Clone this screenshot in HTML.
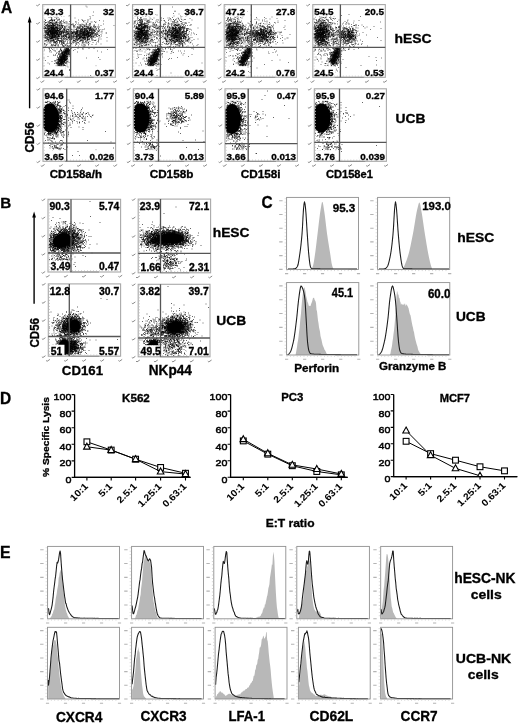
<!DOCTYPE html>
<html><head><meta charset="utf-8"><style>
html,body{margin:0;padding:0;background:#fff;width:520px;height:724px;overflow:hidden}
svg{display:block}
</style></head><body>
<svg width="520" height="724" viewBox="0 0 520 724" font-family="Liberation Sans, sans-serif" font-weight="bold">
<style>text{stroke:#000;stroke-width:0.32px}</style>
<defs><filter id="bl" x="-5%" y="-5%" width="110%" height="110%"><feGaussianBlur stdDeviation="0.3"/></filter><filter id="gb" filterUnits="userSpaceOnUse" x="0" y="0" width="520" height="724"><feGaussianBlur stdDeviation="0.35"/></filter></defs>
<rect width="520" height="724" fill="#fff"/>
<g filter="url(#gb)">
<text transform="translate(0.94 12.52) scale(0.940 1)" font-size="16.50" fill="#000">A</text>
<path d="M29.6 21V108.3" stroke="#000" stroke-width="1.4"/>
<path d="M27.7 22.4L29.6 16.2L31.5 22.4Z" fill="#000"/>
<text transform="translate(33.83 152.41) rotate(-90) scale(0.981 1)" font-size="12.03">CD56</text>
<path d="M85.5 6h1m-35 0.5h1m34 0.5h1m25.5 0.5h1m-70 0.5h1m8.5 0h1m5 0h1m-11.5 0.5h1m7 1.5h1m-9.5 1.5h1m2.5 0.5h1m1.5 0h1m37.5 0h1m-48.5 1h1m1.5 0h1m-3.5 0.5h1m5.5 0h1m-5.5 0.5h1m2 0h1m3.5 0h1m-1 0h1m3.5 0.5h1m-12 0.5h1m3.5 0h1m2 0.5h1m12.5 0h1m22 0h1m-40.5 0.5h1m0.5 0h1m1.5 0h1m10.5 0h1m-8.5 0.5h1m1.5 0h1m25 0h1m-40.5 0.5h1m5 0h1m-8.5 0.5h1m1.5 0h1m2.5 0h1m2 0h1m-7 0.5h1m22 0h1m14.5 0h1m-40 0.5h1m4 0h1m-1 0.5h1m0.5 0h1m0.5 0h1m29.5 0h1m-46 0.5h1m5.5 0h1m-0.5 0h1m2 0h1m2 0h1m0.5 0h1m21.5 0h1m-32 0.5h1m-1 0h1m-0.5 0h1m-0.5 0h1m0 0h1m0 0h1m-0.5 0h1m3 0h1m4.5 0h1m13.5 0h1m8 0h1m0 0h1m-44 0.5h1m-1 0h1m3 0h1m-0.5 0h1m-0.5 0h1m-0.5 0h1m0.5 0h1m-1 0h1m0.5 0h1m-0.5 0h1m-1 0h1m2 0h1m3 0h1m20 0h1m-0.5 0h1m1 0h1m13.5 0h1m-48.5 0.5h1m-0.5 0h1m6 0h1m1 0h1m1 0h1m39 0h1m-60 0.5h1m4 0h1m6.5 0h1m4 0h1m3 0h1m2.5 0h1m5.5 0h1m6.5 0h1m10 0h1m-51.5 0.5h1m2.5 0h1m0 0h1m-1 0h1m0.5 0h1m1 0h1m0 0h1m0.5 0h1m0 0h1m0 0h1m-1 0h1m2.5 0h1m-0.5 0h1m-1 0h1m-1 0h1m2 0h1m2.5 0h1m7.5 0h1m7.5 0h1m2.5 0h1m-0.5 0h1m2 0h1m0 0h1m3 0h1m-51.5 0.5h1m-0.5 0h1m-0.5 0h1m1.5 0h1m0.5 0h1m-1 0h1m-0.5 0h1m-0.5 0h1m3 0h1m0 0h1m-1 0h1m0.5 0h1m5.5 0h1m30 0h1m-51.5 0.5h1m-0.5 0h1m3 0h1m-0.5 0h1m-1 0h1m0 0h1m0 0h1m-0.5 0h1m0 0h1m-0.5 0h1m1 0h1m0 0h1m0 0h1m0.5 0h1m-1 0h1m0.5 0h1m-0.5 0h1m1.5 0h1m0 0h1m0 0h1m0 0h1m8.5 0h1m1 0h1m6.5 0h1m-38 0.5h1m-1 0h1m1 0h1m0.5 0h1m-1 0h1m-0.5 0h1m1 0h1m-1 0h1m4 0h1m1 0h1m23.5 0h1m2.5 0h1m-1 0h1m-46.5 0.5h1m2 0h1m3 0h1m0 0h1m0 0h1m0 0h1m-0.5 0h1m-0.5 0h1m0 0h1m-0.5 0h1m3 0h1m5 0h1m0.5 0h1m0 0h1m2.5 0h1m-1 0h1m8 0h1m7 0h1m-1 0h1m12.5 0h1m-60 0.5h1m2 0h1m-1 0h1m-0.5 0h1m1 0h1m1.5 0h1m-0.5 0h1m-1 0h1m-1 0h1m-0.5 0h1m1 0h1m0.5 0h1m-1 0h1m0 0h1m-1 0h1m1 0h1m10.5 0h1m-0.5 0h1m2.5 0h1m1.5 0h1m1 0h1m1 0h1m0 0h1m2.5 0h1m-41.5 0.5h1m-1 0h1m0 0h1m1 0h1m0 0h1m-0.5 0h1m1 0h1m1.5 0h1m1.5 0h1m1 0h1m1 0h1m-1 0h1m-0.5 0h1m9 0h1m0.5 0h1m5.5 0h1m-0.5 0h1m2 0h1m0 0h1m0 0h1m0 0h1m0.5 0h1m0 0h1m-0.5 0h1m0 0h1m2.5 0h1m-0.5 0h1m3 0h1m-53.5 0.5h1m-1 0h1m-0.5 0h1m0.5 0h1m0 0h1m-1 0h1m-1 0h1m-1 0h1m0 0h1m-0.5 0h1m0 0h1m-1 0h1m-1 0h1m-1 0h1m-0.5 0h1m-0.5 0h1m-0.5 0h1m-0.5 0h1m-1 0h1m-0.5 0h1m-1 0h1m-1 0h1m-0.5 0h1m-1 0h1m0 0h1m1 0h1m-0.5 0h1m0 0h1m-0.5 0h1m-1 0h1m0 0h1m0.5 0h1m-1 0h1m0.5 0h1m2.5 0h1m6 0h1m6 0h1m2.5 0h1m15.5 0h1m12 0h1m-71 0.5h1m0.5 0h1m0.5 0h1m-1 0h1m-0.5 0h1m-0.5 0h1m0 0h1m0.5 0h1m0 0h1m-1 0h1m-0.5 0h1m0 0h1m0 0h1m-1 0h1m0.5 0h1m-0.5 0h1m0 0h1m0.5 0h1m1.5 0h1m-0.5 0h1m-0.5 0h1m-1 0h1m-1 0h1m-0.5 0h1m1.5 0h1m3 0h1m3.5 0h1m0 0h1m-0.5 0h1m3 0h1m0 0h1m0 0h1m0 0h1m1 0h1m1 0h1m2.5 0h1m3 0h1m0 0h1m-51 0.5h1m1.5 0h1m0 0h1m-0.5 0h1m-0.5 0h1m-0.5 0h1m-0.5 0h1m-1 0h1m1 0h1m-0.5 0h1m-0.5 0h1m-1 0h1m1 0h1m0 0h1m0.5 0h1m1.5 0h1m1.5 0h1m1 0h1m0.5 0h1m3 0h1m3 0h1m2.5 0h1m1.5 0h1m1 0h1m-0.5 0h1m0.5 0h1m-0.5 0h1m-0.5 0h1m0 0h1m-0.5 0h1m0.5 0h1m2 0h1m-1 0h1m1.5 0h1m0.5 0h1m-51 0.5h1m2 0h1m-1 0h1m1 0h1m0 0h1m-1 0h1m-0.5 0h1m-0.5 0h1m0.5 0h1m-1 0h1m-1 0h1m-1 0h1m-0.5 0h1m0 0h1m0 0h1m-0.5 0h1m-0.5 0h1m0.5 0h1m0 0h1m-1 0h1m0 0h1m1 0h1m0.5 0h1m-0.5 0h1m0.5 0h1m1 0h1m0 0h1m3.5 0h1m2.5 0h1m0.5 0h1m0.5 0h1m-0.5 0h1m0.5 0h1m3.5 0h1m0 0h1m-1 0h1m-0.5 0h1m-0.5 0h1m-1 0h1m5.5 0h1m-0.5 0h1m-1 0h1m0.5 0h1m0 0h1m-0.5 0h1m0 0h1m-55.5 0.5h1m-0.5 0h1m1 0h1m-0.5 0h1m1 0h1m-0.5 0h1m-0.5 0h1m-1 0h1m-0.5 0h1m-1 0h1m-1 0h1m-0.5 0h1m-1 0h1m-0.5 0h1m-0.5 0h1m-1 0h1m-0.5 0h1m-0.5 0h1m0.5 0h1m-0.5 0h1m-1 0h1m-1 0h1m-0.5 0h1m-1 0h1m-1 0h1m0 0h1m-1 0h1m-0.5 0h1m1 0h1m0 0h1m0.5 0h1m-1 0h1m-1 0h1m1.5 0h1m3 0h1m5 0h1m2 0h1m-1 0h1m0.5 0h1m-0.5 0h1m1.5 0h1m-0.5 0h1m-1 0h1m3.5 0h1m0.5 0h1m0 0h1m-0.5 0h1m-1 0h1m-1 0h1m0 0h1m1.5 0h1m-51 0.5h1m-1 0h1m0.5 0h1m-0.5 0h1m-1 0h1m0 0h1m0.5 0h1m-1 0h1m0 0h1m-1 0h1m-0.5 0h1m0 0h1m-0.5 0h1m-1 0h1m-0.5 0h1m-0.5 0h1m-1 0h1m-1 0h1m-0.5 0h1m-0.5 0h1m0 0h1m-1 0h1m-0.5 0h1m-0.5 0h1m-1 0h1m0 0h1m-1 0h1m2.5 0h1m0 0h1m-0.5 0h1m2 0h1m0 0h1m3 0h1m3.5 0h1m2 0h1m-0.5 0h1m-0.5 0h1m0 0h1m3.5 0h1m0 0h1m0 0h1m0 0h1m1 0h1m-0.5 0h1m2.5 0h1m1 0h1m-51.5 0.5h1m0 0h1m-1 0h1m-0.5 0h1m0 0h1m0 0h1m0 0h1m-0.5 0h1m-0.5 0h1m-1 0h1m0 0h1m-0.5 0h1m-0.5 0h1m-0.5 0h1m-1 0h1m-0.5 0h1m-1 0h1m-0.5 0h1m-1 0h1m-1 0h1m-0.5 0h1m-1 0h1m-0.5 0h1m-1 0h1m-1 0h1m-0.5 0h1m-0.5 0h1m0.5 0h1m-0.5 0h1m-0.5 0h1m-1 0h1m-0.5 0h1m-0.5 0h1m-0.5 0h1m1 0h1m-0.5 0h1m1 0h1m0.5 0h1m10.5 0h1m1.5 0h1m-0.5 0h1m0.5 0h1m0 0h1m-1 0h1m-0.5 0h1m0.5 0h1m-0.5 0h1m-1 0h1m-0.5 0h1m0 0h1m-1 0h1m0 0h1m-0.5 0h1m0 0h1m-0.5 0h1m-0.5 0h1m-0.5 0h1m-0.5 0h1m-1 0h1m0 0h1m0.5 0h1m2 0h1m1.5 0h1m-54.5 0.5h1m1 0h1m-1 0h1m-0.5 0h1m-0.5 0h1m-0.5 0h1m-1 0h1m-1 0h1m-0.5 0h1m1 0h1m-1 0h1m-0.5 0h1m-1 0h1m-0.5 0h1m0 0h1m0 0h1m-1 0h1m-0.5 0h1m-0.5 0h1m-1 0h1m-1 0h1m-0.5 0h1m-0.5 0h1m0.5 0h1m-1 0h1m-0.5 0h1m0.5 0h1m-1 0h1m-0.5 0h1m-1 0h1m-0.5 0h1m-0.5 0h1m1 0h1m0 0h1m-0.5 0h1m1.5 0h1m-1 0h1m1 0h1m0 0h1m0 0h1m5 0h1m0.5 0h1m1 0h1m-0.5 0h1m-1 0h1m2 0h1m0.5 0h1m0 0h1m-0.5 0h1m0 0h1m0 0h1m-0.5 0h1m-1 0h1m0 0h1m-0.5 0h1m0 0h1m-0.5 0h1m0 0h1m2 0h1m-1 0h1m1 0h1m5 0h1m-57.5 0.5h1m-0.5 0h1m-0.5 0h1m-0.5 0h1m0 0h1m0 0h1m-1 0h1m-1 0h1m-1 0h1m-0.5 0h1m-0.5 0h1m-0.5 0h1m-0.5 0h1m-1 0h1m-0.5 0h1m-0.5 0h1m-1 0h1m0 0h1m1 0h1m1 0h1m-0.5 0h1m-0.5 0h1m2.5 0h1m-0.5 0h1m-1 0h1m1.5 0h1m0 0h1m-1 0h1m-0.5 0h1m2 0h1m0.5 0h1m1.5 0h1m0 0h1m-0.5 0h1m2.5 0h1m-0.5 0h1m-0.5 0h1m-0.5 0h1m-0.5 0h1m0 0h1m0 0h1m0.5 0h1m-0.5 0h1m1.5 0h1m0 0h1m0.5 0h1m-0.5 0h1m0 0h1m-0.5 0h1m-0.5 0h1m0 0h1m4 0h1m2 0h1m-59.5 0.5h1m1.5 0h1m-1 0h1m0.5 0h1m-0.5 0h1m-0.5 0h1m0 0h1m-0.5 0h1m-1 0h1m0 0h1m-1 0h1m-1 0h1m-0.5 0h1m-1 0h1m-0.5 0h1m-0.5 0h1m-1 0h1m0 0h1m0.5 0h1m-1 0h1m-0.5 0h1m-1 0h1m-0.5 0h1m-1 0h1m-0.5 0h1m-1 0h1m-1 0h1m0 0h1m0.5 0h1m-1 0h1m-1 0h1m1 0h1m0.5 0h1m-1 0h1m0 0h1m-0.5 0h1m-0.5 0h1m0 0h1m1.5 0h1m4.5 0h1m1 0h1m-1 0h1m1.5 0h1m1 0h1m0 0h1m-1 0h1m-1 0h1m-0.5 0h1m-1 0h1m0.5 0h1m-0.5 0h1m-1 0h1m-1 0h1m-0.5 0h1m-0.5 0h1m-1 0h1m-1 0h1m0 0h1m0 0h1m0.5 0h1m0 0h1m-1 0h1m-0.5 0h1m-1 0h1m-1 0h1m0 0h1m-1 0h1m-0.5 0h1m2.5 0h1m-0.5 0h1m2 0h1m2 0h1m-58 0.5h1m-1 0h1m0 0h1m0 0h1m-0.5 0h1m-1 0h1m0.5 0h1m-0.5 0h1m-0.5 0h1m-1 0h1m-1 0h1m-0.5 0h1m-1 0h1m-0.5 0h1m-0.5 0h1m-0.5 0h1m-1 0h1m0 0h1m-1 0h1m-0.5 0h1m-0.5 0h1m-1 0h1m-0.5 0h1m-0.5 0h1m-1 0h1m-1 0h1m-0.5 0h1m-1 0h1m-0.5 0h1m-0.5 0h1m-0.5 0h1m-1 0h1m-0.5 0h1m-1 0h1m-0.5 0h1m-1 0h1m-1 0h1m-1 0h1m-0.5 0h1m-1 0h1m-0.5 0h1m-1 0h1m2 0h1m1.5 0h1m0.5 0h1m2 0h1m0.5 0h1m6 0h1m-1 0h1m0 0h1m0 0h1m0 0h1m-1 0h1m0.5 0h1m-1 0h1m0 0h1m0.5 0h1m0.5 0h1m0 0h1m-0.5 0h1m-1 0h1m-0.5 0h1m0.5 0h1m-1 0h1m-1 0h1m-0.5 0h1m0.5 0h1m-0.5 0h1m-0.5 0h1m-0.5 0h1m-0.5 0h1m-0.5 0h1m-0.5 0h1m-1 0h1m2.5 0h1m0.5 0h1m-55 0.5h1m0 0h1m-1 0h1m-0.5 0h1m0 0h1m-0.5 0h1m-1 0h1m-0.5 0h1m-0.5 0h1m-0.5 0h1m-1 0h1m-0.5 0h1m-1 0h1m0 0h1m-0.5 0h1m-1 0h1m-0.5 0h1m-1 0h1m-0.5 0h1m-1 0h1m-1 0h1m-0.5 0h1m-1 0h1m0 0h1m-0.5 0h1m-0.5 0h1m0 0h1m-1 0h1m-0.5 0h1m-1 0h1m-0.5 0h1m-1 0h1m0 0h1m-1 0h1m-0.5 0h1m-1 0h1m0 0h1m-1 0h1m-1 0h1m1.5 0h1m-0.5 0h1m-1 0h1m0.5 0h1m1 0h1m-1 0h1m-0.5 0h1m0.5 0h1m1.5 0h1m1 0h1m-0.5 0h1m2.5 0h1m-1 0h1m-1 0h1m-0.5 0h1m-0.5 0h1m0 0h1m0.5 0h1m-1 0h1m-1 0h1m0 0h1m1.5 0h1m-1 0h1m0 0h1m-1 0h1m0 0h1m-1 0h1m-0.5 0h1m-1 0h1m-0.5 0h1m1.5 0h1m3.5 0h1m-0.5 0h1m-0.5 0h1m2 0h1m-54 0.5h1m-0.5 0h1m1.5 0h1m-1 0h1m0.5 0h1m-1 0h1m-1 0h1m-0.5 0h1m-1 0h1m-0.5 0h1m-1 0h1m-1 0h1m-1 0h1m-0.5 0h1m-1 0h1m-0.5 0h1m-1 0h1m-0.5 0h1m-0.5 0h1m-1 0h1m-1 0h1m0 0h1m-0.5 0h1m-0.5 0h1m-0.5 0h1m-0.5 0h1m-0.5 0h1m-1 0h1m-1 0h1m-0.5 0h1m-1 0h1m-0.5 0h1m0 0h1m0 0h1m0 0h1m-1 0h1m-0.5 0h1m-0.5 0h1m-0.5 0h1m-0.5 0h1m0 0h1m-0.5 0h1m0.5 0h1m0.5 0h1m-0.5 0h1m-0.5 0h1m-0.5 0h1m0.5 0h1m1 0h1m-1 0h1m1.5 0h1m0 0h1m0.5 0h1m-1 0h1m-0.5 0h1m-0.5 0h1m-1 0h1m-0.5 0h1m0 0h1m0 0h1m-0.5 0h1m-0.5 0h1m-0.5 0h1m-0.5 0h1m-1 0h1m-1 0h1m-0.5 0h1m0 0h1m-0.5 0h1m-1 0h1m-1 0h1m-0.5 0h1m-1 0h1m-0.5 0h1m0 0h1m0 0h1m-1 0h1m-1 0h1m-0.5 0h1m-0.5 0h1m0 0h1m1.5 0h1m-0.5 0h1m-0.5 0h1m0.5 0h1m0.5 0h1m1.5 0h1m-0.5 0h1m-0.5 0h1m2 0h1m-58.5 0.5h1m0 0h1m-0.5 0h1m-0.5 0h1m-1 0h1m-1 0h1m0 0h1m0 0h1m-1 0h1m-1 0h1m-0.5 0h1m0 0h1m-1 0h1m-0.5 0h1m-0.5 0h1m0 0h1m-1 0h1m-1 0h1m-1 0h1m-0.5 0h1m-1 0h1m-0.5 0h1m-1 0h1m-0.5 0h1m-1 0h1m-0.5 0h1m-1 0h1m-1 0h1m-0.5 0h1m-1 0h1m-1 0h1m-0.5 0h1m-1 0h1m-1 0h1m-0.5 0h1m-1 0h1m-0.5 0h1m-0.5 0h1m0 0h1m0 0h1m0.5 0h1m-0.5 0h1m0 0h1m-0.5 0h1m-1 0h1m-1 0h1m-0.5 0h1m0.5 0h1m-0.5 0h1m-1 0h1m0.5 0h1m-1 0h1m-1 0h1m0 0h1m0 0h1m-1 0h1m0 0h1m2 0h1m-1 0h1m0.5 0h1m-0.5 0h1m-0.5 0h1m-0.5 0h1m-0.5 0h1m0 0h1m0.5 0h1m0.5 0h1m-1 0h1m-0.5 0h1m0 0h1m-1 0h1m-0.5 0h1m0 0h1m0.5 0h1m-0.5 0h1m-1 0h1m-1 0h1m-0.5 0h1m0 0h1m-1 0h1m0 0h1m-0.5 0h1m-1 0h1m-1 0h1m-0.5 0h1m-0.5 0h1m-1 0h1m-0.5 0h1m-0.5 0h1m-0.5 0h1m-1 0h1m0.5 0h1m-0.5 0h1m0 0h1m0.5 0h1m5.5 0h1m-57 0.5h1m0 0h1m0 0h1m-0.5 0h1m-1 0h1m-0.5 0h1m-0.5 0h1m-0.5 0h1m-0.5 0h1m0 0h1m-1 0h1m-1 0h1m-0.5 0h1m-1 0h1m-0.5 0h1m-0.5 0h1m-0.5 0h1m-1 0h1m-1 0h1m-0.5 0h1m-1 0h1m0 0h1m-1 0h1m-0.5 0h1m-1 0h1m0 0h1m-1 0h1m-1 0h1m-0.5 0h1m-1 0h1m-0.5 0h1m-0.5 0h1m-0.5 0h1m-1 0h1m-1 0h1m-1 0h1m0.5 0h1m-0.5 0h1m-1 0h1m-0.5 0h1m-1 0h1m0.5 0h1m0.5 0h1m-0.5 0h1m-1 0h1m-0.5 0h1m0 0h1m0 0h1m0 0h1m-1 0h1m0.5 0h1m1 0h1m0.5 0h1m-0.5 0h1m-1 0h1m-1 0h1m0 0h1m-0.5 0h1m0 0h1m-1 0h1m0.5 0h1m-0.5 0h1m-0.5 0h1m-0.5 0h1m0 0h1m0.5 0h1m-0.5 0h1m0 0h1m0 0h1m-1 0h1m-1 0h1m-1 0h1m-1 0h1m-0.5 0h1m-1 0h1m-0.5 0h1m0.5 0h1m-0.5 0h1m0 0h1m-0.5 0h1m-0.5 0h1m-0.5 0h1m-1 0h1m-0.5 0h1m-0.5 0h1m0 0h1m-0.5 0h1m-1 0h1m-0.5 0h1m0.5 0h1m-0.5 0h1m2 0h1m0 0h1m-53 0.5h1m-0.5 0h1m-0.5 0h1m1 0h1m-1 0h1m-1 0h1m-0.5 0h1m0.5 0h1m-1 0h1m-1 0h1m-1 0h1m-0.5 0h1m-1 0h1m-0.5 0h1m-0.5 0h1m-1 0h1m-1 0h1m-0.5 0h1m-1 0h1m-1 0h1m-0.5 0h1m-1 0h1m-0.5 0h1m-1 0h1m-0.5 0h1m-1 0h1m-1 0h1m-1 0h1m-0.5 0h1m-1 0h1m0 0h1m-0.5 0h1m-0.5 0h1m-0.5 0h1m-1 0h1m-0.5 0h1m-1 0h1m-0.5 0h1m-1 0h1m0 0h1m-1 0h1m0 0h1m0.5 0h1m-1 0h1m-1 0h1m-1 0h1m-0.5 0h1m-1 0h1m0.5 0h1m-1 0h1m1 0h1m1.5 0h1m0.5 0h1m-0.5 0h1m0 0h1m-1 0h1m-0.5 0h1m0 0h1m0 0h1m0.5 0h1m0 0h1m-1 0h1m-1 0h1m-1 0h1m-0.5 0h1m-0.5 0h1m-1 0h1m-1 0h1m-0.5 0h1m-1 0h1m0.5 0h1m-0.5 0h1m-0.5 0h1m-0.5 0h1m-0.5 0h1m0 0h1m-1 0h1m0.5 0h1m-1 0h1m-1 0h1m-0.5 0h1m-1 0h1m-0.5 0h1m-1 0h1m-1 0h1m-1 0h1m-0.5 0h1m-0.5 0h1m0 0h1m0 0h1m-1 0h1m-0.5 0h1m-0.5 0h1m-1 0h1m-0.5 0h1m-1 0h1m-0.5 0h1m-1 0h1m0 0h1m-1 0h1m-0.5 0h1m0 0h1m-0.5 0h1m-1 0h1m-1 0h1m-0.5 0h1m-0.5 0h1m-0.5 0h1m-1 0h1m-0.5 0h1m3.5 0h1m2 0h1m3 0h1m-0.5 0h1m-61.5 0.5h1m0 0h1m-0.5 0h1m-1 0h1m0 0h1m-1 0h1m1 0h1m-0.5 0h1m-1 0h1m-0.5 0h1m-1 0h1m-0.5 0h1m-1 0h1m-1 0h1m-0.5 0h1m-1 0h1m-1 0h1m-0.5 0h1m-1 0h1m-1 0h1m-0.5 0h1m-1 0h1m-1 0h1m-0.5 0h1m-1 0h1m-0.5 0h1m-1 0h1m-0.5 0h1m-0.5 0h1m-1 0h1m-0.5 0h1m-0.5 0h1m-1 0h1m-0.5 0h1m-1 0h1m-0.5 0h1m0.5 0h1m-0.5 0h1m0 0h1m-0.5 0h1m1 0h1m2 0h1m0 0h1m-1 0h1m-0.5 0h1m0 0h1m-1 0h1m-1 0h1m1 0h1m0 0h1m-0.5 0h1m-0.5 0h1m-1 0h1m-0.5 0h1m1 0h1m-0.5 0h1m-1 0h1m-0.5 0h1m-1 0h1m-0.5 0h1m0 0h1m1 0h1m0 0h1m-0.5 0h1m-1 0h1m-0.5 0h1m-0.5 0h1m-1 0h1m-0.5 0h1m0 0h1m-1 0h1m0.5 0h1m-0.5 0h1m-0.5 0h1m-0.5 0h1m-0.5 0h1m-1 0h1m-1 0h1m-1 0h1m-1 0h1m-0.5 0h1m-0.5 0h1m-0.5 0h1m-1 0h1m0 0h1m1 0h1m-1 0h1m-0.5 0h1m0.5 0h1m1 0h1m1 0h1m-54.5 0.5h1m2 0h1m-0.5 0h1m0 0h1m-1 0h1m-0.5 0h1m-0.5 0h1m-0.5 0h1m-0.5 0h1m-1 0h1m0 0h1m-0.5 0h1m-1 0h1m-0.5 0h1m0 0h1m-1 0h1m-1 0h1m-1 0h1m0.5 0h1m-0.5 0h1m-0.5 0h1m-0.5 0h1m-1 0h1m0 0h1m-1 0h1m-0.5 0h1m-1 0h1m0 0h1m-0.5 0h1m0.5 0h1m-1 0h1m-0.5 0h1m-1 0h1m1 0h1m-0.5 0h1m2.5 0h1m0.5 0h1m-0.5 0h1m0 0h1m-0.5 0h1m-0.5 0h1m1 0h1m-0.5 0h1m0.5 0h1m0.5 0h1m0 0h1m-1 0h1m-0.5 0h1m0 0h1m-0.5 0h1m-0.5 0h1m-1 0h1m-1 0h1m0 0h1m-0.5 0h1m-0.5 0h1m-0.5 0h1m-0.5 0h1m-0.5 0h1m-1 0h1m-1 0h1m0 0h1m0 0h1m0 0h1m-1 0h1m-1 0h1m-0.5 0h1m-0.5 0h1m-1 0h1m-0.5 0h1m-1 0h1m1 0h1m-0.5 0h1m-1 0h1m0 0h1m-0.5 0h1m-1 0h1m1 0h1m0 0h1m-0.5 0h1m-0.5 0h1m-1 0h1m-50.5 0.5h1m-1 0h1m-1 0h1m-1 0h1m-0.5 0h1m0 0h1m-1 0h1m-0.5 0h1m0 0h1m0 0h1m-1 0h1m-0.5 0h1m0 0h1m-1 0h1m-0.5 0h1m-1 0h1m0 0h1m-0.5 0h1m-1 0h1m1 0h1m-1 0h1m-0.5 0h1m-1 0h1m-0.5 0h1m-0.5 0h1m-1 0h1m-0.5 0h1m-1 0h1m-0.5 0h1m-0.5 0h1m-0.5 0h1m-0.5 0h1m-1 0h1m-0.5 0h1m2.5 0h1m0.5 0h1m-1 0h1m-1 0h1m-0.5 0h1m0 0h1m-0.5 0h1m0.5 0h1m1 0h1m1.5 0h1m0 0h1m-0.5 0h1m-0.5 0h1m0.5 0h1m0 0h1m-0.5 0h1m-0.5 0h1m-0.5 0h1m-1 0h1m-1 0h1m0.5 0h1m0 0h1m0 0h1m-1 0h1m-0.5 0h1m-1 0h1m-0.5 0h1m-1 0h1m-0.5 0h1m-0.5 0h1m-1 0h1m0 0h1m-1 0h1m-1 0h1m-0.5 0h1m-0.5 0h1m-1 0h1m-0.5 0h1m-1 0h1m-0.5 0h1m-0.5 0h1m0.5 0h1m-1 0h1m-1 0h1m0.5 0h1m-1 0h1m1 0h1m0.5 0h1m1 0h1m-0.5 0h1m2 0h1m-57 0.5h1m-1 0h1m-0.5 0h1m-1 0h1m1 0h1m-0.5 0h1m-1 0h1m0.5 0h1m-0.5 0h1m-1 0h1m-1 0h1m0.5 0h1m-1 0h1m-1 0h1m-1 0h1m-0.5 0h1m-1 0h1m-0.5 0h1m-1 0h1m0.5 0h1m-1 0h1m-1 0h1m-0.5 0h1m-1 0h1m-0.5 0h1m-1 0h1m-1 0h1m0 0h1m-1 0h1m0 0h1m0.5 0h1m0 0h1m1.5 0h1m0.5 0h1m1.5 0h1m-0.5 0h1m0.5 0h1m-0.5 0h1m-0.5 0h1m0.5 0h1m1 0h1m-0.5 0h1m0 0h1m1 0h1m-0.5 0h1m-1 0h1m-1 0h1m-0.5 0h1m-0.5 0h1m-0.5 0h1m-1 0h1m-0.5 0h1m-1 0h1m2.5 0h1m-0.5 0h1m-1 0h1m-1 0h1m-0.5 0h1m0 0h1m-1 0h1m-0.5 0h1m-0.5 0h1m-1 0h1m-0.5 0h1m0 0h1m-1 0h1m-1 0h1m-1 0h1m0.5 0h1m-0.5 0h1m-0.5 0h1m-1 0h1m-1 0h1m-0.5 0h1m0.5 0h1m-1 0h1m-1 0h1m2 0h1m1.5 0h1m-53.5 0.5h1m0.5 0h1m1.5 0h1m-0.5 0h1m0 0h1m-0.5 0h1m1 0h1m-0.5 0h1m-1 0h1m-1 0h1m-0.5 0h1m-1 0h1m-1 0h1m0 0h1m-0.5 0h1m0 0h1m-1 0h1m-0.5 0h1m0.5 0h1m-0.5 0h1m-0.5 0h1m-1 0h1m-1 0h1m0.5 0h1m1 0h1m1 0h1m-0.5 0h1m-0.5 0h1m-0.5 0h1m3.5 0h1m0 0h1m-1 0h1m-0.5 0h1m1.5 0h1m1 0h1m0 0h1m0 0h1m-0.5 0h1m0 0h1m-1 0h1m0 0h1m0.5 0h1m0 0h1m-1 0h1m-1 0h1m0 0h1m-1 0h1m-1 0h1m-0.5 0h1m-1 0h1m-1 0h1m-0.5 0h1m-1 0h1m0 0h1m-1 0h1m-1 0h1m1 0h1m-1 0h1m-0.5 0h1m-1 0h1m0.5 0h1m-1 0h1m-1 0h1m-1 0h1m0 0h1m3 0h1m-1 0h1m0.5 0h1m1 0h1m0 0h1m-1 0h1m-56.5 0.5h1m0.5 0h1m0.5 0h1m0 0h1m0 0h1m-0.5 0h1m-1 0h1m-0.5 0h1m-0.5 0h1m-1 0h1m-0.5 0h1m0.5 0h1m-1 0h1m-1 0h1m-1 0h1m-0.5 0h1m-1 0h1m-0.5 0h1m-0.5 0h1m-0.5 0h1m0 0h1m-1 0h1m-1 0h1m-0.5 0h1m-0.5 0h1m-1 0h1m1 0h1m-1 0h1m-1 0h1m-0.5 0h1m-1 0h1m0 0h1m-1 0h1m0.5 0h1m-1 0h1m-0.5 0h1m0 0h1m-0.5 0h1m-1 0h1m-1 0h1m0.5 0h1m-1 0h1m-0.5 0h1m-0.5 0h1m-0.5 0h1m-1 0h1m1.5 0h1m-0.5 0h1m-1 0h1m0 0h1m-1 0h1m0 0h1m0.5 0h1m-0.5 0h1m-1 0h1m0 0h1m1.5 0h1m-1 0h1m-0.5 0h1m0 0h1m0 0h1m-0.5 0h1m-0.5 0h1m-1 0h1m-0.5 0h1m-1 0h1m-1 0h1m-0.5 0h1m-1 0h1m0 0h1m0.5 0h1m0.5 0h1m0 0h1m-1 0h1m-0.5 0h1m-1 0h1m-0.5 0h1m-0.5 0h1m-1 0h1m0 0h1m-0.5 0h1m-1 0h1m-0.5 0h1m-1 0h1m-1 0h1m-0.5 0h1m0 0h1m0 0h1m-1 0h1m-0.5 0h1m-0.5 0h1m-0.5 0h1m6.5 0h1m-57.5 0.5h1m1 0h1m-1 0h1m2 0h1m-1 0h1m0 0h1m-0.5 0h1m-0.5 0h1m-1 0h1m-0.5 0h1m-1 0h1m-0.5 0h1m-1 0h1m0 0h1m0 0h1m-1 0h1m-1 0h1m-0.5 0h1m0.5 0h1m-1 0h1m-0.5 0h1m-0.5 0h1m-0.5 0h1m-1 0h1m-0.5 0h1m-1 0h1m-0.5 0h1m1.5 0h1m0 0h1m-1 0h1m-0.5 0h1m0.5 0h1m-0.5 0h1m0 0h1m-0.5 0h1m0.5 0h1m0 0h1m-0.5 0h1m0.5 0h1m-0.5 0h1m0 0h1m-1 0h1m0 0h1m0 0h1m-0.5 0h1m-0.5 0h1m-0.5 0h1m-1 0h1m-0.5 0h1m-1 0h1m0 0h1m-0.5 0h1m1.5 0h1m-0.5 0h1m1 0h1m-0.5 0h1m-0.5 0h1m-1 0h1m0.5 0h1m0.5 0h1m-0.5 0h1m-0.5 0h1m-1 0h1m-1 0h1m-0.5 0h1m0 0h1m0.5 0h1m-1 0h1m-0.5 0h1m0.5 0h1m2 0h1m0 0h1m-53.5 0.5h1m0.5 0h1m1.5 0h1m-1 0h1m0 0h1m0 0h1m-0.5 0h1m-0.5 0h1m-1 0h1m-0.5 0h1m-0.5 0h1m-1 0h1m0 0h1m-1 0h1m-1 0h1m-0.5 0h1m-1 0h1m0 0h1m-0.5 0h1m1 0h1m0 0h1m-0.5 0h1m1 0h1m-1 0h1m2.5 0h1m3.5 0h1m1.5 0h1m1.5 0h1m0.5 0h1m-0.5 0h1m-1 0h1m0 0h1m1 0h1m-1 0h1m-1 0h1m-1 0h1m-1 0h1m-0.5 0h1m-1 0h1m-0.5 0h1m-1 0h1m-0.5 0h1m-0.5 0h1m-0.5 0h1m-1 0h1m-1 0h1m-1 0h1m0 0h1m0 0h1m0 0h1m-0.5 0h1m0.5 0h1m-0.5 0h1m-1 0h1m-0.5 0h1m-0.5 0h1m-1 0h1m-0.5 0h1m-1 0h1m1.5 0h1m1 0h1m0.5 0h1m3 0h1m0 0h1m-57 0.5h1m0 0h1m-0.5 0h1m-0.5 0h1m0 0h1m-0.5 0h1m-0.5 0h1m0 0h1m0 0h1m-1 0h1m0 0h1m-0.5 0h1m-1 0h1m-0.5 0h1m-0.5 0h1m-0.5 0h1m-1 0h1m-1 0h1m-1 0h1m0 0h1m-1 0h1m-0.5 0h1m-0.5 0h1m0 0h1m-1 0h1m-1 0h1m-0.5 0h1m0 0h1m-1 0h1m4 0h1m1 0h1m1 0h1m-0.5 0h1m0.5 0h1m-1 0h1m-0.5 0h1m-0.5 0h1m1 0h1m0.5 0h1m-1 0h1m2 0h1m-0.5 0h1m-0.5 0h1m0 0h1m0.5 0h1m-0.5 0h1m-1 0h1m-1 0h1m-0.5 0h1m0.5 0h1m-0.5 0h1m-0.5 0h1m-0.5 0h1m-0.5 0h1m-1 0h1m-0.5 0h1m-1 0h1m-1 0h1m-0.5 0h1m-0.5 0h1m0.5 0h1m-0.5 0h1m-1 0h1m-1 0h1m2 0h1m-0.5 0h1m1 0h1m1 0h1m11 0h1m-62 0.5h1m1.5 0h1m-0.5 0h1m0 0h1m0.5 0h1m-1 0h1m-0.5 0h1m-0.5 0h1m-1 0h1m-0.5 0h1m0 0h1m0 0h1m2.5 0h1m1 0h1m0 0h1m1 0h1m-0.5 0h1m1.5 0h1m0.5 0h1m-1 0h1m-0.5 0h1m-0.5 0h1m-1 0h1m-0.5 0h1m0 0h1m-1 0h1m0 0h1m-0.5 0h1m0.5 0h1m-1 0h1m3 0h1m0.5 0h1m-0.5 0h1m0 0h1m0 0h1m0 0h1m-1 0h1m-1 0h1m-0.5 0h1m-0.5 0h1m-1 0h1m-0.5 0h1m-1 0h1m-1 0h1m-0.5 0h1m-0.5 0h1m-0.5 0h1m-0.5 0h1m-0.5 0h1m0 0h1m2.5 0h1m0 0h1m-1 0h1m-48 0.5h1m0 0h1m0 0h1m-1 0h1m-0.5 0h1m1.5 0h1m-1 0h1m-0.5 0h1m-1 0h1m-0.5 0h1m-1 0h1m-1 0h1m-0.5 0h1m-1 0h1m-1 0h1m-0.5 0h1m-0.5 0h1m-0.5 0h1m0 0h1m0.5 0h1m0.5 0h1m-1 0h1m0 0h1m-1 0h1m-0.5 0h1m0 0h1m0 0h1m0 0h1m1 0h1m0.5 0h1m-0.5 0h1m5.5 0h1m-1 0h1m1.5 0h1m0.5 0h1m-0.5 0h1m-0.5 0h1m0 0h1m-0.5 0h1m-0.5 0h1m-0.5 0h1m-1 0h1m0 0h1m2 0h1m0.5 0h1m-0.5 0h1m1 0h1m-0.5 0h1m-1 0h1m0.5 0h1m-41 0.5h1m0 0h1m-0.5 0h1m-1 0h1m-0.5 0h1m-0.5 0h1m2.5 0h1m-0.5 0h1m0 0h1m-1 0h1m-0.5 0h1m-0.5 0h1m-0.5 0h1m2 0h1m-1 0h1m0 0h1m0 0h1m0 0h1m1 0h1m0.5 0h1m0.5 0h1m0 0h1m0 0h1m1.5 0h1m0.5 0h1m-0.5 0h1m1.5 0h1m-1 0h1m-1 0h1m-1 0h1m-0.5 0h1m0 0h1m1 0h1m-1 0h1m0.5 0h1m-0.5 0h1m-1 0h1m0.5 0h1m3 0h1m1 0h1m-0.5 0h1m-1 0h1m5.5 0h1m-0.5 0h1m1 0h1m-54.5 0.5h1m-0.5 0h1m-1 0h1m-0.5 0h1m3.5 0h1m-0.5 0h1m-0.5 0h1m0.5 0h1m-0.5 0h1m0.5 0h1m3.5 0h1m2 0h1m0.5 0h1m0 0h1m1 0h1m1 0h1m-0.5 0h1m3 0h1m0 0h1m-1 0h1m-0.5 0h1m1.5 0h1m1 0h1m1.5 0h1m-0.5 0h1m0 0h1m0.5 0h1m-0.5 0h1m-1 0h1m-0.5 0h1m0 0h1m2.5 0h1m-47.5 0.5h1m-0.5 0h1m0 0h1m-0.5 0h1m-0.5 0h1m0 0h1m-1 0h1m2 0h1m-1 0h1m0 0h1m-0.5 0h1m3 0h1m4 0h1m-0.5 0h1m1 0h1m6.5 0h1m-0.5 0h1m0.5 0h1m-0.5 0h1m-1 0h1m0 0h1m3 0h1m-1 0h1m0 0h1m0 0h1m1 0h1m-0.5 0h1m1 0h1m-1 0h1m-1 0h1m0.5 0h1m6 0h1m-51 0.5h1m-1 0h1m1.5 0h1m1.5 0h1m-1 0h1m0 0h1m0 0h1m-1 0h1m-1 0h1m-0.5 0h1m-1 0h1m3.5 0h1m-1 0h1m-1 0h1m-0.5 0h1m0 0h1m0 0h1m-0.5 0h1m-0.5 0h1m0 0h1m5.5 0h1m3.5 0h1m-0.5 0h1m-1 0h1m-0.5 0h1m-0.5 0h1m1 0h1m-0.5 0h1m-0.5 0h1m1 0h1m-0.5 0h1m-0.5 0h1m-0.5 0h1m0 0h1m0 0h1m2.5 0h1m4 0h1m0 0h1m0.5 0h1m-0.5 0h1m-0.5 0h1m2 0h1m-54.5 0.5h1m-1 0h1m-1 0h1m1 0h1m2 0h1m0 0h1m-0.5 0h1m-0.5 0h1m1.5 0h1m1 0h1m-0.5 0h1m-1 0h1m1.5 0h1m-1 0h1m-0.5 0h1m0 0h1m1 0h1m-1 0h1m1.5 0h1m1 0h1m4.5 0h1m-0.5 0h1m-0.5 0h1m5.5 0h1m0.5 0h1m3.5 0h1m19.5 0h1m-59.5 0.5h1m1 0h1m1.5 0h1m0 0h1m0 0h1m0 0h1m-0.5 0h1m-0.5 0h1m2.5 0h1m0 0h1m-1 0h1m0.5 0h1m0 0h1m0 0h1m9 0h1m-0.5 0h1m3 0h1m-0.5 0h1m2.5 0h1m1 0h1m-0.5 0h1m1 0h1m1 0h1m7 0h1m-52 0.5h1m1.5 0h1m0.5 0h1m1.5 0h1m0 0h1m-1 0h1m0 0h1m0 0h1m2 0h1m-1 0h1m0.5 0h1m-0.5 0h1m1 0h1m3 0h1m1 0h1m0 0h1m1 0h1m1.5 0h1m0.5 0h1m-0.5 0h1m4.5 0h1m-1 0h1m15 0h1m-45.5 0.5h1m-1 0h1m0 0h1m-0.5 0h1m-1 0h1m1 0h1m4 0h1m0 0h1m8.5 0h1m0 0h1m2.5 0h1m0 0h1m3.5 0h1m0 0h1m1 0h1m1.5 0h1m-1 0h1m3.5 0h1m-46 0.5h1m1 0h1m-1 0h1m0 0h1m3 0h1m1 0h1m1.5 0h1m-1 0h1m1 0h1m-1 0h1m-0.5 0h1m0 0h1m0 0h1m-0.5 0h1m2 0h1m1.5 0h1m2.5 0h1m1.5 0h1m1.5 0h1m2.5 0h1m2 0h1m0.5 0h1m0 0h1m8 0h1m-53 0.5h1m-0.5 0h1m10 0h1m0 0h1m5.5 0h1m-1 0h1m2.5 0h1m1 0h1m1.5 0h1m3.5 0h1m6 0h1m5 0h1m-36.5 0.5h1m0.5 0h1m0 0h1m4.5 0h1m0 0h1m1 0h1m1.5 0h1m4 0h1m3.5 0h1m-0.5 0h1m1.5 0h1m20.5 0h1m-57.5 0.5h1m0.5 0h1m0 0h1m3.5 0h1m-0.5 0h1m3 0h1m1 0h1m2 0h1m0.5 0h1m12.5 0h1m7 0h1m3.5 0h1m2.5 0h1m3 0h1m-44 0.5h1m-0.5 0h1m1.5 0h1m1.5 0h1m6 0h1m-1 0h1m0 0h1m14 0h1m0.5 0h1m0.5 0h1m0 0h1m2 0h1m-43 0.5h1m4 0h1m0 0h1m1 0h1m-0.5 0h1m-0.5 0h1m1.5 0h1m3.5 0h1m0 0h1m0.5 0h1m1.5 0h1m-0.5 0h1m1 0h1m4.5 0h1m-31.5 0.5h1m5 0h1m3.5 0h1m1.5 0h1m3.5 0h1m6 0h1m8 0h1m3.5 0h1m1 0h1m-22.5 0.5h1m-0.5 0h1m-1 0h1m2 0h1m0 0h1m0 0h1m14 0h1m-39.5 0.5h1m6 0h1m5 0h1m9 0h1m-5 0.5h1m1.5 0h1m0 0h1m3.5 0h1m13 0h1m-27 0.5h1m-0.5 0h1m2.5 0h1m1 0h1m0.5 0h1m-1 0h1m-1 0h1m-1 0h1m-0.5 0h1m1.5 0h1m-0.5 0h1m10 0h1m-34.5 0.5h1m1.5 0h1m12.5 0h1m0 0h1m-1 0h1m-0.5 0h1m-0.5 0h1m-0.5 0h1m0 0h1m8.5 0h1m10 0h1m4 0h1m-45.5 0.5h1m-1 0h1m3.5 0h1m2 0h1m2.5 0h1m5 0h1m-0.5 0h1m0 0h1m-1 0h1m-0.5 0h1m0.5 0h1m11.5 0h1m0 0h1m-32 0.5h1m7 0h1m-1 0h1m3 0h1m0.5 0h1m0 0h1m-1 0h1m0 0h1m-1 0h1m-0.5 0h1m-0.5 0h1m5 0h1m31.5 0h1m-64 0.5h1m16 0h1m1.5 0h1m-1 0h1m0 0h1m-0.5 0h1m-1 0h1m-1 0h1m-1 0h1m-0.5 0h1m-0.5 0h1m-1 0h1m-0.5 0h1m-1 0h1m-1 0h1m-0.5 0h1m-1 0h1m-1 0h1m-0.5 0h1m-0.5 0h1m-1 0h1m0 0h1m-1 0h1m-0.5 0h1m-20.5 0.5h1m2.5 0h1m5 0h1m0.5 0h1m-1 0h1m2.5 0h1m-0.5 0h1m-1 0h1m0 0h1m-0.5 0h1m-1 0h1m-1 0h1m-0.5 0h1m-0.5 0h1m-1 0h1m-1 0h1m0 0h1m-1 0h1m-0.5 0h1m0 0h1m2 0h1m-25 0.5h1m4.5 0h1m-0.5 0h1m3.5 0h1m0 0h1m-0.5 0h1m0.5 0h1m-0.5 0h1m-0.5 0h1m-0.5 0h1m0 0h1m-1 0h1m-0.5 0h1m-0.5 0h1m-1 0h1m-1 0h1m-0.5 0h1m-0.5 0h1m-1 0h1m-0.5 0h1m-1 0h1m-1 0h1m-1 0h1m-0.5 0h1m0 0h1m27 0h1m-40 0.5h1m0 0h1m1.5 0h1m0.5 0h1m0 0h1m-0.5 0h1m-1 0h1m-0.5 0h1m-1 0h1m-0.5 0h1m-0.5 0h1m-1 0h1m-0.5 0h1m-0.5 0h1m-1 0h1m-0.5 0h1m-1 0h1m-1 0h1m0.5 0h1m-20.5 0.5h1m0.5 0h1m7 0h1m1.5 0h1m-0.5 0h1m-0.5 0h1m-0.5 0h1m-0.5 0h1m-0.5 0h1m-1 0h1m-0.5 0h1m-1 0h1m-0.5 0h1m-1 0h1m-1 0h1m-1 0h1m-0.5 0h1m-0.5 0h1m-1 0h1m-1 0h1m-0.5 0h1m0 0h1m-0.5 0h1m-1 0h1m-1 0h1m-1 0h1m-0.5 0h1m-0.5 0h1m7 0h1m23 0h1m-45.5 0.5h1m4 0h1m-1 0h1m-0.5 0h1m-0.5 0h1m-1 0h1m0 0h1m-0.5 0h1m-0.5 0h1m-0.5 0h1m-1 0h1m-0.5 0h1m-1 0h1m-0.5 0h1m-0.5 0h1m-1 0h1m-1 0h1m-0.5 0h1m0.5 0h1m0 0h1m-12 0.5h1m-1 0h1m1.5 0h1m-0.5 0h1m0 0h1m-1 0h1m-1 0h1m-0.5 0h1m0 0h1m-1 0h1m-1 0h1m-0.5 0h1m-1 0h1m-1 0h1m-1 0h1m-0.5 0h1m-1 0h1m0 0h1m-0.5 0h1m-1 0h1m0 0h1m0 0h1m-1 0h1m-13.5 0.5h1m1.5 0h1m0.5 0h1m0 0h1m-0.5 0h1m-1 0h1m-0.5 0h1m-1 0h1m-1 0h1m-0.5 0h1m0.5 0h1m-1 0h1m-0.5 0h1m-1 0h1m-0.5 0h1m0 0h1m-1 0h1m-0.5 0h1m0 0h1m-1 0h1m-0.5 0h1m-1 0h1m0 0h1m-12 0.5h1m2 0h1m1 0h1m-1 0h1m-0.5 0h1m0 0h1m0 0h1m-0.5 0h1m-1 0h1m-1 0h1m-0.5 0h1m-1 0h1m-1 0h1m0 0h1m1 0h1m-0.5 0h1m-12.5 0.5h1m-1 0h1m0.5 0h1m-0.5 0h1m0 0h1m-0.5 0h1m-1 0h1m-0.5 0h1m-1 0h1m-0.5 0h1m-1 0h1m-1 0h1m-0.5 0h1m-1 0h1m-1 0h1m-1 0h1m-0.5 0h1m1 0h1m0 0h1m0 0h1m-0.5 0h1m-0.5 0h1m-17 0.5h1m1 0h1m-1 0h1m3 0h1m0.5 0h1m0 0h1m-0.5 0h1m-1 0h1m-0.5 0h1m-1 0h1m-0.5 0h1m-1 0h1m-1 0h1m-1 0h1m-0.5 0h1m-1 0h1m-0.5 0h1m-1 0h1m-1 0h1m-1 0h1m-0.5 0h1m-1 0h1m-1 0h1m-1 0h1m-0.5 0h1m-1 0h1m-0.5 0h1m-1 0h1m-1 0h1m0 0h1m-0.5 0h1m-0.5 0h1m-1 0h1m0.5 0h1m-16.5 0.5h1m5 0h1m0.5 0h1m-0.5 0h1m-0.5 0h1m-1 0h1m-1 0h1m-0.5 0h1m-0.5 0h1m-1 0h1m-1 0h1m-1 0h1m-0.5 0h1m-1 0h1m-1 0h1m-1 0h1m-1 0h1m-0.5 0h1m-0.5 0h1m-1 0h1m-0.5 0h1m-1 0h1m-1 0h1m-0.5 0h1m-1 0h1m-1 0h1m3.5 0h1m-14 0.5h1m-1 0h1m1.5 0h1m-1 0h1m-0.5 0h1m-1 0h1m-0.5 0h1m1 0h1m-1 0h1m-0.5 0h1m-1 0h1m-1 0h1m-0.5 0h1m-1 0h1m-0.5 0h1m-1 0h1m-0.5 0h1m-1 0h1m-1 0h1m-1 0h1m-1 0h1m-1 0h1m0 0h1m-1 0h1m0.5 0h1m0.5 0h1m-22 0.5h1m10.5 0h1m-0.5 0h1m-1 0h1m0 0h1m-0.5 0h1m-0.5 0h1m-1 0h1m-1 0h1m-0.5 0h1m-0.5 0h1m-1 0h1m-1 0h1m-1 0h1m-1 0h1m-0.5 0h1m-1 0h1m-1 0h1m-0.5 0h1m-1 0h1m-1 0h1m-0.5 0h1m-1 0h1m-1 0h1m0.5 0h1m-1 0h1m-1 0h1m-1 0h1m-1 0h1m-0.5 0h1m-0.5 0h1m-0.5 0h1m-1 0h1m1.5 0h1m-11.5 0.5h1m0 0h1m0 0h1m-1 0h1m-0.5 0h1m-1 0h1m-0.5 0h1m-0.5 0h1m-1 0h1m-1 0h1m-1 0h1m-1 0h1m-1 0h1m-1 0h1m-0.5 0h1m-1 0h1m-1 0h1m-0.5 0h1m-1 0h1m-1 0h1m-0.5 0h1m-1 0h1m-1 0h1m-1 0h1m-1 0h1m0 0h1m0 0h1m-0.5 0h1m0 0h1m-11.5 0.5h1m0 0h1m-0.5 0h1m-0.5 0h1m0 0h1m-1 0h1m-1 0h1m-0.5 0h1m-0.5 0h1m-1 0h1m-1 0h1m-0.5 0h1m-1 0h1m-0.5 0h1m-1 0h1m-0.5 0h1m-0.5 0h1m-1 0h1m-1 0h1m-0.5 0h1m-1 0h1m-1 0h1m-0.5 0h1m-1 0h1m-1 0h1m-1 0h1m-1 0h1m-0.5 0h1m-0.5 0h1m-0.5 0h1m-0.5 0h1m-0.5 0h1m-1 0h1m30.5 0h1m-55.5 0.5h1m16 0h1m-1 0h1m-1 0h1m-1 0h1m-0.5 0h1m-1 0h1m-0.5 0h1m-1 0h1m-1 0h1m-0.5 0h1m-0.5 0h1m-1 0h1m-1 0h1m-1 0h1m-0.5 0h1m-1 0h1m-1 0h1m-1 0h1m-0.5 0h1m-1 0h1m-0.5 0h1m-1 0h1m-0.5 0h1m-1 0h1m-1 0h1m-0.5 0h1m-1 0h1m-0.5 0h1m19.5 0h1m-29 0.5h1m-0.5 0h1m-1 0h1m-1 0h1m0 0h1m-0.5 0h1m0 0h1m-1 0h1m-1 0h1m-1 0h1m-0.5 0h1m-1 0h1m-0.5 0h1m-0.5 0h1m-1 0h1m-1 0h1m-0.5 0h1m-1 0h1m-1 0h1m-0.5 0h1m-0.5 0h1m-1 0h1m-1 0h1m-0.5 0h1m-1 0h1m0.5 0h1m-1 0h1m0 0h1m-1 0h1m-11.5 0.5h1m0.5 0h1m0 0h1m0 0h1m-1 0h1m-0.5 0h1m-1 0h1m-1 0h1m-0.5 0h1m-1 0h1m-1 0h1m-1 0h1m-1 0h1m-0.5 0h1m-1 0h1m-1 0h1m0 0h1m-1 0h1m-0.5 0h1m-1 0h1m-0.5 0h1m-1 0h1m-1 0h1m-1 0h1m-0.5 0h1m-1 0h1m0 0h1m-1 0h1m-0.5 0h1m-1 0h1m0.5 0h1m-11 0.5h1m-0.5 0h1m-0.5 0h1m-1 0h1m-0.5 0h1m-1 0h1m-0.5 0h1m-0.5 0h1m-1 0h1m-0.5 0h1m-1 0h1m-1 0h1m-0.5 0h1m-1 0h1m-0.5 0h1m-1 0h1m-1 0h1m-1 0h1m-1 0h1m-1 0h1m-0.5 0h1m-1 0h1m-0.5 0h1m-1 0h1m-0.5 0h1m-1 0h1m-1 0h1m-1 0h1m-1 0h1m-0.5 0h1m-0.5 0h1m-1 0h1m-0.5 0h1m-1 0h1m-0.5 0h1m-1 0h1m-0.5 0h1m-1 0h1m-0.5 0h1m-1 0h1m-0.5 0h1m-1 0h1m-1 0h1m-0.5 0h1m32 0h1m-44.5 0.5h1m1 0h1m-0.5 0h1m-1 0h1m-0.5 0h1m-0.5 0h1m-1 0h1m-0.5 0h1m-0.5 0h1m0 0h1m-0.5 0h1m-1 0h1m-1 0h1m-1 0h1m0.5 0h1m-0.5 0h1m-1 0h1m-1 0h1m-1 0h1m-1 0h1m-0.5 0h1m-1 0h1m-0.5 0h1m-0.5 0h1m1 0h1m-23.5 0.5h1m8.5 0h1m2 0h1m0 0h1m-1 0h1m-0.5 0h1m-1 0h1m-1 0h1m-1 0h1m-1 0h1m-0.5 0h1m-1 0h1m-0.5 0h1m-0.5 0h1m-1 0h1m-1 0h1m-0.5 0h1m-1 0h1m-1 0h1m-1 0h1m-0.5 0h1m-1 0h1m-1 0h1m-1 0h1m-0.5 0h1m-1 0h1m-1 0h1m-0.5 0h1m-1 0h1m-1 0h1m0 0h1m-1 0h1m-0.5 0h1m-0.5 0h1m-1 0h1m-1 0h1m-0.5 0h1m-0.5 0h1m-1 0h1m-12 0.5h1m-1 0h1m0 0h1m0.5 0h1m0 0h1m0 0h1m-0.5 0h1m-1 0h1m-0.5 0h1m-1 0h1m-0.5 0h1m-1 0h1m-1 0h1m-0.5 0h1m-0.5 0h1m-1 0h1m-0.5 0h1m-1 0h1m-1 0h1m-1 0h1m-0.5 0h1m-1 0h1m-1 0h1m1.5 0h1m0.5 0h1m-16 0.5h1m5 0h1m-1 0h1m-0.5 0h1m0 0h1m-1 0h1m-1 0h1m-0.5 0h1m0 0h1m-1 0h1m-0.5 0h1m-1 0h1m-1 0h1m-1 0h1m-0.5 0h1m-1 0h1m-0.5 0h1m-1 0h1m-0.5 0h1m-1 0h1m-1 0h1m-0.5 0h1m-0.5 0h1m-1 0h1m-0.5 0h1m-1 0h1m-1 0h1m-1 0h1m1.5 0h1m-1 0h1m0 0h1m-10.5 0.5h1m-0.5 0h1m0 0h1m-0.5 0h1m-1 0h1m-0.5 0h1m-1 0h1m-0.5 0h1m-1 0h1m-1 0h1m-1 0h1m-1 0h1m-1 0h1m-0.5 0h1m-1 0h1m-1 0h1m-0.5 0h1m-0.5 0h1m-1 0h1m-0.5 0h1m-0.5 0h1m-0.5 0h1m0.5 0h1m-11 0.5h1m-0.5 0h1m0 0h1m-0.5 0h1m-1 0h1m-0.5 0h1m0.5 0h1m0 0h1m-0.5 0h1m-1 0h1m-0.5 0h1m-1 0h1m-1 0h1m-1 0h1m-0.5 0h1m-1 0h1m-0.5 0h1m0 0h1m-0.5 0h1m-0.5 0h1m-1 0h1m1 0h1m1 0h1m-22 0.5h1m8 0h1m0 0h1m-0.5 0h1m-1 0h1m-0.5 0h1m-1 0h1m-1 0h1m0 0h1m-0.5 0h1m-1 0h1m-1 0h1m-1 0h1m-1 0h1m-0.5 0h1m0.5 0h1m-0.5 0h1m-1 0h1m-0.5 0h1m-1 0h1m1.5 0h1m-1 0h1m-0.5 0h1m-13 0.5h1m0.5 0h1m0 0h1m-1 0h1m0 0h1m-0.5 0h1m0 0h1m-1 0h1m0 0h1m-0.5 0h1m-1 0h1m-1 0h1m-0.5 0h1m-1 0h1m-1 0h1m-0.5 0h1m-0.5 0h1m-0.5 0h1m-1 0h1m-0.5 0h1m1 0h1m-17 0.5h1m6.5 0h1m-0.5 0h1m-1 0h1m0.5 0h1m-1 0h1m-0.5 0h1m-1 0h1m-1 0h1m-1 0h1m-0.5 0h1m0 0h1m-0.5 0h1m-0.5 0h1m0 0h1m-0.5 0h1m-0.5 0h1m-0.5 0h1m1.5 0h1m-9.5 0.5h1m-0.5 0h1m0.5 0h1m-0.5 0h1m-0.5 0h1m-1 0h1m-1 0h1m-1 0h1m-0.5 0h1m0 0h1m-6 0.5h1m0 0h1m-1 0h1m0 0h1m-1 0h1m-1 0h1m-0.5 0h1m0.5 0h1m-1 0h1m0 0h1m0 0h1m-1 0h1m-1 0h1m-6.5 0.5h1m-0.5 0h1m-0.5 0h1m-0.5 0h1m0.5 0h1m2 0h1m-0.5 0h1m-1 0h1m-22 0.5h1m11 0h1m0 0h1m-0.5 0h1m-0.5 0h1m-0.5 0h1m0.5 0h1m0 0h1m-0.5 0h1m-0.5 0h1m0 0h1m-0.5 0h1m-1 0h1m1 0h1m0.5 0h1m28 0h1m-37 0.5h1m-1 0h1m0 0h1m0 0h1m-2.5 0.5h1m0 0h1m-0.5 0h1m5 0h1m-23 0.5h1m6 0h1m0.5 0h1m1 0h1m2 0h1m2.5 0h1m-4 0.5h1m4 0h1m-16.5 0.5h1m13 0h1m0 0h1m-0.5 0.5h1m-12 0.5h1m14.5 0h1m-19.5 1h1m-0.5 0h1m3.5 0h1m0.5 0h1m3 0h1m7 0h1m-8 1h1m-14 0.5h1m2 0h1m3.5 0h1m48.5 0h1m-7.5 0.5h1m-43.5 1h1m-13.5 0.5h1m2 1h1m0.5 0h1m-6 0.5h1m6 0h1m5 0h1m32 0h1m21 0.5h1" stroke="#000" stroke-opacity="0.5" stroke-width="1" fill="none" filter="url(#bl)"/>
<rect x="43.5" y="5.2" width="22.16" height="11.4" fill="#fff"/>
<rect x="100.89" y="5.2" width="13.71" height="11.4" fill="#fff"/>
<rect x="43.5" y="66.22" width="22.16" height="10.48" fill="#fff"/>
<rect x="92.64" y="66.22" width="21.96" height="10.48" fill="#fff"/>
<rect x="42.7" y="4.6" width="72.7" height="72.7" fill="none" stroke="#a8a8a8" stroke-width="1.1"/>
<path d="M43.9 5.6V77.3M42.7 76.1H114.4" stroke="#c8c8c8" stroke-width="1" stroke-dasharray="1 2" fill="none"/>
<path d="M64.7 77.3H93.7" stroke="#8a8a8a" stroke-width="1" fill="none"/>
<path d="M70.6 4.6V77.3M42.7 47.3H115.4" stroke="#555" stroke-width="1.3" fill="none"/>
<text transform="translate(44.2 14.6) scale(1.02 1)" font-size="9.7" text-anchor="start">43.3</text>
<text transform="translate(114.1 14.6) scale(1.02 1)" font-size="9.7" text-anchor="end">32</text>
<text transform="translate(44.2 75.6) scale(1.02 1)" font-size="9.7" text-anchor="start">24.4</text>
<text transform="translate(114.1 75.6) scale(1.02 1)" font-size="9.7" text-anchor="end">0.37</text>
<path d="M36.3 77.9l1 0.7l2.6-1.8M36.3 59.73l1 0.7l2.6-1.8M36.3 41.55l1 0.7l2.6-1.8M36.3 23.37l1 0.7l2.6-1.8M36.3 5.2l1 0.7l2.6-1.8M40.5 81.6l1 0.8l2.8-1.9M58.67 81.6l1 0.8l2.8-1.9M76.85 81.6l1 0.8l2.8-1.9M95.03 81.6l1 0.8l2.8-1.9M113.2 81.6l1 0.8l2.8-1.9" stroke="#8a8a8a" stroke-width="1.0" fill="none"/>
<path d="M145.5 6h1m0.5 0h1m24 1h1m-38.5 1h1m2.5 2h1m13.5 0h1m-20.5 0.5h1m8 0h1m-1.5 0.5h1m32 0h1m-25.5 0.5h1m23.5 0h1m-35.5 1h1m1 0.5h1m6 0h1m1.5 0h1m20.5 0.5h1m-33 0.5h1m10 0h1m25.5 0h1m-24.5 0.5h1m-22 0.5h1m8 0h1m12.5 0h1m-14.5 0.5h1m-8.5 0.5h1m37 0h1m5.5 0h1m4 0h1m-51.5 0.5h1m1.5 0h1m-0.5 0h1m4 0h1m1.5 0h1m-0.5 0h1m2 0h1m32 0h1m3 0h1m-49.5 1h1m2 0h1m-0.5 0h1m30.5 0h1m-32 0.5h1m7.5 0h1m3 0h1m6.5 0h1m5.5 0h1m0.5 0h1m7.5 0h1m2 0h1m-44 0.5h1m1.5 0h1m22 0h1m6 0h1m7 0h1m10.5 0h1m-53.5 0.5h1m5.5 0h1m-1 0h1m0.5 0h1m0 0h1m3.5 0h1m24.5 0h1m-38 0.5h1m-0.5 0h1m0.5 0h1m-1 0h1m10 0h1m3.5 0h1m11 0h1m1 0h1m1.5 0h1m-1 0h1m1 0h1m2.5 0h1m1.5 0h1m2 0h1m0 0h1m-47 0.5h1m-1 0h1m-0.5 0h1m-0.5 0h1m1 0h1m-1 0h1m4.5 0h1m0.5 0h1m8 0h1m1.5 0h1m21 0h1m8 0h1m-57 0.5h1m1 0h1m-0.5 0h1m1 0h1m3.5 0h1m1.5 0h1m0 0h1m11.5 0h1m2 0h1m-0.5 0h1m3 0h1m5 0h1m-0.5 0h1m3.5 0h1m-45.5 0.5h1m4 0h1m0 0h1m-0.5 0h1m-1 0h1m-0.5 0h1m-0.5 0h1m3 0h1m1.5 0h1m6 0h1m0 0h1m13 0h1m5 0h1m-43 0.5h1m-1 0h1m6.5 0h1m3.5 0h1m-0.5 0h1m0.5 0h1m15 0h1m7 0h1m0.5 0h1m2 0h1m2 0h1m-0.5 0h1m-0.5 0h1m-48 0.5h1m2 0h1m1.5 0h1m-1 0h1m-0.5 0h1m-0.5 0h1m0.5 0h1m-1 0h1m4.5 0h1m1 0h1m0 0h1m5.5 0h1m1.5 0h1m11.5 0h1m-0.5 0h1m0 0h1m3 0h1m-39.5 0.5h1m0.5 0h1m0 0h1m5 0h1m0 0h1m-1 0h1m3.5 0h1m1 0h1m2.5 0h1m6 0h1m8 0h1m0 0h1m6 0h1m1 0h1m3 0h1m-56 0.5h1m-0.5 0h1m0 0h1m1.5 0h1m1 0h1m-0.5 0h1m0 0h1m-1 0h1m2 0h1m-1 0h1m0.5 0h1m0 0h1m4.5 0h1m12 0h1m2 0h1m-1 0h1m4.5 0h1m-1 0h1m1.5 0h1m0 0h1m3.5 0h1m2.5 0h1m0 0h1m-50 0.5h1m2.5 0h1m-1 0h1m0 0h1m1 0h1m-0.5 0h1m0.5 0h1m-1 0h1m1 0h1m20 0h1m2 0h1m8.5 0h1m3.5 0h1m-53 0.5h1m2.5 0h1m3 0h1m-1 0h1m-0.5 0h1m-0.5 0h1m-1 0h1m0 0h1m1 0h1m0.5 0h1m5.5 0h1m-0.5 0h1m0 0h1m8 0h1m-0.5 0h1m2.5 0h1m2 0h1m-0.5 0h1m0.5 0h1m1 0h1m2.5 0h1m0.5 0h1m1.5 0h1m1 0h1m-49 0.5h1m1 0h1m-0.5 0h1m-0.5 0h1m0.5 0h1m-1 0h1m-1 0h1m-0.5 0h1m0 0h1m0 0h1m-0.5 0h1m-1 0h1m3.5 0h1m3.5 0h1m0.5 0h1m1 0h1m6 0h1m1 0h1m2.5 0h1m2 0h1m2 0h1m-0.5 0h1m-1 0h1m1.5 0h1m-0.5 0h1m0 0h1m2.5 0h1m0 0h1m6 0h1m-53.5 0.5h1m-1 0h1m0 0h1m-0.5 0h1m-0.5 0h1m-1 0h1m-1 0h1m-1 0h1m0.5 0h1m-0.5 0h1m0.5 0h1m-0.5 0h1m-1 0h1m-0.5 0h1m0 0h1m0.5 0h1m7.5 0h1m-0.5 0h1m6.5 0h1m9 0h1m-0.5 0h1m-0.5 0h1m-0.5 0h1m0 0h1m-1 0h1m0 0h1m-0.5 0h1m0 0h1m1.5 0h1m8.5 0h1m-57.5 0.5h1m0.5 0h1m2 0h1m-1 0h1m-0.5 0h1m-0.5 0h1m-0.5 0h1m-0.5 0h1m0 0h1m1 0h1m-0.5 0h1m0 0h1m-0.5 0h1m-1 0h1m0 0h1m-0.5 0h1m4.5 0h1m0.5 0h1m12.5 0h1m2.5 0h1m1 0h1m0 0h1m0.5 0h1m-0.5 0h1m-1 0h1m-1 0h1m-0.5 0h1m-0.5 0h1m-0.5 0h1m-1 0h1m0 0h1m3.5 0h1m1 0h1m1 0h1m1.5 0h1m-52.5 0.5h1m-1 0h1m-0.5 0h1m0 0h1m-1 0h1m0.5 0h1m-1 0h1m-1 0h1m-0.5 0h1m1.5 0h1m-1 0h1m-0.5 0h1m-0.5 0h1m-1 0h1m0 0h1m-1 0h1m-0.5 0h1m1 0h1m1 0h1m-1 0h1m1 0h1m2 0h1m-1 0h1m-1 0h1m0.5 0h1m0.5 0h1m1 0h1m1.5 0h1m4 0h1m2.5 0h1m1.5 0h1m0 0h1m1 0h1m1.5 0h1m-0.5 0h1m-0.5 0h1m-47.5 0.5h1m-0.5 0h1m0.5 0h1m-0.5 0h1m-1 0h1m1 0h1m-1 0h1m-0.5 0h1m1 0h1m-1 0h1m-0.5 0h1m-0.5 0h1m-0.5 0h1m-0.5 0h1m-0.5 0h1m-1 0h1m0 0h1m-1 0h1m-1 0h1m0 0h1m-1 0h1m1 0h1m3.5 0h1m1.5 0h1m3 0h1m-0.5 0h1m0.5 0h1m-1 0h1m1 0h1m-0.5 0h1m1 0h1m1 0h1m0.5 0h1m9 0h1m0 0h1m-0.5 0h1m1 0h1m1.5 0h1m-49.5 0.5h1m3 0h1m0 0h1m1 0h1m-1 0h1m0 0h1m-0.5 0h1m-1 0h1m-0.5 0h1m-1 0h1m-0.5 0h1m0 0h1m-0.5 0h1m-1 0h1m-1 0h1m-0.5 0h1m0 0h1m-0.5 0h1m-0.5 0h1m-0.5 0h1m2 0h1m-1 0h1m8 0h1m4 0h1m1 0h1m0.5 0h1m0 0h1m-0.5 0h1m0 0h1m0.5 0h1m-1 0h1m-0.5 0h1m-1 0h1m0.5 0h1m-1 0h1m1 0h1m1 0h1m0.5 0h1m-1 0h1m-0.5 0h1m-1 0h1m-0.5 0h1m0 0h1m-51.5 0.5h1m1.5 0h1m0 0h1m-0.5 0h1m1.5 0h1m0 0h1m-0.5 0h1m0 0h1m-1 0h1m-1 0h1m-0.5 0h1m-1 0h1m-0.5 0h1m-0.5 0h1m-0.5 0h1m0 0h1m0 0h1m-0.5 0h1m0.5 0h1m4.5 0h1m-1 0h1m0 0h1m1 0h1m0 0h1m-0.5 0h1m5 0h1m1.5 0h1m0.5 0h1m-0.5 0h1m-0.5 0h1m1.5 0h1m-0.5 0h1m-0.5 0h1m1 0h1m-1 0h1m-1 0h1m-0.5 0h1m-1 0h1m1.5 0h1m-0.5 0h1m-1 0h1m-1 0h1m-1 0h1m0.5 0h1m-0.5 0h1m0 0h1m-1 0h1m-1 0h1m0.5 0h1m0 0h1m-0.5 0h1m-50.5 0.5h1m0 0h1m-1 0h1m-1 0h1m-0.5 0h1m-1 0h1m-0.5 0h1m0 0h1m-1 0h1m-1 0h1m0 0h1m-1 0h1m-0.5 0h1m0.5 0h1m-1 0h1m-0.5 0h1m-0.5 0h1m-1 0h1m-1 0h1m-0.5 0h1m-1 0h1m0 0h1m-0.5 0h1m-1 0h1m-0.5 0h1m-1 0h1m-0.5 0h1m0.5 0h1m-1 0h1m-0.5 0h1m1 0h1m6 0h1m2.5 0h1m3 0h1m-0.5 0h1m5.5 0h1m0 0h1m-0.5 0h1m-1 0h1m-0.5 0h1m-0.5 0h1m-0.5 0h1m1.5 0h1m1 0h1m-1 0h1m0.5 0h1m-0.5 0h1m-0.5 0h1m-0.5 0h1m-0.5 0h1m0 0h1m14 0h1m-63 0.5h1m0 0h1m-1 0h1m-1 0h1m-0.5 0h1m-1 0h1m-0.5 0h1m-0.5 0h1m-0.5 0h1m-1 0h1m-0.5 0h1m-1 0h1m0.5 0h1m-1 0h1m-0.5 0h1m-1 0h1m-0.5 0h1m-1 0h1m-1 0h1m-1 0h1m0.5 0h1m-0.5 0h1m2.5 0h1m0.5 0h1m-1 0h1m6 0h1m0 0h1m-0.5 0h1m-1 0h1m0 0h1m0 0h1m2 0h1m1.5 0h1m4 0h1m-1 0h1m2 0h1m-1 0h1m-1 0h1m-1 0h1m-1 0h1m-0.5 0h1m-0.5 0h1m-1 0h1m-0.5 0h1m-1 0h1m-0.5 0h1m-0.5 0h1m-1 0h1m0.5 0h1m-0.5 0h1m0 0h1m0 0h1m-0.5 0h1m2 0h1m0 0h1m-0.5 0h1m-0.5 0h1m0.5 0h1m-0.5 0h1m-0.5 0h1m0 0h1m-54 0.5h1m-0.5 0h1m1 0h1m-0.5 0h1m-0.5 0h1m-1 0h1m-1 0h1m-0.5 0h1m-1 0h1m-1 0h1m-0.5 0h1m-1 0h1m-0.5 0h1m-1 0h1m-0.5 0h1m-1 0h1m-1 0h1m0 0h1m-1 0h1m0 0h1m0 0h1m-0.5 0h1m-0.5 0h1m0 0h1m4 0h1m4 0h1m10 0h1m0.5 0h1m0 0h1m0.5 0h1m-0.5 0h1m1 0h1m1 0h1m-1 0h1m-1 0h1m-0.5 0h1m-0.5 0h1m1.5 0h1m-0.5 0h1m-1 0h1m-1 0h1m-1 0h1m-0.5 0h1m-1 0h1m-0.5 0h1m-1 0h1m-1 0h1m0 0h1m-0.5 0h1m0 0h1m-0.5 0h1m2.5 0h1m0 0h1m1 0h1m-53.5 0.5h1m0 0h1m-1 0h1m-0.5 0h1m-1 0h1m-1 0h1m0 0h1m-1 0h1m-0.5 0h1m-0.5 0h1m-0.5 0h1m-1 0h1m-1 0h1m-1 0h1m-1 0h1m-1 0h1m0 0h1m0.5 0h1m-0.5 0h1m1.5 0h1m1.5 0h1m-1 0h1m2 0h1m6.5 0h1m4.5 0h1m2.5 0h1m-0.5 0h1m2 0h1m-0.5 0h1m-1 0h1m-0.5 0h1m0.5 0h1m-1 0h1m-1 0h1m-1 0h1m0 0h1m-1 0h1m-1 0h1m0.5 0h1m-0.5 0h1m-1 0h1m0.5 0h1m-1 0h1m-0.5 0h1m0.5 0h1m1.5 0h1m1.5 0h1m2.5 0h1m-53.5 0.5h1m0 0h1m-1 0h1m-0.5 0h1m-0.5 0h1m-0.5 0h1m-1 0h1m-1 0h1m-0.5 0h1m-0.5 0h1m-1 0h1m-1 0h1m-0.5 0h1m-1 0h1m-0.5 0h1m0.5 0h1m-0.5 0h1m-1 0h1m-0.5 0h1m-1 0h1m-1 0h1m2 0h1m-0.5 0h1m-1 0h1m1 0h1m2.5 0h1m2.5 0h1m0.5 0h1m0 0h1m3 0h1m1.5 0h1m1.5 0h1m0 0h1m-0.5 0h1m-0.5 0h1m0.5 0h1m-0.5 0h1m-1 0h1m0.5 0h1m0.5 0h1m0 0h1m-1 0h1m-0.5 0h1m0.5 0h1m0 0h1m0 0h1m-1 0h1m-0.5 0h1m1.5 0h1m-0.5 0h1m1.5 0h1m0 0h1m-0.5 0h1m2.5 0h1m-58.5 0.5h1m1 0h1m3 0h1m-0.5 0h1m-0.5 0h1m-1 0h1m-1 0h1m-1 0h1m-0.5 0h1m-1 0h1m-1 0h1m0 0h1m-1 0h1m-1 0h1m-1 0h1m-1 0h1m-0.5 0h1m-0.5 0h1m-1 0h1m-1 0h1m-0.5 0h1m-1 0h1m-1 0h1m-0.5 0h1m0 0h1m0 0h1m-0.5 0h1m-1 0h1m-1 0h1m-0.5 0h1m0 0h1m5 0h1m8.5 0h1m0.5 0h1m-1 0h1m0 0h1m1 0h1m-0.5 0h1m-0.5 0h1m0.5 0h1m-1 0h1m-0.5 0h1m1 0h1m-1 0h1m0 0h1m-1 0h1m-1 0h1m-0.5 0h1m-1 0h1m-1 0h1m-0.5 0h1m-1 0h1m-1 0h1m0.5 0h1m0 0h1m-1 0h1m-1 0h1m-1 0h1m0.5 0h1m-0.5 0h1m-0.5 0h1m2 0h1m-0.5 0h1m1.5 0h1m-0.5 0h1m-1 0h1m-0.5 0h1m-55 0.5h1m0 0h1m1.5 0h1m-0.5 0h1m-0.5 0h1m0 0h1m0 0h1m-0.5 0h1m-1 0h1m-0.5 0h1m-1 0h1m-1 0h1m-0.5 0h1m-1 0h1m-0.5 0h1m-1 0h1m-1 0h1m-0.5 0h1m-1 0h1m-1 0h1m-1 0h1m0 0h1m-0.5 0h1m-0.5 0h1m-0.5 0h1m-0.5 0h1m-0.5 0h1m-1 0h1m-0.5 0h1m-0.5 0h1m-0.5 0h1m0 0h1m2.5 0h1m-0.5 0h1m3.5 0h1m-1 0h1m4.5 0h1m-0.5 0h1m-0.5 0h1m-1 0h1m1.5 0h1m-0.5 0h1m0.5 0h1m-0.5 0h1m0.5 0h1m0.5 0h1m-1 0h1m0.5 0h1m-1 0h1m1 0h1m-0.5 0h1m0 0h1m-1 0h1m-1 0h1m-0.5 0h1m-1 0h1m-0.5 0h1m-1 0h1m-1 0h1m-0.5 0h1m-1 0h1m0 0h1m-0.5 0h1m-1 0h1m0.5 0h1m-1 0h1m1 0h1m0 0h1m1.5 0h1m-1 0h1m-52.5 0.5h1m-0.5 0h1m0 0h1m-0.5 0h1m-0.5 0h1m-0.5 0h1m-0.5 0h1m-1 0h1m0 0h1m-1 0h1m-0.5 0h1m-1 0h1m-1 0h1m-0.5 0h1m-1 0h1m-0.5 0h1m-1 0h1m-0.5 0h1m-1 0h1m-1 0h1m-0.5 0h1m-0.5 0h1m-1 0h1m-0.5 0h1m-0.5 0h1m0.5 0h1m0 0h1m-0.5 0h1m-0.5 0h1m1 0h1m0 0h1m4.5 0h1m1 0h1m-0.5 0h1m0.5 0h1m0.5 0h1m-0.5 0h1m1 0h1m1 0h1m1 0h1m-1 0h1m0.5 0h1m-0.5 0h1m0.5 0h1m1 0h1m-1 0h1m-1 0h1m-0.5 0h1m-0.5 0h1m-0.5 0h1m0.5 0h1m-0.5 0h1m-0.5 0h1m-1 0h1m-1 0h1m-0.5 0h1m-1 0h1m-1 0h1m-1 0h1m0 0h1m-0.5 0h1m0 0h1m-1 0h1m1 0h1m-0.5 0h1m-0.5 0h1m-1 0h1m-1 0h1m0 0h1m-0.5 0h1m0 0h1m-0.5 0h1m-0.5 0h1m2 0h1m-54.5 0.5h1m-0.5 0h1m0.5 0h1m-1 0h1m-0.5 0h1m-1 0h1m-0.5 0h1m-1 0h1m-1 0h1m-1 0h1m1 0h1m-0.5 0h1m-0.5 0h1m0 0h1m1 0h1m-1 0h1m-1 0h1m0 0h1m-0.5 0h1m-0.5 0h1m-0.5 0h1m-1 0h1m-0.5 0h1m-0.5 0h1m4 0h1m0 0h1m-0.5 0h1m1 0h1m0.5 0h1m1 0h1m-0.5 0h1m3 0h1m2 0h1m-1 0h1m-0.5 0h1m0 0h1m-0.5 0h1m-0.5 0h1m-0.5 0h1m-0.5 0h1m-0.5 0h1m-0.5 0h1m0 0h1m-0.5 0h1m0 0h1m-1 0h1m-0.5 0h1m-1 0h1m-0.5 0h1m0 0h1m-0.5 0h1m-1 0h1m-0.5 0h1m-0.5 0h1m-0.5 0h1m-0.5 0h1m-0.5 0h1m-0.5 0h1m-0.5 0h1m0.5 0h1m-1 0h1m-0.5 0h1m-1 0h1m0.5 0h1m0.5 0h1m-53 0.5h1m-0.5 0h1m-0.5 0h1m0.5 0h1m0.5 0h1m-0.5 0h1m0 0h1m0 0h1m-1 0h1m-1 0h1m-1 0h1m-0.5 0h1m-1 0h1m-0.5 0h1m-1 0h1m-1 0h1m-1 0h1m-0.5 0h1m-1 0h1m-1 0h1m-1 0h1m-0.5 0h1m-1 0h1m-0.5 0h1m-1 0h1m0 0h1m-0.5 0h1m-1 0h1m-1 0h1m-0.5 0h1m-1 0h1m-0.5 0h1m0 0h1m-1 0h1m-1 0h1m4 0h1m-1 0h1m0 0h1m1 0h1m1.5 0h1m2.5 0h1m-0.5 0h1m-1 0h1m-0.5 0h1m0 0h1m2.5 0h1m0.5 0h1m-0.5 0h1m1 0h1m-1 0h1m-0.5 0h1m-0.5 0h1m-1 0h1m0 0h1m-0.5 0h1m-0.5 0h1m-0.5 0h1m-1 0h1m-1 0h1m1 0h1m-0.5 0h1m-1 0h1m-0.5 0h1m-0.5 0h1m-1 0h1m-1 0h1m-0.5 0h1m-0.5 0h1m-1 0h1m-0.5 0h1m-1 0h1m-1 0h1m-0.5 0h1m-0.5 0h1m0.5 0h1m-0.5 0h1m0 0h1m-0.5 0h1m-0.5 0h1m2 0h1m-51.5 0.5h1m-1 0h1m0 0h1m0 0h1m-1 0h1m-1 0h1m-0.5 0h1m-1 0h1m-1 0h1m-0.5 0h1m-1 0h1m-1 0h1m-0.5 0h1m-1 0h1m-0.5 0h1m-1 0h1m-0.5 0h1m-0.5 0h1m-1 0h1m-0.5 0h1m-1 0h1m-0.5 0h1m-1 0h1m-1 0h1m-1 0h1m-0.5 0h1m-1 0h1m-1 0h1m0 0h1m-0.5 0h1m-1 0h1m-1 0h1m-0.5 0h1m-1 0h1m0 0h1m-1 0h1m-0.5 0h1m-0.5 0h1m0 0h1m-1 0h1m-0.5 0h1m1.5 0h1m-1 0h1m0.5 0h1m4.5 0h1m1 0h1m-1 0h1m3 0h1m0.5 0h1m1 0h1m-0.5 0h1m-0.5 0h1m3.5 0h1m-1 0h1m-1 0h1m0 0h1m0 0h1m-0.5 0h1m-0.5 0h1m-1 0h1m0.5 0h1m-1 0h1m-1 0h1m-1 0h1m-0.5 0h1m-0.5 0h1m-0.5 0h1m-0.5 0h1m0.5 0h1m-1 0h1m0.5 0h1m-1 0h1m-1 0h1m-0.5 0h1m0.5 0h1m-1 0h1m0 0h1m0.5 0h1m1.5 0h1m1.5 0h1m1 0h1m-59.5 0.5h1m-0.5 0h1m-0.5 0h1m-1 0h1m-0.5 0h1m-1 0h1m-0.5 0h1m-0.5 0h1m-1 0h1m0 0h1m-1 0h1m-0.5 0h1m0 0h1m-1 0h1m0 0h1m-1 0h1m-0.5 0h1m-1 0h1m0 0h1m-1 0h1m-1 0h1m-0.5 0h1m-1 0h1m-0.5 0h1m-1 0h1m-1 0h1m0 0h1m0 0h1m-0.5 0h1m-0.5 0h1m0.5 0h1m-0.5 0h1m2.5 0h1m3.5 0h1m2 0h1m0.5 0h1m0.5 0h1m1 0h1m-0.5 0h1m0 0h1m-1 0h1m0 0h1m-0.5 0h1m2.5 0h1m-0.5 0h1m-1 0h1m-0.5 0h1m-0.5 0h1m-1 0h1m-1 0h1m-0.5 0h1m0.5 0h1m-0.5 0h1m-1 0h1m-1 0h1m-0.5 0h1m-1 0h1m-0.5 0h1m-0.5 0h1m-0.5 0h1m-1 0h1m-1 0h1m-0.5 0h1m-1 0h1m-0.5 0h1m-1 0h1m0 0h1m-1 0h1m0 0h1m-0.5 0h1m0 0h1m0.5 0h1m0.5 0h1m-0.5 0h1m-0.5 0h1m-1 0h1m0 0h1m-51.5 0.5h1m-1 0h1m-1 0h1m1 0h1m-0.5 0h1m-0.5 0h1m-1 0h1m-0.5 0h1m-1 0h1m-1 0h1m-0.5 0h1m0 0h1m0 0h1m-0.5 0h1m-1 0h1m-0.5 0h1m-0.5 0h1m-1 0h1m-0.5 0h1m-0.5 0h1m-0.5 0h1m-1 0h1m-1 0h1m0 0h1m-0.5 0h1m-0.5 0h1m-1 0h1m-0.5 0h1m0.5 0h1m-0.5 0h1m0.5 0h1m4.5 0h1m7.5 0h1m-0.5 0h1m-0.5 0h1m1 0h1m0 0h1m-1 0h1m-0.5 0h1m-0.5 0h1m0.5 0h1m-1 0h1m0 0h1m-0.5 0h1m0 0h1m-1 0h1m0 0h1m-0.5 0h1m-1 0h1m-1 0h1m-0.5 0h1m0 0h1m-1 0h1m0 0h1m-0.5 0h1m0 0h1m-1 0h1m-1 0h1m-0.5 0h1m-0.5 0h1m-0.5 0h1m0 0h1m0 0h1m2 0h1m7.5 0h1m-61 0.5h1m1.5 0h1m-0.5 0h1m0 0h1m-1 0h1m-1 0h1m-1 0h1m-0.5 0h1m-0.5 0h1m-1 0h1m-0.5 0h1m-1 0h1m-1 0h1m-0.5 0h1m-1 0h1m-1 0h1m-1 0h1m-0.5 0h1m-1 0h1m-1 0h1m-1 0h1m0 0h1m-0.5 0h1m-0.5 0h1m-1 0h1m-1 0h1m-0.5 0h1m-0.5 0h1m-1 0h1m-1 0h1m-0.5 0h1m0 0h1m-1 0h1m-1 0h1m-1 0h1m-0.5 0h1m-1 0h1m-0.5 0h1m-0.5 0h1m-1 0h1m0.5 0h1m0 0h1m0 0h1m1 0h1m1.5 0h1m3 0h1m3.5 0h1m1.5 0h1m-1 0h1m0.5 0h1m0 0h1m-0.5 0h1m-0.5 0h1m-0.5 0h1m0.5 0h1m-0.5 0h1m0 0h1m-1 0h1m-0.5 0h1m0.5 0h1m-0.5 0h1m0 0h1m-0.5 0h1m1.5 0h1m0 0h1m-0.5 0h1m-1 0h1m-0.5 0h1m1 0h1m-1 0h1m0 0h1m0.5 0h1m1.5 0h1m7 0h1m-63.5 0.5h1m0 0h1m0 0h1m-0.5 0h1m-0.5 0h1m-1 0h1m-0.5 0h1m-0.5 0h1m-1 0h1m-1 0h1m-1 0h1m0 0h1m-1 0h1m-1 0h1m-0.5 0h1m-0.5 0h1m-1 0h1m0 0h1m-1 0h1m-0.5 0h1m-0.5 0h1m0 0h1m-0.5 0h1m-1 0h1m-1 0h1m-1 0h1m-1 0h1m-0.5 0h1m-0.5 0h1m-0.5 0h1m-1 0h1m-0.5 0h1m-0.5 0h1m-1 0h1m0 0h1m-0.5 0h1m-0.5 0h1m-1 0h1m0.5 0h1m-1 0h1m0.5 0h1m1.5 0h1m0.5 0h1m0.5 0h1m0 0h1m-1 0h1m1 0h1m2 0h1m2 0h1m-0.5 0h1m-1 0h1m1 0h1m-0.5 0h1m-0.5 0h1m0.5 0h1m-1 0h1m-0.5 0h1m-0.5 0h1m-0.5 0h1m0 0h1m-1 0h1m-1 0h1m-0.5 0h1m-0.5 0h1m-1 0h1m-1 0h1m-1 0h1m-0.5 0h1m-1 0h1m-0.5 0h1m-1 0h1m0 0h1m0 0h1m-0.5 0h1m-1 0h1m-0.5 0h1m-0.5 0h1m-1 0h1m-1 0h1m-0.5 0h1m-1 0h1m-0.5 0h1m-0.5 0h1m-0.5 0h1m0.5 0h1m-1 0h1m-1 0h1m0.5 0h1m-0.5 0h1m-0.5 0h1m-1 0h1m0.5 0h1m0 0h1m-0.5 0h1m-0.5 0h1m2 0h1m-57.5 0.5h1m-1 0h1m-0.5 0h1m1 0h1m0 0h1m-0.5 0h1m-0.5 0h1m-1 0h1m0 0h1m-0.5 0h1m0 0h1m-1 0h1m-0.5 0h1m-1 0h1m-1 0h1m-0.5 0h1m-0.5 0h1m-0.5 0h1m-1 0h1m-1 0h1m-0.5 0h1m1.5 0h1m-0.5 0h1m-1 0h1m-1 0h1m-0.5 0h1m0.5 0h1m1 0h1m-1 0h1m7 0h1m0.5 0h1m-0.5 0h1m5 0h1m-0.5 0h1m-0.5 0h1m0.5 0h1m1 0h1m-0.5 0h1m0 0h1m-1 0h1m0.5 0h1m-1 0h1m-0.5 0h1m-1 0h1m-0.5 0h1m-1 0h1m-1 0h1m-1 0h1m-1 0h1m-0.5 0h1m-0.5 0h1m-0.5 0h1m-1 0h1m-1 0h1m-1 0h1m-0.5 0h1m0 0h1m-0.5 0h1m0 0h1m-1 0h1m0.5 0h1m-0.5 0h1m0 0h1m0 0h1m-0.5 0h1m-50.5 0.5h1m-1 0h1m0 0h1m0 0h1m-0.5 0h1m-0.5 0h1m-1 0h1m-0.5 0h1m-0.5 0h1m-1 0h1m0 0h1m-0.5 0h1m-0.5 0h1m-0.5 0h1m-1 0h1m-1 0h1m-0.5 0h1m-1 0h1m1.5 0h1m-0.5 0h1m-1 0h1m-1 0h1m-1 0h1m-1 0h1m-1 0h1m-1 0h1m-0.5 0h1m-1 0h1m-1 0h1m-1 0h1m-1 0h1m-0.5 0h1m-0.5 0h1m-0.5 0h1m-0.5 0h1m-1 0h1m-0.5 0h1m2 0h1m-1 0h1m1 0h1m6.5 0h1m2 0h1m3 0h1m-1 0h1m-0.5 0h1m1.5 0h1m-0.5 0h1m-1 0h1m-0.5 0h1m-0.5 0h1m-0.5 0h1m-1 0h1m-1 0h1m-0.5 0h1m-1 0h1m-0.5 0h1m-1 0h1m-0.5 0h1m-1 0h1m-1 0h1m-0.5 0h1m-1 0h1m-1 0h1m0 0h1m-1 0h1m-0.5 0h1m-0.5 0h1m-1 0h1m-1 0h1m-1 0h1m-1 0h1m-1 0h1m0 0h1m-0.5 0h1m0.5 0h1m-1 0h1m-1 0h1m0 0h1m-0.5 0h1m0.5 0h1m0 0h1m-1 0h1m-0.5 0h1m-0.5 0h1m-0.5 0h1m0.5 0h1m-54 0.5h1m1.5 0h1m-0.5 0h1m-1 0h1m0 0h1m-1 0h1m-1 0h1m-0.5 0h1m-0.5 0h1m-1 0h1m-1 0h1m-0.5 0h1m-1 0h1m-0.5 0h1m-1 0h1m0.5 0h1m-1 0h1m-0.5 0h1m-1 0h1m-1 0h1m0 0h1m-1 0h1m0.5 0h1m-0.5 0h1m-0.5 0h1m-1 0h1m1 0h1m0 0h1m-0.5 0h1m-0.5 0h1m5 0h1m3 0h1m2.5 0h1m3.5 0h1m-0.5 0h1m-1 0h1m-1 0h1m2.5 0h1m-0.5 0h1m-1 0h1m-1 0h1m1.5 0h1m-1 0h1m-0.5 0h1m0 0h1m-1 0h1m0 0h1m-1 0h1m0.5 0h1m-0.5 0h1m-0.5 0h1m-1 0h1m-0.5 0h1m0 0h1m0 0h1m-0.5 0h1m-0.5 0h1m-1 0h1m0.5 0h1m-0.5 0h1m-1 0h1m-0.5 0h1m-0.5 0h1m-1 0h1m2 0h1m-55 0.5h1m2 0h1m0 0h1m-0.5 0h1m-1 0h1m-0.5 0h1m-1 0h1m-1 0h1m-0.5 0h1m-1 0h1m-1 0h1m-0.5 0h1m-0.5 0h1m-1 0h1m-0.5 0h1m-1 0h1m1.5 0h1m-0.5 0h1m-1 0h1m-0.5 0h1m-1 0h1m-0.5 0h1m0 0h1m-0.5 0h1m-1 0h1m-0.5 0h1m0.5 0h1m4 0h1m-0.5 0h1m7.5 0h1m1 0h1m-0.5 0h1m0.5 0h1m0.5 0h1m0.5 0h1m1.5 0h1m-1 0h1m-0.5 0h1m-1 0h1m-0.5 0h1m0 0h1m-0.5 0h1m-1 0h1m-1 0h1m0 0h1m-1 0h1m-1 0h1m-0.5 0h1m-1 0h1m-0.5 0h1m-1 0h1m-1 0h1m-1 0h1m-0.5 0h1m-1 0h1m-0.5 0h1m-1 0h1m1 0h1m-0.5 0h1m2 0h1m-1 0h1m0 0h1m-0.5 0h1m1 0h1m0.5 0h1m-54.5 0.5h1m0 0h1m0 0h1m-1 0h1m-1 0h1m-0.5 0h1m-0.5 0h1m-1 0h1m-0.5 0h1m0 0h1m-0.5 0h1m-0.5 0h1m-1 0h1m-0.5 0h1m-1 0h1m-1 0h1m-1 0h1m0 0h1m0 0h1m-0.5 0h1m-0.5 0h1m-0.5 0h1m-0.5 0h1m-1 0h1m0 0h1m-1 0h1m0 0h1m0.5 0h1m2.5 0h1m3.5 0h1m4 0h1m5.5 0h1m1 0h1m0.5 0h1m-0.5 0h1m0.5 0h1m-0.5 0h1m-1 0h1m-1 0h1m-0.5 0h1m-0.5 0h1m-1 0h1m-0.5 0h1m-1 0h1m-0.5 0h1m-0.5 0h1m-1 0h1m-0.5 0h1m-0.5 0h1m-1 0h1m0.5 0h1m-1 0h1m-1 0h1m-1 0h1m0.5 0h1m0 0h1m-1 0h1m1 0h1m0.5 0h1m-0.5 0h1m-1 0h1m0 0h1m2.5 0h1m1 0h1m-57.5 0.5h1m-0.5 0h1m-1 0h1m0 0h1m0 0h1m-0.5 0h1m0 0h1m0 0h1m-1 0h1m-0.5 0h1m-0.5 0h1m0 0h1m0 0h1m-0.5 0h1m-1 0h1m0 0h1m0.5 0h1m-0.5 0h1m-0.5 0h1m0 0h1m0.5 0h1m0 0h1m4.5 0h1m0 0h1m1.5 0h1m-0.5 0h1m2.5 0h1m-0.5 0h1m-0.5 0h1m-0.5 0h1m0.5 0h1m-0.5 0h1m1.5 0h1m-1 0h1m3 0h1m-0.5 0h1m-1 0h1m-1 0h1m0.5 0h1m-1 0h1m0 0h1m-0.5 0h1m-0.5 0h1m-0.5 0h1m-1 0h1m-0.5 0h1m-0.5 0h1m-1 0h1m-0.5 0h1m-0.5 0h1m-1 0h1m-1 0h1m-0.5 0h1m-0.5 0h1m-0.5 0h1m0.5 0h1m-1 0h1m-1 0h1m1.5 0h1m1.5 0h1m-54.5 0.5h1m0 0h1m-1 0h1m0 0h1m1.5 0h1m-1 0h1m-1 0h1m-0.5 0h1m-1 0h1m-0.5 0h1m-1 0h1m-0.5 0h1m-0.5 0h1m1 0h1m-1 0h1m0 0h1m-1 0h1m-0.5 0h1m-0.5 0h1m-1 0h1m-0.5 0h1m-0.5 0h1m-1 0h1m0 0h1m-1 0h1m-0.5 0h1m-0.5 0h1m0 0h1m6.5 0h1m1.5 0h1m0 0h1m3.5 0h1m-1 0h1m-0.5 0h1m5 0h1m-0.5 0h1m-0.5 0h1m-0.5 0h1m-0.5 0h1m-0.5 0h1m-1 0h1m-0.5 0h1m-0.5 0h1m2 0h1m1.5 0h1m-0.5 0h1m-1 0h1m-1 0h1m-0.5 0h1m-1 0h1m0.5 0h1m-0.5 0h1m-1 0h1m0.5 0h1m-1 0h1m3.5 0h1m-57 0.5h1m-0.5 0h1m0.5 0h1m-1 0h1m0 0h1m0 0h1m-0.5 0h1m-0.5 0h1m-0.5 0h1m-0.5 0h1m0 0h1m0 0h1m-0.5 0h1m-1 0h1m-0.5 0h1m-1 0h1m-1 0h1m0 0h1m0 0h1m0 0h1m-1 0h1m-0.5 0h1m1 0h1m-1 0h1m3 0h1m4 0h1m5 0h1m1 0h1m-0.5 0h1m-0.5 0h1m0 0h1m0.5 0h1m0 0h1m1 0h1m-0.5 0h1m1 0h1m-0.5 0h1m-0.5 0h1m-1 0h1m0.5 0h1m-1 0h1m-0.5 0h1m-0.5 0h1m-0.5 0h1m-0.5 0h1m-0.5 0h1m-0.5 0h1m-0.5 0h1m-1 0h1m-0.5 0h1m0.5 0h1m1 0h1m0 0h1m-0.5 0h1m-0.5 0h1m1 0h1m-0.5 0h1m-0.5 0h1m0 0h1m7 0h1m-62.5 0.5h1m0 0h1m-1 0h1m-0.5 0h1m-0.5 0h1m0 0h1m-1 0h1m-1 0h1m-0.5 0h1m-1 0h1m0 0h1m-0.5 0h1m0.5 0h1m-0.5 0h1m-0.5 0h1m1.5 0h1m0 0h1m-1 0h1m-0.5 0h1m2 0h1m-0.5 0h1m0 0h1m1 0h1m10 0h1m-0.5 0h1m-0.5 0h1m2 0h1m-1 0h1m-0.5 0h1m-1 0h1m0 0h1m-0.5 0h1m3.5 0h1m-1 0h1m-1 0h1m-0.5 0h1m-1 0h1m-1 0h1m0 0h1m0 0h1m-0.5 0h1m0 0h1m-1 0h1m7.5 0h1m4.5 0h1m-61 0.5h1m1 0h1m1.5 0h1m-1 0h1m0.5 0h1m0.5 0h1m0.5 0h1m0 0h1m0.5 0h1m-1 0h1m0 0h1m-1 0h1m0 0h1m3.5 0h1m-1 0h1m5.5 0h1m7.5 0h1m2 0h1m-1 0h1m-0.5 0h1m-0.5 0h1m0 0h1m-1 0h1m-1 0h1m-0.5 0h1m-0.5 0h1m-0.5 0h1m0.5 0h1m1.5 0h1m-0.5 0h1m0.5 0h1m-1 0h1m1 0h1m-1 0h1m-1 0h1m0.5 0h1m1.5 0h1m0.5 0h1m-0.5 0h1m-0.5 0h1m0 0h1m-56 0.5h1m1.5 0h1m0.5 0h1m-0.5 0h1m-1 0h1m0.5 0h1m-0.5 0h1m0 0h1m0 0h1m-1 0h1m-0.5 0h1m1.5 0h1m-0.5 0h1m3.5 0h1m1.5 0h1m12.5 0h1m-0.5 0h1m2.5 0h1m-1 0h1m1 0h1m0 0h1m-1 0h1m0.5 0h1m0.5 0h1m0 0h1m-1 0h1m-1 0h1m3 0h1m1 0h1m2.5 0h1m-1 0h1m-0.5 0h1m3.5 0h1m-57 0.5h1m0.5 0h1m-1 0h1m1 0h1m-0.5 0h1m0.5 0h1m-0.5 0h1m-0.5 0h1m0 0h1m-1 0h1m-0.5 0h1m-0.5 0h1m0 0h1m0 0h1m0.5 0h1m-1 0h1m0 0h1m0.5 0h1m0 0h1m0.5 0h1m5 0h1m6 0h1m1.5 0h1m-0.5 0h1m1.5 0h1m0 0h1m0 0h1m-0.5 0h1m-1 0h1m0 0h1m-1 0h1m-0.5 0h1m0 0h1m-0.5 0h1m-1 0h1m-1 0h1m0 0h1m-0.5 0h1m-1 0h1m-1 0h1m-0.5 0h1m-0.5 0h1m-1 0h1m-0.5 0h1m-0.5 0h1m0 0h1m-0.5 0h1m-1 0h1m-0.5 0h1m1.5 0h1m0 0h1m2 0h1m-51.5 0.5h1m0 0h1m-0.5 0h1m0.5 0h1m-1 0h1m-0.5 0h1m-1 0h1m-0.5 0h1m-1 0h1m1.5 0h1m-0.5 0h1m1 0h1m-1 0h1m18 0h1m-1 0h1m-0.5 0h1m-0.5 0h1m2.5 0h1m-0.5 0h1m0.5 0h1m0.5 0h1m0.5 0h1m-0.5 0h1m0 0h1m1.5 0h1m-1 0h1m1.5 0h1m-1 0h1m0 0h1m1.5 0h1m0.5 0h1m-53.5 0.5h1m0.5 0h1m-1 0h1m-0.5 0h1m-0.5 0h1m1.5 0h1m-0.5 0h1m0 0h1m-0.5 0h1m-0.5 0h1m0.5 0h1m-1 0h1m-1 0h1m-1 0h1m0.5 0h1m0 0h1m2 0h1m-0.5 0h1m0 0h1m0.5 0h1m4 0h1m5 0h1m4.5 0h1m-0.5 0h1m0.5 0h1m-0.5 0h1m2.5 0h1m-1 0h1m-1 0h1m-0.5 0h1m3 0h1m-0.5 0h1m-0.5 0h1m0 0h1m-0.5 0h1m5.5 0h1m1.5 0h1m-56.5 0.5h1m-0.5 0h1m3 0h1m2 0h1m0 0h1m-0.5 0h1m0 0h1m-1 0h1m0 0h1m-1 0h1m0.5 0h1m4.5 0h1m0.5 0h1m0 0h1m5.5 0h1m3.5 0h1m5 0h1m0 0h1m-0.5 0h1m-0.5 0h1m-0.5 0h1m2.5 0h1m1 0h1m1.5 0h1m0 0h1m5 0h1m-51.5 0.5h1m-1 0h1m-0.5 0h1m0 0h1m-0.5 0h1m2.5 0h1m9 0h1m14.5 0h1m-1 0h1m2 0h1m3 0h1m-0.5 0h1m1 0h1m0.5 0h1m1.5 0h1m4.5 0h1m-57 0.5h1m2 0h1m1 0h1m2.5 0h1m1 0h1m5 0h1m13 0h1m1 0h1m1 0h1m-0.5 0h1m1.5 0h1m1.5 0h1m4 0h1m-0.5 0h1m-1 0h1m0.5 0h1m0 0h1m-47 0.5h1m0 0h1m1 0h1m0.5 0h1m0 0h1m1 0h1m2 0h1m-0.5 0h1m1 0h1m9 0h1m5.5 0h1m0 0h1m-0.5 0h1m0.5 0h1m1.5 0h1m-0.5 0h1m2.5 0h1m4.5 0h1m0.5 0h1m-0.5 0h1m-1 0h1m-1 0h1m0.5 0h1m0.5 0h1m6 0h1m-59.5 0.5h1m-0.5 0h1m-1 0h1m2.5 0h1m0 0h1m6.5 0h1m1 0h1m10 0h1m1.5 0h1m4.5 0h1m4.5 0h1m1.5 0h1m0 0h1m0 0h1m1.5 0h1m1 0h1m15 0h1m-64 0.5h1m1.5 0h1m1 0h1m0.5 0h1m2 0h1m0.5 0h1m-1 0h1m0 0h1m0.5 0h1m0 0h1m1.5 0h1m3 0h1m1.5 0h1m11.5 0h1m-0.5 0h1m4 0h1m1 0h1m-1 0h1m1 0h1m-44.5 0.5h1m4 0h1m-0.5 0h1m-0.5 0h1m1 0h1m0.5 0h1m9 0h1m0.5 0h1m20.5 0h1m2.5 0h1m-1 0h1m-0.5 0h1m13 0h1m-58 0.5h1m11.5 0h1m1.5 0h1m-0.5 0h1m20.5 0h1m1.5 0h1m-0.5 0h1m7 0h1m4.5 0h1m-55 0.5h1m-1 0h1m1.5 0h1m-1 0h1m14.5 0h1m0.5 0h1m0 0h1m0.5 0h1m5.5 0h1m0.5 0h1m0 0h1m2 0h1m1 0h1m2.5 0h1m2.5 0h1m-0.5 0h1m-44 0.5h1m14.5 0h1m1 0h1m-0.5 0h1m27.5 0h1m-48.5 0.5h1m1 0h1m7.5 0h1m4.5 0h1m3.5 0h1m-0.5 0h1m-1 0h1m10.5 0h1m0.5 0h1m2 0h1m0 0h1m-0.5 0h1m0.5 0h1m-38 0.5h1m6 0h1m7.5 0h1m0 0h1m-0.5 0h1m-1 0h1m0.5 0h1m7 0h1m-36 0.5h1m1.5 0h1m10 0h1m9.5 0h1m0 0h1m0.5 0h1m-0.5 0h1m0.5 0h1m2.5 0h1m4 0h1m2.5 0h1m17 0h1m-53 0.5h1m3 0h1m3.5 0h1m6 0h1m1 0h1m-1 0h1m0 0h1m-1 0h1m-0.5 0h1m-1 0h1m-1 0h1m0 0h1m-0.5 0h1m4 0h1m27 0h1m-54 0.5h1m6 0h1m1 0h1m-0.5 0h1m2.5 0h1m0 0h1m0.5 0h1m0 0h1m-1 0h1m-0.5 0h1m-1 0h1m0 0h1m-1 0h1m-0.5 0h1m-0.5 0h1m-1 0h1m-1 0h1m-0.5 0h1m-0.5 0h1m-1 0h1m1.5 0h1m6.5 0h1m-0.5 0h1m-33 0.5h1m6 0h1m2.5 0h1m2 0h1m0.5 0h1m0.5 0h1m-0.5 0h1m-1 0h1m-0.5 0h1m-0.5 0h1m0 0h1m-0.5 0h1m0 0h1m-1 0h1m-0.5 0h1m-1 0h1m-0.5 0h1m-0.5 0h1m10.5 0h1m-38.5 0.5h1m1 0h1m16 0h1m-0.5 0h1m1 0h1m1 0h1m-1 0h1m-0.5 0h1m-0.5 0h1m-0.5 0h1m-1 0h1m0 0h1m-22 0.5h1m1 0h1m11.5 0h1m0 0h1m-1 0h1m-1 0h1m-0.5 0h1m-0.5 0h1m-0.5 0h1m-1 0h1m1 0h1m-0.5 0h1m-0.5 0h1m0 0h1m1 0h1m14.5 0h1m1 0h1m3 0h1m-48.5 0.5h1m-1 0h1m15 0h1m1 0h1m-0.5 0h1m0 0h1m-0.5 0h1m-1 0h1m-0.5 0h1m-1 0h1m-0.5 0h1m-1 0h1m-1 0h1m-0.5 0h1m-1 0h1m0 0h1m-1 0h1m-1 0h1m-1 0h1m-0.5 0h1m-0.5 0h1m-1 0h1m-0.5 0h1m1 0h1m0.5 0h1m6 0h1m-27.5 0.5h1m6 0h1m0 0h1m-1 0h1m-0.5 0h1m0 0h1m0 0h1m-1 0h1m0 0h1m-0.5 0h1m-0.5 0h1m-1 0h1m-0.5 0h1m0 0h1m-1 0h1m-1 0h1m-0.5 0h1m6.5 0h1m4 0h1m-23 0.5h1m0.5 0h1m0.5 0h1m0.5 0h1m-1 0h1m-1 0h1m-1 0h1m-0.5 0h1m-0.5 0h1m-1 0h1m-1 0h1m-0.5 0h1m0 0h1m-1 0h1m-1 0h1m0 0h1m-0.5 0h1m0.5 0h1m12.5 0h1m-22.5 0.5h1m-0.5 0h1m-0.5 0h1m-0.5 0h1m-0.5 0h1m-0.5 0h1m-0.5 0h1m-1 0h1m-0.5 0h1m-0.5 0h1m-0.5 0h1m-1 0h1m-1 0h1m0 0h1m-0.5 0h1m-1 0h1m-1 0h1m-0.5 0h1m1 0h1m20 0h1m-33.5 0.5h1m4 0h1m0 0h1m-1 0h1m-1 0h1m0 0h1m-0.5 0h1m-1 0h1m-1 0h1m-0.5 0h1m-0.5 0h1m-0.5 0h1m-0.5 0h1m-0.5 0h1m2.5 0h1m7.5 0h1m12 0h1m-47.5 0.5h1m8.5 0h1m1.5 0h1m1.5 0h1m0 0h1m-0.5 0h1m-1 0h1m-0.5 0h1m-0.5 0h1m-1 0h1m-1 0h1m-1 0h1m-0.5 0h1m-1 0h1m0 0h1m-0.5 0h1m-1 0h1m-0.5 0h1m-1 0h1m-0.5 0h1m-1 0h1m-1 0h1m-0.5 0h1m-1 0h1m-1 0h1m-0.5 0h1m0 0h1m0.5 0h1m0 0h1m-24 0.5h1m1 0h1m6.5 0h1m2.5 0h1m0 0h1m-1 0h1m0 0h1m-0.5 0h1m-1 0h1m-1 0h1m-0.5 0h1m-0.5 0h1m-1 0h1m-0.5 0h1m-1 0h1m-1 0h1m-1 0h1m-1 0h1m-0.5 0h1m-1 0h1m-0.5 0h1m-1 0h1m-0.5 0h1m-1 0h1m-0.5 0h1m-0.5 0h1m0 0h1m0 0h1m30.5 0h1m-44 0.5h1m0.5 0h1m1.5 0h1m-1 0h1m-1 0h1m-0.5 0h1m-1 0h1m-0.5 0h1m-1 0h1m-1 0h1m-0.5 0h1m-1 0h1m-0.5 0h1m-1 0h1m-0.5 0h1m-1 0h1m-0.5 0h1m0 0h1m-0.5 0h1m-1 0h1m-1 0h1m-0.5 0h1m-1 0h1m-0.5 0h1m-1 0h1m-0.5 0h1m-1 0h1m0 0h1m1 0h1m20 0h1m-39.5 0.5h1m1 0h1m3 0h1m0 0h1m-1 0h1m-0.5 0h1m-0.5 0h1m-0.5 0h1m-0.5 0h1m-1 0h1m-1 0h1m-0.5 0h1m-1 0h1m0 0h1m-1 0h1m-0.5 0h1m-0.5 0h1m-0.5 0h1m-1 0h1m-0.5 0h1m-1 0h1m-1 0h1m-1 0h1m-1 0h1m-0.5 0h1m-1 0h1m1.5 0h1m-0.5 0h1m-23.5 0.5h1m12.5 0h1m-0.5 0h1m-0.5 0h1m0 0h1m-1 0h1m-1 0h1m-0.5 0h1m-0.5 0h1m-1 0h1m-1 0h1m0 0h1m-1 0h1m-1 0h1m-1 0h1m-1 0h1m-0.5 0h1m-1 0h1m-0.5 0h1m-1 0h1m-1 0h1m-1 0h1m-1 0h1m0.5 0h1m-1 0h1m1.5 0h1m-1 0h1m-11 0.5h1m-0.5 0h1m0 0h1m0.5 0h1m-1 0h1m-1 0h1m-0.5 0h1m-1 0h1m-1 0h1m-1 0h1m-1 0h1m-1 0h1m-0.5 0h1m-1 0h1m-1 0h1m-0.5 0h1m-1 0h1m-1 0h1m-0.5 0h1m-1 0h1m-1 0h1m-1 0h1m-1 0h1m0 0h1m-1 0h1m-0.5 0h1m-1 0h1m-0.5 0h1m-1 0h1m-1 0h1m-0.5 0h1m0 0h1m28.5 0h1m-41 0.5h1m0.5 0h1m-1 0h1m0 0h1m-0.5 0h1m-1 0h1m-1 0h1m0 0h1m-1 0h1m-0.5 0h1m-1 0h1m-0.5 0h1m-0.5 0h1m-1 0h1m-1 0h1m-1 0h1m-1 0h1m-0.5 0h1m-1 0h1m-1 0h1m-0.5 0h1m-0.5 0h1m-1 0h1m-1 0h1m-1 0h1m-0.5 0h1m-0.5 0h1m-0.5 0h1m-1 0h1m-0.5 0h1m-0.5 0h1m-1 0h1m0.5 0h1m2 0h1m-25 0.5h1m9 0h1m-0.5 0h1m-0.5 0h1m-0.5 0h1m-1 0h1m0 0h1m-1 0h1m0 0h1m0 0h1m-1 0h1m0 0h1m-1 0h1m-1 0h1m-0.5 0h1m-0.5 0h1m-1 0h1m-1 0h1m-1 0h1m-0.5 0h1m-1 0h1m-1 0h1m-0.5 0h1m-1 0h1m-0.5 0h1m-0.5 0h1m2.5 0h1m16 0h1m-34.5 0.5h1m1.5 0h1m-0.5 0h1m0.5 0h1m0.5 0h1m0 0h1m-0.5 0h1m-1 0h1m0 0h1m-1 0h1m-1 0h1m-0.5 0h1m-0.5 0h1m-1 0h1m-1 0h1m-0.5 0h1m-1 0h1m-0.5 0h1m-1 0h1m-1 0h1m-1 0h1m-0.5 0h1m-1 0h1m-1 0h1m-0.5 0h1m-1 0h1m-0.5 0h1m-1 0h1m-1 0h1m-0.5 0h1m-0.5 0h1m-0.5 0h1m-1 0h1m-1 0h1m-21.5 0.5h1m8.5 0h1m2.5 0h1m-1 0h1m-0.5 0h1m-1 0h1m0 0h1m-0.5 0h1m-1 0h1m-1 0h1m-1 0h1m-1 0h1m-0.5 0h1m-1 0h1m-1 0h1m-0.5 0h1m-1 0h1m-0.5 0h1m-1 0h1m-1 0h1m-0.5 0h1m-1 0h1m-1 0h1m-0.5 0h1m-1 0h1m-0.5 0h1m-1 0h1m-0.5 0h1m-1 0h1m-0.5 0h1m-0.5 0h1m-0.5 0h1m-0.5 0h1m11 0h1m1 0h1m-29.5 0.5h1m5 0h1m-1 0h1m0 0h1m-0.5 0h1m-1 0h1m-0.5 0h1m-1 0h1m-1 0h1m-0.5 0h1m-1 0h1m-1 0h1m-0.5 0h1m-1 0h1m-1 0h1m-0.5 0h1m-1 0h1m-0.5 0h1m-1 0h1m-0.5 0h1m-1 0h1m-0.5 0h1m-0.5 0h1m-1 0h1m-0.5 0h1m0 0h1m-0.5 0h1m-1 0h1m-0.5 0h1m-1 0h1m-0.5 0h1m0 0h1m-11.5 0.5h1m-0.5 0h1m0 0h1m0 0h1m-1 0h1m0 0h1m-1 0h1m-0.5 0h1m0 0h1m-1 0h1m-1 0h1m-1 0h1m-1 0h1m-1 0h1m-0.5 0h1m-1 0h1m-1 0h1m-0.5 0h1m-1 0h1m-0.5 0h1m-1 0h1m-1 0h1m0 0h1m-1 0h1m-1 0h1m-0.5 0h1m-0.5 0h1m-1 0h1m-1 0h1m0.5 0h1m9.5 0h1m-23 0.5h1m1 0h1m-1 0h1m-1 0h1m0 0h1m0.5 0h1m-1 0h1m-0.5 0h1m-1 0h1m-0.5 0h1m-0.5 0h1m-1 0h1m-1 0h1m-0.5 0h1m-0.5 0h1m-1 0h1m-1 0h1m-1 0h1m-0.5 0h1m-1 0h1m-1 0h1m-0.5 0h1m-0.5 0h1m-1 0h1m-1 0h1m-0.5 0h1m-0.5 0h1m-1 0h1m-1 0h1m0.5 0h1m-1 0h1m0 0h1m-1 0h1m-0.5 0h1m0 0h1m-13 0.5h1m0 0h1m-0.5 0h1m-0.5 0h1m-1 0h1m-1 0h1m0 0h1m-0.5 0h1m-0.5 0h1m-1 0h1m-1 0h1m-0.5 0h1m-1 0h1m-0.5 0h1m-1 0h1m-0.5 0h1m-1 0h1m-1 0h1m-0.5 0h1m-1 0h1m-1 0h1m-1 0h1m-0.5 0h1m-0.5 0h1m-1 0h1m-1 0h1m-0.5 0h1m-1 0h1m0 0h1m-1 0h1m-13 0.5h1m2 0h1m-0.5 0h1m0 0h1m-0.5 0h1m-1 0h1m-0.5 0h1m-0.5 0h1m-1 0h1m-0.5 0h1m-0.5 0h1m-1 0h1m-1 0h1m-0.5 0h1m-0.5 0h1m-0.5 0h1m-1 0h1m-1 0h1m-1 0h1m-1 0h1m-0.5 0h1m-0.5 0h1m-1 0h1m-0.5 0h1m-1 0h1m-1 0h1m-0.5 0h1m-1 0h1m-1 0h1m0 0h1m-1 0h1m-0.5 0h1m-11.5 0.5h1m1 0h1m-0.5 0h1m-0.5 0h1m-0.5 0h1m-1 0h1m-0.5 0h1m-0.5 0h1m-1 0h1m-1 0h1m-1 0h1m-0.5 0h1m-1 0h1m-0.5 0h1m-1 0h1m-1 0h1m0 0h1m-0.5 0h1m0 0h1m-1 0h1m-0.5 0h1m-1 0h1m-1 0h1m-1 0h1m-1 0h1m-0.5 0h1m-1 0h1m-1 0h1m-1 0h1m-1 0h1m-1 0h1m-0.5 0h1m0 0h1m-0.5 0h1m-9 0.5h1m0 0h1m-1 0h1m-0.5 0h1m-0.5 0h1m-1 0h1m-1 0h1m-1 0h1m-0.5 0h1m-1 0h1m-1 0h1m-1 0h1m-0.5 0h1m-1 0h1m-1 0h1m-0.5 0h1m-1 0h1m-1 0h1m-1 0h1m-0.5 0h1m-1 0h1m-1 0h1m-1 0h1m-1 0h1m-0.5 0h1m-1 0h1m-1 0h1m-0.5 0h1m-0.5 0h1m-1 0h1m-1 0h1m-1 0h1m-0.5 0h1m0.5 0h1m-0.5 0h1m0 0h1m-10.5 0.5h1m-1 0h1m0.5 0h1m-0.5 0h1m-1 0h1m-0.5 0h1m-0.5 0h1m-0.5 0h1m-1 0h1m-1 0h1m-0.5 0h1m-1 0h1m-0.5 0h1m-1 0h1m-0.5 0h1m-0.5 0h1m-1 0h1m-0.5 0h1m-1 0h1m-0.5 0h1m-20 0.5h1m3.5 0h1m6.5 0h1m-1 0h1m0 0h1m0 0h1m-1 0h1m-0.5 0h1m-1 0h1m-0.5 0h1m-1 0h1m-1 0h1m-1 0h1m-1 0h1m-1 0h1m-0.5 0h1m-1 0h1m-1 0h1m-0.5 0h1m-1 0h1m-1 0h1m-1 0h1m-0.5 0h1m-0.5 0h1m-0.5 0h1m-0.5 0h1m0.5 0h1m2 0h1m42.5 0h1m-57.5 0.5h1m1 0h1m0.5 0h1m0 0h1m-1 0h1m-0.5 0h1m-0.5 0h1m-0.5 0h1m-1 0h1m-1 0h1m-1 0h1m-1 0h1m-0.5 0h1m-1 0h1m-1 0h1m-0.5 0h1m-0.5 0h1m1 0h1m-0.5 0h1m0 0h1m-0.5 0h1m1 0h1m-12.5 0.5h1m-1 0h1m0 0h1m0 0h1m0 0h1m-0.5 0h1m-0.5 0h1m0 0h1m-0.5 0h1m-1 0h1m-0.5 0h1m-1 0h1m-0.5 0h1m-1 0h1m-0.5 0h1m0.5 0h1m1.5 0h1m-13.5 0.5h1m-1 0h1m1 0h1m0 0h1m-0.5 0h1m-1 0h1m0 0h1m-1 0h1m-1 0h1m-0.5 0h1m-1 0h1m-0.5 0h1m-1 0h1m-1 0h1m-0.5 0h1m-0.5 0h1m0 0h1m-0.5 0h1m-1 0h1m2.5 0h1m-0.5 0h1m0 0h1m1 0h1m-20.5 0.5h1m6.5 0h1m-0.5 0h1m0 0h1m0 0h1m-0.5 0h1m-1 0h1m0.5 0h1m0.5 0h1m0 0h1m-9 0.5h1m-0.5 0h1m0.5 0h1m-1 0h1m-0.5 0h1m0 0h1m0 0h1m-1 0h1m-0.5 0h1m-0.5 0h1m-15.5 0.5h1m8.5 0h1m0.5 0h1m-0.5 0h1m-0.5 0h1m-1 0h1m1 0h1m-1 0h1m2.5 0h1m0.5 0h1m-13 0.5h1m4 0h1m1 0h1m-4.5 0.5h1m-0.5 0h1m-1 0h1m0 0h1m-0.5 0h1m-0.5 0h1m-4.5 0.5h1m1.5 0h1m-0.5 0h1m1 0.5h1m-16 0.5h1m6 0h1m5 0h1m3.5 0h1m-21.5 0.5h1m10.5 0h1m6.5 0h1m4 0h1m38 0h1m-61 0.5h1m11 0h1m6.5 0h1m-2 1h1m-21.5 0.5h1m0 0h1m9.5 0h1m0 2h1m21 0h1m-25 0.5h1m-8 0.5h1m8 0.5h1m-10.5 1h1m16.5 0h1m-14.5 0.5h1" stroke="#000" stroke-opacity="0.5" stroke-width="1" fill="none" filter="url(#bl)"/>
<rect x="133.3" y="5.2" width="22.16" height="11.4" fill="#fff"/>
<rect x="182.24" y="5.2" width="21.96" height="11.4" fill="#fff"/>
<rect x="133.3" y="66.22" width="22.16" height="10.48" fill="#fff"/>
<rect x="182.24" y="66.22" width="21.96" height="10.48" fill="#fff"/>
<rect x="132.5" y="4.6" width="72.5" height="72.7" fill="none" stroke="#a8a8a8" stroke-width="1.1"/>
<path d="M133.7 5.6V77.3M132.5 76.1H204" stroke="#c8c8c8" stroke-width="1" stroke-dasharray="1 2" fill="none"/>
<path d="M154.5 77.3H183.5" stroke="#8a8a8a" stroke-width="1" fill="none"/>
<path d="M160.4 4.6V77.3M132.5 47.3H205" stroke="#555" stroke-width="1.3" fill="none"/>
<text transform="translate(134 14.6) scale(1.02 1)" font-size="9.7" text-anchor="start">38.5</text>
<text transform="translate(203.7 14.6) scale(1.02 1)" font-size="9.7" text-anchor="end">36.7</text>
<text transform="translate(134 75.6) scale(1.02 1)" font-size="9.7" text-anchor="start">24.4</text>
<text transform="translate(203.7 75.6) scale(1.02 1)" font-size="9.7" text-anchor="end">0.42</text>
<path d="M126.1 77.9l1 0.7l2.6-1.8M126.1 59.73l1 0.7l2.6-1.8M126.1 41.55l1 0.7l2.6-1.8M126.1 23.37l1 0.7l2.6-1.8M126.1 5.2l1 0.7l2.6-1.8M130.3 81.6l1 0.8l2.8-1.9M148.43 81.6l1 0.8l2.8-1.9M166.55 81.6l1 0.8l2.8-1.9M184.68 81.6l1 0.8l2.8-1.9M202.8 81.6l1 0.8l2.8-1.9" stroke="#8a8a8a" stroke-width="1.0" fill="none"/>
<path d="M230 5.5h1m4 1h1m2.5 0h1m42.5 1h1m-8 3h1m-37.5 1h1m7 0h1m47 0.5h1m-66.5 0.5h1m5 0h1m0.5 0h1m7 0.5h1m-20.5 0.5h1m15.5 0h1m-10 0.5h1m8 0.5h1m-16.5 0.5h1m3.5 0h1m19 0h1m-25 1h1m6.5 0h1m0.5 0h1m0 0.5h1m-0.5 0h1m4.5 0h1m-5.5 0.5h1m32.5 0h1m-45 0.5h1m-0.5 0h1m1 0h1m4 0h1m4 0h1m15 0h1m7 0h1m-31 0.5h1m1.5 0h1m4 0h1m-15 0.5h1m-1 0h1m1.5 0h1m0.5 0h1m4.5 0h1m27.5 0h1m10 0h1m-50.5 0.5h1m5 0h1m4 0h1m12 0h1m4.5 0h1m12 0h1m-43.5 0.5h1m1 0h1m-0.5 0h1m0 0h1m2.5 0h1m19.5 0h1m-27.5 0.5h1m0.5 0h1m0 0h1m-0.5 0h1m0.5 0h1m1.5 0h1m-1 0h1m1 0h1m0.5 0h1m19 0h1m2.5 0h1m1 0h1m-39 0.5h1m-0.5 0h1m1 0h1m0 0h1m54 0h1m-55 0.5h1m-1 0h1m5.5 0h1m3 0h1m20 0h1m3.5 0h1m10 0h1m-51 0.5h1m-0.5 0h1m2 0h1m1.5 0h1m0.5 0h1m-1 0h1m1 0h1m1.5 0h1m9.5 0h1m13.5 0h1m-33 0.5h1m0.5 0h1m0 0h1m1 0h1m-0.5 0h1m0 0h1m-1 0h1m16.5 0h1m-1 0h1m9.5 0h1m-42 0.5h1m7.5 0h1m1.5 0h1m2 0h1m-1 0h1m-0.5 0h1m15 0h1m12 0h1m4 0h1m2.5 0h1m-50 0.5h1m1 0h1m0.5 0h1m-0.5 0h1m-1 0h1m-0.5 0h1m-0.5 0h1m-0.5 0h1m0.5 0h1m-1 0h1m1.5 0h1m2.5 0h1m5 0h1m12 0h1m13.5 0h1m-51 0.5h1m2 0h1m0 0h1m-0.5 0h1m-0.5 0h1m-1 0h1m0 0h1m-0.5 0h1m1 0h1m-1 0h1m0.5 0h1m-0.5 0h1m0 0h1m-0.5 0h1m4 0h1m5.5 0h1m6.5 0h1m2.5 0h1m-0.5 0h1m2 0h1m-38 0.5h1m0 0h1m1.5 0h1m-0.5 0h1m-0.5 0h1m-1 0h1m1.5 0h1m1.5 0h1m-1 0h1m0 0h1m0.5 0h1m0 0h1m15.5 0h1m1.5 0h1m5.5 0h1m1 0h1m2 0h1m-44 0.5h1m0 0h1m0 0h1m-1 0h1m0 0h1m2 0h1m0 0h1m1.5 0h1m-0.5 0h1m-1 0h1m0.5 0h1m-0.5 0h1m-1 0h1m12.5 0h1m15.5 0h1m-1 0h1m-41 0.5h1m-1 0h1m-0.5 0h1m0 0h1m-0.5 0h1m2 0h1m0.5 0h1m0.5 0h1m-0.5 0h1m-1 0h1m-0.5 0h1m1.5 0h1m-1 0h1m0.5 0h1m0 0h1m-1 0h1m2 0h1m2.5 0h1m0 0h1m1 0h1m4.5 0h1m1.5 0h1m12 0h1m-48 0.5h1m-0.5 0h1m0.5 0h1m4 0h1m2 0h1m-1 0h1m6 0h1m6 0h1m0.5 0h1m6.5 0h1m0 0h1m1.5 0h1m3.5 0h1m3 0h1m-47 0.5h1m0.5 0h1m-0.5 0h1m0.5 0h1m-0.5 0h1m-1 0h1m-1 0h1m-0.5 0h1m-1 0h1m0 0h1m-0.5 0h1m-0.5 0h1m-1 0h1m-0.5 0h1m-0.5 0h1m0 0h1m0.5 0h1m0 0h1m-1 0h1m1 0h1m-0.5 0h1m1 0h1m0.5 0h1m0 0h1m-0.5 0h1m5 0h1m0.5 0h1m-1 0h1m2.5 0h1m-1 0h1m5 0h1m0.5 0h1m9.5 0h1m11 0h1m-57.5 0.5h1m-0.5 0h1m-1 0h1m0 0h1m0 0h1m-1 0h1m0.5 0h1m-0.5 0h1m-0.5 0h1m-0.5 0h1m-0.5 0h1m-1 0h1m-1 0h1m0 0h1m-0.5 0h1m-0.5 0h1m0 0h1m-0.5 0h1m-0.5 0h1m-0.5 0h1m-0.5 0h1m-1 0h1m0 0h1m-1 0h1m3.5 0h1m-1 0h1m4.5 0h1m6 0h1m1.5 0h1m1 0h1m-0.5 0h1m0.5 0h1m-1 0h1m2 0h1m0 0h1m0.5 0h1m2 0h1m-47.5 0.5h1m1 0h1m-0.5 0h1m-0.5 0h1m-0.5 0h1m0 0h1m0.5 0h1m1 0h1m-0.5 0h1m-0.5 0h1m-0.5 0h1m-1 0h1m0.5 0h1m-1 0h1m-0.5 0h1m-1 0h1m-1 0h1m0.5 0h1m-1 0h1m1.5 0h1m-0.5 0h1m-0.5 0h1m-1 0h1m5 0h1m4 0h1m1.5 0h1m4 0h1m0 0h1m0 0h1m-0.5 0h1m3 0h1m0 0h1m0.5 0h1m-1 0h1m0 0h1m-44 0.5h1m-1 0h1m-0.5 0h1m-0.5 0h1m-0.5 0h1m0 0h1m-0.5 0h1m-0.5 0h1m-1 0h1m-0.5 0h1m-0.5 0h1m-1 0h1m-1 0h1m0 0h1m-1 0h1m1 0h1m-1 0h1m-1 0h1m1.5 0h1m0 0h1m0.5 0h1m-1 0h1m0 0h1m0.5 0h1m2 0h1m3.5 0h1m0 0h1m1 0h1m-0.5 0h1m1.5 0h1m0 0h1m0.5 0h1m4.5 0h1m-1 0h1m-0.5 0h1m3 0h1m-0.5 0h1m-0.5 0h1m2 0h1m10 0h1m-58 0.5h1m-0.5 0h1m-0.5 0h1m-1 0h1m-0.5 0h1m-0.5 0h1m-1 0h1m0 0h1m-1 0h1m1 0h1m-1 0h1m-0.5 0h1m-1 0h1m0 0h1m-0.5 0h1m-1 0h1m1 0h1m-0.5 0h1m1 0h1m0.5 0h1m0 0h1m-1 0h1m-1 0h1m1.5 0h1m7.5 0h1m7 0h1m2.5 0h1m1 0h1m1 0h1m-0.5 0h1m1 0h1m0 0h1m-1 0h1m-44.5 0.5h1m-0.5 0h1m-0.5 0h1m0 0h1m-1 0h1m0 0h1m0 0h1m-0.5 0h1m-0.5 0h1m-1 0h1m-0.5 0h1m0 0h1m0 0h1m-1 0h1m-0.5 0h1m-1 0h1m0 0h1m-1 0h1m-0.5 0h1m-1 0h1m0 0h1m-0.5 0h1m1 0h1m0.5 0h1m-0.5 0h1m-1 0h1m1.5 0h1m7.5 0h1m-1 0h1m2.5 0h1m2.5 0h1m-0.5 0h1m2.5 0h1m0 0h1m-1 0h1m0 0h1m0 0h1m5 0h1m-48 0.5h1m0 0h1m-1 0h1m-0.5 0h1m0 0h1m-1 0h1m-0.5 0h1m0 0h1m-0.5 0h1m-1 0h1m-0.5 0h1m-1 0h1m0 0h1m-0.5 0h1m-0.5 0h1m-1 0h1m-0.5 0h1m-0.5 0h1m0 0h1m1.5 0h1m0 0h1m-1 0h1m-0.5 0h1m-1 0h1m0.5 0h1m-0.5 0h1m0 0h1m-1 0h1m-0.5 0h1m1.5 0h1m-1 0h1m1 0h1m0 0h1m-1 0h1m5 0h1m0 0h1m1.5 0h1m1 0h1m-0.5 0h1m-0.5 0h1m-1 0h1m-0.5 0h1m1 0h1m1 0h1m-0.5 0h1m0.5 0h1m0 0h1m1 0h1m-45.5 0.5h1m0 0h1m1 0h1m-0.5 0h1m-0.5 0h1m0 0h1m-1 0h1m-0.5 0h1m-1 0h1m-1 0h1m-0.5 0h1m-0.5 0h1m-1 0h1m-1 0h1m0 0h1m-1 0h1m-0.5 0h1m-0.5 0h1m-0.5 0h1m-0.5 0h1m-1 0h1m-1 0h1m-0.5 0h1m-1 0h1m-0.5 0h1m4.5 0h1m0 0h1m0 0h1m0 0h1m1 0h1m1 0h1m1.5 0h1m7.5 0h1m-0.5 0h1m-0.5 0h1m-1 0h1m-0.5 0h1m-0.5 0h1m-0.5 0h1m0 0h1m0 0h1m-0.5 0h1m1.5 0h1m1.5 0h1m-0.5 0h1m13.5 0h1m-60.5 0.5h1m1 0h1m1.5 0h1m-1 0h1m-1 0h1m-1 0h1m-0.5 0h1m-1 0h1m0.5 0h1m-1 0h1m-1 0h1m-1 0h1m-0.5 0h1m-1 0h1m-0.5 0h1m-1 0h1m-1 0h1m-0.5 0h1m-0.5 0h1m-1 0h1m-0.5 0h1m-1 0h1m-0.5 0h1m0 0h1m0 0h1m-1 0h1m-0.5 0h1m-1 0h1m0.5 0h1m-0.5 0h1m-1 0h1m-1 0h1m-1 0h1m0 0h1m-1 0h1m-1 0h1m1 0h1m1 0h1m-0.5 0h1m1.5 0h1m2 0h1m0.5 0h1m1 0h1m-1 0h1m0 0h1m2.5 0h1m0.5 0h1m-0.5 0h1m0 0h1m-0.5 0h1m0 0h1m-0.5 0h1m-0.5 0h1m-0.5 0h1m1 0h1m0.5 0h1m0.5 0h1m1 0h1m-1 0h1m1 0h1m-47 0.5h1m0 0h1m0 0h1m-0.5 0h1m-0.5 0h1m0 0h1m-0.5 0h1m-1 0h1m-1 0h1m-0.5 0h1m-0.5 0h1m-1 0h1m-0.5 0h1m-1 0h1m-0.5 0h1m-1 0h1m-1 0h1m-0.5 0h1m-1 0h1m0 0h1m-0.5 0h1m-1 0h1m-1 0h1m-1 0h1m-0.5 0h1m-0.5 0h1m0 0h1m-0.5 0h1m-0.5 0h1m1.5 0h1m0.5 0h1m2 0h1m0.5 0h1m2 0h1m0 0h1m0.5 0h1m-1 0h1m0 0h1m0 0h1m0.5 0h1m-1 0h1m0 0h1m0 0h1m0 0h1m0 0h1m-0.5 0h1m-0.5 0h1m0 0h1m0 0h1m-1 0h1m-1 0h1m0.5 0h1m-0.5 0h1m-0.5 0h1m-1 0h1m3.5 0h1m-0.5 0h1m-1 0h1m-46 0.5h1m-0.5 0h1m-1 0h1m-0.5 0h1m0 0h1m-0.5 0h1m0 0h1m-1 0h1m-1 0h1m-0.5 0h1m-1 0h1m-1 0h1m-0.5 0h1m-0.5 0h1m-1 0h1m-1 0h1m-0.5 0h1m0 0h1m-0.5 0h1m-1 0h1m-1 0h1m-0.5 0h1m-1 0h1m-0.5 0h1m-0.5 0h1m0 0h1m-1 0h1m-1 0h1m0 0h1m-0.5 0h1m-0.5 0h1m-0.5 0h1m-0.5 0h1m-0.5 0h1m11 0h1m2 0h1m0 0h1m-1 0h1m1 0h1m0 0h1m-1 0h1m2 0h1m-0.5 0h1m-1 0h1m1 0h1m-0.5 0h1m-1 0h1m1 0h1m-0.5 0h1m-1 0h1m-0.5 0h1m-1 0h1m0 0h1m0 0h1m-1 0h1m0 0h1m-0.5 0h1m-1 0h1m-0.5 0h1m-1 0h1m-0.5 0h1m2 0h1m-49.5 0.5h1m0 0h1m1 0h1m-1 0h1m-0.5 0h1m-1 0h1m-0.5 0h1m-1 0h1m-1 0h1m-1 0h1m-1 0h1m-0.5 0h1m-1 0h1m0 0h1m-1 0h1m-0.5 0h1m0 0h1m-1 0h1m-0.5 0h1m-1 0h1m-0.5 0h1m-1 0h1m-0.5 0h1m-0.5 0h1m0 0h1m-1 0h1m-1 0h1m-0.5 0h1m-0.5 0h1m0 0h1m-1 0h1m-1 0h1m0 0h1m0.5 0h1m-0.5 0h1m-1 0h1m-0.5 0h1m2 0h1m2.5 0h1m0.5 0h1m0 0h1m-1 0h1m-1 0h1m0 0h1m0 0h1m0 0h1m1 0h1m0 0h1m-0.5 0h1m-0.5 0h1m2 0h1m-1 0h1m-0.5 0h1m-0.5 0h1m-1 0h1m0.5 0h1m-1 0h1m1 0h1m-0.5 0h1m-1 0h1m-1 0h1m0 0h1m-0.5 0h1m-1 0h1m1.5 0h1m-0.5 0h1m0 0h1m0 0h1m-47.5 0.5h1m0.5 0h1m-1 0h1m-0.5 0h1m-0.5 0h1m-0.5 0h1m-1 0h1m-0.5 0h1m-0.5 0h1m-0.5 0h1m-1 0h1m0 0h1m-0.5 0h1m-1 0h1m-0.5 0h1m-1 0h1m-0.5 0h1m-0.5 0h1m-1 0h1m-0.5 0h1m-1 0h1m-0.5 0h1m-1 0h1m-0.5 0h1m-0.5 0h1m-0.5 0h1m-0.5 0h1m-0.5 0h1m-0.5 0h1m-1 0h1m-1 0h1m-0.5 0h1m-0.5 0h1m-1 0h1m-0.5 0h1m-1 0h1m-1 0h1m-0.5 0h1m-0.5 0h1m0 0h1m0 0h1m0.5 0h1m0.5 0h1m0.5 0h1m-0.5 0h1m-1 0h1m-0.5 0h1m1 0h1m1 0h1m0.5 0h1m-0.5 0h1m1.5 0h1m-0.5 0h1m0 0h1m-0.5 0h1m-0.5 0h1m1.5 0h1m-0.5 0h1m0 0h1m-1 0h1m-0.5 0h1m-1 0h1m-0.5 0h1m-1 0h1m-0.5 0h1m-1 0h1m-0.5 0h1m-0.5 0h1m0 0h1m2.5 0h1m-0.5 0h1m-1 0h1m-0.5 0h1m0 0h1m1 0h1m4 0h1m1 0h1m0.5 0h1m-56.5 0.5h1m0 0h1m-1 0h1m-1 0h1m-0.5 0h1m-0.5 0h1m-1 0h1m-0.5 0h1m-0.5 0h1m-1 0h1m-0.5 0h1m-0.5 0h1m0.5 0h1m-1 0h1m-1 0h1m-1 0h1m-0.5 0h1m-0.5 0h1m-1 0h1m-0.5 0h1m-1 0h1m-1 0h1m1.5 0h1m-0.5 0h1m-1 0h1m-0.5 0h1m-1 0h1m-0.5 0h1m-1 0h1m-1 0h1m-1 0h1m-0.5 0h1m-1 0h1m-1 0h1m-0.5 0h1m-0.5 0h1m-0.5 0h1m1 0h1m4.5 0h1m-0.5 0h1m-0.5 0h1m4 0h1m-0.5 0h1m-1 0h1m1 0h1m0.5 0h1m-0.5 0h1m-0.5 0h1m0 0h1m-1 0h1m-1 0h1m0.5 0h1m-1 0h1m-1 0h1m0 0h1m-0.5 0h1m-1 0h1m0.5 0h1m-0.5 0h1m-0.5 0h1m-1 0h1m2.5 0h1m-1 0h1m-1 0h1m0 0h1m-1 0h1m0 0h1m-1 0h1m-1 0h1m-1 0h1m-1 0h1m-1 0h1m-0.5 0h1m0.5 0h1m0.5 0h1m-1 0h1m-0.5 0h1m0.5 0h1m-0.5 0h1m3.5 0h1m0 0h1m-55.5 0.5h1m-0.5 0h1m-1 0h1m-0.5 0h1m-1 0h1m-0.5 0h1m-1 0h1m-1 0h1m-0.5 0h1m-1 0h1m-1 0h1m0.5 0h1m-0.5 0h1m-1 0h1m-1 0h1m-0.5 0h1m-1 0h1m-0.5 0h1m-0.5 0h1m-0.5 0h1m-1 0h1m-1 0h1m-1 0h1m-1 0h1m-1 0h1m-1 0h1m-0.5 0h1m-1 0h1m0 0h1m-0.5 0h1m-1 0h1m-0.5 0h1m-1 0h1m-1 0h1m-0.5 0h1m-1 0h1m-1 0h1m-1 0h1m0 0h1m0 0h1m-1 0h1m-1 0h1m-0.5 0h1m-1 0h1m-1 0h1m-0.5 0h1m-1 0h1m0.5 0h1m2 0h1m2.5 0h1m1 0h1m-0.5 0h1m0 0h1m-1 0h1m-1 0h1m-0.5 0h1m-1 0h1m1.5 0h1m-0.5 0h1m-1 0h1m-0.5 0h1m-0.5 0h1m-0.5 0h1m-0.5 0h1m-0.5 0h1m-0.5 0h1m-1 0h1m-0.5 0h1m-1 0h1m0 0h1m-1 0h1m-0.5 0h1m-1 0h1m-0.5 0h1m-0.5 0h1m0.5 0h1m-1 0h1m0 0h1m-1 0h1m0.5 0h1m-1 0h1m-0.5 0h1m-0.5 0h1m-1 0h1m-1 0h1m0.5 0h1m-1 0h1m-1 0h1m-0.5 0h1m0 0h1m0 0h1m-1 0h1m-1 0h1m0 0h1m-0.5 0h1m-0.5 0h1m0 0h1m4 0h1m-1 0h1m-51 0.5h1m-1 0h1m0 0h1m-1 0h1m-1 0h1m-0.5 0h1m0 0h1m-1 0h1m0 0h1m-0.5 0h1m-0.5 0h1m-1 0h1m-0.5 0h1m-0.5 0h1m-1 0h1m-0.5 0h1m-1 0h1m0.5 0h1m-1 0h1m-0.5 0h1m-1 0h1m-0.5 0h1m-1 0h1m0.5 0h1m-1 0h1m-0.5 0h1m-0.5 0h1m-1 0h1m-0.5 0h1m-1 0h1m0 0h1m2 0h1m-1 0h1m1.5 0h1m-1 0h1m0 0h1m-0.5 0h1m1 0h1m-1 0h1m-1 0h1m-1 0h1m0.5 0h1m-0.5 0h1m-1 0h1m1.5 0h1m-0.5 0h1m-0.5 0h1m-0.5 0h1m0.5 0h1m0 0h1m-1 0h1m0 0h1m-0.5 0h1m-1 0h1m-0.5 0h1m-1 0h1m-0.5 0h1m-0.5 0h1m-0.5 0h1m-1 0h1m0 0h1m-1 0h1m0 0h1m-1 0h1m-1 0h1m-1 0h1m1 0h1m-1 0h1m-1 0h1m0 0h1m0.5 0h1m-1 0h1m-0.5 0h1m-1 0h1m0.5 0h1m1 0h1m-0.5 0h1m2 0h1m-0.5 0h1m0 0h1m-49.5 0.5h1m1.5 0h1m0 0h1m-0.5 0h1m-0.5 0h1m-0.5 0h1m-0.5 0h1m-1 0h1m-1 0h1m-0.5 0h1m-1 0h1m-1 0h1m-1 0h1m-0.5 0h1m-1 0h1m-1 0h1m-0.5 0h1m-1 0h1m-0.5 0h1m-1 0h1m-0.5 0h1m-1 0h1m-1 0h1m-0.5 0h1m-1 0h1m-0.5 0h1m-1 0h1m-1 0h1m-1 0h1m-0.5 0h1m-1 0h1m-0.5 0h1m-1 0h1m-0.5 0h1m1.5 0h1m0 0h1m0 0h1m-0.5 0h1m2.5 0h1m-0.5 0h1m3.5 0h1m-1 0h1m-0.5 0h1m0 0h1m-0.5 0h1m0.5 0h1m0 0h1m0 0h1m-1 0h1m-1 0h1m-0.5 0h1m0.5 0h1m-0.5 0h1m-0.5 0h1m-1 0h1m-0.5 0h1m-0.5 0h1m-0.5 0h1m-0.5 0h1m0 0h1m0 0h1m-0.5 0h1m-1 0h1m2 0h1m-1 0h1m0.5 0h1m-0.5 0h1m0 0h1m-0.5 0h1m-1 0h1m-0.5 0h1m0.5 0h1m-0.5 0h1m0 0h1m0 0h1m4 0h1m-55.5 0.5h1m-0.5 0h1m0 0h1m0 0h1m-1 0h1m-0.5 0h1m-0.5 0h1m-1 0h1m-0.5 0h1m-1 0h1m-0.5 0h1m-1 0h1m-0.5 0h1m-1 0h1m-1 0h1m-0.5 0h1m-0.5 0h1m-0.5 0h1m-1 0h1m-1 0h1m0 0h1m-0.5 0h1m-0.5 0h1m-1 0h1m-0.5 0h1m0 0h1m-1 0h1m-1 0h1m0 0h1m-1 0h1m-0.5 0h1m1 0h1m-1 0h1m-0.5 0h1m0.5 0h1m1 0h1m-1 0h1m0.5 0h1m-1 0h1m0 0h1m0.5 0h1m1.5 0h1m0 0h1m1.5 0h1m-1 0h1m0.5 0h1m0 0h1m0.5 0h1m-0.5 0h1m-1 0h1m-0.5 0h1m-0.5 0h1m-0.5 0h1m-1 0h1m-0.5 0h1m-0.5 0h1m-1 0h1m-0.5 0h1m-1 0h1m-1 0h1m-0.5 0h1m-0.5 0h1m-0.5 0h1m-1 0h1m-1 0h1m-0.5 0h1m-1 0h1m-0.5 0h1m-1 0h1m-0.5 0h1m-1 0h1m0 0h1m-1 0h1m-0.5 0h1m-0.5 0h1m2 0h1m-1 0h1m0.5 0h1m-1 0h1m-1 0h1m-0.5 0h1m0 0h1m0.5 0h1m-1 0h1m16 0h1m-65.5 0.5h1m-0.5 0h1m0 0h1m-1 0h1m0.5 0h1m-0.5 0h1m-0.5 0h1m1 0h1m-1 0h1m0 0h1m-1 0h1m-1 0h1m-1 0h1m0 0h1m-1 0h1m-1 0h1m-0.5 0h1m-1 0h1m-1 0h1m-0.5 0h1m-1 0h1m-1 0h1m-1 0h1m-0.5 0h1m-1 0h1m-0.5 0h1m-1 0h1m-0.5 0h1m-1 0h1m-1 0h1m-0.5 0h1m-1 0h1m-0.5 0h1m1 0h1m0.5 0h1m0.5 0h1m7.5 0h1m-1 0h1m-0.5 0h1m0 0h1m-1 0h1m-0.5 0h1m-1 0h1m0 0h1m0 0h1m-0.5 0h1m-1 0h1m-0.5 0h1m-0.5 0h1m-0.5 0h1m0 0h1m-1 0h1m0 0h1m0 0h1m-1 0h1m-0.5 0h1m-0.5 0h1m0 0h1m-0.5 0h1m-0.5 0h1m-1 0h1m-0.5 0h1m-0.5 0h1m-0.5 0h1m-0.5 0h1m0 0h1m-1 0h1m-1 0h1m-0.5 0h1m-0.5 0h1m-1 0h1m-1 0h1m-1 0h1m2 0h1m1 0h1m-0.5 0h1m0.5 0h1m0.5 0h1m-1 0h1m-49 0.5h1m-1 0h1m-0.5 0h1m-1 0h1m-1 0h1m0 0h1m-0.5 0h1m-1 0h1m0 0h1m-1 0h1m-1 0h1m-1 0h1m-1 0h1m-0.5 0h1m-1 0h1m-0.5 0h1m-0.5 0h1m-1 0h1m-0.5 0h1m-1 0h1m-0.5 0h1m-1 0h1m-1 0h1m-1 0h1m-0.5 0h1m-1 0h1m-1 0h1m-0.5 0h1m-1 0h1m0 0h1m-1 0h1m-0.5 0h1m-1 0h1m-1 0h1m-0.5 0h1m-1 0h1m-1 0h1m-1 0h1m-0.5 0h1m-0.5 0h1m-1 0h1m-1 0h1m-1 0h1m-0.5 0h1m-0.5 0h1m-1 0h1m0 0h1m5 0h1m-1 0h1m-1 0h1m2.5 0h1m0.5 0h1m0 0h1m-0.5 0h1m2 0h1m-1 0h1m1 0h1m-1 0h1m0 0h1m-1 0h1m-0.5 0h1m-0.5 0h1m0 0h1m-1 0h1m-0.5 0h1m-1 0h1m0 0h1m-1 0h1m-1 0h1m-1 0h1m1 0h1m-1 0h1m-1 0h1m1 0h1m-1 0h1m0 0h1m0 0h1m2 0h1m-0.5 0h1m11 0h1m-55.5 0.5h1m0 0h1m-1 0h1m-0.5 0h1m-1 0h1m-1 0h1m-0.5 0h1m-0.5 0h1m-1 0h1m-1 0h1m-0.5 0h1m-0.5 0h1m-1 0h1m-0.5 0h1m-0.5 0h1m-1 0h1m-1 0h1m-1 0h1m-1 0h1m0 0h1m-1 0h1m-0.5 0h1m-0.5 0h1m0 0h1m0.5 0h1m0 0h1m-1 0h1m-1 0h1m-0.5 0h1m-1 0h1m1 0h1m5 0h1m2 0h1m-1 0h1m0.5 0h1m0.5 0h1m0.5 0h1m0 0h1m-1 0h1m0 0h1m0 0h1m1 0h1m0 0h1m-0.5 0h1m-1 0h1m-0.5 0h1m-0.5 0h1m0 0h1m-0.5 0h1m-0.5 0h1m-1 0h1m-0.5 0h1m-1 0h1m-1 0h1m-0.5 0h1m-0.5 0h1m-1 0h1m-1 0h1m-1 0h1m-0.5 0h1m-0.5 0h1m-0.5 0h1m-1 0h1m-0.5 0h1m-0.5 0h1m-1 0h1m0.5 0h1m-1 0h1m8 0h1m-52.5 0.5h1m-0.5 0h1m-0.5 0h1m-1 0h1m-0.5 0h1m0 0h1m-0.5 0h1m-1 0h1m-0.5 0h1m0 0h1m-0.5 0h1m-0.5 0h1m-1 0h1m-0.5 0h1m-1 0h1m-0.5 0h1m-1 0h1m0 0h1m-0.5 0h1m-1 0h1m-0.5 0h1m0 0h1m-1 0h1m-0.5 0h1m-0.5 0h1m0.5 0h1m0 0h1m7.5 0h1m0 0h1m4 0h1m-0.5 0h1m-0.5 0h1m-0.5 0h1m0 0h1m-0.5 0h1m-0.5 0h1m-1 0h1m0 0h1m2.5 0h1m-1 0h1m-0.5 0h1m0 0h1m-1 0h1m-0.5 0h1m1.5 0h1m-1 0h1m-1 0h1m-0.5 0h1m-0.5 0h1m0.5 0h1m-1 0h1m-0.5 0h1m0.5 0h1m-0.5 0h1m-0.5 0h1m-1 0h1m0.5 0h1m-0.5 0h1m-1 0h1m-48 0.5h1m-1 0h1m0 0h1m-1 0h1m-0.5 0h1m-0.5 0h1m-1 0h1m-1 0h1m-0.5 0h1m-0.5 0h1m-1 0h1m-1 0h1m0 0h1m-1 0h1m-0.5 0h1m-1 0h1m-0.5 0h1m0 0h1m-0.5 0h1m-0.5 0h1m-1 0h1m-0.5 0h1m-0.5 0h1m-1 0h1m-0.5 0h1m0 0h1m-1 0h1m0 0h1m0 0h1m-0.5 0h1m0 0h1m0.5 0h1m-1 0h1m1 0h1m-1 0h1m2 0h1m0.5 0h1m0.5 0h1m1.5 0h1m0 0h1m-0.5 0h1m1 0h1m-1 0h1m1 0h1m-0.5 0h1m0 0h1m-0.5 0h1m0 0h1m-1 0h1m-0.5 0h1m-0.5 0h1m1.5 0h1m-0.5 0h1m-0.5 0h1m-0.5 0h1m-0.5 0h1m0 0h1m0 0h1m-1 0h1m0 0h1m3 0h1m-1 0h1m-0.5 0h1m-0.5 0h1m3 0h1m-52.5 0.5h1m0 0h1m-0.5 0h1m2 0h1m-1 0h1m-0.5 0h1m-0.5 0h1m-1 0h1m-0.5 0h1m-1 0h1m-0.5 0h1m-1 0h1m-0.5 0h1m-0.5 0h1m0.5 0h1m-0.5 0h1m-1 0h1m1 0h1m0 0h1m-1 0h1m3.5 0h1m1.5 0h1m0.5 0h1m-0.5 0h1m0.5 0h1m0.5 0h1m-1 0h1m1.5 0h1m1.5 0h1m0.5 0h1m1 0h1m-0.5 0h1m-0.5 0h1m0 0h1m-0.5 0h1m-1 0h1m-0.5 0h1m-1 0h1m-1 0h1m-1 0h1m-0.5 0h1m-0.5 0h1m-1 0h1m-0.5 0h1m-0.5 0h1m2 0h1m-1 0h1m-0.5 0h1m-1 0h1m-1 0h1m-0.5 0h1m0 0h1m0.5 0h1m-1 0h1m-1 0h1m1 0h1m1 0h1m-0.5 0h1m1.5 0h1m4 0h1m-57.5 0.5h1m-0.5 0h1m-0.5 0h1m-0.5 0h1m-1 0h1m0 0h1m0 0h1m-1 0h1m-0.5 0h1m1 0h1m-0.5 0h1m-1 0h1m-0.5 0h1m-0.5 0h1m-1 0h1m-0.5 0h1m-0.5 0h1m-1 0h1m-1 0h1m-1 0h1m-0.5 0h1m-1 0h1m-1 0h1m0.5 0h1m1 0h1m0.5 0h1m-1 0h1m0.5 0h1m-1 0h1m-0.5 0h1m-0.5 0h1m0.5 0h1m0.5 0h1m1 0h1m-1 0h1m-0.5 0h1m0.5 0h1m1 0h1m-1 0h1m-0.5 0h1m2 0h1m-0.5 0h1m-0.5 0h1m-0.5 0h1m0 0h1m-0.5 0h1m-1 0h1m0.5 0h1m-1 0h1m-1 0h1m0 0h1m0 0h1m-1 0h1m0.5 0h1m-0.5 0h1m-0.5 0h1m-1 0h1m-0.5 0h1m-0.5 0h1m-1 0h1m-0.5 0h1m-1 0h1m-0.5 0h1m-0.5 0h1m-1 0h1m-1 0h1m1.5 0h1m0 0h1m-1 0h1m1 0h1m0.5 0h1m0 0h1m11.5 0h1m0 0h1m-63 0.5h1m-1 0h1m1 0h1m-1 0h1m-1 0h1m0 0h1m-0.5 0h1m-0.5 0h1m-0.5 0h1m-0.5 0h1m-0.5 0h1m-1 0h1m-0.5 0h1m-0.5 0h1m-1 0h1m-0.5 0h1m0 0h1m-0.5 0h1m0 0h1m-0.5 0h1m0 0h1m0 0h1m0.5 0h1m-1 0h1m-0.5 0h1m-0.5 0h1m1.5 0h1m1.5 0h1m0.5 0h1m0.5 0h1m5.5 0h1m1 0h1m-0.5 0h1m-1 0h1m2 0h1m0.5 0h1m-0.5 0h1m-0.5 0h1m-1 0h1m-1 0h1m-0.5 0h1m0 0h1m5.5 0h1m1 0h1m-0.5 0h1m6 0h1m-55 0.5h1m-1 0h1m0.5 0h1m-0.5 0h1m-0.5 0h1m-1 0h1m-0.5 0h1m-1 0h1m0 0h1m-0.5 0h1m-0.5 0h1m-1 0h1m-1 0h1m-0.5 0h1m-1 0h1m0.5 0h1m-1 0h1m-1 0h1m0 0h1m-1 0h1m0 0h1m-1 0h1m-0.5 0h1m-1 0h1m-1 0h1m-1 0h1m-0.5 0h1m-0.5 0h1m1 0h1m-1 0h1m-0.5 0h1m-0.5 0h1m-1 0h1m2.5 0h1m2.5 0h1m-0.5 0h1m-1 0h1m1 0h1m1 0h1m0.5 0h1m1 0h1m-1 0h1m-0.5 0h1m2 0h1m-0.5 0h1m-0.5 0h1m-1 0h1m1 0h1m0 0h1m-0.5 0h1m0 0h1m-1 0h1m-0.5 0h1m-0.5 0h1m-0.5 0h1m-0.5 0h1m-1 0h1m1 0h1m0 0h1m3 0h1m-0.5 0h1m10.5 0h1m-60 0.5h1m0 0h1m0 0h1m-0.5 0h1m-0.5 0h1m-0.5 0h1m-1 0h1m-1 0h1m-0.5 0h1m-0.5 0h1m-0.5 0h1m-0.5 0h1m-0.5 0h1m-0.5 0h1m-1 0h1m-1 0h1m-1 0h1m-0.5 0h1m-1 0h1m-0.5 0h1m-1 0h1m-1 0h1m-0.5 0h1m0 0h1m-1 0h1m-1 0h1m-1 0h1m-0.5 0h1m0 0h1m-0.5 0h1m-1 0h1m0 0h1m-1 0h1m0 0h1m0 0h1m3 0h1m1 0h1m1 0h1m2 0h1m1.5 0h1m-1 0h1m-0.5 0h1m-0.5 0h1m0 0h1m-1 0h1m-1 0h1m1 0h1m-0.5 0h1m0.5 0h1m0 0h1m0 0h1m-0.5 0h1m-1 0h1m0 0h1m0.5 0h1m-0.5 0h1m0 0h1m-0.5 0h1m-0.5 0h1m-0.5 0h1m0.5 0h1m0 0h1m-0.5 0h1m0 0h1m2 0h1m-0.5 0h1m-50.5 0.5h1m-0.5 0h1m0.5 0h1m0 0h1m-0.5 0h1m-0.5 0h1m-0.5 0h1m0 0h1m-1 0h1m-0.5 0h1m-0.5 0h1m-1 0h1m-0.5 0h1m-1 0h1m-0.5 0h1m-0.5 0h1m-1 0h1m-0.5 0h1m0 0h1m-1 0h1m-1 0h1m0 0h1m-1 0h1m4 0h1m-1 0h1m-1 0h1m1 0h1m3.5 0h1m1 0h1m3 0h1m0 0h1m-1 0h1m-0.5 0h1m-0.5 0h1m0 0h1m-0.5 0h1m-0.5 0h1m0 0h1m0.5 0h1m-0.5 0h1m-0.5 0h1m0.5 0h1m-0.5 0h1m0.5 0h1m-1 0h1m1 0h1m-1 0h1m-1 0h1m0 0h1m-1 0h1m-1 0h1m1 0h1m0.5 0h1m-44.5 0.5h1m-0.5 0h1m-0.5 0h1m-0.5 0h1m-0.5 0h1m-0.5 0h1m1.5 0h1m-0.5 0h1m-1 0h1m0 0h1m-0.5 0h1m-1 0h1m4 0h1m1 0h1m1.5 0h1m1 0h1m-0.5 0h1m-0.5 0h1m0 0h1m-0.5 0h1m-0.5 0h1m3.5 0h1m-0.5 0h1m0 0h1m1 0h1m1 0h1m-0.5 0h1m0 0h1m0 0h1m3.5 0h1m-0.5 0h1m0 0h1m-0.5 0h1m1.5 0h1m11 0h1m-56.5 0.5h1m-0.5 0h1m-0.5 0h1m0.5 0h1m0.5 0h1m-0.5 0h1m-0.5 0h1m-1 0h1m-0.5 0h1m-1 0h1m0.5 0h1m-1 0h1m2.5 0h1m1 0h1m0.5 0h1m1.5 0h1m0.5 0h1m4 0h1m5.5 0h1m0.5 0h1m1 0h1m-0.5 0h1m0.5 0h1m-1 0h1m-1 0h1m-0.5 0h1m-0.5 0h1m-0.5 0h1m0.5 0h1m0 0h1m-0.5 0h1m1 0h1m1 0h1m2 0h1m-48.5 0.5h1m0 0h1m0 0h1m0 0h1m0.5 0h1m0 0h1m-0.5 0h1m-0.5 0h1m-1 0h1m-1 0h1m0 0h1m-0.5 0h1m0.5 0h1m0.5 0h1m0.5 0h1m-1 0h1m5.5 0h1m1.5 0h1m1.5 0h1m0.5 0h1m0 0h1m-0.5 0h1m2.5 0h1m-0.5 0h1m-0.5 0h1m-0.5 0h1m0.5 0h1m-0.5 0h1m-0.5 0h1m0 0h1m-1 0h1m0 0h1m-0.5 0h1m2 0h1m0.5 0h1m0 0h1m3 0h1m2 0h1m-49.5 0.5h1m0 0h1m2 0h1m1.5 0h1m2 0h1m-0.5 0h1m-1 0h1m0 0h1m-0.5 0h1m1.5 0h1m-0.5 0h1m0 0h1m4.5 0h1m-0.5 0h1m-0.5 0h1m-0.5 0h1m8.5 0h1m2.5 0h1m2 0h1m1.5 0h1m1 0h1m-44.5 0.5h1m3.5 0h1m-0.5 0h1m1 0h1m-1 0h1m-0.5 0h1m-0.5 0h1m0 0h1m-1 0h1m0.5 0h1m-0.5 0h1m1 0h1m2 0h1m1.5 0h1m2 0h1m2 0h1m1 0h1m0.5 0h1m1 0h1m0.5 0h1m5 0h1m2.5 0h1m1 0h1m0 0h1m-0.5 0h1m1 0h1m3.5 0h1m-50.5 0.5h1m0.5 0h1m-0.5 0h1m-0.5 0h1m-0.5 0h1m-1 0h1m0.5 0h1m-1 0h1m0 0h1m0 0h1m-1 0h1m1 0h1m-0.5 0h1m-1 0h1m0.5 0h1m3.5 0h1m12 0h1m2 0h1m0.5 0h1m1 0h1m2 0h1m-1 0h1m1.5 0h1m1 0h1m12 0h1m-55.5 0.5h1m0.5 0h1m-0.5 0h1m-0.5 0h1m-1 0h1m-1 0h1m-1 0h1m0 0h1m0 0h1m-0.5 0h1m0 0h1m-0.5 0h1m1 0h1m-0.5 0h1m-1 0h1m-0.5 0h1m0 0h1m0 0h1m0.5 0h1m-1 0h1m6.5 0h1m0.5 0h1m0.5 0h1m-0.5 0h1m1.5 0h1m4 0h1m0 0h1m2.5 0h1m0.5 0h1m3.5 0h1m-45.5 0.5h1m1.5 0h1m0.5 0h1m-0.5 0h1m1 0h1m0 0h1m0 0h1m8.5 0h1m1 0h1m1 0h1m0 0h1m9 0h1m4.5 0h1m3 0h1m6.5 0h1m-47.5 0.5h1m-0.5 0h1m-0.5 0h1m-1 0h1m-0.5 0h1m1 0h1m-1 0h1m1.5 0h1m-1 0h1m0 0h1m12 0h1m2 0h1m0.5 0h1m3.5 0h1m4 0h1m-0.5 0h1m-38.5 0.5h1m0 0h1m-1 0h1m0.5 0h1m-1 0h1m0 0h1m-1 0h1m-1 0h1m2 0h1m-1 0h1m4 0h1m-0.5 0h1m1 0h1m9 0h1m4.5 0h1m8 0h1m3 0h1m-1 0h1m-43 0.5h1m0.5 0h1m-0.5 0h1m2 0h1m4 0h1m-0.5 0h1m8.5 0h1m-0.5 0h1m2.5 0h1m0.5 0h1m7 0h1m7 0h1m-43 0.5h1m4 0h1m0.5 0h1m0 0h1m-1 0h1m1.5 0h1m2.5 0h1m0.5 0h1m0 0h1m2 0h1m0 0h1m0.5 0h1m1.5 0h1m0 0h1m8 0h1m5 0h1m-38 0.5h1m0.5 0h1m-0.5 0h1m0 0h1m2.5 0h1m4 0h1m3.5 0h1m2 0h1m0 0h1m9 0h1m11 0h1m-43 0.5h1m0 0h1m1.5 0h1m-0.5 0h1m-1 0h1m8 0h1m3 0h1m1 0h1m-0.5 0h1m1.5 0h1m0 0h1m1.5 0h1m2.5 0h1m10.5 0h1m-42.5 0.5h1m0.5 0h1m5 0h1m2.5 0h1m6.5 0h1m0 0h1m-0.5 0h1m-0.5 0h1m-0.5 0h1m0 0h1m21.5 0h1m-43 0.5h1m0.5 0h1m-0.5 0h1m13 0h1m-0.5 0h1m-1 0h1m0 0h1m0 0h1m-0.5 0h1m-1 0h1m12 0h1m-35.5 0.5h1m2 0h1m2 0h1m3 0h1m3 0h1m4 0h1m-1 0h1m-0.5 0h1m0 0h1m-1 0h1m-0.5 0h1m-0.5 0h1m-1 0h1m-1 0h1m0.5 0h1m-22.5 0.5h1m4 0h1m1 0h1m-0.5 0h1m5.5 0h1m0.5 0h1m0 0h1m-1 0h1m0 0h1m-0.5 0h1m-1 0h1m-0.5 0h1m0 0h1m-0.5 0h1m-0.5 0h1m-0.5 0h1m-0.5 0h1m4 0h1m-31.5 0.5h1m9 0h1m-0.5 0h1m0.5 0h1m8 0h1m-0.5 0h1m-0.5 0h1m-1 0h1m-0.5 0h1m-1 0h1m-0.5 0h1m-1 0h1m-0.5 0h1m-1 0h1m-0.5 0h1m-0.5 0h1m0.5 0h1m21.5 0h1m-44.5 0.5h1m9 0h1m3 0h1m-1 0h1m0 0h1m-0.5 0h1m-0.5 0h1m0 0h1m-0.5 0h1m-1 0h1m-0.5 0h1m-0.5 0h1m-0.5 0h1m-1 0h1m-1 0h1m-0.5 0h1m-0.5 0h1m-0.5 0h1m-1 0h1m4.5 0h1m-25 0.5h1m3.5 0h1m-1 0h1m1.5 0h1m4 0h1m-0.5 0h1m0.5 0h1m-0.5 0h1m-0.5 0h1m0 0h1m-1 0h1m-1 0h1m-1 0h1m-0.5 0h1m-1 0h1m0 0h1m-1 0h1m-0.5 0h1m-0.5 0h1m-1 0h1m-7.5 0.5h1m-0.5 0h1m-0.5 0h1m-1 0h1m-0.5 0h1m0 0h1m-1 0h1m-1 0h1m0.5 0h1m-1 0h1m-0.5 0h1m-0.5 0h1m-0.5 0h1m-0.5 0h1m-0.5 0h1m24 0h1m-47.5 0.5h1m13.5 0h1m0 0h1m0 0h1m-1 0h1m0.5 0h1m-1 0h1m-0.5 0h1m-1 0h1m-1 0h1m-0.5 0h1m-1 0h1m-1 0h1m-1 0h1m-0.5 0h1m-0.5 0h1m-1 0h1m-0.5 0h1m0 0h1m-9.5 0.5h1m-1 0h1m-0.5 0h1m-0.5 0h1m0 0h1m-0.5 0h1m-1 0h1m-0.5 0h1m-1 0h1m-0.5 0h1m-0.5 0h1m-0.5 0h1m-1 0h1m-0.5 0h1m-0.5 0h1m0 0h1m-1 0h1m-0.5 0h1m-1 0h1m0 0h1m-0.5 0h1m-0.5 0h1m15.5 0h1m6 0h1m-50 0.5h1m14.5 0h1m0.5 0h1m-0.5 0h1m-0.5 0h1m-0.5 0h1m-1 0h1m-1 0h1m-1 0h1m-0.5 0h1m-0.5 0h1m0 0h1m-0.5 0h1m-0.5 0h1m-1 0h1m-1 0h1m-1 0h1m-0.5 0h1m-0.5 0h1m-1 0h1m-0.5 0h1m-0.5 0h1m-1 0h1m-0.5 0h1m-0.5 0h1m-1 0h1m21 0h1m-32.5 0.5h1m-0.5 0h1m0 0h1m-0.5 0h1m-0.5 0h1m-0.5 0h1m-0.5 0h1m-1 0h1m-0.5 0h1m-1 0h1m-0.5 0h1m-1 0h1m-0.5 0h1m-1 0h1m-0.5 0h1m-0.5 0h1m-1 0h1m-0.5 0h1m-1 0h1m-1 0h1m-0.5 0h1m-1 0h1m-0.5 0h1m-1 0h1m-1 0h1m-1 0h1m0 0h1m-0.5 0h1m-0.5 0h1m-0.5 0h1m-1 0h1m0 0h1m-16.5 0.5h1m1.5 0h1m1 0h1m2 0h1m-1 0h1m-0.5 0h1m-0.5 0h1m-1 0h1m0.5 0h1m0 0h1m-1 0h1m-0.5 0h1m-1 0h1m-1 0h1m-0.5 0h1m-1 0h1m-1 0h1m-1 0h1m0 0h1m-0.5 0h1m17.5 0h1m-31.5 0.5h1m3 0h1m2 0h1m-1 0h1m-0.5 0h1m-1 0h1m-0.5 0h1m-0.5 0h1m-1 0h1m-0.5 0h1m0 0h1m-1 0h1m-0.5 0h1m-0.5 0h1m-0.5 0h1m-13.5 0.5h1m5 0h1m-1 0h1m-0.5 0h1m-1 0h1m-0.5 0h1m-1 0h1m-1 0h1m-0.5 0h1m-1 0h1m-1 0h1m0 0h1m-1 0h1m-1 0h1m-1 0h1m-0.5 0h1m-0.5 0h1m-1 0h1m-1 0h1m-1 0h1m-1 0h1m0 0h1m1 0h1m-1 0h1m0.5 0h1m-10.5 0.5h1m-0.5 0h1m-1 0h1m-0.5 0h1m0.5 0h1m-0.5 0h1m-1 0h1m-0.5 0h1m-1 0h1m-0.5 0h1m-1 0h1m-0.5 0h1m-1 0h1m-1 0h1m-0.5 0h1m-0.5 0h1m-1 0h1m-0.5 0h1m-1 0h1m-1 0h1m-0.5 0h1m-1 0h1m-1 0h1m-0.5 0h1m-0.5 0h1m-1 0h1m0.5 0h1m-1 0h1m25.5 0h1m-48 0.5h1m1.5 0h1m1.5 0h1m3.5 0h1m1.5 0h1m-0.5 0h1m-1 0h1m-1 0h1m-0.5 0h1m-0.5 0h1m-1 0h1m-0.5 0h1m-1 0h1m-1 0h1m0 0h1m-1 0h1m-1 0h1m-1 0h1m-1 0h1m-0.5 0h1m-1 0h1m-1 0h1m-1 0h1m-1 0h1m-1 0h1m-0.5 0h1m-1 0h1m-0.5 0h1m-1 0h1m-1 0h1m-0.5 0h1m-1 0h1m-1 0h1m-0.5 0h1m1 0h1m-1 0h1m-22 0.5h1m6 0h1m3.5 0h1m1.5 0h1m-0.5 0h1m-1 0h1m-1 0h1m-0.5 0h1m-1 0h1m0 0h1m-1 0h1m-1 0h1m-0.5 0h1m-1 0h1m-0.5 0h1m-1 0h1m-0.5 0h1m-1 0h1m-1 0h1m-0.5 0h1m-1 0h1m-1 0h1m-0.5 0h1m-1 0h1m-1 0h1m-0.5 0h1m-1 0h1m-1 0h1m-1 0h1m0.5 0h1m-0.5 0h1m0 0h1m0 0h1m-1 0h1m-0.5 0h1m-20.5 0.5h1m4 0h1m2 0h1m0 0h1m-0.5 0h1m0 0h1m-0.5 0h1m-1 0h1m-0.5 0h1m-1 0h1m-0.5 0h1m-0.5 0h1m-1 0h1m0 0h1m-0.5 0h1m-1 0h1m-0.5 0h1m-1 0h1m-1 0h1m-0.5 0h1m-0.5 0h1m-0.5 0h1m-0.5 0h1m-9 0.5h1m-0.5 0h1m-1 0h1m-1 0h1m0 0h1m-0.5 0h1m-1 0h1m-0.5 0h1m-1 0h1m0 0h1m-1 0h1m-1 0h1m-1 0h1m-1 0h1m-0.5 0h1m-1 0h1m-1 0h1m-1 0h1m0 0h1m-1 0h1m-0.5 0h1m-1 0h1m-1 0h1m-0.5 0h1m-0.5 0h1m-1 0h1m-1 0h1m-0.5 0h1m-1 0h1m-0.5 0h1m0 0h1m-1 0h1m-25 0.5h1m10.5 0h1m-0.5 0h1m0.5 0h1m0.5 0h1m0 0h1m-1 0h1m-1 0h1m-1 0h1m-0.5 0h1m-0.5 0h1m-1 0h1m-0.5 0h1m-1 0h1m-1 0h1m-1 0h1m-0.5 0h1m-0.5 0h1m-1 0h1m-1 0h1m-0.5 0h1m-1 0h1m-0.5 0h1m-1 0h1m-1 0h1m-0.5 0h1m-1 0h1m-1 0h1m-1 0h1m-1 0h1m-0.5 0h1m-0.5 0h1m-1 0h1m-0.5 0h1m-1 0h1m0 0h1m2 0h1m-15 0.5h1m1 0h1m-0.5 0h1m-0.5 0h1m0 0h1m-1 0h1m-0.5 0h1m-1 0h1m-0.5 0h1m-1 0h1m-1 0h1m-0.5 0h1m-1 0h1m-1 0h1m-0.5 0h1m-1 0h1m-1 0h1m-0.5 0h1m-0.5 0h1m-0.5 0h1m-1 0h1m-1 0h1m-0.5 0h1m-1 0h1m-1 0h1m-0.5 0h1m-1 0h1m0 0h1m-1 0h1m-0.5 0h1m5.5 0h1m-21 0.5h1m1.5 0h1m1.5 0h1m1 0h1m-0.5 0h1m-0.5 0h1m-0.5 0h1m-1 0h1m-1 0h1m-0.5 0h1m-1 0h1m-1 0h1m-0.5 0h1m-1 0h1m-0.5 0h1m-1 0h1m-1 0h1m-1 0h1m-0.5 0h1m-1 0h1m-0.5 0h1m-1 0h1m-1 0h1m-1 0h1m-0.5 0h1m-1 0h1m-0.5 0h1m-1 0h1m-1 0h1m-1 0h1m-0.5 0h1m-0.5 0h1m-1 0h1m0 0h1m-1 0h1m-1 0h1m-1 0h1m-0.5 0h1m-0.5 0h1m-12 0.5h1m-0.5 0h1m2 0h1m-1 0h1m-1 0h1m-0.5 0h1m-1 0h1m-0.5 0h1m-1 0h1m-1 0h1m-0.5 0h1m-0.5 0h1m-1 0h1m-1 0h1m0 0h1m-0.5 0h1m-0.5 0h1m-1 0h1m-1 0h1m-1 0h1m-0.5 0h1m-1 0h1m-1 0h1m-0.5 0h1m-1 0h1m-1 0h1m-1 0h1m0 0h1m-10 0.5h1m2.5 0h1m-1 0h1m-1 0h1m-1 0h1m0 0h1m-1 0h1m-0.5 0h1m-0.5 0h1m-0.5 0h1m-1 0h1m-0.5 0h1m-1 0h1m-1 0h1m-0.5 0h1m0 0h1m-0.5 0h1m-0.5 0h1m-1 0h1m-15.5 0.5h1m4.5 0h1m0.5 0h1m-0.5 0h1m-0.5 0h1m-0.5 0h1m-1 0h1m-0.5 0h1m-0.5 0h1m-1 0h1m-0.5 0h1m-1 0h1m-1 0h1m-0.5 0h1m-1 0h1m-1 0h1m-0.5 0h1m-1 0h1m-1 0h1m-1 0h1m-0.5 0h1m-1 0h1m-1 0h1m-1 0h1m-1 0h1m-0.5 0h1m-1 0h1m-0.5 0h1m-1 0h1m-0.5 0h1m-1 0h1m0.5 0h1m3.5 0h1m27 0h1m-41.5 0.5h1m0 0h1m-0.5 0h1m-1 0h1m0.5 0h1m-0.5 0h1m-1 0h1m-0.5 0h1m-1 0h1m-1 0h1m-0.5 0h1m-1 0h1m-1 0h1m-1 0h1m-0.5 0h1m-1 0h1m-1 0h1m-1 0h1m-1 0h1m-0.5 0h1m-1 0h1m-0.5 0h1m-0.5 0h1m-1 0h1m0 0h1m24 0h1m-47 0.5h1m11 0h1m0 0h1m0 0h1m0 0h1m-1 0h1m-1 0h1m-0.5 0h1m-1 0h1m-0.5 0h1m-0.5 0h1m-1 0h1m-1 0h1m-1 0h1m0 0h1m-1 0h1m-1 0h1m-1 0h1m-0.5 0h1m-1 0h1m-1 0h1m-1 0h1m-0.5 0h1m-0.5 0h1m-1 0h1m-0.5 0h1m-1 0h1m-1 0h1m0.5 0h1m-1 0h1m-13.5 0.5h1m3 0h1m-0.5 0h1m-0.5 0h1m-1 0h1m-0.5 0h1m-1 0h1m-1 0h1m0 0h1m-1 0h1m-1 0h1m-1 0h1m-0.5 0h1m-1 0h1m-0.5 0h1m-1 0h1m0 0h1m-0.5 0h1m-1 0h1m-0.5 0h1m-1 0h1m-0.5 0h1m0 0h1m-1 0h1m-0.5 0h1m0 0h1m0 0h1m1 0h1m1 0h1m-13.5 0.5h1m-1 0h1m0 0h1m-0.5 0h1m-1 0h1m-0.5 0h1m-1 0h1m-0.5 0h1m-1 0h1m-0.5 0h1m-1 0h1m-1 0h1m-1 0h1m-0.5 0h1m-1 0h1m-0.5 0h1m-1 0h1m-1 0h1m-1 0h1m-1 0h1m-0.5 0h1m-1 0h1m0.5 0h1m1.5 0h1m0 0h1m-12 0.5h1m0 0h1m-0.5 0h1m0 0h1m-0.5 0h1m-1 0h1m-1 0h1m-0.5 0h1m-0.5 0h1m-0.5 0h1m-1 0h1m-1 0h1m0 0h1m-0.5 0h1m-1 0h1m-0.5 0h1m-0.5 0h1m0.5 0h1m41 0h1m-53.5 0.5h1m0 0h1m2.5 0h1m0 0h1m-1 0h1m-0.5 0h1m-0.5 0h1m-1 0h1m-1 0h1m-0.5 0h1m0 0h1m-1 0h1m-0.5 0h1m1 0h1m0 0h1m0.5 0h1m-11.5 0.5h1m2.5 0h1m-1 0h1m-0.5 0h1m-1 0h1m-0.5 0h1m0 0h1m-0.5 0h1m0.5 0h1m-0.5 0h1m-1 0h1m-1 0h1m-14 0.5h1m3.5 0h1m1 0h1m-1 0h1m-0.5 0h1m0 0h1m-0.5 0h1m-1 0h1m-1 0h1m-0.5 0h1m-1 0h1m-1 0h1m-0.5 0h1m-0.5 0h1m-1 0h1m-0.5 0h1m-1 0h1m-1 0h1m0.5 0h1m0 0h1m1 0h1m-0.5 0h1m-16.5 0.5h1m4.5 0h1m-0.5 0h1m0 0h1m-1 0h1m-0.5 0h1m-1 0h1m-0.5 0h1m0 0h1m-0.5 0h1m-0.5 0h1m-1 0h1m-1 0h1m-0.5 0h1m-0.5 0h1m-0.5 0h1m-0.5 0h1m1.5 0h1m15.5 0h1m-25 0.5h1m-1 0h1m0 0h1m0 0h1m1.5 0h1m-0.5 0h1m-0.5 0h1m0 0h1m-8.5 0.5h1m-0.5 0h1m0 0h1m0 0h1m-0.5 0h1m-1 0h1m-0.5 0h1m-1 0h1m-1 0h1m0 0h1m-1 0h1m0.5 0h1m1.5 0h1m-10 0.5h1m1 0h1m0 0h1m-0.5 0h1m0 0h1m1 0h1m-4 0.5h1m7 0h1m-22 0.5h1m6 0h1m3 0h1m2 0h1m-0.5 0h1m0 0h1m2 0h1m-23 0.5h1m12 0.5h1m0.5 0h1m15.5 0h1m-15 0.5h1m-10 0.5h1m4 1h1m1.5 0.5h1m-6 0.5h1m3 0h1m7 0.5h1m-8.5 0.5h1m4.5 0.5h1m2.5 0h1m33.5 0h1m-53.5 1h1m12 0h1m33.5 0h1m-45 1.5h1m-7.5 0.5h1m8 0h1" stroke="#000" stroke-opacity="0.5" stroke-width="1" fill="none" filter="url(#bl)"/>
<rect x="225" y="5.2" width="22.16" height="11.4" fill="#fff"/>
<rect x="273.74" y="5.2" width="21.96" height="11.4" fill="#fff"/>
<rect x="225" y="66.22" width="22.16" height="10.48" fill="#fff"/>
<rect x="273.74" y="66.22" width="21.96" height="10.48" fill="#fff"/>
<rect x="224.2" y="4.6" width="72.3" height="72.7" fill="none" stroke="#a8a8a8" stroke-width="1.1"/>
<path d="M225.4 5.6V77.3M224.2 76.1H295.5" stroke="#c8c8c8" stroke-width="1" stroke-dasharray="1 2" fill="none"/>
<path d="M246.2 77.3H275.2" stroke="#8a8a8a" stroke-width="1" fill="none"/>
<path d="M251.3 4.6V77.3M224.2 47.3H296.5" stroke="#555" stroke-width="1.3" fill="none"/>
<text transform="translate(225.7 14.6) scale(1.02 1)" font-size="9.7" text-anchor="start">47.2</text>
<text transform="translate(295.2 14.6) scale(1.02 1)" font-size="9.7" text-anchor="end">27.8</text>
<text transform="translate(225.7 75.6) scale(1.02 1)" font-size="9.7" text-anchor="start">24.2</text>
<text transform="translate(295.2 75.6) scale(1.02 1)" font-size="9.7" text-anchor="end">0.76</text>
<path d="M217.8 77.9l1 0.7l2.6-1.8M217.8 59.73l1 0.7l2.6-1.8M217.8 41.55l1 0.7l2.6-1.8M217.8 23.37l1 0.7l2.6-1.8M217.8 5.2l1 0.7l2.6-1.8M222 81.6l1 0.8l2.8-1.9M240.07 81.6l1 0.8l2.8-1.9M258.15 81.6l1 0.8l2.8-1.9M276.23 81.6l1 0.8l2.8-1.9M294.3 81.6l1 0.8l2.8-1.9" stroke="#8a8a8a" stroke-width="1.0" fill="none"/>
<path d="M328 7h1m34.5 0.5h1m-34.5 1h1m43.5 1.5h1m-56.5 0.5h1m13.5 0h1m-2 0.5h1m-9.5 0.5h1m-9 1.5h1m4 0.5h1m3 0h1m-6.5 0.5h1m28 0.5h1m-27 0.5h1m5.5 0h1m-15 0.5h1m9.5 0h1m6 0h1m7.5 0h1m-22.5 0.5h1m-1 0h1m0.5 0h1m4 0h1m-8 0.5h1m10 0h1m2.5 0h1m25.5 0h1m-46 0.5h1m3.5 0h1m1 0h1m2.5 0h1m0 0h1m-4.5 0.5h1m-0.5 0h1m1 0h1m3 0h1m-9.5 0.5h1m0 0h1m1.5 0h1m5 0h1m-0.5 0h1m-18 0.5h1m5 0h1m12 0h1m-0.5 0h1m1 0h1m-16.5 0.5h1m5 0h1m3.5 0h1m3 0h1m-21.5 0.5h1m1 0h1m2 0h1m-0.5 0h1m2 0h1m3 0h1m-0.5 0h1m0 0h1m2.5 0h1m-16 0.5h1m1 0h1m0 0h1m1 0h1m1 0h1m14.5 0h1m8 0h1m-32.5 0.5h1m3 0h1m1 0h1m0.5 0h1m-0.5 0h1m-1 0h1m2.5 0h1m-1 0h1m3.5 0h1m25.5 0h1m-42 0.5h1m-0.5 0h1m-0.5 0h1m-0.5 0h1m-0.5 0h1m0 0h1m1.5 0h1m0 0h1m0 0h1m1.5 0h1m18.5 0h1m5.5 0h1m-36.5 0.5h1m1.5 0h1m6.5 0h1m8 0h1m6.5 0h1m-31.5 0.5h1m1 0h1m0 0h1m-0.5 0h1m2.5 0h1m-0.5 0h1m0 0h1m-0.5 0h1m56 0h1m-67 0.5h1m0.5 0h1m-1 0h1m3 0h1m1 0h1m-0.5 0h1m0 0h1m0 0h1m-0.5 0h1m0 0h1m-1 0h1m2 0h1m-0.5 0h1m0 0h1m0.5 0h1m13.5 0h1m-32 0.5h1m-0.5 0h1m-0.5 0h1m-0.5 0h1m0 0h1m-1 0h1m0 0h1m1 0h1m-1 0h1m-0.5 0h1m-0.5 0h1m-0.5 0h1m-1 0h1m0 0h1m-1 0h1m-0.5 0h1m0.5 0h1m-0.5 0h1m-1 0h1m1 0h1m1.5 0h1m-0.5 0h1m2 0h1m8.5 0h1m3.5 0h1m4.5 0h1m-34.5 0.5h1m-0.5 0h1m-0.5 0h1m-0.5 0h1m0 0h1m9 0h1m1.5 0h1m-20.5 0.5h1m1 0h1m1.5 0h1m-0.5 0h1m-0.5 0h1m0.5 0h1m0 0h1m-0.5 0h1m0.5 0h1m-0.5 0h1m-1 0h1m1 0h1m-1 0h1m3 0h1m2 0h1m1.5 0h1m4 0h1m2 0h1m0 0h1m1 0h1m0 0h1m-36 0.5h1m3.5 0h1m-0.5 0h1m-0.5 0h1m0 0h1m1.5 0h1m0 0h1m0.5 0h1m0.5 0h1m0.5 0h1m-0.5 0h1m0.5 0h1m19.5 0h1m3.5 0h1m-40.5 0.5h1m1.5 0h1m-0.5 0h1m0 0h1m-1 0h1m-1 0h1m-0.5 0h1m-0.5 0h1m-0.5 0h1m-0.5 0h1m0.5 0h1m1 0h1m1 0h1m2 0h1m24 0h1m5 0h1m-48.5 0.5h1m-0.5 0h1m0.5 0h1m-0.5 0h1m0 0h1m-0.5 0h1m0 0h1m0 0h1m-1 0h1m-0.5 0h1m-0.5 0h1m-1 0h1m1 0h1m-1 0h1m0 0h1m0.5 0h1m-0.5 0h1m0 0h1m-0.5 0h1m0 0h1m0 0h1m22.5 0h1m0 0h1m-1 0h1m0.5 0h1m1.5 0h1m-42.5 0.5h1m0.5 0h1m0 0h1m-0.5 0h1m0 0h1m-1 0h1m-0.5 0h1m0 0h1m-0.5 0h1m-0.5 0h1m-0.5 0h1m-1 0h1m-1 0h1m-0.5 0h1m-0.5 0h1m-1 0h1m0 0h1m-0.5 0h1m0.5 0h1m0 0h1m9.5 0h1m0.5 0h1m1.5 0h1m-30 0.5h1m0 0h1m1.5 0h1m-0.5 0h1m-0.5 0h1m0.5 0h1m-0.5 0h1m0 0h1m0 0h1m0 0h1m-0.5 0h1m0 0h1m-1 0h1m-1 0h1m-0.5 0h1m-0.5 0h1m-0.5 0h1m0.5 0h1m0.5 0h1m-0.5 0h1m7.5 0h1m-0.5 0h1m11 0h1m11 0h1m9.5 0h1m-61 0.5h1m-0.5 0h1m-1 0h1m0.5 0h1m0 0h1m-0.5 0h1m-0.5 0h1m-0.5 0h1m-1 0h1m-0.5 0h1m0 0h1m-0.5 0h1m0 0h1m-1 0h1m1 0h1m1 0h1m-1 0h1m0 0h1m0 0h1m-0.5 0h1m-0.5 0h1m-0.5 0h1m1 0h1m-0.5 0h1m3 0h1m2 0h1m-0.5 0h1m6.5 0h1m2 0h1m1.5 0h1m3 0h1m10 0h1m-54 0.5h1m0.5 0h1m-0.5 0h1m0 0h1m-0.5 0h1m-1 0h1m-1 0h1m0 0h1m-1 0h1m-1 0h1m-1 0h1m0 0h1m-0.5 0h1m-0.5 0h1m-0.5 0h1m0 0h1m-1 0h1m-1 0h1m0.5 0h1m-1 0h1m-0.5 0h1m-0.5 0h1m-1 0h1m-0.5 0h1m-0.5 0h1m4 0h1m-1 0h1m4.5 0h1m-0.5 0h1m-1 0h1m1 0h1m0 0h1m3.5 0h1m0 0h1m3 0h1m-35.5 0.5h1m0 0h1m1 0h1m0 0h1m-1 0h1m-0.5 0h1m-1 0h1m0 0h1m-0.5 0h1m-1 0h1m-0.5 0h1m-1 0h1m0 0h1m-1 0h1m0 0h1m-1 0h1m-1 0h1m-1 0h1m-1 0h1m0.5 0h1m-0.5 0h1m0 0h1m-0.5 0h1m-1 0h1m-0.5 0h1m0 0h1m-0.5 0h1m0 0h1m2 0h1m2.5 0h1m2.5 0h1m-0.5 0h1m-1 0h1m1.5 0h1m0 0h1m0 0h1m-0.5 0h1m7 0h1m2 0h1m1 0h1m6 0h1m-51 0.5h1m-0.5 0h1m-1 0h1m-1 0h1m-0.5 0h1m-0.5 0h1m1.5 0h1m-0.5 0h1m-0.5 0h1m-0.5 0h1m-0.5 0h1m0 0h1m-1 0h1m-1 0h1m-0.5 0h1m-1 0h1m-1 0h1m1 0h1m0.5 0h1m-1 0h1m-0.5 0h1m-1 0h1m-1 0h1m-1 0h1m-0.5 0h1m2.5 0h1m1.5 0h1m2 0h1m7 0h1m0.5 0h1m0 0h1m-0.5 0h1m-1 0h1m2 0h1m-0.5 0h1m1 0h1m-1 0h1m27.5 0h1m-68 0.5h1m-1 0h1m-0.5 0h1m0 0h1m-1 0h1m-0.5 0h1m-0.5 0h1m-0.5 0h1m0.5 0h1m-1 0h1m-1 0h1m0.5 0h1m-1 0h1m-0.5 0h1m-1 0h1m-1 0h1m-1 0h1m-1 0h1m-0.5 0h1m-0.5 0h1m-0.5 0h1m-0.5 0h1m-1 0h1m-1 0h1m-1 0h1m-1 0h1m-0.5 0h1m-1 0h1m-1 0h1m-0.5 0h1m-1 0h1m-1 0h1m-0.5 0h1m-1 0h1m-0.5 0h1m-1 0h1m-1 0h1m-1 0h1m0 0h1m1.5 0h1m1.5 0h1m-1 0h1m0 0h1m-0.5 0h1m0 0h1m4 0h1m4.5 0h1m0 0h1m0 0h1m0.5 0h1m-1 0h1m2 0h1m2 0h1m-0.5 0h1m-40 0.5h1m-0.5 0h1m1 0h1m-0.5 0h1m-1 0h1m1 0h1m-1 0h1m-1 0h1m-1 0h1m-0.5 0h1m-1 0h1m-0.5 0h1m0 0h1m-1 0h1m-0.5 0h1m-1 0h1m-1 0h1m-1 0h1m-1 0h1m0.5 0h1m-1 0h1m-0.5 0h1m-1 0h1m-1 0h1m0 0h1m-0.5 0h1m-0.5 0h1m-1 0h1m-0.5 0h1m-1 0h1m-0.5 0h1m-1 0h1m0.5 0h1m1 0h1m0 0h1m0.5 0h1m2 0h1m2 0h1m-0.5 0h1m3.5 0h1m1.5 0h1m0.5 0h1m-0.5 0h1m1 0h1m1.5 0h1m-1 0h1m0.5 0h1m15 0h1m-55.5 0.5h1m-1 0h1m0.5 0h1m-0.5 0h1m-1 0h1m-1 0h1m-1 0h1m-0.5 0h1m-1 0h1m0 0h1m-1 0h1m-1 0h1m-1 0h1m-1 0h1m-0.5 0h1m-1 0h1m-0.5 0h1m-1 0h1m-1 0h1m-0.5 0h1m-1 0h1m-0.5 0h1m-0.5 0h1m0 0h1m-0.5 0h1m-0.5 0h1m-1 0h1m-1 0h1m-0.5 0h1m-1 0h1m-0.5 0h1m-0.5 0h1m-0.5 0h1m-1 0h1m-0.5 0h1m-1 0h1m-0.5 0h1m-1 0h1m1 0h1m1 0h1m-0.5 0h1m10.5 0h1m-0.5 0h1m3 0h1m-0.5 0h1m-1 0h1m-0.5 0h1m-1 0h1m-1 0h1m-0.5 0h1m0 0h1m-0.5 0h1m1 0h1m2 0h1m-40.5 0.5h1m-1 0h1m-0.5 0h1m-0.5 0h1m-1 0h1m-1 0h1m-0.5 0h1m0 0h1m-1 0h1m-1 0h1m0 0h1m-1 0h1m-1 0h1m-0.5 0h1m-0.5 0h1m-1 0h1m-0.5 0h1m-1 0h1m-1 0h1m-1 0h1m-0.5 0h1m-0.5 0h1m-0.5 0h1m-1 0h1m0 0h1m-1 0h1m1.5 0h1m-0.5 0h1m-0.5 0h1m-0.5 0h1m-0.5 0h1m-0.5 0h1m-0.5 0h1m-0.5 0h1m2 0h1m0 0h1m-0.5 0h1m-0.5 0h1m2 0h1m-0.5 0h1m-0.5 0h1m0.5 0h1m1.5 0h1m3.5 0h1m-0.5 0h1m2 0h1m0.5 0h1m-0.5 0h1m-0.5 0h1m0 0h1m0.5 0h1m0 0h1m-42.5 0.5h1m-0.5 0h1m-1 0h1m0 0h1m0 0h1m-1 0h1m-1 0h1m-1 0h1m-0.5 0h1m0.5 0h1m0 0h1m-0.5 0h1m-0.5 0h1m-0.5 0h1m-0.5 0h1m-1 0h1m-0.5 0h1m-1 0h1m-0.5 0h1m-0.5 0h1m-1 0h1m-0.5 0h1m0 0h1m-0.5 0h1m-0.5 0h1m-0.5 0h1m-0.5 0h1m-0.5 0h1m-0.5 0h1m-1 0h1m-0.5 0h1m-1 0h1m2.5 0h1m-0.5 0h1m2.5 0h1m0.5 0h1m3 0h1m-0.5 0h1m-1 0h1m0.5 0h1m-1 0h1m-0.5 0h1m0 0h1m0.5 0h1m0.5 0h1m-1 0h1m0 0h1m1 0h1m-0.5 0h1m0 0h1m-0.5 0h1m1.5 0h1m1 0h1m-44 0.5h1m-0.5 0h1m-0.5 0h1m-1 0h1m0 0h1m-1 0h1m-1 0h1m-0.5 0h1m-1 0h1m0 0h1m-0.5 0h1m0 0h1m-0.5 0h1m-1 0h1m-0.5 0h1m0.5 0h1m-0.5 0h1m-1 0h1m-1 0h1m-0.5 0h1m-1 0h1m-0.5 0h1m-0.5 0h1m-1 0h1m-0.5 0h1m0 0h1m-0.5 0h1m-1 0h1m-1 0h1m-0.5 0h1m-1 0h1m-1 0h1m-0.5 0h1m-1 0h1m1.5 0h1m2 0h1m2.5 0h1m1 0h1m-0.5 0h1m0 0h1m1 0h1m-1 0h1m1 0h1m-1 0h1m0 0h1m-1 0h1m0 0h1m0 0h1m-0.5 0h1m0 0h1m-1 0h1m0 0h1m-1 0h1m-1 0h1m-0.5 0h1m-1 0h1m-1 0h1m1 0h1m4 0h1m-43 0.5h1m-0.5 0h1m1.5 0h1m0 0h1m-1 0h1m-0.5 0h1m-0.5 0h1m-0.5 0h1m-1 0h1m0.5 0h1m-1 0h1m-1 0h1m-0.5 0h1m-0.5 0h1m-0.5 0h1m-1 0h1m-0.5 0h1m-1 0h1m-1 0h1m-1 0h1m-0.5 0h1m-1 0h1m-0.5 0h1m-1 0h1m-0.5 0h1m-1 0h1m-0.5 0h1m-0.5 0h1m-0.5 0h1m1.5 0h1m0 0h1m4.5 0h1m0.5 0h1m-0.5 0h1m2.5 0h1m-1 0h1m-0.5 0h1m1 0h1m1 0h1m1 0h1m-0.5 0h1m-0.5 0h1m-0.5 0h1m0.5 0h1m-0.5 0h1m-0.5 0h1m-1 0h1m-0.5 0h1m-37 0.5h1m-0.5 0h1m-1 0h1m-0.5 0h1m-0.5 0h1m-0.5 0h1m-0.5 0h1m-1 0h1m-0.5 0h1m-0.5 0h1m-1 0h1m-1 0h1m-0.5 0h1m-1 0h1m-1 0h1m-0.5 0h1m-0.5 0h1m-1 0h1m-0.5 0h1m-1 0h1m-0.5 0h1m-1 0h1m-1 0h1m-1 0h1m-1 0h1m-0.5 0h1m-1 0h1m-1 0h1m-0.5 0h1m-1 0h1m-0.5 0h1m-1 0h1m-0.5 0h1m-1 0h1m0 0h1m-0.5 0h1m-0.5 0h1m-1 0h1m0 0h1m0.5 0h1m-0.5 0h1m-1 0h1m-0.5 0h1m0 0h1m-0.5 0h1m0.5 0h1m0 0h1m0.5 0h1m2.5 0h1m-0.5 0h1m1.5 0h1m-0.5 0h1m0 0h1m0 0h1m2.5 0h1m-1 0h1m-0.5 0h1m-1 0h1m-1 0h1m-0.5 0h1m-0.5 0h1m-1 0h1m-1 0h1m1 0h1m-1 0h1m-1 0h1m-1 0h1m-0.5 0h1m-1 0h1m-1 0h1m-1 0h1m-0.5 0h1m0 0h1m-1 0h1m0.5 0h1m0.5 0h1m5.5 0h1m-47.5 0.5h1m-1 0h1m-0.5 0h1m-1 0h1m-1 0h1m-1 0h1m0 0h1m-1 0h1m-0.5 0h1m-1 0h1m-0.5 0h1m-1 0h1m-0.5 0h1m-0.5 0h1m-1 0h1m-0.5 0h1m-1 0h1m-0.5 0h1m-0.5 0h1m-0.5 0h1m-0.5 0h1m-1 0h1m-1 0h1m-1 0h1m-1 0h1m-0.5 0h1m-0.5 0h1m-0.5 0h1m-1 0h1m-1 0h1m-1 0h1m-1 0h1m-0.5 0h1m0.5 0h1m0 0h1m-0.5 0h1m-0.5 0h1m-1 0h1m-0.5 0h1m5.5 0h1m0 0h1m0 0h1m0 0h1m0 0h1m2 0h1m0 0h1m-0.5 0h1m-1 0h1m-0.5 0h1m-1 0h1m0.5 0h1m-0.5 0h1m0 0h1m0 0h1m0 0h1m0 0h1m-0.5 0h1m0 0h1m-1 0h1m0 0h1m0 0h1m0 0h1m1 0h1m-1 0h1m-43.5 0.5h1m0 0h1m-0.5 0h1m-0.5 0h1m-1 0h1m-0.5 0h1m0 0h1m-1 0h1m-1 0h1m-1 0h1m-0.5 0h1m-0.5 0h1m-1 0h1m-1 0h1m-0.5 0h1m-1 0h1m-1 0h1m0 0h1m-1 0h1m0.5 0h1m-1 0h1m-1 0h1m-0.5 0h1m-1 0h1m-1 0h1m0 0h1m-1 0h1m-0.5 0h1m-1 0h1m-1 0h1m-1 0h1m0 0h1m-1 0h1m0 0h1m-0.5 0h1m1.5 0h1m-1 0h1m-0.5 0h1m-0.5 0h1m0.5 0h1m1 0h1m-0.5 0h1m5 0h1m0.5 0h1m-0.5 0h1m0.5 0h1m-0.5 0h1m0.5 0h1m-0.5 0h1m-1 0h1m1 0h1m0.5 0h1m-1 0h1m0.5 0h1m-1 0h1m1.5 0h1m-40 0.5h1m-0.5 0h1m-1 0h1m-1 0h1m-0.5 0h1m-0.5 0h1m-1 0h1m-0.5 0h1m-1 0h1m0 0h1m-1 0h1m0 0h1m-0.5 0h1m-0.5 0h1m-1 0h1m-1 0h1m-0.5 0h1m-1 0h1m-1 0h1m-0.5 0h1m-0.5 0h1m-0.5 0h1m-1 0h1m-1 0h1m-1 0h1m-0.5 0h1m-1 0h1m-1 0h1m-1 0h1m-0.5 0h1m-1 0h1m-1 0h1m-1 0h1m-0.5 0h1m-1 0h1m-1 0h1m0.5 0h1m0 0h1m-1 0h1m-0.5 0h1m0 0h1m-1 0h1m0 0h1m0.5 0h1m-1 0h1m-1 0h1m-0.5 0h1m1 0h1m-0.5 0h1m-1 0h1m1 0h1m-1 0h1m4.5 0h1m0 0h1m-0.5 0h1m-1 0h1m-0.5 0h1m0 0h1m-0.5 0h1m2 0h1m0.5 0h1m-1 0h1m-0.5 0h1m-0.5 0h1m-1 0h1m-1 0h1m-0.5 0h1m-1 0h1m-1 0h1m0 0h1m0 0h1m0 0h1m6.5 0h1m-46 0.5h1m0 0h1m-0.5 0h1m-1 0h1m0 0h1m0 0h1m-1 0h1m-1 0h1m-0.5 0h1m-0.5 0h1m-1 0h1m-1 0h1m-0.5 0h1m-1 0h1m-1 0h1m-1 0h1m-0.5 0h1m-0.5 0h1m-1 0h1m-1 0h1m-1 0h1m-1 0h1m-1 0h1m-0.5 0h1m-1 0h1m-0.5 0h1m-1 0h1m-1 0h1m-1 0h1m-0.5 0h1m-0.5 0h1m-1 0h1m-1 0h1m-1 0h1m-1 0h1m-1 0h1m-0.5 0h1m-0.5 0h1m-1 0h1m-1 0h1m-1 0h1m1 0h1m-1 0h1m0.5 0h1m-1 0h1m0 0h1m-0.5 0h1m-1 0h1m-1 0h1m0.5 0h1m0.5 0h1m0.5 0h1m-0.5 0h1m2.5 0h1m0.5 0h1m-0.5 0h1m1.5 0h1m-0.5 0h1m0 0h1m0 0h1m-1 0h1m-0.5 0h1m-1 0h1m0.5 0h1m-1 0h1m0 0h1m0 0h1m-1 0h1m-1 0h1m-0.5 0h1m-1 0h1m-0.5 0h1m-1 0h1m1 0h1m-0.5 0h1m-0.5 0h1m0 0h1m-0.5 0h1m1 0h1m-42.5 0.5h1m0 0h1m-1 0h1m0 0h1m0 0h1m-1 0h1m-1 0h1m-0.5 0h1m0 0h1m0 0h1m-1 0h1m-0.5 0h1m-1 0h1m-0.5 0h1m-0.5 0h1m-1 0h1m-1 0h1m-1 0h1m-0.5 0h1m-0.5 0h1m-0.5 0h1m-1 0h1m-1 0h1m-1 0h1m2 0h1m-1 0h1m-1 0h1m-0.5 0h1m0 0h1m-1 0h1m-1 0h1m0.5 0h1m-0.5 0h1m-0.5 0h1m1 0h1m-0.5 0h1m-0.5 0h1m-1 0h1m-1 0h1m1.5 0h1m-1 0h1m-0.5 0h1m0 0h1m0 0h1m-1 0h1m0.5 0h1m0.5 0h1m0 0h1m0 0h1m-1 0h1m0 0h1m-1 0h1m0 0h1m-0.5 0h1m-0.5 0h1m-1 0h1m-0.5 0h1m2 0h1m-0.5 0h1m-1 0h1m-0.5 0h1m-1 0h1m-1 0h1m-0.5 0h1m-0.5 0h1m-0.5 0h1m-0.5 0h1m-0.5 0h1m-0.5 0h1m0.5 0h1m0.5 0h1m0 0h1m8.5 0h1m-52.5 0.5h1m0 0h1m-0.5 0h1m-1 0h1m-1 0h1m-0.5 0h1m-0.5 0h1m-1 0h1m-0.5 0h1m-0.5 0h1m-1 0h1m-0.5 0h1m-1 0h1m0.5 0h1m-1 0h1m-1 0h1m-0.5 0h1m-1 0h1m-1 0h1m-1 0h1m-1 0h1m-1 0h1m-1 0h1m1 0h1m-0.5 0h1m-1 0h1m-0.5 0h1m-1 0h1m-0.5 0h1m-1 0h1m-1 0h1m-1 0h1m0 0h1m-1 0h1m-1 0h1m4.5 0h1m0 0h1m1 0h1m4.5 0h1m1.5 0h1m0.5 0h1m0.5 0h1m-1 0h1m0 0h1m-1 0h1m0 0h1m-1 0h1m0 0h1m-1 0h1m-0.5 0h1m-0.5 0h1m-0.5 0h1m-0.5 0h1m-0.5 0h1m-0.5 0h1m0.5 0h1m-1 0h1m-0.5 0h1m-0.5 0h1m-0.5 0h1m0 0h1m-1 0h1m3 0h1m-44.5 0.5h1m-1 0h1m0 0h1m-0.5 0h1m-1 0h1m-0.5 0h1m-0.5 0h1m-0.5 0h1m-1 0h1m-1 0h1m-0.5 0h1m-1 0h1m-0.5 0h1m-1 0h1m-0.5 0h1m-1 0h1m-1 0h1m-1 0h1m-0.5 0h1m-1 0h1m-0.5 0h1m-1 0h1m-0.5 0h1m-1 0h1m0 0h1m-1 0h1m-0.5 0h1m-0.5 0h1m-1 0h1m-1 0h1m-0.5 0h1m-1 0h1m0 0h1m-1 0h1m-0.5 0h1m-0.5 0h1m-0.5 0h1m-0.5 0h1m-0.5 0h1m-0.5 0h1m-0.5 0h1m-1 0h1m-0.5 0h1m-0.5 0h1m-1 0h1m0.5 0h1m-1 0h1m1.5 0h1m-0.5 0h1m-1 0h1m3 0h1m0 0h1m0 0h1m0 0h1m-0.5 0h1m0 0h1m-0.5 0h1m1 0h1m-0.5 0h1m-1 0h1m-0.5 0h1m0.5 0h1m-1 0h1m-0.5 0h1m-0.5 0h1m0 0h1m-0.5 0h1m-1 0h1m-1 0h1m0 0h1m0 0h1m-0.5 0h1m-1 0h1m0 0h1m-40 0.5h1m0 0h1m-0.5 0h1m0 0h1m-1 0h1m-1 0h1m-0.5 0h1m-0.5 0h1m-0.5 0h1m-0.5 0h1m-1 0h1m-1 0h1m-0.5 0h1m-0.5 0h1m-0.5 0h1m-0.5 0h1m-1 0h1m-1 0h1m0 0h1m-1 0h1m-0.5 0h1m-1 0h1m0 0h1m-1 0h1m0.5 0h1m-1 0h1m-0.5 0h1m0 0h1m-0.5 0h1m0 0h1m-0.5 0h1m0.5 0h1m2 0h1m-1 0h1m-0.5 0h1m-1 0h1m5.5 0h1m-0.5 0h1m0 0h1m0.5 0h1m-0.5 0h1m0.5 0h1m-1 0h1m-0.5 0h1m-1 0h1m0.5 0h1m-1 0h1m-0.5 0h1m-0.5 0h1m-0.5 0h1m0 0h1m-1 0h1m-0.5 0h1m-0.5 0h1m-0.5 0h1m-0.5 0h1m-1 0h1m-1 0h1m-0.5 0h1m-0.5 0h1m0 0h1m-1 0h1m-1 0h1m-1 0h1m0.5 0h1m1 0h1m-43 0.5h1m-1 0h1m-0.5 0h1m0 0h1m-0.5 0h1m0 0h1m-1 0h1m-0.5 0h1m-1 0h1m-0.5 0h1m-1 0h1m0 0h1m-1 0h1m-0.5 0h1m0 0h1m-1 0h1m-0.5 0h1m0 0h1m-0.5 0h1m-1 0h1m-1 0h1m-1 0h1m0 0h1m-1 0h1m-1 0h1m-1 0h1m0 0h1m-0.5 0h1m-0.5 0h1m-1 0h1m-0.5 0h1m0 0h1m-0.5 0h1m0.5 0h1m-1 0h1m-0.5 0h1m2.5 0h1m2 0h1m1 0h1m-0.5 0h1m1 0h1m-0.5 0h1m0.5 0h1m-1 0h1m-0.5 0h1m-1 0h1m0 0h1m-1 0h1m-0.5 0h1m1 0h1m-1 0h1m-0.5 0h1m-0.5 0h1m-1 0h1m-0.5 0h1m-0.5 0h1m-0.5 0h1m-0.5 0h1m-0.5 0h1m-1 0h1m-0.5 0h1m-1 0h1m-0.5 0h1m1 0h1m0 0h1m-0.5 0h1m-1 0h1m-1 0h1m-42.5 0.5h1m0 0h1m-1 0h1m-0.5 0h1m-1 0h1m-1 0h1m0.5 0h1m-1 0h1m-0.5 0h1m-0.5 0h1m-1 0h1m-0.5 0h1m-0.5 0h1m-0.5 0h1m-0.5 0h1m-0.5 0h1m-1 0h1m-0.5 0h1m-0.5 0h1m-0.5 0h1m-1 0h1m-1 0h1m-0.5 0h1m-1 0h1m0 0h1m-0.5 0h1m-1 0h1m-0.5 0h1m-0.5 0h1m-1 0h1m0 0h1m-1 0h1m1 0h1m-0.5 0h1m7.5 0h1m1.5 0h1m-0.5 0h1m0.5 0h1m-0.5 0h1m-1 0h1m-0.5 0h1m-0.5 0h1m-1 0h1m-0.5 0h1m0 0h1m0 0h1m0 0h1m-0.5 0h1m0 0h1m-1 0h1m0 0h1m0.5 0h1m-0.5 0h1m-1 0h1m0 0h1m-0.5 0h1m1.5 0h1m-0.5 0h1m-1 0h1m21 0h1m-64.5 0.5h1m1.5 0h1m-1 0h1m-1 0h1m-0.5 0h1m-0.5 0h1m-1 0h1m0.5 0h1m-1 0h1m0 0h1m-0.5 0h1m-1 0h1m-0.5 0h1m-1 0h1m-0.5 0h1m-0.5 0h1m-1 0h1m-0.5 0h1m-1 0h1m-0.5 0h1m-1 0h1m0 0h1m0 0h1m-0.5 0h1m-0.5 0h1m0.5 0h1m-1 0h1m-0.5 0h1m3.5 0h1m2.5 0h1m0 0h1m3 0h1m1.5 0h1m-0.5 0h1m-1 0h1m-0.5 0h1m-0.5 0h1m0.5 0h1m-1 0h1m1 0h1m-0.5 0h1m-0.5 0h1m-1 0h1m-0.5 0h1m-0.5 0h1m-0.5 0h1m-1 0h1m-0.5 0h1m-1 0h1m-1 0h1m1 0h1m1.5 0h1m-43 0.5h1m0.5 0h1m-0.5 0h1m-1 0h1m0.5 0h1m-1 0h1m-0.5 0h1m-0.5 0h1m-0.5 0h1m0.5 0h1m-1 0h1m-1 0h1m-1 0h1m-0.5 0h1m0 0h1m-0.5 0h1m-1 0h1m-0.5 0h1m-0.5 0h1m-0.5 0h1m1 0h1m-0.5 0h1m-1 0h1m0.5 0h1m-1 0h1m4 0h1m0 0h1m1 0h1m-1 0h1m0 0h1m3.5 0h1m1.5 0h1m-1 0h1m1 0h1m0 0h1m1.5 0h1m0.5 0h1m0 0h1m-0.5 0h1m0 0h1m-0.5 0h1m0.5 0h1m-0.5 0h1m-42.5 0.5h1m-0.5 0h1m1 0h1m-0.5 0h1m-1 0h1m-0.5 0h1m1 0h1m-1 0h1m-0.5 0h1m-0.5 0h1m0 0h1m-0.5 0h1m-1 0h1m-1 0h1m-1 0h1m-1 0h1m-0.5 0h1m-1 0h1m-1 0h1m0.5 0h1m1 0h1m-1 0h1m4 0h1m0 0h1m1 0h1m1.5 0h1m2 0h1m3 0h1m-0.5 0h1m0 0h1m2.5 0h1m-1 0h1m-0.5 0h1m-1 0h1m-1 0h1m-0.5 0h1m-0.5 0h1m-1 0h1m0 0h1m0 0h1m0.5 0h1m-0.5 0h1m-39.5 0.5h1m-0.5 0h1m-0.5 0h1m0 0h1m-1 0h1m0 0h1m-0.5 0h1m0 0h1m-0.5 0h1m-0.5 0h1m-1 0h1m0 0h1m-1 0h1m0 0h1m-1 0h1m-1 0h1m0 0h1m-0.5 0h1m-1 0h1m0.5 0h1m0.5 0h1m2 0h1m1 0h1m0 0h1m-0.5 0h1m0 0h1m-0.5 0h1m0 0h1m2.5 0h1m-1 0h1m-0.5 0h1m0.5 0h1m0.5 0h1m-0.5 0h1m2.5 0h1m1 0h1m-0.5 0h1m1.5 0h1m0 0h1m-0.5 0h1m-41.5 0.5h1m0.5 0h1m-0.5 0h1m-1 0h1m0.5 0h1m0.5 0h1m-0.5 0h1m-0.5 0h1m-1 0h1m-1 0h1m-0.5 0h1m-0.5 0h1m0.5 0h1m0 0h1m-1 0h1m-1 0h1m-0.5 0h1m-1 0h1m-1 0h1m-0.5 0h1m-1 0h1m-1 0h1m1.5 0h1m0 0h1m-0.5 0h1m-0.5 0h1m1.5 0h1m0.5 0h1m3.5 0h1m0 0h1m0.5 0h1m2 0h1m1 0h1m-1 0h1m-0.5 0h1m0 0h1m0 0h1m-1 0h1m-0.5 0h1m-1 0h1m-1 0h1m-0.5 0h1m0 0h1m-0.5 0h1m0.5 0h1m0.5 0h1m-1 0h1m-1 0h1m-0.5 0h1m1.5 0h1m-1 0h1m3.5 0h1m-46.5 0.5h1m0 0h1m-0.5 0h1m1 0h1m-0.5 0h1m-1 0h1m-1 0h1m-0.5 0h1m-0.5 0h1m-1 0h1m-1 0h1m0 0h1m-1 0h1m-0.5 0h1m-1 0h1m-0.5 0h1m-1 0h1m-0.5 0h1m-1 0h1m0 0h1m-0.5 0h1m-1 0h1m-0.5 0h1m-0.5 0h1m2.5 0h1m7.5 0h1m3.5 0h1m1 0h1m1.5 0h1m-0.5 0h1m0 0h1m0 0h1m0 0h1m4.5 0h1m25 0h1m-66.5 0.5h1m-0.5 0h1m1 0h1m-1 0h1m-0.5 0h1m-1 0h1m-0.5 0h1m0.5 0h1m-0.5 0h1m-0.5 0h1m-0.5 0h1m-0.5 0h1m-0.5 0h1m-0.5 0h1m-0.5 0h1m0 0h1m-0.5 0h1m3.5 0h1m2.5 0h1m-1 0h1m-0.5 0h1m1 0h1m0.5 0h1m5 0h1m-1 0h1m1 0h1m-1 0h1m-0.5 0h1m4 0h1m0 0h1m1.5 0h1m-0.5 0h1m1.5 0h1m-43.5 0.5h1m1.5 0h1m-0.5 0h1m-1 0h1m-1 0h1m2.5 0h1m-0.5 0h1m-1 0h1m-0.5 0h1m-0.5 0h1m-1 0h1m0 0h1m-0.5 0h1m0 0h1m-0.5 0h1m-0.5 0h1m-1 0h1m-0.5 0h1m4 0h1m1 0h1m0.5 0h1m-1 0h1m-0.5 0h1m2 0h1m5 0h1m1 0h1m-1 0h1m-0.5 0h1m0 0h1m0 0h1m1.5 0h1m9.5 0h1m-47 0.5h1m-0.5 0h1m-1 0h1m-1 0h1m-1 0h1m-1 0h1m0 0h1m-1 0h1m1.5 0h1m-1 0h1m-0.5 0h1m-0.5 0h1m-0.5 0h1m0 0h1m-0.5 0h1m-0.5 0h1m-0.5 0h1m-0.5 0h1m-0.5 0h1m-1 0h1m-0.5 0h1m1 0h1m5 0h1m1 0h1m5 0h1m0 0h1m-0.5 0h1m0.5 0h1m0 0h1m1.5 0h1m-0.5 0h1m1 0h1m-0.5 0h1m0.5 0h1m1.5 0h1m-41.5 0.5h1m2.5 0h1m-0.5 0h1m-0.5 0h1m0 0h1m-1 0h1m-0.5 0h1m-1 0h1m0 0h1m3.5 0h1m-0.5 0h1m-0.5 0h1m-1 0h1m0 0h1m0 0h1m2.5 0h1m-0.5 0h1m0 0h1m3 0h1m4.5 0h1m0.5 0h1m3 0h1m0 0h1m-0.5 0h1m0 0h1m-36 0.5h1m-0.5 0h1m0 0h1m-1 0h1m0 0h1m-1 0h1m0.5 0h1m-1 0h1m-1 0h1m-0.5 0h1m-0.5 0h1m1 0h1m0 0h1m-0.5 0h1m1.5 0h1m7.5 0h1m3.5 0h1m2.5 0h1m2 0h1m0 0h1m5.5 0h1m-40.5 0.5h1m2 0h1m-1 0h1m-1 0h1m3 0h1m-1 0h1m-1 0h1m0 0h1m-0.5 0h1m0.5 0h1m-0.5 0h1m0.5 0h1m-1 0h1m-0.5 0h1m2.5 0h1m1.5 0h1m1 0h1m0 0h1m-1 0h1m6 0h1m0 0h1m0 0h1m0 0h1m-1 0h1m0 0h1m-0.5 0h1m6.5 0h1m5 0h1m-46 0.5h1m0 0h1m-0.5 0h1m0 0h1m-0.5 0h1m-0.5 0h1m-0.5 0h1m0 0h1m-1 0h1m0 0h1m-0.5 0h1m-0.5 0h1m2 0h1m1.5 0h1m2 0h1m0 0h1m-0.5 0h1m0 0h1m1 0h1m0 0h1m-0.5 0h1m3.5 0h1m2 0h1m4.5 0h1m2.5 0h1m-0.5 0h1m2 0h1m-41.5 0.5h1m-0.5 0h1m-0.5 0h1m0 0h1m0 0h1m-0.5 0h1m0 0h1m1.5 0h1m-1 0h1m-0.5 0h1m-0.5 0h1m-0.5 0h1m1.5 0h1m3.5 0h1m4.5 0h1m3 0h1m3 0h1m4 0h1m0 0h1m-0.5 0h1m3.5 0h1m2.5 0h1m-48.5 0.5h1m1 0h1m0.5 0h1m0.5 0h1m-1 0h1m0 0h1m3.5 0h1m0.5 0h1m1 0h1m0 0h1m9 0h1m0.5 0h1m2 0h1m8 0h1m-38.5 0.5h1m2.5 0h1m0 0h1m0.5 0h1m0.5 0h1m0 0h1m-0.5 0h1m1 0h1m-0.5 0h1m2.5 0h1m-1 0h1m2 0h1m3 0h1m8 0h1m2.5 0h1m-35 0.5h1m3 0h1m5.5 0h1m2 0h1m0.5 0h1m2 0h1m20 0h1m12 0h1m-50 0.5h1m1.5 0h1m-0.5 0h1m2.5 0h1m1 0h1m11.5 0h1m2.5 0h1m6 0h1m2.5 0h1m-40 0.5h1m2 0h1m17.5 0h1m0 0h1m-0.5 0h1m0 0h1m10.5 0h1m-1 0h1m-31.5 0.5h1m0.5 0h1m-1 0h1m8 0h1m8 0h1m1 0h1m-1 0h1m-0.5 0h1m1 0h1m2 0h1m7 0h1m3.5 0h1m-0.5 0h1m-41 0.5h1m1.5 0h1m0.5 0h1m3.5 0h1m6 0h1m-0.5 0h1m0 0h1m-0.5 0h1m1 0h1m-0.5 0h1m1 0h1m1 0h1m0.5 0h1m-19 0.5h1m4.5 0h1m0 0h1m-0.5 0h1m0 0h1m-0.5 0h1m0 0h1m-1 0h1m0 0h1m-1 0h1m-0.5 0h1m-1 0h1m0.5 0h1m0 0h1m2 0h1m4.5 0h1m8.5 0h1m-44.5 0.5h1m11 0h1m0.5 0h1m4.5 0h1m0.5 0h1m-0.5 0h1m0 0h1m-1 0h1m-1 0h1m-1 0h1m-1 0h1m-0.5 0h1m-1 0h1m-0.5 0h1m-1 0h1m-0.5 0h1m-1 0h1m-1 0h1m-0.5 0h1m-1 0h1m-0.5 0h1m-1 0h1m-0.5 0h1m-1 0h1m-0.5 0h1m-1 0h1m-26 0.5h1m3 0h1m3 0h1m5 0h1m3.5 0h1m0 0h1m0.5 0h1m-0.5 0h1m-1 0h1m-1 0h1m-0.5 0h1m-1 0h1m-1 0h1m-0.5 0h1m-1 0h1m-0.5 0h1m0 0h1m-1 0h1m-1 0h1m-1 0h1m-0.5 0h1m-0.5 0h1m-1 0h1m2.5 0h1m3.5 0h1m-0.5 0h1m4 0h1m-40 0.5h1m2.5 0h1m1.5 0h1m1.5 0h1m6 0h1m2.5 0h1m-0.5 0h1m-0.5 0h1m-0.5 0h1m0.5 0h1m-0.5 0h1m-1 0h1m-0.5 0h1m-0.5 0h1m-1 0h1m-0.5 0h1m-0.5 0h1m-1 0h1m0 0h1m0.5 0h1m-28 0.5h1m5 0h1m3 0h1m2 0h1m5.5 0h1m-0.5 0h1m-0.5 0h1m-0.5 0h1m-0.5 0h1m-0.5 0h1m-1 0h1m-1 0h1m-0.5 0h1m0.5 0h1m-0.5 0h1m-1 0h1m-0.5 0h1m-1 0h1m-1 0h1m-1 0h1m0 0h1m2 0h1m0.5 0h1m-24.5 0.5h1m12 0h1m-1 0h1m-0.5 0h1m-0.5 0h1m-1 0h1m-1 0h1m0 0h1m-1 0h1m-0.5 0h1m-1 0h1m-0.5 0h1m-0.5 0h1m-0.5 0h1m0 0h1m0.5 0h1m-0.5 0h1m-29 0.5h1m6 0h1m3 0h1m7.5 0h1m-0.5 0h1m0 0h1m1 0h1m-1 0h1m-0.5 0h1m-1 0h1m-1 0h1m0 0h1m-0.5 0h1m-1 0h1m-0.5 0h1m-0.5 0h1m-0.5 0h1m-22.5 0.5h1m11 0h1m0.5 0h1m0 0h1m-0.5 0h1m-1 0h1m-0.5 0h1m-1 0h1m-0.5 0h1m-1 0h1m-0.5 0h1m-1 0h1m-0.5 0h1m-1 0h1m-0.5 0h1m-1 0h1m-1 0h1m-1 0h1m-1 0h1m-0.5 0h1m-1 0h1m-1 0h1m-0.5 0h1m-0.5 0h1m-1 0h1m-0.5 0h1m-0.5 0h1m-0.5 0h1m-1 0h1m-1 0h1m-0.5 0h1m-1 0h1m-0.5 0h1m-12 0.5h1m0.5 0h1m-0.5 0h1m-1 0h1m-0.5 0h1m0 0h1m0 0h1m-1 0h1m-0.5 0h1m-0.5 0h1m-1 0h1m-0.5 0h1m-1 0h1m-0.5 0h1m-0.5 0h1m-1 0h1m-1 0h1m-1 0h1m0 0h1m-1 0h1m-1 0h1m-0.5 0h1m0 0h1m-9.5 0.5h1m1 0h1m0 0h1m-1 0h1m-0.5 0h1m-0.5 0h1m-0.5 0h1m-1 0h1m-1 0h1m-1 0h1m-0.5 0h1m-1 0h1m-1 0h1m-0.5 0h1m-0.5 0h1m-1 0h1m-0.5 0h1m-1 0h1m-1 0h1m-1 0h1m-0.5 0h1m-0.5 0h1m-1 0h1m-0.5 0h1m-1 0h1m-0.5 0h1m-1 0h1m-1 0h1m-0.5 0h1m-1 0h1m-1 0h1m0.5 0h1m-23.5 0.5h1m6.5 0h1m3 0h1m1 0h1m1 0h1m0 0h1m-1 0h1m-1 0h1m-1 0h1m-0.5 0h1m-1 0h1m-1 0h1m-1 0h1m-1 0h1m-0.5 0h1m-1 0h1m-1 0h1m-1 0h1m-1 0h1m-0.5 0h1m-1 0h1m-1 0h1m-1 0h1m-1 0h1m-0.5 0h1m-1 0h1m-0.5 0h1m-1 0h1m-1 0h1m-0.5 0h1m-1 0h1m-0.5 0h1m0 0h1m0 0h1m-23 0.5h1m5 0h1m1.5 0h1m2 0h1m-0.5 0h1m0 0h1m0 0h1m-0.5 0h1m0 0h1m-1 0h1m-0.5 0h1m-1 0h1m-1 0h1m-1 0h1m-0.5 0h1m-1 0h1m-0.5 0h1m-1 0h1m-0.5 0h1m-0.5 0h1m-0.5 0h1m0 0h1m-1 0h1m-1 0h1m0 0h1m-0.5 0h1m-1 0h1m0 0h1m-24 0.5h1m1.5 0h1m9 0h1m0 0h1m-0.5 0h1m0 0h1m-1 0h1m-0.5 0h1m-0.5 0h1m-1 0h1m-0.5 0h1m-0.5 0h1m-1 0h1m-0.5 0h1m-1 0h1m-1 0h1m-0.5 0h1m-1 0h1m-1 0h1m-1 0h1m-0.5 0h1m-1 0h1m-1 0h1m-1 0h1m-1 0h1m-0.5 0h1m-0.5 0h1m-0.5 0h1m-0.5 0h1m0 0h1m-1 0h1m1.5 0h1m-22 0.5h1m2 0h1m3 0h1m-1 0h1m3 0h1m1 0h1m-1 0h1m-0.5 0h1m-1 0h1m-1 0h1m0 0h1m-0.5 0h1m-0.5 0h1m-1 0h1m-1 0h1m-0.5 0h1m0 0h1m-0.5 0h1m-1 0h1m-1 0h1m-0.5 0h1m-1 0h1m-1 0h1m-0.5 0h1m-1 0h1m-15 0.5h1m5.5 0h1m-1 0h1m0 0h1m-1 0h1m-0.5 0h1m-1 0h1m-0.5 0h1m-1 0h1m-1 0h1m-1 0h1m-0.5 0h1m-0.5 0h1m-1 0h1m-1 0h1m-0.5 0h1m-1 0h1m-1 0h1m-0.5 0h1m-1 0h1m-1 0h1m-0.5 0h1m-1 0h1m-1 0h1m-0.5 0h1m-1 0h1m0.5 0h1m-0.5 0h1m0 0h1m-19 0.5h1m8 0h1m-1 0h1m-0.5 0h1m-0.5 0h1m-1 0h1m0.5 0h1m-1 0h1m0 0h1m-0.5 0h1m-1 0h1m-1 0h1m-1 0h1m-1 0h1m0 0h1m-1 0h1m-1 0h1m-1 0h1m-0.5 0h1m-1 0h1m-1 0h1m-0.5 0h1m-1 0h1m-1 0h1m-0.5 0h1m-0.5 0h1m-1 0h1m-0.5 0h1m-0.5 0h1m-1 0h1m0 0h1m0 0h1m-9 0.5h1m-1 0h1m-0.5 0h1m-0.5 0h1m-1 0h1m-0.5 0h1m-1 0h1m-1 0h1m-0.5 0h1m-1 0h1m-1 0h1m-0.5 0h1m-1 0h1m-1 0h1m-1 0h1m-0.5 0h1m-1 0h1m-1 0h1m-1 0h1m-0.5 0h1m-1 0h1m-1 0h1m-1 0h1m-1 0h1m-1 0h1m-0.5 0h1m-1 0h1m-0.5 0h1m-1 0h1m-0.5 0h1m-1 0h1m-1 0h1m-1 0h1m-0.5 0h1m-1 0h1m-0.5 0h1m0 0h1m-1 0h1m0.5 0h1m27 0h1m-54 0.5h1m13.5 0h1m-0.5 0h1m-1 0h1m-1 0h1m0.5 0h1m-0.5 0h1m-0.5 0h1m-1 0h1m-1 0h1m-1 0h1m-0.5 0h1m-1 0h1m-0.5 0h1m-1 0h1m-1 0h1m-0.5 0h1m-1 0h1m-0.5 0h1m-1 0h1m-1 0h1m-1 0h1m-0.5 0h1m-1 0h1m-1 0h1m-1 0h1m-0.5 0h1m-1 0h1m-1 0h1m-1 0h1m-0.5 0h1m-0.5 0h1m-0.5 0h1m0.5 0h1m-8.5 0.5h1m0 0h1m-0.5 0h1m-1 0h1m-1 0h1m-1 0h1m-0.5 0h1m-1 0h1m-0.5 0h1m-1 0h1m-1 0h1m-0.5 0h1m-1 0h1m-1 0h1m-1 0h1m-0.5 0h1m-1 0h1m0 0h1m-1 0h1m-1 0h1m-0.5 0h1m-1 0h1m-1 0h1m-1 0h1m-0.5 0h1m0 0h1m-1 0h1m-0.5 0h1m-1 0h1m36 0h1m-56 0.5h1m5.5 0h1m1.5 0h1m1 0h1m-0.5 0h1m-1 0h1m-1 0h1m-1 0h1m-1 0h1m0 0h1m-0.5 0h1m-0.5 0h1m-1 0h1m-0.5 0h1m-1 0h1m-1 0h1m0.5 0h1m-0.5 0h1m-0.5 0h1m-1 0h1m-0.5 0h1m42.5 0h1m-54 0.5h1m0.5 0h1m-1 0h1m0 0h1m-1 0h1m0 0h1m-1 0h1m-1 0h1m-0.5 0h1m-0.5 0h1m-0.5 0h1m-0.5 0h1m-1 0h1m-0.5 0h1m-1 0h1m-0.5 0h1m-1 0h1m-1 0h1m-1 0h1m-0.5 0h1m-1 0h1m-1 0h1m-1 0h1m-0.5 0h1m-1 0h1m-1 0h1m0 0h1m-0.5 0h1m-1 0h1m2 0h1m-24.5 0.5h1m3 0h1m6.5 0h1m1 0h1m0.5 0h1m0 0h1m-0.5 0h1m-1 0h1m-1 0h1m-0.5 0h1m-1 0h1m-1 0h1m-0.5 0h1m-1 0h1m-0.5 0h1m-0.5 0h1m-0.5 0h1m1 0h1m-1 0h1m-1 0h1m0 0h1m-1 0h1m-22.5 0.5h1m11 0h1m0.5 0h1m-1 0h1m-0.5 0h1m-1 0h1m-1 0h1m-1 0h1m-0.5 0h1m-1 0h1m-0.5 0h1m-1 0h1m-0.5 0h1m-1 0h1m-1 0h1m-0.5 0h1m-1 0h1m-1 0h1m-1 0h1m-0.5 0h1m-1 0h1m-0.5 0h1m-1 0h1m-1 0h1m-0.5 0h1m-0.5 0h1m-1 0h1m-0.5 0h1m-0.5 0h1m-0.5 0h1m0.5 0h1m-0.5 0h1m3 0h1m-29 0.5h1m11.5 0h1m0 0h1m1 0h1m-0.5 0h1m-1 0h1m-0.5 0h1m-1 0h1m-1 0h1m-1 0h1m-0.5 0h1m0 0h1m-0.5 0h1m-1 0h1m-1 0h1m-0.5 0h1m-1 0h1m-1 0h1m-0.5 0h1m-0.5 0h1m-0.5 0h1m-0.5 0h1m-1 0h1m-0.5 0h1m-1 0h1m-1 0h1m-0.5 0h1m-8 0.5h1m-1 0h1m-0.5 0h1m-1 0h1m0.5 0h1m-1 0h1m-1 0h1m-1 0h1m-1 0h1m-1 0h1m-0.5 0h1m-1 0h1m-0.5 0h1m-1 0h1m-0.5 0h1m-1 0h1m-0.5 0h1m-1 0h1m-0.5 0h1m-1 0h1m-1 0h1m-0.5 0h1m-1 0h1m-1 0h1m-1 0h1m-1 0h1m-0.5 0h1m0 0h1m0.5 0h1m-0.5 0h1m37 0h1m-59 0.5h1m7 0h1m3 0h1m0 0h1m-1 0h1m-1 0h1m-0.5 0h1m-1 0h1m-1 0h1m-1 0h1m-0.5 0h1m-0.5 0h1m-1 0h1m-0.5 0h1m-1 0h1m-1 0h1m-1 0h1m-0.5 0h1m-0.5 0h1m-1 0h1m-0.5 0h1m-1 0h1m-1 0h1m-1 0h1m0.5 0h1m0.5 0h1m-0.5 0h1m0 0h1m-13.5 0.5h1m1 0h1m-0.5 0h1m-1 0h1m-0.5 0h1m-1 0h1m-0.5 0h1m-0.5 0h1m0 0h1m-0.5 0h1m-0.5 0h1m-1 0h1m-0.5 0h1m-1 0h1m-1 0h1m-1 0h1m-0.5 0h1m-0.5 0h1m-1 0h1m-0.5 0h1m-14 0.5h1m6.5 0h1m1 0h1m-1 0h1m-0.5 0h1m-1 0h1m-1 0h1m-0.5 0h1m-1 0h1m-1 0h1m-0.5 0h1m-0.5 0h1m-0.5 0h1m-1 0h1m-0.5 0h1m-1 0h1m-1 0h1m-1 0h1m-0.5 0h1m-1 0h1m-0.5 0h1m-1 0h1m-1 0h1m-1 0h1m0 0h1m-1 0h1m-0.5 0h1m-0.5 0h1m-0.5 0h1m0.5 0h1m0.5 0h1m-13 0.5h1m0.5 0h1m0 0h1m-1 0h1m-0.5 0h1m-0.5 0h1m-0.5 0h1m-0.5 0h1m-0.5 0h1m-0.5 0h1m-0.5 0h1m0.5 0h1m1.5 0h1m-7.5 0.5h1m-1 0h1m-1 0h1m0 0h1m-0.5 0h1m-0.5 0h1m0.5 0h1m-0.5 0h1m-1 0h1m-12.5 0.5h1m-0.5 0h1m-0.5 0h1m4 0h1m0 0h1m-1 0h1m-0.5 0h1m-0.5 0h1m-0.5 0h1m-1 0h1m-1 0h1m0 0h1m-0.5 0h1m-1 0h1m0 0h1m-0.5 0h1m-0.5 0h1m-0.5 0h1m0 0h1m1.5 0h1m-14 0.5h1m2 0h1m0 0h1m-1 0h1m0 0h1m-1 0h1m-0.5 0h1m-1 0h1m-1 0h1m-0.5 0h1m0 0h1m0 0h1m-0.5 0h1m-16.5 0.5h1m10.5 0h1m-0.5 0h1m0 0h1m1 0h1m0.5 0h1m-7.5 0.5h1m1 0h1m42.5 0h1m-52.5 0.5h1m1.5 0h1m3 0h1m-1 0h1m2.5 0h1m1.5 0h1m22.5 0h1m-36 0.5h1m1.5 0h1m4 0h1m0 0h1m-1 0h1m0 0h1m-5 0.5h1m3 0h1m-5.5 0.5h1m-1 0h1m1 0h1m46.5 0h1m-66.5 0.5h1m15.5 0h1m6 0h1m6.5 0h1m-17.5 0.5h1m-10.5 0.5h1m8 0h1m-7.5 0.5h1m12.5 0h1m-18.5 0.5h1m0.5 0h1m8 0.5h1m6.5 0h1m43.5 0h1m-66 0.5h1m18.5 0.5h1m1 0h1m1.5 1h1m-5.5 0.5h1m-9 1h1m39 0h1m-53.5 1.5h1m1 0h1m8.5 0h1" stroke="#000" stroke-opacity="0.5" stroke-width="1" fill="none" filter="url(#bl)"/>
<rect x="313.6" y="5.2" width="22.16" height="11.4" fill="#fff"/>
<rect x="362.54" y="5.2" width="21.96" height="11.4" fill="#fff"/>
<rect x="313.6" y="66.22" width="22.16" height="10.48" fill="#fff"/>
<rect x="362.54" y="66.22" width="21.96" height="10.48" fill="#fff"/>
<rect x="312.8" y="4.6" width="72.5" height="72.7" fill="none" stroke="#a8a8a8" stroke-width="1.1"/>
<path d="M314 5.6V77.3M312.8 76.1H384.3" stroke="#c8c8c8" stroke-width="1" stroke-dasharray="1 2" fill="none"/>
<path d="M334.8 77.3H363.8" stroke="#8a8a8a" stroke-width="1" fill="none"/>
<path d="M340.4 4.6V77.3M312.8 47.3H385.3" stroke="#555" stroke-width="1.3" fill="none"/>
<text transform="translate(314.3 14.6) scale(1.02 1)" font-size="9.7" text-anchor="start">54.5</text>
<text transform="translate(384 14.6) scale(1.02 1)" font-size="9.7" text-anchor="end">20.5</text>
<text transform="translate(314.3 75.6) scale(1.02 1)" font-size="9.7" text-anchor="start">24.5</text>
<text transform="translate(384 75.6) scale(1.02 1)" font-size="9.7" text-anchor="end">0.53</text>
<path d="M306.4 77.9l1 0.7l2.6-1.8M306.4 59.73l1 0.7l2.6-1.8M306.4 41.55l1 0.7l2.6-1.8M306.4 23.37l1 0.7l2.6-1.8M306.4 5.2l1 0.7l2.6-1.8M310.6 81.6l1 0.8l2.8-1.9M328.73 81.6l1 0.8l2.8-1.9M346.85 81.6l1 0.8l2.8-1.9M364.98 81.6l1 0.8l2.8-1.9M383.1 81.6l1 0.8l2.8-1.9" stroke="#8a8a8a" stroke-width="1.0" fill="none"/>
<clipPath id="c43"><rect x="43.0" y="88.8" width="72.6" height="72.50000000000001"/></clipPath>
<ellipse cx="50.0" cy="118.0" rx="9.0" ry="14.5" fill="#000" clip-path="url(#c43)"/>
<path d="M55.5 90.5h1m-3.5 0.5h1m-3.5 0.5h1m13.5 1.5h1m37.5 0h1m-52.5 3h1m1.5 0h1m-2 1h1m3.5 0h1m-13.5 0.5h1m2 0h1m3.5 0h1m-6 1h1m2.5 0.5h1m-0.5 0h1m6 0.5h1m-8.5 0.5h1m1 0h1m12 0h1m1 0h1m-11 0.5h1m-12.5 0.5h1m-0.5 0h1m0.5 0h1m4.5 0h1m-0.5 0h1m-8.5 0.5h1m8.5 0h1m-13 0.5h1m0.5 0h1m5.5 0h1m1 0h1m-1 0h1m3.5 0h1m8.5 0h1m-25 0.5h1m0 0h1m-1 0h1m2.5 0h1m-0.5 0h1m-1 0h1m0.5 0h1m0 0h1m1 0h1m2.5 0h1m0 0h1m-13 0.5h1m2 0h1m3 0h1m2 0h1m0 0h1m11 0h1m-20 0.5h1m-0.5 0h1m-1 0h1m1 0h1m0 0h1m2 0h1m-10 0.5h1m-0.5 0h1m-0.5 0h1m2 0h1m-7 0.5h1m0.5 0h1m-0.5 0h1m0 0h1m-0.5 0h1m0 0h1m-0.5 0h1m0 0h1m0 0h1m0.5 0h1m0.5 0h1m-0.5 0h1m-0.5 0h1m-14 0.5h1m1 0h1m-0.5 0h1m1 0h1m2.5 0h1m-0.5 0h1m0.5 0h1m1.5 0h1m-13 0.5h1m1 0h1m-0.5 0h1m-1 0h1m0.5 0h1m1 0h1m1 0h1m0 0h1m0.5 0h1m0.5 0h1m-0.5 0h1m-0.5 0h1m0.5 0h1m4.5 0h1m-18.5 0.5h1m-0.5 0h1m0 0h1m0.5 0h1m-0.5 0h1m7 0h1m-0.5 0h1m12 0h1m-28.5 0.5h1m-0.5 0h1m2 0h1m-0.5 0h1m-0.5 0h1m-0.5 0h1m0 0h1m0 0h1m0.5 0h1m1.5 0h1m3 0h1m-0.5 0h1m2 0h1m-18.5 0.5h1m0.5 0h1m-1 0h1m-1 0h1m-0.5 0h1m-1 0h1m-0.5 0h1m0 0h1m-0.5 0h1m0.5 0h1m2 0h1m-1 0h1m1 0h1m-1 0h1m-1 0h1m1.5 0h1m-15.5 0.5h1m-0.5 0h1m-0.5 0h1m0.5 0h1m-0.5 0h1m1.5 0h1m0 0h1m-1 0h1m-0.5 0h1m0 0h1m-0.5 0h1m-0.5 0h1m-1 0h1m5 0h1m-15 0.5h1m-0.5 0h1m0 0h1m-0.5 0h1m-1 0h1m-0.5 0h1m1 0h1m1 0h1m-1 0h1m-1 0h1m0.5 0h1m-0.5 0h1m-0.5 0h1m6.5 0h1m5 0h1m13 0h1m-38 0.5h1m1 0h1m-0.5 0h1m-1 0h1m0 0h1m-0.5 0h1m-0.5 0h1m-1 0h1m0.5 0h1m0 0h1m-0.5 0h1m2.5 0h1m0.5 0h1m1 0h1m12 0h1m-28.5 0.5h1m-0.5 0h1m0.5 0h1m-0.5 0h1m2.5 0h1m-1 0h1m-1 0h1m-1 0h1m-1 0h1m0 0h1m0.5 0h1m0.5 0h1m1.5 0h1m-1 0h1m0.5 0h1m-0.5 0h1m0 0h1m-0.5 0h1m-1 0h1m-17 0.5h1m0 0h1m-1 0h1m-0.5 0h1m-1 0h1m-0.5 0h1m-1 0h1m-1 0h1m-1 0h1m-1 0h1m-1 0h1m0 0h1m0 0h1m0 0h1m-1 0h1m-1 0h1m0 0h1m0.5 0h1m-0.5 0h1m-0.5 0h1m-0.5 0h1m-1 0h1m-1 0h1m-0.5 0h1m-1 0h1m-1 0h1m0.5 0h1m-1 0h1m1 0h1m0 0h1m1 0h1m19 0h1m-37.5 0.5h1m-0.5 0h1m-1 0h1m-0.5 0h1m0 0h1m-1 0h1m-1 0h1m0 0h1m-0.5 0h1m-0.5 0h1m-0.5 0h1m-0.5 0h1m-0.5 0h1m-0.5 0h1m-1 0h1m-0.5 0h1m-1 0h1m-0.5 0h1m0.5 0h1m-1 0h1m-0.5 0h1m-1 0h1m0 0h1m-0.5 0h1m-0.5 0h1m-1 0h1m0 0h1m-0.5 0h1m0 0h1m0.5 0h1m-1 0h1m1.5 0h1m0 0h1m-20 0.5h1m0 0h1m-0.5 0h1m-1 0h1m-0.5 0h1m0.5 0h1m-1 0h1m0.5 0h1m0 0h1m-1 0h1m-0.5 0h1m0 0h1m0 0h1m1.5 0h1m-1 0h1m0.5 0h1m1.5 0h1m0.5 0h1m1.5 0h1m-0.5 0h1m3.5 0h1m2 0h1m-28 0.5h1m-0.5 0h1m-1 0h1m0.5 0h1m0.5 0h1m0 0h1m2 0h1m-1 0h1m-1 0h1m0 0h1m-0.5 0h1m-0.5 0h1m0 0h1m0 0h1m-0.5 0h1m-1 0h1m-1 0h1m0 0h1m-1 0h1m-0.5 0h1m0 0h1m0.5 0h1m-1 0h1m-1 0h1m-1 0h1m0 0h1m18.5 0h1m-36.5 0.5h1m-0.5 0h1m0 0h1m-1 0h1m-1 0h1m0.5 0h1m-1 0h1m-1 0h1m-0.5 0h1m-0.5 0h1m0 0h1m0 0h1m-0.5 0h1m-0.5 0h1m0 0h1m-1 0h1m-0.5 0h1m-1 0h1m0 0h1m0.5 0h1m-1 0h1m2.5 0h1m0.5 0h1m2.5 0h1m-20.5 0.5h1m-0.5 0h1m1 0h1m0 0h1m-0.5 0h1m-1 0h1m-0.5 0h1m-0.5 0h1m-1 0h1m-1 0h1m-0.5 0h1m-1 0h1m-1 0h1m0 0h1m-0.5 0h1m-1 0h1m-1 0h1m-0.5 0h1m-1 0h1m-0.5 0h1m-0.5 0h1m-1 0h1m-1 0h1m-0.5 0h1m-1 0h1m-0.5 0h1m0.5 0h1m-1 0h1m0.5 0h1m-0.5 0h1m-1 0h1m0 0h1m0 0h1m-0.5 0h1m-0.5 0h1m9.5 0h1m-27.5 0.5h1m-0.5 0h1m-0.5 0h1m-0.5 0h1m-0.5 0h1m-1 0h1m-1 0h1m-0.5 0h1m0 0h1m-1 0h1m0 0h1m-1 0h1m-0.5 0h1m0 0h1m-1 0h1m-1 0h1m-0.5 0h1m-0.5 0h1m-0.5 0h1m-0.5 0h1m-1 0h1m-0.5 0h1m-0.5 0h1m-1 0h1m-0.5 0h1m-0.5 0h1m-1 0h1m0.5 0h1m-1 0h1m0 0h1m0.5 0h1m-0.5 0h1m2.5 0h1m10 0h1m2 0h1m2 0h1m2 0h1m3.5 0h1m-44.5 0.5h1m-1 0h1m0.5 0h1m-0.5 0h1m0 0h1m-0.5 0h1m-1 0h1m-1 0h1m0 0h1m-1 0h1m-0.5 0h1m-0.5 0h1m-0.5 0h1m-1 0h1m0 0h1m-1 0h1m-1 0h1m-1 0h1m-0.5 0h1m-1 0h1m-1 0h1m0 0h1m-1 0h1m-0.5 0h1m-0.5 0h1m0.5 0h1m-1 0h1m-1 0h1m-1 0h1m-0.5 0h1m-0.5 0h1m-1 0h1m-0.5 0h1m0 0h1m-1 0h1m-1 0h1m1.5 0h1m2.5 0h1m-1 0h1m-21 0.5h1m0 0h1m-1 0h1m-0.5 0h1m0.5 0h1m-0.5 0h1m-1 0h1m-1 0h1m-0.5 0h1m-1 0h1m-0.5 0h1m0 0h1m-0.5 0h1m-1 0h1m-1 0h1m-1 0h1m-0.5 0h1m-1 0h1m-1 0h1m-0.5 0h1m-0.5 0h1m-1 0h1m0 0h1m-1 0h1m-0.5 0h1m-0.5 0h1m-0.5 0h1m-1 0h1m-0.5 0h1m-1 0h1m-0.5 0h1m-1 0h1m-0.5 0h1m0 0h1m-1 0h1m0 0h1m-0.5 0h1m0.5 0h1m0.5 0h1m2.5 0h1m0.5 0h1m5.5 0h1m9.5 0h1m2.5 0h1m-1 0h1m-43 0.5h1m1 0h1m0.5 0h1m-0.5 0h1m-1 0h1m-1 0h1m-0.5 0h1m-1 0h1m0 0h1m0 0h1m-1 0h1m-0.5 0h1m-1 0h1m-0.5 0h1m-1 0h1m-1 0h1m-1 0h1m-1 0h1m-0.5 0h1m-0.5 0h1m-1 0h1m0.5 0h1m0 0h1m0 0h1m-1 0h1m0 0h1m-1 0h1m0 0h1m-1 0h1m-1 0h1m0.5 0h1m1 0h1m2 0h1m-1 0h1m9 0h1m3 0h1m1 0h1m3.5 0h1m2 0h1m-45 0.5h1m-0.5 0h1m-0.5 0h1m-1 0h1m0 0h1m-0.5 0h1m-0.5 0h1m-1 0h1m0 0h1m-1 0h1m0 0h1m-1 0h1m-0.5 0h1m-1 0h1m-1 0h1m-0.5 0h1m0 0h1m-0.5 0h1m-1 0h1m-1 0h1m-0.5 0h1m1.5 0h1m-1 0h1m-1 0h1m0 0h1m-1 0h1m-0.5 0h1m-0.5 0h1m-0.5 0h1m-0.5 0h1m-1 0h1m-1 0h1m-0.5 0h1m8 0h1m7 0h1m1 0h1m3.5 0h1m-0.5 0h1m-37.5 0.5h1m-1 0h1m-0.5 0h1m-1 0h1m0 0h1m0 0h1m-1 0h1m-0.5 0h1m-0.5 0h1m-0.5 0h1m-1 0h1m-0.5 0h1m-1 0h1m-0.5 0h1m-1 0h1m-0.5 0h1m-0.5 0h1m-0.5 0h1m-1 0h1m-0.5 0h1m-0.5 0h1m-1 0h1m-0.5 0h1m-0.5 0h1m-1 0h1m0 0h1m-0.5 0h1m-1 0h1m-0.5 0h1m-0.5 0h1m-1 0h1m-0.5 0h1m-0.5 0h1m0.5 0h1m12.5 0h1m5 0h1m9.5 0h1m2.5 0h1m-49.5 0.5h1m-1 0h1m-1 0h1m0 0h1m-1 0h1m-1 0h1m-0.5 0h1m0 0h1m-1 0h1m-0.5 0h1m0 0h1m0 0h1m-1 0h1m-0.5 0h1m-1 0h1m-0.5 0h1m-1 0h1m-0.5 0h1m-1 0h1m-1 0h1m-1 0h1m-0.5 0h1m-1 0h1m0 0h1m-1 0h1m-1 0h1m-0.5 0h1m-1 0h1m-1 0h1m-1 0h1m-0.5 0h1m-1 0h1m-1 0h1m-0.5 0h1m-0.5 0h1m-0.5 0h1m-1 0h1m1 0h1m-0.5 0h1m-0.5 0h1m-1 0h1m-1 0h1m-1 0h1m-0.5 0h1m0.5 0h1m-0.5 0h1m0 0h1m-1 0h1m-1 0h1m-0.5 0h1m4.5 0h1m4 0h1m2.5 0h1m3 0h1m11.5 0h1m-49 0.5h1m-1 0h1m0 0h1m0 0h1m-0.5 0h1m-1 0h1m-0.5 0h1m-1 0h1m-0.5 0h1m-1 0h1m0 0h1m-1 0h1m-1 0h1m0.5 0h1m-1 0h1m-1 0h1m-1 0h1m-0.5 0h1m-0.5 0h1m-0.5 0h1m-0.5 0h1m-0.5 0h1m-0.5 0h1m-1 0h1m-0.5 0h1m-1 0h1m-1 0h1m-1 0h1m0.5 0h1m-0.5 0h1m-1 0h1m-1 0h1m-1 0h1m0 0h1m1 0h1m-0.5 0h1m0.5 0h1m3.5 0h1m4 0h1m11.5 0h1m-38.5 0.5h1m-1 0h1m-0.5 0h1m-1 0h1m-0.5 0h1m-0.5 0h1m-0.5 0h1m0 0h1m-1 0h1m-0.5 0h1m-1 0h1m-0.5 0h1m-1 0h1m-1 0h1m-1 0h1m-1 0h1m-1 0h1m-0.5 0h1m-1 0h1m-1 0h1m-1 0h1m-0.5 0h1m-1 0h1m-1 0h1m-0.5 0h1m-0.5 0h1m-0.5 0h1m-1 0h1m-1 0h1m-0.5 0h1m-0.5 0h1m-1 0h1m-1 0h1m-1 0h1m-0.5 0h1m-0.5 0h1m-1 0h1m-1 0h1m-0.5 0h1m-0.5 0h1m-0.5 0h1m-0.5 0h1m-1 0h1m-1 0h1m0 0h1m-1 0h1m-1 0h1m1 0h1m-0.5 0h1m0 0h1m1 0h1m9 0h1m2.5 0h1m-1 0h1m2.5 0h1m0 0h1m2 0h1m3 0h1m2 0h1m-46.5 0.5h1m-1 0h1m1 0h1m-1 0h1m-0.5 0h1m0 0h1m-0.5 0h1m-1 0h1m-1 0h1m-0.5 0h1m-1 0h1m-0.5 0h1m0 0h1m-1 0h1m-1 0h1m0 0h1m-0.5 0h1m-0.5 0h1m-0.5 0h1m-1 0h1m-1 0h1m-1 0h1m-0.5 0h1m-1 0h1m-1 0h1m0 0h1m-1 0h1m-1 0h1m-0.5 0h1m-1 0h1m-1 0h1m-0.5 0h1m-1 0h1m-0.5 0h1m-1 0h1m-1 0h1m-0.5 0h1m-0.5 0h1m-0.5 0h1m-0.5 0h1m0.5 0h1m-1 0h1m-0.5 0h1m-1 0h1m3.5 0h1m8 0h1m2.5 0h1m7 0h1m5 0h1m-47.5 0.5h1m-0.5 0h1m-1 0h1m-0.5 0h1m-1 0h1m-1 0h1m-1 0h1m-0.5 0h1m-0.5 0h1m-1 0h1m-0.5 0h1m0 0h1m-0.5 0h1m0 0h1m-1 0h1m-0.5 0h1m-1 0h1m-0.5 0h1m-1 0h1m-0.5 0h1m-1 0h1m-1 0h1m-1 0h1m-0.5 0h1m-1 0h1m-1 0h1m-1 0h1m-1 0h1m-0.5 0h1m0 0h1m-1 0h1m-1 0h1m-0.5 0h1m-1 0h1m0 0h1m0 0h1m0 0h1m0 0h1m-1 0h1m-0.5 0h1m-0.5 0h1m0 0h1m-0.5 0h1m-0.5 0h1m-1 0h1m16.5 0h1m2.5 0h1m-38.5 0.5h1m-0.5 0h1m-1 0h1m-0.5 0h1m-1 0h1m0 0h1m-0.5 0h1m-1 0h1m0 0h1m-0.5 0h1m-1 0h1m0 0h1m-1 0h1m-1 0h1m-0.5 0h1m-1 0h1m-1 0h1m-1 0h1m-1 0h1m-0.5 0h1m-1 0h1m-0.5 0h1m-1 0h1m-0.5 0h1m-0.5 0h1m-1 0h1m-0.5 0h1m0 0h1m-0.5 0h1m-1 0h1m-1 0h1m-1 0h1m-0.5 0h1m-0.5 0h1m-0.5 0h1m0 0h1m-0.5 0h1m-1 0h1m-1 0h1m-0.5 0h1m-0.5 0h1m-0.5 0h1m-1 0h1m-1 0h1m-0.5 0h1m-0.5 0h1m0.5 0h1m0 0h1m-0.5 0h1m5 0h1m0.5 0h1m11 0h1m1 0h1m-40.5 0.5h1m-0.5 0h1m1 0h1m-1 0h1m-1 0h1m0 0h1m-1 0h1m-0.5 0h1m-0.5 0h1m-1 0h1m-0.5 0h1m-1 0h1m-0.5 0h1m-1 0h1m-0.5 0h1m-1 0h1m-0.5 0h1m-1 0h1m-1 0h1m-1 0h1m-0.5 0h1m-0.5 0h1m-1 0h1m-0.5 0h1m-1 0h1m-0.5 0h1m-0.5 0h1m-1 0h1m-1 0h1m-1 0h1m-1 0h1m-0.5 0h1m-0.5 0h1m-0.5 0h1m-1 0h1m-0.5 0h1m-1 0h1m-0.5 0h1m-1 0h1m-0.5 0h1m-1 0h1m-0.5 0h1m-1 0h1m1.5 0h1m0.5 0h1m-0.5 0h1m10.5 0h1m8.5 0h1m1.5 0h1m-42 0.5h1m-0.5 0h1m-1 0h1m0 0h1m0.5 0h1m-0.5 0h1m-1 0h1m0 0h1m0 0h1m-0.5 0h1m-1 0h1m0 0h1m-0.5 0h1m-0.5 0h1m-0.5 0h1m-1 0h1m-1 0h1m0.5 0h1m-0.5 0h1m0 0h1m-1 0h1m-0.5 0h1m-0.5 0h1m-0.5 0h1m-0.5 0h1m-1 0h1m-0.5 0h1m-1 0h1m-0.5 0h1m-1 0h1m-0.5 0h1m0 0h1m-0.5 0h1m-1 0h1m-0.5 0h1m-1 0h1m-0.5 0h1m8 0h1m6.5 0h1m0.5 0h1m-33.5 0.5h1m-0.5 0h1m-0.5 0h1m0 0h1m-1 0h1m-1 0h1m-0.5 0h1m-1 0h1m-1 0h1m-0.5 0h1m-1 0h1m-0.5 0h1m-1 0h1m-1 0h1m-0.5 0h1m-0.5 0h1m-1 0h1m-0.5 0h1m-1 0h1m-1 0h1m-1 0h1m-1 0h1m-0.5 0h1m-1 0h1m-0.5 0h1m-0.5 0h1m-0.5 0h1m-1 0h1m-1 0h1m-1 0h1m-1 0h1m-0.5 0h1m-1 0h1m-1 0h1m-0.5 0h1m-1 0h1m0 0h1m-1 0h1m-1 0h1m-0.5 0h1m-1 0h1m-1 0h1m0 0h1m-0.5 0h1m-1 0h1m-0.5 0h1m4 0h1m-0.5 0h1m-0.5 0h1m-0.5 0h1m4.5 0h1m-27 0.5h1m-0.5 0h1m0 0h1m-0.5 0h1m0 0h1m-0.5 0h1m-1 0h1m-0.5 0h1m-0.5 0h1m-1 0h1m-1 0h1m-0.5 0h1m-0.5 0h1m-0.5 0h1m-0.5 0h1m-1 0h1m-0.5 0h1m-1 0h1m-0.5 0h1m-1 0h1m-0.5 0h1m-1 0h1m-0.5 0h1m-0.5 0h1m-1 0h1m-0.5 0h1m-1 0h1m0 0h1m-1 0h1m-1 0h1m-1 0h1m1 0h1m-1 0h1m0.5 0h1m1 0h1m10 0h1m0.5 0h1m10 0h1m0.5 0h1m-42 0.5h1m0.5 0h1m-1 0h1m-0.5 0h1m0.5 0h1m-0.5 0h1m-0.5 0h1m-1 0h1m-1 0h1m-0.5 0h1m-1 0h1m0.5 0h1m-1 0h1m-1 0h1m-0.5 0h1m-0.5 0h1m-0.5 0h1m-0.5 0h1m-1 0h1m-1 0h1m-0.5 0h1m-1 0h1m-0.5 0h1m0 0h1m-1 0h1m-0.5 0h1m-0.5 0h1m-1 0h1m-1 0h1m-0.5 0h1m-0.5 0h1m0.5 0h1m0 0h1m0.5 0h1m0 0h1m5.5 0h1m5 0h1m9.5 0h1m-41.5 0.5h1m-1 0h1m-1 0h1m-1 0h1m0 0h1m-0.5 0h1m-0.5 0h1m0 0h1m-1 0h1m-0.5 0h1m-0.5 0h1m-1 0h1m-1 0h1m-0.5 0h1m-0.5 0h1m-1 0h1m-0.5 0h1m-0.5 0h1m-0.5 0h1m-1 0h1m-0.5 0h1m-1 0h1m-1 0h1m-0.5 0h1m-1 0h1m-0.5 0h1m-0.5 0h1m-1 0h1m-0.5 0h1m-1 0h1m0 0h1m-1 0h1m-1 0h1m-1 0h1m-0.5 0h1m-1 0h1m-1 0h1m-0.5 0h1m-1 0h1m-0.5 0h1m-0.5 0h1m-0.5 0h1m-1 0h1m-1 0h1m1 0h1m-1 0h1m1.5 0h1m-0.5 0h1m-19 0.5h1m-0.5 0h1m-0.5 0h1m1 0h1m-0.5 0h1m-0.5 0h1m0 0h1m-1 0h1m-1 0h1m-0.5 0h1m-1 0h1m-1 0h1m-1 0h1m-1 0h1m-0.5 0h1m-1 0h1m-1 0h1m-0.5 0h1m-0.5 0h1m-1 0h1m-1 0h1m-1 0h1m0.5 0h1m-1 0h1m-0.5 0h1m-0.5 0h1m-0.5 0h1m-0.5 0h1m-1 0h1m0 0h1m-1 0h1m-1 0h1m-0.5 0h1m-1 0h1m-1 0h1m-1 0h1m1 0h1m-0.5 0h1m-1 0h1m-0.5 0h1m-0.5 0h1m0 0h1m-1 0h1m11 0h1m3.5 0h1m4.5 0h1m-38.5 0.5h1m0 0h1m-0.5 0h1m-1 0h1m-0.5 0h1m-0.5 0h1m-1 0h1m-0.5 0h1m-1 0h1m-1 0h1m-0.5 0h1m-0.5 0h1m-0.5 0h1m-0.5 0h1m-1 0h1m-1 0h1m-0.5 0h1m-1 0h1m-0.5 0h1m-1 0h1m-1 0h1m-1 0h1m-1 0h1m-0.5 0h1m-1 0h1m0 0h1m-1 0h1m-1 0h1m-1 0h1m-0.5 0h1m-1 0h1m-0.5 0h1m-1 0h1m-0.5 0h1m0 0h1m-0.5 0h1m-1 0h1m-1 0h1m0 0h1m-1 0h1m-1 0h1m0 0h1m-1 0h1m-0.5 0h1m-0.5 0h1m0 0h1m1 0h1m2.5 0h1m13.5 0h1m8.5 0h1m-45.5 0.5h1m0 0h1m-1 0h1m0.5 0h1m0 0h1m0 0h1m0 0h1m-0.5 0h1m-0.5 0h1m-1 0h1m-0.5 0h1m-0.5 0h1m-0.5 0h1m-1 0h1m-0.5 0h1m-1 0h1m-0.5 0h1m-0.5 0h1m0.5 0h1m-1 0h1m-0.5 0h1m-1 0h1m0 0h1m-1 0h1m-0.5 0h1m-1 0h1m-1 0h1m-1 0h1m1.5 0h1m0 0h1m2 0h1m-1 0h1m14.5 0h1m4 0h1m-41 0.5h1m0 0h1m-0.5 0h1m-1 0h1m0 0h1m-1 0h1m0.5 0h1m-0.5 0h1m-0.5 0h1m-0.5 0h1m-0.5 0h1m-1 0h1m-0.5 0h1m-1 0h1m-1 0h1m-0.5 0h1m-1 0h1m-1 0h1m-0.5 0h1m-0.5 0h1m0 0h1m-0.5 0h1m-1 0h1m-0.5 0h1m-1 0h1m-1 0h1m-1 0h1m-1 0h1m-0.5 0h1m-1 0h1m-1 0h1m-0.5 0h1m-1 0h1m-0.5 0h1m0 0h1m0 0h1m2.5 0h1m3 0h1m3.5 0h1m1.5 0h1m4 0h1m1 0h1m-36 0.5h1m1 0h1m-1 0h1m-0.5 0h1m-0.5 0h1m-0.5 0h1m-1 0h1m-0.5 0h1m-1 0h1m0 0h1m-1 0h1m-1 0h1m-1 0h1m-0.5 0h1m-0.5 0h1m-0.5 0h1m-1 0h1m-1 0h1m-1 0h1m-1 0h1m-0.5 0h1m-1 0h1m-1 0h1m-1 0h1m-0.5 0h1m0 0h1m-0.5 0h1m-0.5 0h1m-1 0h1m-1 0h1m-0.5 0h1m-0.5 0h1m-0.5 0h1m-0.5 0h1m-1 0h1m-0.5 0h1m-0.5 0h1m-1 0h1m-0.5 0h1m0 0h1m-1 0h1m2 0h1m0 0h1m21.5 0h1m-41.5 0.5h1m-1 0h1m0 0h1m0 0h1m0 0h1m-0.5 0h1m-1 0h1m-1 0h1m-1 0h1m-0.5 0h1m0 0h1m-0.5 0h1m-1 0h1m-0.5 0h1m-1 0h1m-1 0h1m-1 0h1m-0.5 0h1m0 0h1m-0.5 0h1m0 0h1m-0.5 0h1m-0.5 0h1m-0.5 0h1m-0.5 0h1m0 0h1m0.5 0h1m-1 0h1m-0.5 0h1m-0.5 0h1m0.5 0h1m2.5 0h1m-20.5 0.5h1m-1 0h1m-0.5 0h1m0.5 0h1m-0.5 0h1m-0.5 0h1m-1 0h1m-1 0h1m-1 0h1m-1 0h1m-0.5 0h1m0 0h1m-1 0h1m-0.5 0h1m0 0h1m0 0h1m-1 0h1m-1 0h1m-1 0h1m-0.5 0h1m-1 0h1m0.5 0h1m-1 0h1m-0.5 0h1m-1 0h1m0 0h1m0 0h1m-0.5 0h1m-0.5 0h1m-0.5 0h1m-1 0h1m-0.5 0h1m-1 0h1m-0.5 0h1m-0.5 0h1m-0.5 0h1m-1 0h1m1.5 0h1m0.5 0h1m-1 0h1m5.5 0h1m-25 0.5h1m0 0h1m-1 0h1m-0.5 0h1m-1 0h1m-0.5 0h1m0 0h1m1 0h1m-0.5 0h1m-1 0h1m0 0h1m-1 0h1m-0.5 0h1m-0.5 0h1m0 0h1m0 0h1m-0.5 0h1m-1 0h1m-0.5 0h1m-1 0h1m-1 0h1m0.5 0h1m0 0h1m0.5 0h1m0 0h1m-18 0.5h1m-0.5 0h1m1 0h1m0 0h1m-0.5 0h1m0.5 0h1m-1 0h1m-1 0h1m-1 0h1m-0.5 0h1m-0.5 0h1m-1 0h1m0 0h1m0 0h1m-1 0h1m-0.5 0h1m-1 0h1m-0.5 0h1m-1 0h1m-1 0h1m-1 0h1m-0.5 0h1m-1 0h1m0.5 0h1m-1 0h1m0 0h1m-0.5 0h1m0 0h1m-0.5 0h1m-1 0h1m0 0h1m9 0h1m-27 0.5h1m0.5 0h1m-1 0h1m0 0h1m-1 0h1m0 0h1m-0.5 0h1m0 0h1m-1 0h1m-0.5 0h1m-1 0h1m-0.5 0h1m-1 0h1m-0.5 0h1m-1 0h1m-1 0h1m1 0h1m-0.5 0h1m-0.5 0h1m-0.5 0h1m0.5 0h1m-0.5 0h1m-0.5 0h1m0 0h1m-0.5 0h1m0 0h1m-0.5 0h1m-1 0h1m4.5 0h1m2.5 0h1m-24.5 0.5h1m-0.5 0h1m-1 0h1m0 0h1m0 0h1m-0.5 0h1m-0.5 0h1m0 0h1m0 0h1m-1 0h1m-1 0h1m0 0h1m-0.5 0h1m0.5 0h1m-1 0h1m-1 0h1m-1 0h1m-0.5 0h1m-1 0h1m-0.5 0h1m-1 0h1m-1 0h1m-0.5 0h1m-1 0h1m-0.5 0h1m-1 0h1m-1 0h1m-0.5 0h1m-0.5 0h1m1 0h1m0 0h1m0 0h1m0.5 0h1m-19 0.5h1m3.5 0h1m0 0h1m0 0h1m-1 0h1m-0.5 0h1m0.5 0h1m0 0h1m-0.5 0h1m-1 0h1m-1 0h1m-0.5 0h1m-0.5 0h1m-0.5 0h1m0.5 0h1m-0.5 0h1m-1 0h1m1 0h1m-0.5 0h1m-0.5 0h1m17.5 0h1m-35.5 0.5h1m-0.5 0h1m1.5 0h1m1 0h1m-0.5 0h1m0 0h1m-0.5 0h1m-1 0h1m-1 0h1m-1 0h1m-0.5 0h1m0 0h1m-1 0h1m-1 0h1m0 0h1m-0.5 0h1m1 0h1m-1 0h1m-1 0h1m-0.5 0h1m-1 0h1m-1 0h1m0 0h1m-0.5 0h1m-1 0h1m1.5 0h1m9 0h1m11 0h1m-38.5 0.5h1m-0.5 0h1m-1 0h1m0.5 0h1m0.5 0h1m-0.5 0h1m-0.5 0h1m0.5 0h1m0 0h1m-0.5 0h1m-0.5 0h1m-1 0h1m0.5 0h1m-1 0h1m-0.5 0h1m-1 0h1m-0.5 0h1m-1 0h1m-0.5 0h1m-1 0h1m-0.5 0h1m-0.5 0h1m-1 0h1m-1 0h1m-0.5 0h1m1.5 0h1m6 0h1m-23 0.5h1m-0.5 0h1m-0.5 0h1m-0.5 0h1m-1 0h1m-0.5 0h1m-0.5 0h1m-0.5 0h1m0 0h1m0 0h1m-1 0h1m-0.5 0h1m1 0h1m-1 0h1m0 0h1m0.5 0h1m-0.5 0h1m-0.5 0h1m1 0h1m-1 0h1m-0.5 0h1m-1 0h1m1.5 0h1m-15.5 0.5h1m-0.5 0h1m1 0h1m1.5 0h1m-0.5 0h1m1 0h1m1.5 0h1m-1 0h1m0.5 0h1m0 0h1m-13.5 0.5h1m-0.5 0h1m-0.5 0h1m-0.5 0h1m-0.5 0h1m-0.5 0h1m-1 0h1m0.5 0h1m-1 0h1m0 0h1m-1 0h1m0 0h1m0.5 0h1m-0.5 0h1m-0.5 0h1m-0.5 0h1m-0.5 0h1m-0.5 0h1m0.5 0h1m1 0h1m21.5 0h1m-39.5 0.5h1m-0.5 0h1m-0.5 0h1m0 0h1m0 0h1m0 0h1m2 0h1m0 0h1m0 0h1m-1 0h1m-0.5 0h1m1.5 0h1m-1 0h1m-0.5 0h1m1 0h1m0 0h1m0.5 0h1m3 0h1m-18 0.5h1m-0.5 0h1m0.5 0h1m0 0h1m0.5 0h1m-0.5 0h1m-0.5 0h1m0 0h1m-1 0h1m2.5 0h1m-1 0h1m1.5 0h1m-13.5 0.5h1m-0.5 0h1m-0.5 0h1m-0.5 0h1m-1 0h1m0.5 0h1m1 0h1m-1 0h1m-1 0h1m0 0h1m-1 0h1m-0.5 0h1m-0.5 0h1m-1 0h1m-1 0h1m1 0h1m-1 0h1m0 0h1m1.5 0h1m-12 0.5h1m3.5 0h1m0 0h1m1 0h1m-1 0h1m1.5 0h1m-1 0h1m2 0h1m-0.5 0h1m-0.5 0h1m40.5 0h1m-61.5 0.5h1m2.5 0h1m-0.5 0h1m2.5 0h1m-0.5 0h1m-0.5 0h1m0.5 0h1m-1 0h1m0 0h1m0 0h1m5 0h1m4.5 0h1m-24.5 0.5h1m2.5 0h1m2 0h1m0 0h1m1.5 0h1m-0.5 0h1m-0.5 0h1m-0.5 0h1m-0.5 0h1m-1 0h1m0 0h1m2 0h1m0.5 0h1m-15 0.5h1m-0.5 0h1m0 0h1m-0.5 0h1m-1 0h1m-0.5 0h1m1.5 0h1m0 0h1m-1 0h1m-0.5 0h1m0.5 0h1m-1 0h1m-0.5 0h1m2.5 0h1m0 0h1m1 0h1m4 0h1m-25 0.5h1m2.5 0h1m-1 0h1m-1 0h1m0 0h1m-0.5 0h1m0 0h1m-1 0h1m-0.5 0h1m0 0h1m2.5 0h1m0 0h1m-1 0h1m-9 0.5h1m-0.5 0h1m4 0h1m1.5 0h1m0.5 0h1m-14.5 0.5h1m1.5 0h1m1 0h1m-1 0h1m0.5 0h1m1 0h1m-0.5 0h1m2 0h1m7 0h1m3.5 0h1m-20.5 0.5h1m-1 0h1m1.5 0h1m3 0h1m0 0h1m0.5 0h1m-1 0h1m2.5 0h1m-0.5 0h1m-17 0.5h1m3.5 0h1m2 0h1m9.5 0h1m-18 0.5h1m9.5 0h1m9.5 0h1m-16 0.5h1m2 0h1m6 0h1m-7.5 0.5h1m0.5 0h1m-11.5 0.5h1m0.5 0h1m2.5 0h1m10 0h1m-16.5 0.5h1m1.5 0h1m1.5 0h1m-1 0h1m-2.5 0.5h1m0 0h1m1 0h1m-6 0.5h1m3.5 0h1m-0.5 0h1m-7.5 0.5h1m1 0.5h1m-5.5 0.5h1m1.5 0h1m2 0h1m8.5 0h1m0 0h1m25 0h1m-36.5 0.5h1m9.5 0h1m-11.5 0.5h1m2.5 0.5h1m3 0h1m50.5 0h1m-59 0.5h1m9.5 0h1m-16 0.5h1m6.5 0.5h1m-6.5 0.5h1m11 0h1m-11.5 0.5h1m4 0h1m0 0h1m2 0h1m0 0h1m-9 0.5h1m7 0h1m-13.5 0.5h1m4 0h1m0.5 0h1m4 0h1m-11.5 0.5h1m4.5 0h1m3 0h1m-8.5 0.5h1m1 0h1m-3.5 0.5h1m2 0h1m0 0h1m-0.5 0h1m10 0h1m-13.5 0.5h1m1 0h1m0 0h1m-9 0.5h1m2 0h1m1 0h1m0 0h1m-0.5 0h1m0 0h1m1.5 0h1m0.5 0h1m51 0h1m-61.5 0.5h1m3.5 0h1m0.5 0h1m3.5 0h1m-11 0.5h1m4 0h1m0 0h1m-0.5 0h1m-0.5 0h1m3.5 0.5h1m30 0.5h1m-44.5 0.5h1m6.5 0h1m-5 1h1m1 0h1m19 0h1m-6.5 4h1m6 0h1" stroke="#000" stroke-opacity="0.6" stroke-width="1" fill="none" filter="url(#bl)"/>
<rect x="43.8" y="89.4" width="22.16" height="11.4" fill="#fff"/>
<rect x="92.84" y="89.4" width="21.96" height="11.4" fill="#fff"/>
<rect x="43.8" y="150.22" width="22.16" height="10.48" fill="#fff"/>
<rect x="87.34" y="150.22" width="27.46" height="10.48" fill="#fff"/>
<rect x="43" y="88.8" width="72.6" height="72.5" fill="none" stroke="#a8a8a8" stroke-width="1.1"/>
<path d="M44.2 89.8V161.3M43 160.1H114.6" stroke="#c8c8c8" stroke-width="1" stroke-dasharray="1 2" fill="none"/>
<path d="M65 161.3H94" stroke="#8a8a8a" stroke-width="1" fill="none"/>
<path d="M66.7 88.8V161.3M43 143.1H115.6" stroke="#555" stroke-width="1.3" fill="none"/>
<text transform="translate(44.5 98.8) scale(1.02 1)" font-size="9.7" text-anchor="start">94.6</text>
<text transform="translate(114.3 98.8) scale(1.02 1)" font-size="9.7" text-anchor="end">1.77</text>
<text transform="translate(44.5 159.6) scale(1.02 1)" font-size="9.7" text-anchor="start">3.65</text>
<text transform="translate(114.3 159.6) scale(1.02 1)" font-size="9.7" text-anchor="end">0.026</text>
<path d="M36.6 161.9l1 0.7l2.6-1.8M36.6 143.78l1 0.7l2.6-1.8M36.6 125.65l1 0.7l2.6-1.8M36.6 107.52l1 0.7l2.6-1.8M36.6 89.4l1 0.7l2.6-1.8M40.8 165.6l1 0.8l2.8-1.9M58.95 165.6l1 0.8l2.8-1.9M77.1 165.6l1 0.8l2.8-1.9M95.25 165.6l1 0.8l2.8-1.9M113.4 165.6l1 0.8l2.8-1.9" stroke="#8a8a8a" stroke-width="1.0" fill="none"/>
<clipPath id="c133"><rect x="133.3" y="88.8" width="72.1" height="72.50000000000001"/></clipPath>
<ellipse cx="140.5" cy="118.0" rx="9.0" ry="14.5" fill="#000" clip-path="url(#c133)"/>
<path d="M145.5 91h1m-11 2h1m6 1.5h1m3 0h1m-12 2h1m5 0h1m1 0h1m4 0.5h1m-10.5 0.5h1m-5.5 0.5h1m1 0h1m6.5 0h1m-7.5 0.5h1m1.5 0.5h1m2 0h1m4 0h1m4 0h1m-18 1h1m9 0h1m0 0h1m1.5 0h1m-2.5 0.5h1m-13 1h1m-1 0h1m-0.5 0h1m6.5 0h1m1.5 0h1m2.5 0h1m-13.5 0.5h1m-0.5 0h1m1 0h1m6.5 0h1m-1 0h1m1 0h1m2 0h1m-18.5 0.5h1m1 0h1m0 0h1m1 0h1m-0.5 0h1m0.5 0h1m1 0h1m3 0h1m-13.5 0.5h1m1.5 0h1m2 0h1m-0.5 0h1m0 0h1m-1 0h1m0 0h1m0 0h1m4 0h1m0 0h1m2 0h1m-20.5 0.5h1m-0.5 0h1m1.5 0h1m-0.5 0h1m1 0h1m0.5 0h1m1 0h1m3 0h1m-0.5 0h1m-11 0.5h1m2 0h1m1.5 0h1m2 0h1m-0.5 0h1m2 0h1m1.5 0h1m-17 0.5h1m0 0h1m-1 0h1m0 0h1m-0.5 0h1m1 0h1m-0.5 0h1m-1 0h1m1.5 0h1m-0.5 0h1m1 0h1m2 0h1m-1 0h1m-1 0h1m-0.5 0h1m-14 0.5h1m1.5 0h1m-0.5 0h1m0 0h1m-0.5 0h1m-1 0h1m-0.5 0h1m-1 0h1m4 0h1m5.5 0h1m-19.5 0.5h1m-1 0h1m0.5 0h1m5.5 0h1m0.5 0h1m-0.5 0h1m0.5 0h1m-0.5 0h1m0.5 0h1m-14 0.5h1m-0.5 0h1m3 0h1m-1 0h1m0 0h1m0.5 0h1m-0.5 0h1m11 0h1m-21 0.5h1m0 0h1m-0.5 0h1m-0.5 0h1m-1 0h1m0.5 0h1m-0.5 0h1m-0.5 0h1m1 0h1m-1 0h1m0.5 0h1m0 0h1m-1 0h1m0.5 0h1m0 0h1m-0.5 0h1m-0.5 0h1m0.5 0h1m3.5 0h1m0.5 0h1m25.5 0h1m-47.5 0.5h1m0 0h1m1.5 0h1m0.5 0h1m-0.5 0h1m-0.5 0h1m-0.5 0h1m-0.5 0h1m2 0h1m-0.5 0h1m-1 0h1m-1 0h1m-0.5 0h1m-1 0h1m1 0h1m-1 0h1m29.5 0h1m-44.5 0.5h1m0 0h1m-0.5 0h1m4.5 0h1m0 0h1m-0.5 0h1m-0.5 0h1m-1 0h1m-1 0h1m-1 0h1m0 0h1m-0.5 0h1m-0.5 0h1m-0.5 0h1m-0.5 0h1m-0.5 0h1m0 0h1m-1 0h1m-1 0h1m-0.5 0h1m2.5 0h1m1 0h1m19 0h1m3.5 0h1m-43.5 0.5h1m1 0h1m-0.5 0h1m0 0h1m-0.5 0h1m-1 0h1m0 0h1m-1 0h1m-0.5 0h1m-0.5 0h1m-1 0h1m-0.5 0h1m-1 0h1m-0.5 0h1m0 0h1m-0.5 0h1m-0.5 0h1m0 0h1m-0.5 0h1m-1 0h1m0.5 0h1m0 0h1m4.5 0h1m13 0h1m3 0h1m1 0h1m0.5 0h1m-0.5 0h1m3 0h1m0.5 0h1m-47.5 0.5h1m-0.5 0h1m-0.5 0h1m-0.5 0h1m-0.5 0h1m-1 0h1m-0.5 0h1m-1 0h1m-0.5 0h1m-0.5 0h1m0.5 0h1m-1 0h1m0 0h1m-1 0h1m0 0h1m-0.5 0h1m-1 0h1m1 0h1m-0.5 0h1m-0.5 0h1m-0.5 0h1m-0.5 0h1m-1 0h1m-0.5 0h1m0 0h1m1.5 0h1m26 0h1m1.5 0h1m-47 0.5h1m-0.5 0h1m-1 0h1m-0.5 0h1m-1 0h1m0.5 0h1m-0.5 0h1m0.5 0h1m0.5 0h1m-1 0h1m-0.5 0h1m-1 0h1m-0.5 0h1m-0.5 0h1m0 0h1m-0.5 0h1m1 0h1m-0.5 0h1m0 0h1m-1 0h1m0.5 0h1m8.5 0h1m11 0h1m-0.5 0h1m0.5 0h1m5.5 0h1m4.5 0h1m-49 0.5h1m-0.5 0h1m-1 0h1m-0.5 0h1m-0.5 0h1m-0.5 0h1m-1 0h1m0 0h1m-0.5 0h1m-1 0h1m0.5 0h1m-0.5 0h1m0 0h1m-1 0h1m-0.5 0h1m-0.5 0h1m-1 0h1m0 0h1m-0.5 0h1m-0.5 0h1m-1 0h1m2.5 0h1m4.5 0h1m18.5 0h1m0 0h1m6.5 0h1m-48.5 0.5h1m-1 0h1m-0.5 0h1m0.5 0h1m-0.5 0h1m-1 0h1m-0.5 0h1m-1 0h1m-0.5 0h1m-0.5 0h1m-1 0h1m-1 0h1m0 0h1m-0.5 0h1m0 0h1m-1 0h1m-0.5 0h1m-1 0h1m-1 0h1m-0.5 0h1m-0.5 0h1m-1 0h1m0 0h1m-1 0h1m-0.5 0h1m-0.5 0h1m-1 0h1m0 0h1m1.5 0h1m2 0h1m-0.5 0h1m24.5 0h1m7.5 0h1m-52 0.5h1m-1 0h1m-0.5 0h1m-0.5 0h1m-0.5 0h1m0 0h1m-1 0h1m-0.5 0h1m-1 0h1m1 0h1m-1 0h1m-1 0h1m-0.5 0h1m0 0h1m-0.5 0h1m0 0h1m-1 0h1m-1 0h1m-0.5 0h1m-0.5 0h1m-1 0h1m-1 0h1m0 0h1m-0.5 0h1m0 0h1m-1 0h1m0 0h1m-1 0h1m-1 0h1m0 0h1m3 0h1m3.5 0h1m15 0h1m1 0h1m-0.5 0h1m0.5 0h1m1 0h1m6 0h1m-51 0.5h1m-1 0h1m-1 0h1m-0.5 0h1m0 0h1m-1 0h1m0 0h1m-0.5 0h1m-1 0h1m-0.5 0h1m-0.5 0h1m-0.5 0h1m-0.5 0h1m-0.5 0h1m-1 0h1m-0.5 0h1m-0.5 0h1m-1 0h1m-0.5 0h1m-1 0h1m-1 0h1m-1 0h1m-0.5 0h1m-0.5 0h1m0 0h1m0.5 0h1m-1 0h1m0 0h1m-1 0h1m-0.5 0h1m0.5 0h1m-1 0h1m-0.5 0h1m1 0h1m22.5 0h1m6 0h1m2.5 0h1m-51 0.5h1m-1 0h1m0 0h1m-1 0h1m0 0h1m-0.5 0h1m0 0h1m-0.5 0h1m-1 0h1m-0.5 0h1m-1 0h1m-0.5 0h1m-1 0h1m-1 0h1m-0.5 0h1m-0.5 0h1m-1 0h1m-0.5 0h1m-1 0h1m0 0h1m-0.5 0h1m-1 0h1m-0.5 0h1m-0.5 0h1m0 0h1m0 0h1m0.5 0h1m0.5 0h1m-0.5 0h1m0 0h1m23 0h1m1 0h1m-0.5 0h1m1.5 0h1m1.5 0h1m-1 0h1m0.5 0h1m-51.5 0.5h1m1 0h1m-0.5 0h1m-0.5 0h1m0.5 0h1m-1 0h1m-1 0h1m-0.5 0h1m-1 0h1m-1 0h1m-1 0h1m-0.5 0h1m-1 0h1m-0.5 0h1m1 0h1m-0.5 0h1m-0.5 0h1m-1 0h1m-1 0h1m-1 0h1m-0.5 0h1m0 0h1m-1 0h1m-0.5 0h1m-0.5 0h1m-1 0h1m1 0h1m-1 0h1m-0.5 0h1m0 0h1m1.5 0h1m-0.5 0h1m-0.5 0h1m17 0h1m-0.5 0h1m0 0h1m0 0h1m-0.5 0h1m-0.5 0h1m0.5 0h1m-0.5 0h1m2.5 0h1m-46.5 0.5h1m0 0h1m-1 0h1m-1 0h1m0.5 0h1m0 0h1m0 0h1m-0.5 0h1m-0.5 0h1m-0.5 0h1m-1 0h1m-0.5 0h1m-1 0h1m-1 0h1m-0.5 0h1m-1 0h1m-0.5 0h1m-0.5 0h1m-1 0h1m-1 0h1m-0.5 0h1m-0.5 0h1m0 0h1m-1 0h1m1 0h1m0.5 0h1m-1 0h1m-0.5 0h1m-1 0h1m-0.5 0h1m0 0h1m2.5 0h1m-0.5 0h1m-0.5 0h1m0 0h1m0.5 0h1m-0.5 0h1m15.5 0h1m-0.5 0h1m-0.5 0h1m7 0h1m0 0h1m-49.5 0.5h1m-0.5 0h1m-0.5 0h1m0.5 0h1m-1 0h1m-0.5 0h1m-1 0h1m-0.5 0h1m-1 0h1m-1 0h1m-1 0h1m-0.5 0h1m-1 0h1m-0.5 0h1m-0.5 0h1m-0.5 0h1m-0.5 0h1m-1 0h1m-0.5 0h1m0 0h1m0 0h1m0 0h1m0.5 0h1m0 0h1m-0.5 0h1m-1 0h1m0.5 0h1m1 0h1m3 0h1m12 0h1m6 0h1m0 0h1m-0.5 0h1m3 0h1m0.5 0h1m1.5 0h1m-51 0.5h1m0 0h1m-1 0h1m-1 0h1m-0.5 0h1m-1 0h1m-0.5 0h1m-1 0h1m-0.5 0h1m-1 0h1m0 0h1m-1 0h1m-1 0h1m-0.5 0h1m-0.5 0h1m-0.5 0h1m-1 0h1m-0.5 0h1m-0.5 0h1m-0.5 0h1m-0.5 0h1m-0.5 0h1m-1 0h1m-0.5 0h1m-1 0h1m-1 0h1m-0.5 0h1m-1 0h1m1 0h1m-1 0h1m-0.5 0h1m-1 0h1m-0.5 0h1m-0.5 0h1m-0.5 0h1m0 0h1m-0.5 0h1m4.5 0h1m12.5 0h1m0 0h1m0 0h1m-1 0h1m2 0h1m-0.5 0h1m1 0h1m-0.5 0h1m2.5 0h1m0.5 0h1m-47.5 0.5h1m0.5 0h1m0 0h1m-0.5 0h1m-0.5 0h1m-1 0h1m-0.5 0h1m-1 0h1m-0.5 0h1m-1 0h1m-0.5 0h1m-1 0h1m-1 0h1m-1 0h1m-1 0h1m-0.5 0h1m-0.5 0h1m-1 0h1m-1 0h1m-1 0h1m-1 0h1m-0.5 0h1m-1 0h1m-1 0h1m-1 0h1m-0.5 0h1m-1 0h1m-1 0h1m-1 0h1m-0.5 0h1m-0.5 0h1m-1 0h1m0 0h1m-1 0h1m-0.5 0h1m-0.5 0h1m-0.5 0h1m-1 0h1m-0.5 0h1m-0.5 0h1m0 0h1m-1 0h1m2 0h1m-0.5 0h1m-1 0h1m3 0h1m11 0h1m3 0h1m-0.5 0h1m-0.5 0h1m-0.5 0h1m0 0h1m2.5 0h1m0.5 0h1m3.5 0h1m-47.5 0.5h1m-1 0h1m-1 0h1m-0.5 0h1m-1 0h1m-1 0h1m-1 0h1m-1 0h1m1 0h1m-0.5 0h1m-1 0h1m-1 0h1m-0.5 0h1m-0.5 0h1m-1 0h1m-0.5 0h1m-1 0h1m-0.5 0h1m-0.5 0h1m-0.5 0h1m-1 0h1m-0.5 0h1m-1 0h1m-0.5 0h1m-0.5 0h1m-1 0h1m-1 0h1m0 0h1m-1 0h1m-1 0h1m-0.5 0h1m-1 0h1m-1 0h1m-0.5 0h1m-0.5 0h1m-0.5 0h1m-1 0h1m0.5 0h1m-0.5 0h1m-0.5 0h1m-0.5 0h1m0 0h1m-0.5 0h1m0.5 0h1m21 0h1m2.5 0h1m2 0h1m0 0h1m-48 0.5h1m-1 0h1m-0.5 0h1m-1 0h1m-1 0h1m-1 0h1m0 0h1m0 0h1m0.5 0h1m-1 0h1m0 0h1m-0.5 0h1m-1 0h1m-1 0h1m-0.5 0h1m-1 0h1m-1 0h1m-0.5 0h1m-0.5 0h1m0.5 0h1m-0.5 0h1m-1 0h1m0.5 0h1m-1 0h1m-1 0h1m-0.5 0h1m-1 0h1m-1 0h1m0 0h1m-1 0h1m1.5 0h1m-0.5 0h1m6 0h1m10 0h1m1 0h1m0.5 0h1m1.5 0h1m-1 0h1m1.5 0h1m-0.5 0h1m-1 0h1m1 0h1m2.5 0h1m8 0h1m-57.5 0.5h1m-0.5 0h1m-0.5 0h1m-0.5 0h1m-1 0h1m0 0h1m0 0h1m-0.5 0h1m-0.5 0h1m-0.5 0h1m-1 0h1m-0.5 0h1m-1 0h1m0 0h1m-0.5 0h1m-1 0h1m-0.5 0h1m0 0h1m-0.5 0h1m-1 0h1m-0.5 0h1m-1 0h1m-0.5 0h1m-1 0h1m-0.5 0h1m0.5 0h1m-0.5 0h1m-0.5 0h1m0 0h1m0 0h1m5.5 0h1m13.5 0h1m1 0h1m-0.5 0h1m-1 0h1m0 0h1m-0.5 0h1m0.5 0h1m1 0h1m-1 0h1m0.5 0h1m-1 0h1m0.5 0h1m-47 0.5h1m0 0h1m-1 0h1m-1 0h1m-0.5 0h1m-0.5 0h1m-1 0h1m-0.5 0h1m-1 0h1m-0.5 0h1m-1 0h1m-1 0h1m-1 0h1m-0.5 0h1m-0.5 0h1m-0.5 0h1m-1 0h1m0 0h1m-0.5 0h1m-1 0h1m-1 0h1m0 0h1m-1 0h1m-1 0h1m-1 0h1m-1 0h1m-0.5 0h1m-1 0h1m-1 0h1m-0.5 0h1m-0.5 0h1m-0.5 0h1m-1 0h1m-0.5 0h1m0.5 0h1m-1 0h1m-1 0h1m-0.5 0h1m-1 0h1m-0.5 0h1m-0.5 0h1m-1 0h1m0 0h1m-1 0h1m-1 0h1m-0.5 0h1m0 0h1m2 0h1m12 0h1m4 0h1m-0.5 0h1m0 0h1m1 0h1m0 0h1m-0.5 0h1m0 0h1m2 0h1m1 0h1m-48 0.5h1m-1 0h1m-0.5 0h1m-1 0h1m-0.5 0h1m-0.5 0h1m-0.5 0h1m-1 0h1m1 0h1m-1 0h1m-1 0h1m-0.5 0h1m-1 0h1m-0.5 0h1m-1 0h1m-1 0h1m-0.5 0h1m-1 0h1m-0.5 0h1m-1 0h1m0 0h1m-1 0h1m-1 0h1m-1 0h1m-0.5 0h1m-1 0h1m-1 0h1m-0.5 0h1m-1 0h1m0.5 0h1m-1 0h1m-0.5 0h1m-1 0h1m0 0h1m-0.5 0h1m0.5 0h1m-1 0h1m-1 0h1m-1 0h1m-1 0h1m-0.5 0h1m4 0h1m0.5 0h1m14 0h1m2.5 0h1m1 0h1m0.5 0h1m2 0h1m-1 0h1m-1 0h1m1.5 0h1m-0.5 0h1m1.5 0h1m-0.5 0h1m-53 0.5h1m0 0h1m-0.5 0h1m0 0h1m-1 0h1m-1 0h1m-1 0h1m-0.5 0h1m-1 0h1m0.5 0h1m-0.5 0h1m-0.5 0h1m-1 0h1m-1 0h1m-0.5 0h1m-1 0h1m-0.5 0h1m-0.5 0h1m-1 0h1m-1 0h1m-1 0h1m-0.5 0h1m-1 0h1m0 0h1m-0.5 0h1m-1 0h1m-0.5 0h1m-0.5 0h1m-1 0h1m-0.5 0h1m-1 0h1m-1 0h1m-0.5 0h1m-1 0h1m-0.5 0h1m-0.5 0h1m-0.5 0h1m0 0h1m-0.5 0h1m0.5 0h1m0.5 0h1m17.5 0h1m4.5 0h1m-0.5 0h1m-1 0h1m-1 0h1m0.5 0h1m1 0h1m-0.5 0h1m4.5 0h1m-51 0.5h1m-0.5 0h1m-0.5 0h1m-1 0h1m-1 0h1m-0.5 0h1m-1 0h1m-1 0h1m-1 0h1m-1 0h1m-0.5 0h1m-1 0h1m-1 0h1m-0.5 0h1m-1 0h1m-0.5 0h1m-1 0h1m-0.5 0h1m-1 0h1m-0.5 0h1m-0.5 0h1m-1 0h1m-1 0h1m-0.5 0h1m-1 0h1m-0.5 0h1m-0.5 0h1m-1 0h1m-0.5 0h1m-1 0h1m-1 0h1m-0.5 0h1m-1 0h1m-1 0h1m-1 0h1m-0.5 0h1m-0.5 0h1m-1 0h1m-0.5 0h1m-1 0h1m-0.5 0h1m-0.5 0h1m-1 0h1m-0.5 0h1m-1 0h1m-0.5 0h1m-1 0h1m-0.5 0h1m-1 0h1m-0.5 0h1m-1 0h1m-0.5 0h1m-0.5 0h1m-0.5 0h1m0.5 0h1m-1 0h1m-0.5 0h1m21 0h1m0.5 0h1m-1 0h1m-0.5 0h1m-0.5 0h1m0 0h1m-0.5 0h1m1 0h1m2 0h1m1.5 0h1m-0.5 0h1m-1 0h1m0 0h1m-52 0.5h1m0 0h1m-1 0h1m0.5 0h1m-0.5 0h1m-0.5 0h1m-1 0h1m-0.5 0h1m-0.5 0h1m0 0h1m-1 0h1m-0.5 0h1m-1 0h1m-1 0h1m-0.5 0h1m-0.5 0h1m-0.5 0h1m-1 0h1m-0.5 0h1m-1 0h1m-0.5 0h1m-1 0h1m-0.5 0h1m-1 0h1m-1 0h1m-0.5 0h1m-1 0h1m-0.5 0h1m-1 0h1m-1 0h1m-1 0h1m-1 0h1m-1 0h1m-0.5 0h1m-1 0h1m-0.5 0h1m-1 0h1m-1 0h1m-1 0h1m-0.5 0h1m-1 0h1m-1 0h1m-0.5 0h1m0 0h1m0 0h1m-0.5 0h1m-0.5 0h1m16.5 0h1m2.5 0h1m0.5 0h1m-1 0h1m-0.5 0h1m2 0h1m-0.5 0h1m0 0h1m3.5 0h1m-0.5 0h1m5.5 0h1m0 0h1m-53.5 0.5h1m-0.5 0h1m-1 0h1m-0.5 0h1m-1 0h1m-1 0h1m0 0h1m-1 0h1m-1 0h1m0 0h1m-0.5 0h1m-1 0h1m-1 0h1m-0.5 0h1m-1 0h1m-0.5 0h1m-1 0h1m-1 0h1m-1 0h1m-0.5 0h1m-1 0h1m-1 0h1m-1 0h1m-1 0h1m0 0h1m-1 0h1m-1 0h1m-0.5 0h1m-1 0h1m-0.5 0h1m-1 0h1m-1 0h1m-1 0h1m-1 0h1m0 0h1m-1 0h1m-0.5 0h1m-1 0h1m0.5 0h1m1 0h1m-1 0h1m-0.5 0h1m-0.5 0h1m-0.5 0h1m-1 0h1m-1 0h1m-0.5 0h1m15 0h1m6 0h1m-1 0h1m3.5 0h1m0.5 0h1m-1 0h1m1 0h1m0.5 0h1m-48.5 0.5h1m-0.5 0h1m-0.5 0h1m-1 0h1m0 0h1m-0.5 0h1m-1 0h1m-0.5 0h1m-1 0h1m-1 0h1m-1 0h1m0 0h1m-0.5 0h1m-0.5 0h1m-1 0h1m-1 0h1m-1 0h1m-0.5 0h1m0 0h1m-0.5 0h1m-1 0h1m-1 0h1m-1 0h1m-0.5 0h1m-1 0h1m-0.5 0h1m0 0h1m-0.5 0h1m0 0h1m-1 0h1m-0.5 0h1m-1 0h1m-0.5 0h1m3.5 0h1m5 0h1m8 0h1m1 0h1m1.5 0h1m1.5 0h1m0.5 0h1m0 0h1m0.5 0h1m-0.5 0h1m2 0h1m1 0h1m-49.5 0.5h1m-0.5 0h1m-0.5 0h1m-0.5 0h1m0 0h1m-1 0h1m-0.5 0h1m-1 0h1m-0.5 0h1m0 0h1m-0.5 0h1m-0.5 0h1m-1 0h1m-0.5 0h1m-0.5 0h1m-0.5 0h1m-1 0h1m-0.5 0h1m-1 0h1m-1 0h1m-1 0h1m-0.5 0h1m-1 0h1m0 0h1m-1 0h1m0 0h1m-0.5 0h1m-0.5 0h1m-1 0h1m-0.5 0h1m-0.5 0h1m-0.5 0h1m0 0h1m-1 0h1m0.5 0h1m0.5 0h1m0.5 0h1m21.5 0h1m2.5 0h1m0 0h1m-0.5 0h1m-0.5 0h1m2.5 0h1m-51 0.5h1m-1 0h1m-0.5 0h1m-1 0h1m-1 0h1m0 0h1m0.5 0h1m-1 0h1m0 0h1m-0.5 0h1m-0.5 0h1m-1 0h1m-0.5 0h1m-1 0h1m-1 0h1m-1 0h1m0 0h1m0 0h1m-0.5 0h1m-0.5 0h1m-1 0h1m-0.5 0h1m-0.5 0h1m-1 0h1m-0.5 0h1m-1 0h1m-1 0h1m-0.5 0h1m-0.5 0h1m-0.5 0h1m-1 0h1m-0.5 0h1m-1 0h1m-1 0h1m-0.5 0h1m-1 0h1m0 0h1m-0.5 0h1m0 0h1m-0.5 0h1m-0.5 0h1m1 0h1m0.5 0h1m-0.5 0h1m2.5 0h1m13.5 0h1m3.5 0h1m1.5 0h1m0.5 0h1m8 0h1m-55.5 0.5h1m-1 0h1m0.5 0h1m-0.5 0h1m0 0h1m-0.5 0h1m-1 0h1m-0.5 0h1m-1 0h1m0 0h1m-1 0h1m-0.5 0h1m-1 0h1m-1 0h1m-0.5 0h1m0 0h1m-0.5 0h1m-0.5 0h1m0 0h1m-1 0h1m-1 0h1m-1 0h1m-1 0h1m-1 0h1m-1 0h1m-1 0h1m-0.5 0h1m-0.5 0h1m-1 0h1m-1 0h1m-0.5 0h1m-1 0h1m-0.5 0h1m-1 0h1m-0.5 0h1m-1 0h1m-1 0h1m-0.5 0h1m0 0h1m-1 0h1m-0.5 0h1m-0.5 0h1m-0.5 0h1m-0.5 0h1m0 0h1m-0.5 0h1m0 0h1m-1 0h1m3.5 0h1m10.5 0h1m3.5 0h1m-1 0h1m-1 0h1m0 0h1m-0.5 0h1m-0.5 0h1m4 0h1m0.5 0h1m2 0h1m-0.5 0h1m2 0h1m-55 0.5h1m-0.5 0h1m-0.5 0h1m0 0h1m-0.5 0h1m-1 0h1m-1 0h1m-0.5 0h1m-1 0h1m-0.5 0h1m-1 0h1m-1 0h1m-0.5 0h1m-1 0h1m-1 0h1m0 0h1m-1 0h1m-0.5 0h1m-1 0h1m-1 0h1m-0.5 0h1m-0.5 0h1m-1 0h1m-1 0h1m0 0h1m-1 0h1m-0.5 0h1m-1 0h1m-1 0h1m0 0h1m0.5 0h1m-0.5 0h1m-0.5 0h1m-0.5 0h1m-1 0h1m-0.5 0h1m0.5 0h1m-0.5 0h1m-0.5 0h1m0 0h1m-0.5 0h1m0 0h1m7 0h1m13 0h1m-0.5 0h1m1.5 0h1m4 0h1m-0.5 0h1m2.5 0h1m-0.5 0h1m-53 0.5h1m0 0h1m-0.5 0h1m-0.5 0h1m-0.5 0h1m-0.5 0h1m-1 0h1m-1 0h1m-0.5 0h1m0 0h1m-1 0h1m-1 0h1m-1 0h1m-0.5 0h1m-0.5 0h1m-0.5 0h1m-1 0h1m0 0h1m-1 0h1m-0.5 0h1m-1 0h1m-0.5 0h1m-1 0h1m-1 0h1m-0.5 0h1m-0.5 0h1m-1 0h1m-1 0h1m-1 0h1m0.5 0h1m-0.5 0h1m0 0h1m-1 0h1m-0.5 0h1m0 0h1m-1 0h1m-0.5 0h1m1.5 0h1m-0.5 0h1m-0.5 0h1m15.5 0h1m2.5 0h1m-0.5 0h1m-1 0h1m-0.5 0h1m1.5 0h1m2 0h1m2 0h1m0 0h1m0 0h1m-49.5 0.5h1m-0.5 0h1m-1 0h1m-0.5 0h1m1 0h1m-0.5 0h1m0 0h1m-1 0h1m-1 0h1m-0.5 0h1m-1 0h1m-0.5 0h1m-0.5 0h1m-0.5 0h1m-0.5 0h1m0.5 0h1m-0.5 0h1m-0.5 0h1m-1 0h1m0 0h1m-0.5 0h1m-0.5 0h1m0 0h1m-1 0h1m0 0h1m0 0h1m-0.5 0h1m8 0h1m15.5 0h1m-0.5 0h1m-0.5 0h1m-0.5 0h1m0.5 0h1m0 0h1m1 0h1m-0.5 0h1m0 0h1m0 0h1m-48 0.5h1m-1 0h1m-1 0h1m0 0h1m-0.5 0h1m-0.5 0h1m-0.5 0h1m-1 0h1m-0.5 0h1m-0.5 0h1m-0.5 0h1m-1 0h1m-1 0h1m-0.5 0h1m-1 0h1m-1 0h1m0 0h1m-0.5 0h1m-0.5 0h1m-0.5 0h1m-1 0h1m-0.5 0h1m-1 0h1m-1 0h1m-0.5 0h1m-1 0h1m-1 0h1m0.5 0h1m-1 0h1m-0.5 0h1m-1 0h1m-0.5 0h1m-1 0h1m-0.5 0h1m-1 0h1m-0.5 0h1m0 0h1m-0.5 0h1m-0.5 0h1m0 0h1m-1 0h1m4 0h1m15.5 0h1m-0.5 0h1m3 0h1m0.5 0h1m-1 0h1m1.5 0h1m-47 0.5h1m-1 0h1m0 0h1m-0.5 0h1m0 0h1m-1 0h1m0 0h1m-1 0h1m-1 0h1m-0.5 0h1m-1 0h1m-1 0h1m-0.5 0h1m-1 0h1m-1 0h1m1 0h1m-1 0h1m-0.5 0h1m-1 0h1m0 0h1m-1 0h1m-1 0h1m0 0h1m-1 0h1m0 0h1m-1 0h1m-0.5 0h1m-1 0h1m-1 0h1m-0.5 0h1m-1 0h1m-0.5 0h1m1 0h1m-0.5 0h1m-1 0h1m0 0h1m1.5 0h1m-1 0h1m21 0h1m-0.5 0h1m-42 0.5h1m-1 0h1m-0.5 0h1m-1 0h1m0 0h1m-1 0h1m-0.5 0h1m-0.5 0h1m0 0h1m0 0h1m-1 0h1m-1 0h1m-0.5 0h1m-1 0h1m-1 0h1m-0.5 0h1m-0.5 0h1m0 0h1m-1 0h1m-0.5 0h1m-0.5 0h1m-1 0h1m-0.5 0h1m0 0h1m-1 0h1m0 0h1m1.5 0h1m-0.5 0h1m-1 0h1m1.5 0h1m-1 0h1m-0.5 0h1m0 0h1m-0.5 0h1m-0.5 0h1m2.5 0h1m-1 0h1m11 0h1m1.5 0h1m1 0h1m2 0h1m4 0h1m-46.5 0.5h1m-0.5 0h1m0 0h1m-1 0h1m-0.5 0h1m-1 0h1m-0.5 0h1m-0.5 0h1m-0.5 0h1m-1 0h1m-1 0h1m-1 0h1m-0.5 0h1m-0.5 0h1m-1 0h1m-1 0h1m-1 0h1m0 0h1m-0.5 0h1m-1 0h1m-1 0h1m-0.5 0h1m-0.5 0h1m-1 0h1m-1 0h1m-0.5 0h1m-1 0h1m-0.5 0h1m-1 0h1m-1 0h1m-0.5 0h1m-1 0h1m-0.5 0h1m-0.5 0h1m-1 0h1m0 0h1m-1 0h1m-0.5 0h1m0 0h1m1.5 0h1m-0.5 0h1m13.5 0h1m4.5 0h1m6.5 0h1m-42.5 0.5h1m-0.5 0h1m-1 0h1m-0.5 0h1m-0.5 0h1m-1 0h1m-1 0h1m0 0h1m-0.5 0h1m-0.5 0h1m-1 0h1m-0.5 0h1m-1 0h1m-0.5 0h1m-1 0h1m-0.5 0h1m0 0h1m-1 0h1m-0.5 0h1m-0.5 0h1m-0.5 0h1m-0.5 0h1m-0.5 0h1m-1 0h1m-0.5 0h1m0 0h1m-1 0h1m1 0h1m-0.5 0h1m1 0h1m19 0h1m-1 0h1m3.5 0h1m11.5 0h1m-54 0.5h1m1.5 0h1m-0.5 0h1m-0.5 0h1m-1 0h1m-0.5 0h1m-0.5 0h1m-1 0h1m-0.5 0h1m-1 0h1m-1 0h1m-0.5 0h1m-1 0h1m0 0h1m-1 0h1m-0.5 0h1m-0.5 0h1m-1 0h1m-0.5 0h1m0.5 0h1m-1 0h1m-0.5 0h1m0 0h1m-0.5 0h1m0 0h1m-0.5 0h1m-1 0h1m0 0h1m-0.5 0h1m-0.5 0h1m3 0h1m0.5 0h1m14.5 0h1m0 0h1m-38.5 0.5h1m-1 0h1m-0.5 0h1m0 0h1m-1 0h1m-0.5 0h1m0 0h1m-0.5 0h1m0.5 0h1m-1 0h1m-0.5 0h1m0 0h1m-0.5 0h1m-1 0h1m-1 0h1m-0.5 0h1m-1 0h1m1 0h1m0 0h1m-1 0h1m-0.5 0h1m-1 0h1m-1 0h1m-0.5 0h1m4 0h1m-0.5 0h1m0.5 0h1m-1 0h1m18.5 0h1m0 0h1m-40 0.5h1m0.5 0h1m-0.5 0h1m-1 0h1m-0.5 0h1m-0.5 0h1m0 0h1m-1 0h1m1.5 0h1m-1 0h1m-0.5 0h1m-1 0h1m-0.5 0h1m0 0h1m-0.5 0h1m-1 0h1m-0.5 0h1m-1 0h1m-0.5 0h1m-1 0h1m-0.5 0h1m-1 0h1m-0.5 0h1m-1 0h1m2 0h1m-1 0h1m0 0h1m0.5 0h1m0.5 0h1m1 0h1m19.5 0h1m1 0h1m-43.5 0.5h1m1.5 0h1m-1 0h1m-1 0h1m-0.5 0h1m0 0h1m-1 0h1m-1 0h1m-1 0h1m0 0h1m0 0h1m-1 0h1m-1 0h1m-1 0h1m-1 0h1m-0.5 0h1m-0.5 0h1m-1 0h1m-0.5 0h1m0 0h1m-0.5 0h1m0 0h1m-0.5 0h1m0 0h1m-0.5 0h1m0 0h1m2 0h1m-0.5 0h1m1.5 0h1m1 0h1m10 0h1m17.5 0h1m1 0h1m-53 0.5h1m1 0h1m-0.5 0h1m0 0h1m-1 0h1m0 0h1m-0.5 0h1m-1 0h1m-1 0h1m0 0h1m-1 0h1m-0.5 0h1m0 0h1m-1 0h1m-0.5 0h1m0.5 0h1m-1 0h1m-1 0h1m-0.5 0h1m0 0h1m2 0h1m0.5 0h1m-1 0h1m0 0h1m-1 0h1m-0.5 0h1m3 0h1m-20 0.5h1m0.5 0h1m-0.5 0h1m-1 0h1m-0.5 0h1m-1 0h1m0 0h1m-0.5 0h1m-1 0h1m-1 0h1m-0.5 0h1m-0.5 0h1m-1 0h1m0.5 0h1m-1 0h1m-0.5 0h1m-0.5 0h1m1.5 0h1m-1 0h1m0 0h1m-1 0h1m-0.5 0h1m-0.5 0h1m0 0h1m-1 0h1m0.5 0h1m28 0h1m-45 0.5h1m3.5 0h1m0 0h1m-0.5 0h1m0 0h1m1.5 0h1m-1 0h1m0.5 0h1m-1 0h1m0 0h1m2.5 0h1m2.5 0h1m-19.5 0.5h1m0 0h1m1.5 0h1m-0.5 0h1m-0.5 0h1m-0.5 0h1m-0.5 0h1m0 0h1m-0.5 0h1m-1 0h1m0 0h1m0.5 0h1m2.5 0h1m2 0h1m26.5 0h1m-46.5 0.5h1m-1 0h1m0 0h1m-1 0h1m0 0h1m0.5 0h1m-1 0h1m-1 0h1m-0.5 0h1m-1 0h1m-0.5 0h1m-1 0h1m0.5 0h1m0 0h1m-0.5 0h1m-1 0h1m0 0h1m-0.5 0h1m0 0h1m-0.5 0h1m2 0h1m0 0h1m2 0h1m-17 0.5h1m-0.5 0h1m-0.5 0h1m-1 0h1m0 0h1m0.5 0h1m0.5 0h1m-0.5 0h1m-0.5 0h1m-1 0h1m0 0h1m0 0h1m0 0h1m2 0h1m-0.5 0h1m-0.5 0h1m1 0h1m-0.5 0h1m1 0h1m-18.5 0.5h1m-0.5 0h1m-1 0h1m-0.5 0h1m-1 0h1m1 0h1m0.5 0h1m0.5 0h1m-0.5 0h1m2.5 0h1m-0.5 0h1m-1 0h1m0 0h1m0.5 0h1m2 0h1m-18 0.5h1m0 0h1m-1 0h1m0 0h1m-1 0h1m1.5 0h1m-0.5 0h1m-1 0h1m-1 0h1m-0.5 0h1m-1 0h1m0.5 0h1m0 0h1m-0.5 0h1m-0.5 0h1m-1 0h1m-0.5 0h1m-0.5 0h1m-0.5 0h1m-10 0.5h1m0 0h1m1 0h1m-1 0h1m-0.5 0h1m-1 0h1m0 0h1m0 0h1m0.5 0h1m0 0h1m0.5 0h1m2.5 0h1m52 0h1m-69.5 0.5h1m8 0h1m0 0h1m3 0h1m-0.5 0h1m2.5 0h1m4.5 0h1m-22 0.5h1m-1 0h1m-0.5 0h1m-1 0h1m1.5 0h1m-1 0h1m-1 0h1m1.5 0h1m-0.5 0h1m0 0h1m-0.5 0h1m0.5 0h1m2.5 0h1m28 0h1m-44 0.5h1m0 0h1m0 0h1m1.5 0h1m3.5 0h1m-11 0.5h1m1.5 0h1m2 0h1m2.5 0h1m-0.5 0h1m-0.5 0h1m7 0h1m-15.5 0.5h1m2.5 0h1m1.5 0h1m0 0h1m-1 0h1m-0.5 0h1m34 0h1m-42.5 0.5h1m1.5 0h1m3 0h1m-1 0h1m-0.5 0h1m-10 0.5h1m7.5 0h1m4.5 0h1m-15.5 0.5h1m2 0h1m5 0h1m5.5 0h1m-13 0.5h1m3 0h1m3 0h1m-7.5 0.5h1m5 0h1m3 0h1m-17 0.5h1m4 0h1m2 0h1m1 0h1m4.5 0h1m2 0h1m-18 0.5h1m3 0h1m1 0h1m10.5 0h1m-17 0.5h1m0.5 0h1m0.5 0h1m2 0h1m6.5 0h1m-18 0.5h1m4.5 0h1m5 0.5h1m5.5 0h1m-18.5 0.5h1m7.5 0h1m7 0h1m-6.5 0.5h1m-1 0h1m-7 0.5h1m15.5 0h1m37.5 0h1m-46 0.5h1m31.5 0h1m-41.5 1h1m60.5 0h1m-67.5 0.5h1m2.5 0h1m10.5 0h1m-9.5 0.5h1m1 0h1m-0.5 0h1m9.5 0h1m-11.5 0.5h1m1.5 0h1m-10.5 0.5h1m6 0h1m1.5 0h1m0.5 0h1m-1 0h1m5.5 0h1m-15 0.5h1m0.5 0h1m4 0h1m2 0h1m5 0h1m-12.5 0.5h1m2.5 0h1m1 0h1m-4 0.5h1m-0.5 0h1m0.5 0h1m0 0h1m4 0h1m-12.5 0.5h1m2.5 0h1m2.5 0h1m3 0h1m-9.5 0.5h1m3 0h1m0 0h1m-3.5 0.5h1m0 0h1m0.5 0h1m0 0h1m-0.5 0h1m0.5 0h1m1.5 0h1m-18.5 0.5h1m2.5 0h1m0 0h1m0.5 0h1m0 0h1m1 0h1m0 0h1m0.5 0h1m1 0h1m0 0h1m-5 0.5h1m0.5 0h1m-1 0h1m0 0h1m31 0h1m-36.5 0.5h1m2 0h1m0 0h1m-7.5 0.5h1m5 0h1m-1 0h1m-8 0.5h1m0.5 0h1m1 0h1m0 0h1m4 0h1m-12 0.5h1m-1 0h1m0 0h1m50.5 0h1m-49.5 0.5h1m2 0h1m1 0h1m0.5 0.5h1m-11.5 0.5h1m-2 0.5h1m-7 1h1m5.5 0h1m14 3.5h1m-2.5 4h1" stroke="#000" stroke-opacity="0.6" stroke-width="1" fill="none" filter="url(#bl)"/>
<rect x="134.1" y="89.4" width="22.16" height="11.4" fill="#fff"/>
<rect x="182.64" y="89.4" width="21.96" height="11.4" fill="#fff"/>
<rect x="134.1" y="150.22" width="22.16" height="10.48" fill="#fff"/>
<rect x="177.14" y="150.22" width="27.46" height="10.48" fill="#fff"/>
<rect x="133.3" y="88.8" width="72.1" height="72.5" fill="none" stroke="#a8a8a8" stroke-width="1.1"/>
<path d="M134.5 89.8V161.3M133.3 160.1H204.4" stroke="#c8c8c8" stroke-width="1" stroke-dasharray="1 2" fill="none"/>
<path d="M155.3 161.3H184.3" stroke="#8a8a8a" stroke-width="1" fill="none"/>
<path d="M158.5 88.8V161.3M133.3 142.4H205.4" stroke="#555" stroke-width="1.3" fill="none"/>
<text transform="translate(134.8 98.8) scale(1.02 1)" font-size="9.7" text-anchor="start">90.4</text>
<text transform="translate(204.1 98.8) scale(1.02 1)" font-size="9.7" text-anchor="end">5.89</text>
<text transform="translate(134.8 159.6) scale(1.02 1)" font-size="9.7" text-anchor="start">3.73</text>
<text transform="translate(204.1 159.6) scale(1.02 1)" font-size="9.7" text-anchor="end">0.013</text>
<path d="M126.9 161.9l1 0.7l2.6-1.8M126.9 143.78l1 0.7l2.6-1.8M126.9 125.65l1 0.7l2.6-1.8M126.9 107.52l1 0.7l2.6-1.8M126.9 89.4l1 0.7l2.6-1.8M131.1 165.6l1 0.8l2.8-1.9M149.13 165.6l1 0.8l2.8-1.9M167.15 165.6l1 0.8l2.8-1.9M185.18 165.6l1 0.8l2.8-1.9M203.2 165.6l1 0.8l2.8-1.9" stroke="#8a8a8a" stroke-width="1.0" fill="none"/>
<clipPath id="c225"><rect x="225.0" y="88.8" width="72.39999999999998" height="72.50000000000001"/></clipPath>
<ellipse cx="232.0" cy="119.0" rx="8.8" ry="15.0" fill="#000" clip-path="url(#c225)"/>
<path d="M231 90h1m35 1h1m-30 1h1m-3 0.5h1m-2 1h1m7.5 1h1m-11.5 0.5h1m30.5 0.5h1m-37 0.5h1m0 0.5h1m-0.5 0.5h1m0 0h1m3 0.5h1m1.5 0h1m-10.5 0.5h1m2.5 0h1m0 0h1m-0.5 0h1m-2.5 0.5h1m2.5 0h1m2 0h1m-10 0.5h1m2.5 0h1m0.5 0h1m-3.5 0.5h1m2 0h1m-1 0h1m3 0h1m22 0h1m-35.5 0.5h1m4 0h1m-0.5 0h1m-0.5 0h1m-0.5 0h1m1.5 0h1m-9 0.5h1m1.5 0h1m-1 0h1m4.5 0h1m0.5 0h1m-12 0.5h1m5 0h1m2 0h1m2 0h1m0.5 0h1m-9.5 0.5h1m-0.5 0h1m4 0h1m-7.5 0.5h1m1 0h1m0 0h1m4 0h1m-12 0.5h1m-1 0h1m-0.5 0h1m4.5 0h1m-1 0h1m0.5 0h1m-1 0h1m9 0h1m-17.5 0.5h1m5 0h1m-0.5 0h1m0 0h1m3 0h1m0 0h1m-16.5 0.5h1m3.5 0h1m3.5 0h1m2.5 0h1m2.5 0h1m-13.5 0.5h1m0 0h1m-0.5 0h1m0.5 0h1m-1 0h1m-0.5 0h1m7 0h1m-1 0h1m3 0h1m-15 0.5h1m0 0h1m1 0h1m5.5 0h1m2 0h1m-17 0.5h1m-0.5 0h1m2.5 0h1m2 0h1m-0.5 0h1m1.5 0h1m0.5 0h1m1.5 0h1m-15 0.5h1m1.5 0h1m0 0h1m-1 0h1m1.5 0h1m0 0h1m-0.5 0h1m2 0h1m0 0h1m44.5 0h1m-59 0.5h1m1 0h1m0 0h1m2 0h1m0 0h1m2 0h1m-1 0h1m-9 0.5h1m0.5 0h1m-0.5 0h1m0 0h1m-0.5 0h1m0.5 0h1m-1 0h1m0 0h1m-1 0h1m2 0h1m0.5 0h1m-10 0.5h1m0 0h1m0 0h1m-0.5 0h1m1 0h1m-0.5 0h1m-0.5 0h1m-1 0h1m2 0h1m-0.5 0h1m5.5 0h1m-19 0.5h1m-0.5 0h1m-0.5 0h1m-1 0h1m0 0h1m-0.5 0h1m-1 0h1m-0.5 0h1m-0.5 0h1m0.5 0h1m-1 0h1m-1 0h1m-0.5 0h1m-1 0h1m1 0h1m2.5 0h1m0.5 0h1m-1 0h1m0 0h1m-0.5 0h1m-15 0.5h1m1 0h1m0.5 0h1m-1 0h1m0.5 0h1m-0.5 0h1m-1 0h1m-0.5 0h1m-0.5 0h1m0 0h1m-1 0h1m-0.5 0h1m-0.5 0h1m-0.5 0h1m-0.5 0h1m-10 0.5h1m3 0h1m-0.5 0h1m-1 0h1m-1 0h1m1.5 0h1m0 0h1m0 0h1m0 0h1m-1 0h1m0 0h1m-1 0h1m0 0h1m-15 0.5h1m-0.5 0h1m0.5 0h1m1 0h1m-0.5 0h1m-0.5 0h1m-0.5 0h1m-1 0h1m0.5 0h1m-0.5 0h1m-0.5 0h1m-0.5 0h1m-0.5 0h1m-0.5 0h1m-0.5 0h1m-1 0h1m-0.5 0h1m-0.5 0h1m-0.5 0h1m-0.5 0h1m2 0h1m0.5 0h1m-16.5 0.5h1m0 0h1m-1 0h1m1 0h1m-0.5 0h1m0 0h1m-0.5 0h1m0.5 0h1m-0.5 0h1m-1 0h1m0 0h1m-0.5 0h1m0.5 0h1m-1 0h1m-0.5 0h1m-0.5 0h1m-1 0h1m0.5 0h1m-0.5 0h1m1 0h1m1.5 0h1m-18.5 0.5h1m-0.5 0h1m0.5 0h1m-1 0h1m1 0h1m-1 0h1m-1 0h1m-0.5 0h1m-1 0h1m-1 0h1m0 0h1m0 0h1m-0.5 0h1m-1 0h1m-1 0h1m0.5 0h1m-1 0h1m2 0h1m-0.5 0h1m0 0h1m-14.5 0.5h1m0 0h1m-1 0h1m-0.5 0h1m-0.5 0h1m-1 0h1m-1 0h1m-0.5 0h1m-1 0h1m-0.5 0h1m-0.5 0h1m-1 0h1m-0.5 0h1m-0.5 0h1m-1 0h1m-0.5 0h1m-0.5 0h1m-0.5 0h1m-1 0h1m1.5 0h1m-1 0h1m-0.5 0h1m-1 0h1m-1 0h1m-0.5 0h1m-1 0h1m-0.5 0h1m-0.5 0h1m0 0h1m1 0h1m0.5 0h1m6 0h1m-23 0.5h1m0.5 0h1m-0.5 0h1m0 0h1m0 0h1m-1 0h1m-1 0h1m-0.5 0h1m1 0h1m-0.5 0h1m-0.5 0h1m-0.5 0h1m-1 0h1m-0.5 0h1m-0.5 0h1m0 0h1m-0.5 0h1m-1 0h1m-0.5 0h1m0 0h1m0 0h1m-0.5 0h1m-0.5 0h1m-14 0.5h1m0.5 0h1m-0.5 0h1m-1 0h1m0.5 0h1m-0.5 0h1m-0.5 0h1m0 0h1m-0.5 0h1m-0.5 0h1m0 0h1m0.5 0h1m0 0h1m0 0h1m1 0h1m0.5 0h1m1 0h1m0.5 0h1m7.5 0h1m8 0h1m-38 0.5h1m-0.5 0h1m-1 0h1m0 0h1m-0.5 0h1m0 0h1m-1 0h1m-0.5 0h1m0 0h1m0 0h1m-0.5 0h1m-0.5 0h1m-1 0h1m-0.5 0h1m-0.5 0h1m-1 0h1m-1 0h1m0.5 0h1m-0.5 0h1m-1 0h1m-0.5 0h1m-0.5 0h1m-1 0h1m0 0h1m-0.5 0h1m1 0h1m-1 0h1m1.5 0h1m0.5 0h1m-18.5 0.5h1m0 0h1m0.5 0h1m0 0h1m-1 0h1m-0.5 0h1m-1 0h1m-1 0h1m-1 0h1m-0.5 0h1m-1 0h1m-0.5 0h1m-1 0h1m-1 0h1m-0.5 0h1m-0.5 0h1m-0.5 0h1m-1 0h1m-0.5 0h1m-1 0h1m2 0h1m-0.5 0h1m0.5 0h1m-1 0h1m-0.5 0h1m0 0h1m1.5 0h1m1.5 0h1m10.5 0h1m-28.5 0.5h1m0 0h1m-0.5 0h1m-1 0h1m-1 0h1m-1 0h1m-0.5 0h1m-1 0h1m-1 0h1m0 0h1m-0.5 0h1m-1 0h1m-1 0h1m-0.5 0h1m-1 0h1m-0.5 0h1m-0.5 0h1m-1 0h1m-0.5 0h1m0 0h1m0.5 0h1m-1 0h1m-0.5 0h1m0.5 0h1m2 0h1m-15 0.5h1m-1 0h1m-1 0h1m0 0h1m-0.5 0h1m-0.5 0h1m-1 0h1m-1 0h1m-0.5 0h1m-0.5 0h1m0 0h1m0 0h1m-1 0h1m-0.5 0h1m-1 0h1m-0.5 0h1m-1 0h1m-1 0h1m-0.5 0h1m-1 0h1m0 0h1m-1 0h1m-0.5 0h1m-1 0h1m-0.5 0h1m0.5 0h1m-0.5 0h1m18.5 0h1m-32 0.5h1m-0.5 0h1m0 0h1m-1 0h1m-1 0h1m0.5 0h1m-1 0h1m-1 0h1m-1 0h1m-0.5 0h1m-1 0h1m0.5 0h1m-1 0h1m-1 0h1m-0.5 0h1m-1 0h1m-0.5 0h1m0.5 0h1m-0.5 0h1m-1 0h1m-1 0h1m-0.5 0h1m-1 0h1m-0.5 0h1m-0.5 0h1m0 0h1m-1 0h1m-0.5 0h1m-0.5 0h1m-0.5 0h1m-1 0h1m-1 0h1m-0.5 0h1m1 0h1m-0.5 0h1m14.5 0h1m-1 0h1m4.5 0h1m-37.5 0.5h1m-0.5 0h1m0.5 0h1m-0.5 0h1m-0.5 0h1m-1 0h1m-1 0h1m-0.5 0h1m0 0h1m-1 0h1m-1 0h1m-1 0h1m-1 0h1m-1 0h1m-0.5 0h1m-1 0h1m-1 0h1m0 0h1m-0.5 0h1m-0.5 0h1m0 0h1m-1 0h1m0 0h1m-1 0h1m-1 0h1m-0.5 0h1m-0.5 0h1m-0.5 0h1m-1 0h1m-1 0h1m-1 0h1m1.5 0h1m-0.5 0h1m8 0h1m1 0h1m7 0h1m-31.5 0.5h1m-0.5 0h1m-1 0h1m-1 0h1m-0.5 0h1m-1 0h1m-1 0h1m0 0h1m-1 0h1m-0.5 0h1m-1 0h1m-1 0h1m-1 0h1m0 0h1m-1 0h1m-1 0h1m0 0h1m-1 0h1m-1 0h1m-0.5 0h1m-1 0h1m-1 0h1m-0.5 0h1m-0.5 0h1m-0.5 0h1m-1 0h1m-1 0h1m-0.5 0h1m-0.5 0h1m-1 0h1m-1 0h1m0 0h1m-1 0h1m0 0h1m-1 0h1m-0.5 0h1m-1 0h1m-0.5 0h1m-0.5 0h1m0 0h1m-1 0h1m15.5 0h1m7.5 0h1m-40.5 0.5h1m-0.5 0h1m-0.5 0h1m-0.5 0h1m-0.5 0h1m-1 0h1m0 0h1m-0.5 0h1m-1 0h1m-1 0h1m-1 0h1m-0.5 0h1m-1 0h1m0 0h1m0 0h1m-1 0h1m0 0h1m0 0h1m-0.5 0h1m-1 0h1m-1 0h1m-1 0h1m0 0h1m-1 0h1m-1 0h1m-1 0h1m0 0h1m0 0h1m-1 0h1m-0.5 0h1m-1 0h1m1 0h1m0 0h1m0.5 0h1m2.5 0h1m-19.5 0.5h1m-1 0h1m0.5 0h1m0.5 0h1m-1 0h1m-0.5 0h1m-0.5 0h1m-0.5 0h1m-1 0h1m-1 0h1m0.5 0h1m-0.5 0h1m-1 0h1m-0.5 0h1m-1 0h1m-0.5 0h1m-0.5 0h1m-1 0h1m-1 0h1m-1 0h1m-1 0h1m-0.5 0h1m-1 0h1m-0.5 0h1m-0.5 0h1m0 0h1m0 0h1m-1 0h1m0 0h1m-1 0h1m0.5 0h1m-1 0h1m1.5 0h1m-0.5 0h1m2.5 0h1m6.5 0h1m-30 0.5h1m-0.5 0h1m0 0h1m-1 0h1m-0.5 0h1m-0.5 0h1m-1 0h1m-0.5 0h1m0 0h1m-1 0h1m-1 0h1m-1 0h1m-1 0h1m-1 0h1m-0.5 0h1m-1 0h1m-1 0h1m-1 0h1m-1 0h1m-0.5 0h1m-0.5 0h1m-1 0h1m-1 0h1m-1 0h1m-0.5 0h1m-1 0h1m-1 0h1m-0.5 0h1m-1 0h1m-0.5 0h1m-0.5 0h1m-1 0h1m-1 0h1m-1 0h1m-0.5 0h1m-0.5 0h1m-1 0h1m-0.5 0h1m-0.5 0h1m-0.5 0h1m1 0h1m-0.5 0h1m0 0h1m-0.5 0h1m0.5 0h1m2.5 0h1m4 0h1m6 0h1m-31.5 0.5h1m0 0h1m-1 0h1m-0.5 0h1m-1 0h1m-0.5 0h1m0 0h1m-1 0h1m-0.5 0h1m-1 0h1m0 0h1m-1 0h1m0 0h1m-1 0h1m-0.5 0h1m-0.5 0h1m-0.5 0h1m-1 0h1m0 0h1m-0.5 0h1m-0.5 0h1m-0.5 0h1m-1 0h1m-0.5 0h1m-1 0h1m-0.5 0h1m0.5 0h1m-1 0h1m-0.5 0h1m-0.5 0h1m-1 0h1m0.5 0h1m-1 0h1m1.5 0h1m1.5 0h1m8 0h1m-1 0h1m0 0h1m-31 0.5h1m1 0h1m0.5 0h1m-1 0h1m-1 0h1m-0.5 0h1m-1 0h1m-1 0h1m0.5 0h1m-1 0h1m-0.5 0h1m-0.5 0h1m-1 0h1m-1 0h1m-0.5 0h1m-0.5 0h1m-1 0h1m-0.5 0h1m-0.5 0h1m-0.5 0h1m-1 0h1m0 0h1m-1 0h1m-0.5 0h1m-1 0h1m-1 0h1m0 0h1m-1 0h1m-0.5 0h1m0.5 0h1m-0.5 0h1m19 0h1m12 0h1m-48.5 0.5h1m-0.5 0h1m0.5 0h1m-1 0h1m-0.5 0h1m0 0h1m-0.5 0h1m-1 0h1m-1 0h1m-1 0h1m-0.5 0h1m-1 0h1m-0.5 0h1m-1 0h1m-1 0h1m0 0h1m-1 0h1m-0.5 0h1m-1 0h1m-1 0h1m-1 0h1m-1 0h1m0.5 0h1m-1 0h1m-0.5 0h1m-1 0h1m-0.5 0h1m0.5 0h1m-1 0h1m0 0h1m-0.5 0h1m0.5 0h1m0 0h1m-1 0h1m-0.5 0h1m-0.5 0h1m1.5 0h1m3 0h1m6 0h1m-29.5 0.5h1m-1 0h1m1 0h1m-1 0h1m0.5 0h1m-1 0h1m-0.5 0h1m-1 0h1m-0.5 0h1m0 0h1m-1 0h1m-0.5 0h1m-1 0h1m-0.5 0h1m-1 0h1m-1 0h1m0 0h1m-0.5 0h1m-1 0h1m-1 0h1m0.5 0h1m0 0h1m0 0h1m-1 0h1m-0.5 0h1m-0.5 0h1m-0.5 0h1m-0.5 0h1m2.5 0h1m-1 0h1m0.5 0h1m12.5 0h1m3.5 0h1m25 0h1m-62.5 0.5h1m-0.5 0h1m-0.5 0h1m-1 0h1m-0.5 0h1m-0.5 0h1m-1 0h1m-0.5 0h1m-1 0h1m-1 0h1m-0.5 0h1m-1 0h1m-0.5 0h1m-0.5 0h1m0 0h1m-1 0h1m-0.5 0h1m-1 0h1m-1 0h1m-0.5 0h1m-1 0h1m-1 0h1m-0.5 0h1m-0.5 0h1m-0.5 0h1m-1 0h1m-1 0h1m-0.5 0h1m-1 0h1m-0.5 0h1m-0.5 0h1m-0.5 0h1m-1 0h1m-0.5 0h1m-0.5 0h1m-1 0h1m-1 0h1m-0.5 0h1m-0.5 0h1m0.5 0h1m-1 0h1m-1 0h1m-0.5 0h1m-0.5 0h1m-1 0h1m-1 0h1m0.5 0h1m17 0h1m-35.5 0.5h1m0 0h1m-1 0h1m0 0h1m-1 0h1m-1 0h1m-1 0h1m-1 0h1m-1 0h1m-1 0h1m-0.5 0h1m-0.5 0h1m-1 0h1m-1 0h1m-0.5 0h1m-0.5 0h1m-1 0h1m-0.5 0h1m-1 0h1m-1 0h1m-1 0h1m-0.5 0h1m-1 0h1m-0.5 0h1m-1 0h1m-0.5 0h1m-0.5 0h1m-0.5 0h1m-1 0h1m-0.5 0h1m-1 0h1m-1 0h1m-1 0h1m-0.5 0h1m-1 0h1m-0.5 0h1m-0.5 0h1m-1 0h1m-0.5 0h1m-1 0h1m-0.5 0h1m-1 0h1m-1 0h1m-0.5 0h1m-1 0h1m-1 0h1m-1 0h1m-1 0h1m-0.5 0h1m-1 0h1m-0.5 0h1m-0.5 0h1m-0.5 0h1m0 0h1m-0.5 0h1m-0.5 0h1m0.5 0h1m-1 0h1m0.5 0h1m12.5 0h1m-0.5 0h1m-32 0.5h1m-1 0h1m0 0h1m0 0h1m-1 0h1m-1 0h1m0 0h1m-0.5 0h1m-1 0h1m-1 0h1m-0.5 0h1m-0.5 0h1m-0.5 0h1m0 0h1m-0.5 0h1m-1 0h1m0 0h1m-1 0h1m-0.5 0h1m-1 0h1m-0.5 0h1m-0.5 0h1m0 0h1m0 0h1m-1 0h1m-1 0h1m-0.5 0h1m-1 0h1m-1 0h1m-0.5 0h1m-1 0h1m0 0h1m0 0h1m-0.5 0h1m-1 0h1m-0.5 0h1m0 0h1m-0.5 0h1m11.5 0h1m2.5 0h1m-34.5 0.5h1m0.5 0h1m-0.5 0h1m-1 0h1m-1 0h1m-1 0h1m-0.5 0h1m0 0h1m-1 0h1m-0.5 0h1m-0.5 0h1m-1 0h1m0 0h1m-1 0h1m-1 0h1m-0.5 0h1m-1 0h1m-0.5 0h1m-0.5 0h1m-1 0h1m0 0h1m-0.5 0h1m-0.5 0h1m-1 0h1m-0.5 0h1m0 0h1m0 0h1m-1 0h1m0 0h1m0 0h1m1 0h1m0.5 0h1m1 0h1m0 0h1m-18.5 0.5h1m-1 0h1m-0.5 0h1m-1 0h1m0 0h1m-1 0h1m-1 0h1m-1 0h1m-0.5 0h1m-1 0h1m-1 0h1m0 0h1m-1 0h1m-1 0h1m-0.5 0h1m-1 0h1m-0.5 0h1m0 0h1m-0.5 0h1m-1 0h1m-0.5 0h1m-1 0h1m-1 0h1m-1 0h1m0 0h1m-1 0h1m-0.5 0h1m-1 0h1m-0.5 0h1m-0.5 0h1m-0.5 0h1m-1 0h1m-0.5 0h1m-1 0h1m-0.5 0h1m-1 0h1m-0.5 0h1m-1 0h1m0 0h1m-1 0h1m-0.5 0h1m0 0h1m3 0h1m-20.5 0.5h1m-1 0h1m-0.5 0h1m-1 0h1m0 0h1m-1 0h1m-0.5 0h1m-0.5 0h1m-0.5 0h1m-0.5 0h1m-1 0h1m-0.5 0h1m-1 0h1m-0.5 0h1m-0.5 0h1m-1 0h1m-1 0h1m-0.5 0h1m-1 0h1m-0.5 0h1m-0.5 0h1m0.5 0h1m-1 0h1m-0.5 0h1m-1 0h1m-1 0h1m0 0h1m-0.5 0h1m-1 0h1m-1 0h1m-1 0h1m-0.5 0h1m-1 0h1m-1 0h1m-0.5 0h1m-1 0h1m0 0h1m-0.5 0h1m-1 0h1m2 0h1m0 0h1m-0.5 0h1m-0.5 0h1m-18 0.5h1m-0.5 0h1m-1 0h1m-0.5 0h1m-1 0h1m-0.5 0h1m-0.5 0h1m-1 0h1m-0.5 0h1m-0.5 0h1m0.5 0h1m-1 0h1m-1 0h1m-1 0h1m-0.5 0h1m-1 0h1m-0.5 0h1m-1 0h1m0 0h1m-1 0h1m-1 0h1m-0.5 0h1m-1 0h1m0 0h1m-0.5 0h1m-1 0h1m-1 0h1m-0.5 0h1m-1 0h1m-1 0h1m0 0h1m0 0h1m-0.5 0h1m-0.5 0h1m-1 0h1m1.5 0h1m1 0h1m3.5 0h1m-22.5 0.5h1m0 0h1m0.5 0h1m-0.5 0h1m1 0h1m-1 0h1m-1 0h1m-1 0h1m-0.5 0h1m-1 0h1m-0.5 0h1m-0.5 0h1m-1 0h1m-1 0h1m-1 0h1m-0.5 0h1m-1 0h1m-0.5 0h1m-0.5 0h1m0 0h1m-1 0h1m-1 0h1m0 0h1m-0.5 0h1m-0.5 0h1m-1 0h1m0 0h1m-1 0h1m-0.5 0h1m-0.5 0h1m-1 0h1m0 0h1m-0.5 0h1m1 0h1m0.5 0h1m0.5 0h1m9 0h1m-30 0.5h1m0 0h1m-0.5 0h1m-1 0h1m-1 0h1m-0.5 0h1m-1 0h1m-0.5 0h1m-0.5 0h1m-0.5 0h1m-1 0h1m-0.5 0h1m-1 0h1m-0.5 0h1m-1 0h1m-1 0h1m-0.5 0h1m-1 0h1m-1 0h1m-1 0h1m-0.5 0h1m0 0h1m-1 0h1m-1 0h1m-0.5 0h1m-1 0h1m-0.5 0h1m-1 0h1m-1 0h1m-0.5 0h1m-0.5 0h1m-1 0h1m-1 0h1m-1 0h1m-0.5 0h1m-0.5 0h1m-1 0h1m-1 0h1m-0.5 0h1m-1 0h1m-0.5 0h1m-0.5 0h1m-0.5 0h1m-1 0h1m8.5 0h1m-21.5 0.5h1m-1 0h1m-0.5 0h1m0.5 0h1m0 0h1m-1 0h1m-1 0h1m-1 0h1m-0.5 0h1m-1 0h1m0 0h1m-1 0h1m-0.5 0h1m-1 0h1m-1 0h1m-1 0h1m-0.5 0h1m-0.5 0h1m-0.5 0h1m-1 0h1m-0.5 0h1m-1 0h1m-0.5 0h1m-1 0h1m-0.5 0h1m-1 0h1m-0.5 0h1m-0.5 0h1m-1 0h1m-0.5 0h1m-1 0h1m-1 0h1m-1 0h1m-0.5 0h1m-1 0h1m-0.5 0h1m-0.5 0h1m-0.5 0h1m-0.5 0h1m-1 0h1m-0.5 0h1m-0.5 0h1m1 0h1m0 0h1m-17.5 0.5h1m0.5 0h1m-1 0h1m0.5 0h1m-1 0h1m-0.5 0h1m-0.5 0h1m-0.5 0h1m-0.5 0h1m-1 0h1m-0.5 0h1m-1 0h1m-1 0h1m-0.5 0h1m-0.5 0h1m-0.5 0h1m-0.5 0h1m-0.5 0h1m-0.5 0h1m-1 0h1m-0.5 0h1m-0.5 0h1m-1 0h1m-0.5 0h1m-0.5 0h1m-0.5 0h1m-0.5 0h1m-1 0h1m-0.5 0h1m0 0h1m-1 0h1m-0.5 0h1m-1 0h1m-15 0.5h1m0 0h1m-1 0h1m-1 0h1m1 0h1m-0.5 0h1m0 0h1m0.5 0h1m-1 0h1m-1 0h1m-1 0h1m-1 0h1m0 0h1m-1 0h1m-0.5 0h1m-1 0h1m0 0h1m-1 0h1m-1 0h1m-0.5 0h1m-1 0h1m-1 0h1m-1 0h1m-1 0h1m-1 0h1m-0.5 0h1m-1 0h1m-1 0h1m0 0h1m-1 0h1m-0.5 0h1m1 0h1m-0.5 0h1m-1 0h1m-0.5 0h1m-1 0h1m4 0h1m-0.5 0h1m-20 0.5h1m-0.5 0h1m-1 0h1m-0.5 0h1m-0.5 0h1m-1 0h1m-0.5 0h1m-0.5 0h1m-1 0h1m-0.5 0h1m-0.5 0h1m0 0h1m-0.5 0h1m-1 0h1m-0.5 0h1m-1 0h1m0.5 0h1m0 0h1m-0.5 0h1m-0.5 0h1m-1 0h1m-0.5 0h1m-0.5 0h1m0 0h1m-0.5 0h1m1 0h1m-1 0h1m-0.5 0h1m-1 0h1m0.5 0h1m-1 0h1m0.5 0h1m-0.5 0h1m0 0h1m1 0h1m10 0h1m-33 0.5h1m2.5 0h1m-1 0h1m-1 0h1m-1 0h1m0.5 0h1m-1 0h1m-0.5 0h1m-0.5 0h1m-1 0h1m-1 0h1m0 0h1m-0.5 0h1m-0.5 0h1m-1 0h1m-0.5 0h1m-1 0h1m-0.5 0h1m-0.5 0h1m-1 0h1m-0.5 0h1m-1 0h1m-1 0h1m-1 0h1m0 0h1m-0.5 0h1m0 0h1m0 0h1m1 0h1m0 0h1m1.5 0h1m0.5 0h1m2.5 0h1m-24 0.5h1m-1 0h1m0.5 0h1m-1 0h1m2 0h1m-1 0h1m-1 0h1m1.5 0h1m-0.5 0h1m-1 0h1m-1 0h1m-0.5 0h1m-0.5 0h1m-0.5 0h1m-0.5 0h1m-0.5 0h1m-0.5 0h1m1 0h1m0 0h1m1 0h1m2 0h1m20.5 0h1m-41.5 0.5h1m-0.5 0h1m0 0h1m0 0h1m0 0h1m0 0h1m-1 0h1m-1 0h1m-1 0h1m-0.5 0h1m-1 0h1m-0.5 0h1m-1 0h1m-0.5 0h1m-0.5 0h1m-1 0h1m-1 0h1m0 0h1m-1 0h1m-0.5 0h1m-1 0h1m0 0h1m-1 0h1m-0.5 0h1m-1 0h1m-0.5 0h1m-1 0h1m-1 0h1m0 0h1m0 0h1m-1 0h1m-1 0h1m-1 0h1m2.5 0h1m-17 0.5h1m-0.5 0h1m-1 0h1m0.5 0h1m-0.5 0h1m0.5 0h1m-0.5 0h1m-0.5 0h1m-0.5 0h1m-1 0h1m-1 0h1m-0.5 0h1m-0.5 0h1m-1 0h1m0 0h1m-1 0h1m0 0h1m-0.5 0h1m-1 0h1m-1 0h1m-1 0h1m-0.5 0h1m-0.5 0h1m-0.5 0h1m-0.5 0h1m-1 0h1m-0.5 0h1m0 0h1m-0.5 0h1m-0.5 0h1m0 0h1m-14 0.5h1m0.5 0h1m-0.5 0h1m1 0h1m-0.5 0h1m-1 0h1m-0.5 0h1m0 0h1m-0.5 0h1m-1 0h1m-0.5 0h1m-0.5 0h1m-0.5 0h1m-1 0h1m-0.5 0h1m-0.5 0h1m-0.5 0h1m-1 0h1m-1 0h1m-0.5 0h1m0.5 0h1m0 0h1m-14.5 0.5h1m1 0h1m-1 0h1m-0.5 0h1m0.5 0h1m-0.5 0h1m-0.5 0h1m-1 0h1m-1 0h1m0 0h1m-1 0h1m-0.5 0h1m-1 0h1m-1 0h1m-1 0h1m0 0h1m0 0h1m-0.5 0h1m0 0h1m-1 0h1m-0.5 0h1m0 0h1m-1 0h1m-0.5 0h1m0 0h1m-1 0h1m0 0h1m-1 0h1m-15 0.5h1m1 0h1m0 0h1m0 0h1m-1 0h1m1 0h1m0.5 0h1m-1 0h1m-1 0h1m0 0h1m-0.5 0h1m-1 0h1m-1 0h1m-0.5 0h1m-1 0h1m-0.5 0h1m-1 0h1m-1 0h1m-0.5 0h1m-0.5 0h1m0 0h1m1.5 0h1m2.5 0h1m2.5 0h1m-22 0.5h1m0 0h1m1.5 0h1m-1 0h1m-0.5 0h1m-1 0h1m0.5 0h1m-0.5 0h1m-1 0h1m-1 0h1m-0.5 0h1m-1 0h1m-1 0h1m-0.5 0h1m-1 0h1m0 0h1m-1 0h1m-1 0h1m-0.5 0h1m-0.5 0h1m1 0h1m1.5 0h1m-1 0h1m-0.5 0h1m3.5 0h1m-19 0.5h1m0 0h1m-1 0h1m1 0h1m-1 0h1m-1 0h1m-0.5 0h1m-0.5 0h1m0 0h1m-1 0h1m-1 0h1m-1 0h1m-0.5 0h1m-1 0h1m-1 0h1m0 0h1m-0.5 0h1m-1 0h1m-0.5 0h1m-0.5 0h1m-1 0h1m-0.5 0h1m-0.5 0h1m-1 0h1m-0.5 0h1m0 0h1m-1 0h1m2 0h1m2 0h1m1.5 0h1m-21 0.5h1m3.5 0h1m0.5 0h1m-0.5 0h1m0 0h1m-1 0h1m-0.5 0h1m0 0h1m1 0h1m2 0h1m-0.5 0h1m0 0h1m-0.5 0h1m-15.5 0.5h1m0 0h1m-0.5 0h1m0 0h1m1.5 0h1m-0.5 0h1m-0.5 0h1m0.5 0h1m-1 0h1m0.5 0h1m-0.5 0h1m-0.5 0h1m-1 0h1m0.5 0h1m-1 0h1m-13.5 0.5h1m0 0h1m-0.5 0h1m-1 0h1m0 0h1m-1 0h1m0 0h1m-0.5 0h1m1 0h1m-1 0h1m-0.5 0h1m-0.5 0h1m-0.5 0h1m-0.5 0h1m0.5 0h1m1 0h1m-0.5 0h1m-0.5 0h1m0 0h1m4 0h1m-20 0.5h1m0 0h1m0.5 0h1m-1 0h1m2 0h1m-0.5 0h1m1 0h1m0 0h1m-1 0h1m-1 0h1m1.5 0h1m0 0h1m1 0h1m-13 0.5h1m0 0h1m0 0h1m-0.5 0h1m-0.5 0h1m0 0h1m-0.5 0h1m-0.5 0h1m-1 0h1m2 0h1m-0.5 0h1m1.5 0h1m-0.5 0h1m0.5 0h1m1 0h1m-18 0.5h1m0 0h1m-1 0h1m-0.5 0h1m0.5 0h1m0.5 0h1m0 0h1m-1 0h1m-0.5 0h1m-1 0h1m0 0h1m-0.5 0h1m0.5 0h1m9 0h1m-19.5 0.5h1m-1 0h1m1 0h1m0 0h1m-0.5 0h1m0 0h1m1.5 0h1m-1 0h1m5 0h1m0 0h1m-10.5 0.5h1m-0.5 0h1m-0.5 0h1m-1 0h1m1.5 0h1m-0.5 0h1m-1 0h1m-0.5 0h1m-1 0h1m0.5 0h1m-1 0h1m1.5 0h1m0 0h1m5.5 0h1m0 0h1m-21.5 0.5h1m-0.5 0h1m1 0h1m0 0h1m1.5 0h1m-0.5 0h1m-0.5 0h1m0 0h1m-1 0h1m0 0h1m-1 0h1m-0.5 0h1m4.5 0h1m0.5 0h1m-1 0h1m-19 0.5h1m1.5 0h1m0.5 0h1m-1 0h1m-1 0h1m-0.5 0h1m1.5 0h1m2 0h1m-1 0h1m1.5 0h1m-0.5 0h1m0 0h1m0.5 0h1m-17 0.5h1m0 0h1m1 0h1m0.5 0h1m-0.5 0h1m-0.5 0h1m1.5 0h1m1 0h1m1.5 0h1m8 0h1m-20 0.5h1m2.5 0h1m1 0h1m-0.5 0h1m-8 0.5h1m-1 0h1m0 0h1m3 0h1m2 0h1m-1 0h1m0.5 0h1m1 0h1m-12.5 0.5h1m3.5 0h1m2.5 0h1m1.5 0h1m-0.5 0h1m-0.5 0h1m26.5 0h1m-41.5 0.5h1m5 0h1m-1 0h1m-0.5 0h1m0.5 0h1m-0.5 0h1m-1 0h1m1 0h1m-6 0.5h1m1 0h1m0 0h1m1 0h1m1 0h1m-13 0.5h1m0.5 0h1m7.5 0h1m-0.5 0h1m1.5 0h1m-1 0h1m2 0h1m1.5 0h1m-20 0.5h1m1.5 0h1m2 0h1m1.5 0h1m1 0h1m3 0h1m-6 0.5h1m-6.5 0.5h1m1 0h1m5 0h1m-1 0h1m5.5 0h1m2.5 0h1m-21 0.5h1m10.5 0h1m-0.5 0h1m-4 0.5h1m-11.5 0.5h1m6 0h1m-0.5 0h1m2 0.5h1m-2 0.5h1m-6.5 1h1m4 0h1m5.5 0h1m-8 0.5h1m8.5 0h1m1 0h1m-4 0.5h1m-8 0.5h1m-0.5 0h1m1 0h1m-0.5 0h1m1.5 0h1m6.5 0h1m-11.5 0.5h1m-0.5 0h1m-0.5 0h1m3.5 0h1m-13 0.5h1m5.5 0h1m0.5 0h1m1.5 0h1m-11.5 0.5h1m1.5 0h1m-0.5 0h1m-1 0h1m5.5 0h1m-4.5 0.5h1m1.5 0h1m1.5 0h1m1 0h1m-0.5 0h1m2.5 0h1m-16 0.5h1m3.5 0h1m1 0h1m1 0h1m0.5 0h1m2.5 0h1m-13 0.5h1m0.5 0h1m4.5 0h1m-5 0.5h1m1.5 0h1m-6 0.5h1m0 0h1m1 0h1m2.5 0h1m2 0h1m-14.5 0.5h1m0.5 0h1m8 0h1m-7.5 0.5h1m-0.5 0h1m2 0h1m5.5 0h1m-9 0.5h1m2.5 0h1m0 0.5h1m2 0.5h1m-6.5 1h1m3.5 0h1m10 1.5h1m-0.5 0h1m-22 4.5h1" stroke="#000" stroke-opacity="0.6" stroke-width="1" fill="none" filter="url(#bl)"/>
<rect x="225.8" y="89.4" width="22.16" height="11.4" fill="#fff"/>
<rect x="274.64" y="89.4" width="21.96" height="11.4" fill="#fff"/>
<rect x="225.8" y="150.22" width="22.16" height="10.48" fill="#fff"/>
<rect x="269.14" y="150.22" width="27.46" height="10.48" fill="#fff"/>
<rect x="225" y="88.8" width="72.4" height="72.5" fill="none" stroke="#a8a8a8" stroke-width="1.1"/>
<path d="M226.2 89.8V161.3M225 160.1H296.4" stroke="#c8c8c8" stroke-width="1" stroke-dasharray="1 2" fill="none"/>
<path d="M247 161.3H276" stroke="#8a8a8a" stroke-width="1" fill="none"/>
<path d="M248.2 88.8V161.3M225 143.6H297.4" stroke="#555" stroke-width="1.3" fill="none"/>
<text transform="translate(226.5 98.8) scale(1.02 1)" font-size="9.7" text-anchor="start">95.9</text>
<text transform="translate(296.1 98.8) scale(1.02 1)" font-size="9.7" text-anchor="end">0.47</text>
<text transform="translate(226.5 159.6) scale(1.02 1)" font-size="9.7" text-anchor="start">3.66</text>
<text transform="translate(296.1 159.6) scale(1.02 1)" font-size="9.7" text-anchor="end">0.013</text>
<path d="M218.6 161.9l1 0.7l2.6-1.8M218.6 143.78l1 0.7l2.6-1.8M218.6 125.65l1 0.7l2.6-1.8M218.6 107.52l1 0.7l2.6-1.8M218.6 89.4l1 0.7l2.6-1.8M222.8 165.6l1 0.8l2.8-1.9M240.9 165.6l1 0.8l2.8-1.9M259 165.6l1 0.8l2.8-1.9M277.1 165.6l1 0.8l2.8-1.9M295.2 165.6l1 0.8l2.8-1.9" stroke="#8a8a8a" stroke-width="1.0" fill="none"/>
<clipPath id="c314"><rect x="314.3" y="88.8" width="72.09999999999997" height="72.50000000000001"/></clipPath>
<ellipse cx="321.5" cy="118.0" rx="9.0" ry="14.5" fill="#000" clip-path="url(#c314)"/>
<path d="M323.5 92h1m4 1.5h1m-7.5 2h1m-0.5 0h1m-3 1h1m-1 0h1m0.5 1h1m-6 0.5h1m-2 0.5h1m-1 0h1m1.5 0.5h1m9.5 0h1m-7.5 0.5h1m0.5 0h1m2.5 0h1m0 0h1m1.5 0h1m-8.5 0.5h1m-2 0.5h1m8.5 0h1m6 0h1m-18 0.5h1m0.5 0h1m0.5 0h1m-1 0h1m0 0h1m-0.5 0h1m-0.5 0h1m-10 0.5h1m3.5 0h1m1.5 0h1m-1 0h1m0.5 0h1m-8.5 0.5h1m3.5 0h1m2 0h1m0 0h1m-12.5 0.5h1m12.5 0h1m8.5 0h1m0.5 0h1m20.5 0h1m-41.5 0.5h1m-0.5 0h1m0 0h1m3 0h1m1.5 0h1m-15.5 0.5h1m3.5 0h1m7.5 0h1m2 0h1m0.5 0h1m-17 0.5h1m2.5 0h1m1.5 0h1m2 0h1m3 0h1m6 0h1m-22.5 0.5h1m0.5 0h1m4 0h1m-1 0h1m-0.5 0h1m-1 0h1m2 0h1m-0.5 0h1m1 0h1m5.5 0h1m1 0h1m-21 0.5h1m0.5 0h1m0 0h1m-0.5 0h1m-1 0h1m-1 0h1m0 0h1m2.5 0h1m-0.5 0h1m0 0h1m-0.5 0h1m-1 0h1m1 0h1m-0.5 0h1m0 0h1m-0.5 0h1m4 0h1m5 0h1m-25.5 0.5h1m0.5 0h1m1 0h1m0 0h1m-0.5 0h1m-0.5 0h1m2 0h1m-0.5 0h1m3.5 0h1m-12.5 0.5h1m0.5 0h1m0 0h1m0 0h1m-0.5 0h1m2.5 0h1m-0.5 0h1m0.5 0h1m2.5 0h1m3 0h1m-21 0.5h1m1.5 0h1m1 0h1m0 0h1m0.5 0h1m-0.5 0h1m-0.5 0h1m-0.5 0h1m3.5 0h1m0.5 0h1m48.5 0h1m-64.5 0.5h1m0 0h1m-1 0h1m-0.5 0h1m-0.5 0h1m1.5 0h1m-0.5 0h1m-0.5 0h1m0.5 0h1m-0.5 0h1m1 0h1m0 0h1m-0.5 0h1m-0.5 0h1m-0.5 0h1m-0.5 0h1m-1 0h1m1 0h1m-1 0h1m0.5 0h1m0 0h1m-1 0h1m5.5 0h1m-24.5 0.5h1m0.5 0h1m-0.5 0h1m0 0h1m0 0h1m0 0h1m0.5 0h1m0 0h1m1 0h1m0.5 0h1m-0.5 0h1m-0.5 0h1m-1 0h1m-0.5 0h1m0.5 0h1m0 0h1m14 0h1m-30.5 0.5h1m1.5 0h1m-1 0h1m2 0h1m-0.5 0h1m0.5 0h1m-0.5 0h1m-1 0h1m-0.5 0h1m-0.5 0h1m-1 0h1m-0.5 0h1m-1 0h1m-0.5 0h1m-0.5 0h1m-0.5 0h1m0.5 0h1m-1 0h1m0.5 0h1m-0.5 0h1m-1 0h1m9 0h1m-25 0.5h1m-0.5 0h1m0.5 0h1m0 0h1m-1 0h1m-0.5 0h1m1.5 0h1m0 0h1m-0.5 0h1m-1 0h1m1 0h1m-0.5 0h1m1.5 0h1m-0.5 0h1m0 0h1m-14 0.5h1m-0.5 0h1m0 0h1m0 0h1m0 0h1m0.5 0h1m-1 0h1m-0.5 0h1m-1 0h1m0 0h1m0 0h1m-1 0h1m-1 0h1m0 0h1m0.5 0h1m-1 0h1m-13 0.5h1m0 0h1m0 0h1m0 0h1m-1 0h1m-0.5 0h1m0 0h1m-1 0h1m-1 0h1m0 0h1m1 0h1m2 0h1m-1 0h1m-0.5 0h1m-1 0h1m-0.5 0h1m-0.5 0h1m0 0h1m1 0h1m-0.5 0h1m5.5 0h1m-23.5 0.5h1m2 0h1m-1 0h1m-0.5 0h1m-1 0h1m-1 0h1m-1 0h1m0 0h1m-0.5 0h1m0 0h1m-0.5 0h1m0 0h1m0 0h1m-0.5 0h1m-1 0h1m-0.5 0h1m-1 0h1m-0.5 0h1m0 0h1m0 0h1m0 0h1m0 0h1m-1 0h1m-13.5 0.5h1m1 0h1m-0.5 0h1m-1 0h1m-1 0h1m-0.5 0h1m1 0h1m-0.5 0h1m-1 0h1m-0.5 0h1m-0.5 0h1m1 0h1m-0.5 0h1m-1 0h1m0.5 0h1m-1 0h1m-0.5 0h1m-0.5 0h1m-0.5 0h1m3 0h1m0 0h1m11 0h1m-31.5 0.5h1m-0.5 0h1m-1 0h1m-1 0h1m1 0h1m-1 0h1m-0.5 0h1m0.5 0h1m-0.5 0h1m-1 0h1m-0.5 0h1m0.5 0h1m-0.5 0h1m-1 0h1m-1 0h1m0 0h1m0 0h1m-0.5 0h1m-0.5 0h1m-0.5 0h1m-1 0h1m-1 0h1m0 0h1m-1 0h1m-1 0h1m-0.5 0h1m0.5 0h1m-1 0h1m1.5 0h1m-15.5 0.5h1m0 0h1m0 0h1m-0.5 0h1m-1 0h1m-0.5 0h1m0 0h1m0.5 0h1m-1 0h1m-0.5 0h1m-0.5 0h1m-1 0h1m-0.5 0h1m-0.5 0h1m-1 0h1m-0.5 0h1m-0.5 0h1m-0.5 0h1m-0.5 0h1m0.5 0h1m0 0h1m-1 0h1m-1 0h1m10.5 0h1m-26.5 0.5h1m-0.5 0h1m1 0h1m0 0h1m-0.5 0h1m-0.5 0h1m-0.5 0h1m0.5 0h1m-1 0h1m-1 0h1m-1 0h1m-0.5 0h1m-0.5 0h1m-0.5 0h1m-0.5 0h1m-1 0h1m-1 0h1m0 0h1m-1 0h1m-0.5 0h1m-0.5 0h1m-1 0h1m-0.5 0h1m-0.5 0h1m-1 0h1m0 0h1m-0.5 0h1m1.5 0h1m-1 0h1m1 0h1m-0.5 0h1m-18.5 0.5h1m-1 0h1m0.5 0h1m-1 0h1m-0.5 0h1m-0.5 0h1m-0.5 0h1m-1 0h1m-1 0h1m0 0h1m0.5 0h1m-0.5 0h1m-1 0h1m-1 0h1m-1 0h1m-0.5 0h1m-1 0h1m-1 0h1m-1 0h1m0 0h1m-0.5 0h1m-1 0h1m-0.5 0h1m-0.5 0h1m-0.5 0h1m-0.5 0h1m-0.5 0h1m-0.5 0h1m-1 0h1m0 0h1m-0.5 0h1m-1 0h1m-0.5 0h1m-1 0h1m-0.5 0h1m0.5 0h1m0 0h1m0 0h1m-0.5 0h1m2 0h1m8.5 0h1m-31 0.5h1m-1 0h1m0 0h1m-1 0h1m-0.5 0h1m-1 0h1m0 0h1m0 0h1m-0.5 0h1m0 0h1m-0.5 0h1m-1 0h1m-0.5 0h1m-1 0h1m-0.5 0h1m-1 0h1m0.5 0h1m-1 0h1m-0.5 0h1m-1 0h1m-0.5 0h1m-0.5 0h1m-1 0h1m-0.5 0h1m-1 0h1m-0.5 0h1m-1 0h1m-0.5 0h1m-0.5 0h1m-1 0h1m-1 0h1m0 0h1m-1 0h1m-0.5 0h1m0 0h1m-0.5 0h1m8.5 0h1m5 0h1m0.5 0h1m-32.5 0.5h1m-0.5 0h1m-0.5 0h1m-1 0h1m-1 0h1m0.5 0h1m-1 0h1m-1 0h1m-1 0h1m-1 0h1m-1 0h1m-0.5 0h1m-0.5 0h1m-0.5 0h1m-1 0h1m0 0h1m-1 0h1m-0.5 0h1m-1 0h1m-0.5 0h1m-0.5 0h1m-1 0h1m-0.5 0h1m-1 0h1m0.5 0h1m0 0h1m-0.5 0h1m0 0h1m-1 0h1m-0.5 0h1m-1 0h1m-0.5 0h1m-0.5 0h1m-0.5 0h1m-0.5 0h1m-1 0h1m-1 0h1m-0.5 0h1m-1 0h1m-0.5 0h1m-0.5 0h1m-1 0h1m-1 0h1m-0.5 0h1m-0.5 0h1m-1 0h1m1 0h1m8.5 0h1m2.5 0h1m-32 0.5h1m-0.5 0h1m-1 0h1m0 0h1m-0.5 0h1m-1 0h1m0 0h1m-0.5 0h1m-1 0h1m-1 0h1m-1 0h1m0 0h1m-0.5 0h1m-1 0h1m-0.5 0h1m-0.5 0h1m0 0h1m-0.5 0h1m-1 0h1m-0.5 0h1m-1 0h1m-1 0h1m-1 0h1m0 0h1m-1 0h1m-0.5 0h1m-1 0h1m-0.5 0h1m-1 0h1m-0.5 0h1m-1 0h1m-0.5 0h1m-0.5 0h1m-1 0h1m-1 0h1m2 0h1m-1 0h1m-0.5 0h1m-1 0h1m-1 0h1m-0.5 0h1m-0.5 0h1m2.5 0h1m2.5 0h1m3.5 0h1m-28 0.5h1m-0.5 0h1m-1 0h1m-1 0h1m-1 0h1m-0.5 0h1m0 0h1m-0.5 0h1m-1 0h1m-0.5 0h1m-0.5 0h1m-1 0h1m-1 0h1m-0.5 0h1m-0.5 0h1m-0.5 0h1m-0.5 0h1m-1 0h1m-0.5 0h1m-1 0h1m-1 0h1m-1 0h1m-0.5 0h1m-0.5 0h1m-1 0h1m-1 0h1m-0.5 0h1m-1 0h1m-1 0h1m-0.5 0h1m-1 0h1m-1 0h1m-1 0h1m-1 0h1m-0.5 0h1m0 0h1m-1 0h1m-1 0h1m-0.5 0h1m-1 0h1m0.5 0h1m-1 0h1m-0.5 0h1m-1 0h1m-0.5 0h1m-0.5 0h1m-0.5 0h1m-0.5 0h1m0.5 0h1m-1 0h1m1.5 0h1m1 0h1m-19.5 0.5h1m-1 0h1m-0.5 0h1m-0.5 0h1m-1 0h1m-1 0h1m0 0h1m-1 0h1m-0.5 0h1m-0.5 0h1m-1 0h1m-0.5 0h1m-0.5 0h1m-1 0h1m0 0h1m-0.5 0h1m1 0h1m-0.5 0h1m1 0h1m-0.5 0h1m-1 0h1m1 0h1m0 0h1m-1 0h1m-0.5 0h1m-1 0h1m-1 0h1m0.5 0h1m0.5 0h1m1 0h1m10.5 0h1m4.5 0h1m-39.5 0.5h1m0.5 0h1m-0.5 0h1m-0.5 0h1m-0.5 0h1m-1 0h1m-1 0h1m-0.5 0h1m-1 0h1m-1 0h1m-0.5 0h1m-1 0h1m-0.5 0h1m-1 0h1m-1 0h1m-1 0h1m-0.5 0h1m-0.5 0h1m-1 0h1m-0.5 0h1m-0.5 0h1m-1 0h1m-1 0h1m-1 0h1m-1 0h1m-1 0h1m-0.5 0h1m-1 0h1m-1 0h1m-1 0h1m-1 0h1m-0.5 0h1m-1 0h1m-1 0h1m-1 0h1m0 0h1m-1 0h1m-1 0h1m-1 0h1m-0.5 0h1m-1 0h1m-1 0h1m-1 0h1m-1 0h1m-0.5 0h1m-0.5 0h1m-1 0h1m-1 0h1m-0.5 0h1m-1 0h1m-0.5 0h1m-0.5 0h1m-1 0h1m-0.5 0h1m-1 0h1m-0.5 0h1m-0.5 0h1m0 0h1m-0.5 0h1m0 0h1m2.5 0h1m-20 0.5h1m-1 0h1m-0.5 0h1m-1 0h1m-1 0h1m1 0h1m-0.5 0h1m-0.5 0h1m-1 0h1m-0.5 0h1m-1 0h1m-1 0h1m-0.5 0h1m-1 0h1m0.5 0h1m-1 0h1m-0.5 0h1m0 0h1m-1 0h1m-0.5 0h1m-0.5 0h1m0 0h1m-0.5 0h1m0 0h1m-1 0h1m-0.5 0h1m-0.5 0h1m0 0h1m1 0h1m0 0h1m-1 0h1m-0.5 0h1m1 0h1m5 0h1m-25 0.5h1m0.5 0h1m-1 0h1m0 0h1m-0.5 0h1m1 0h1m-0.5 0h1m-0.5 0h1m-1 0h1m-0.5 0h1m-1 0h1m-1 0h1m-1 0h1m-1 0h1m-0.5 0h1m0 0h1m-0.5 0h1m-1 0h1m-1 0h1m-0.5 0h1m-0.5 0h1m-1 0h1m-1 0h1m-1 0h1m0 0h1m-0.5 0h1m-1 0h1m-0.5 0h1m-1 0h1m-1 0h1m0.5 0h1m-0.5 0h1m0 0h1m0.5 0h1m-1 0h1m-1 0h1m1.5 0h1m10 0h1m4 0h1m-35.5 0.5h1m-1 0h1m-0.5 0h1m-1 0h1m-0.5 0h1m0 0h1m0 0h1m0.5 0h1m-0.5 0h1m-1 0h1m-0.5 0h1m-1 0h1m-1 0h1m-0.5 0h1m-0.5 0h1m-1 0h1m-1 0h1m0 0h1m-1 0h1m-1 0h1m-1 0h1m-0.5 0h1m-0.5 0h1m0 0h1m-1 0h1m-0.5 0h1m-1 0h1m-0.5 0h1m-1 0h1m-1 0h1m0 0h1m0 0h1m-1 0h1m-0.5 0h1m1 0h1m0 0h1m4 0h1m0 0h1m-23 0.5h1m0.5 0h1m0.5 0h1m-0.5 0h1m-1 0h1m-1 0h1m-1 0h1m-0.5 0h1m0 0h1m-0.5 0h1m-1 0h1m-1 0h1m-0.5 0h1m-1 0h1m-0.5 0h1m-0.5 0h1m-1 0h1m0 0h1m-1 0h1m-0.5 0h1m-1 0h1m-1 0h1m-0.5 0h1m-0.5 0h1m-1 0h1m-1 0h1m-0.5 0h1m-1 0h1m-0.5 0h1m0 0h1m-0.5 0h1m-0.5 0h1m-1 0h1m-1 0h1m-0.5 0h1m0 0h1m-0.5 0h1m0.5 0h1m-16.5 0.5h1m-1 0h1m-1 0h1m-1 0h1m-1 0h1m-1 0h1m-1 0h1m0 0h1m-1 0h1m-1 0h1m-0.5 0h1m0 0h1m-1 0h1m-1 0h1m1.5 0h1m-0.5 0h1m-1 0h1m-1 0h1m-0.5 0h1m-0.5 0h1m-1 0h1m-1 0h1m-1 0h1m-0.5 0h1m-0.5 0h1m-1 0h1m-1 0h1m-0.5 0h1m-1 0h1m-1 0h1m-0.5 0h1m-1 0h1m-1 0h1m-1 0h1m-1 0h1m-1 0h1m-1 0h1m-0.5 0h1m-0.5 0h1m-1 0h1m0 0h1m-1 0h1m-1 0h1m-1 0h1m-1 0h1m-1 0h1m-0.5 0h1m0 0h1m-0.5 0h1m3 0h1m0.5 0h1m7 0h1m-28 0.5h1m1.5 0h1m-0.5 0h1m0 0h1m-1 0h1m-1 0h1m-0.5 0h1m-0.5 0h1m-1 0h1m-0.5 0h1m-0.5 0h1m-1 0h1m-1 0h1m-0.5 0h1m-1 0h1m-1 0h1m-1 0h1m-1 0h1m-1 0h1m-0.5 0h1m-1 0h1m-1 0h1m-1 0h1m-0.5 0h1m-1 0h1m-0.5 0h1m-1 0h1m-1 0h1m-0.5 0h1m-1 0h1m-1 0h1m-0.5 0h1m-1 0h1m-1 0h1m-0.5 0h1m-0.5 0h1m-1 0h1m-0.5 0h1m-0.5 0h1m-0.5 0h1m-1 0h1m-1 0h1m0 0h1m-0.5 0h1m-0.5 0h1m1 0h1m0 0h1m1 0h1m-19 0.5h1m-0.5 0h1m-0.5 0h1m0 0h1m0 0h1m-0.5 0h1m-1 0h1m-0.5 0h1m-1 0h1m0 0h1m-1 0h1m-1 0h1m-0.5 0h1m-1 0h1m-1 0h1m-0.5 0h1m-1 0h1m-1 0h1m-0.5 0h1m-1 0h1m-1 0h1m0 0h1m-1 0h1m-1 0h1m-0.5 0h1m-1 0h1m-1 0h1m-0.5 0h1m-0.5 0h1m-1 0h1m-0.5 0h1m-1 0h1m-0.5 0h1m-1 0h1m0 0h1m0.5 0h1m-0.5 0h1m1 0h1m-0.5 0h1m-0.5 0h1m-0.5 0h1m2 0h1m12 0h1m-33.5 0.5h1m0.5 0h1m-1 0h1m-1 0h1m-0.5 0h1m-1 0h1m-1 0h1m-0.5 0h1m-0.5 0h1m-1 0h1m-1 0h1m-1 0h1m-0.5 0h1m-0.5 0h1m-1 0h1m-1 0h1m-0.5 0h1m-0.5 0h1m-1 0h1m-0.5 0h1m-0.5 0h1m-1 0h1m-0.5 0h1m-1 0h1m-1 0h1m-1 0h1m-0.5 0h1m-0.5 0h1m-1 0h1m-0.5 0h1m-0.5 0h1m-0.5 0h1m-1 0h1m-1 0h1m-1 0h1m-0.5 0h1m-1 0h1m0 0h1m-0.5 0h1m-1 0h1m-0.5 0h1m-0.5 0h1m-1 0h1m0 0h1m-1 0h1m-0.5 0h1m-1 0h1m-0.5 0h1m-1 0h1m-1 0h1m-0.5 0h1m-1 0h1m-0.5 0h1m0.5 0h1m0.5 0h1m-0.5 0h1m-18.5 0.5h1m-1 0h1m-0.5 0h1m-0.5 0h1m-1 0h1m-0.5 0h1m-0.5 0h1m-1 0h1m-0.5 0h1m-1 0h1m-1 0h1m-0.5 0h1m-1 0h1m-0.5 0h1m-1 0h1m-1 0h1m-0.5 0h1m-1 0h1m-0.5 0h1m-0.5 0h1m-1 0h1m-1 0h1m-1 0h1m-0.5 0h1m-0.5 0h1m-1 0h1m-1 0h1m-0.5 0h1m-0.5 0h1m-1 0h1m-0.5 0h1m0 0h1m-1 0h1m-0.5 0h1m-1 0h1m-0.5 0h1m-1 0h1m-0.5 0h1m-0.5 0h1m-0.5 0h1m-0.5 0h1m-1 0h1m-1 0h1m-0.5 0h1m-1 0h1m-0.5 0h1m0 0h1m0.5 0h1m2.5 0h1m-19 0.5h1m-0.5 0h1m-0.5 0h1m-0.5 0h1m-1 0h1m-1 0h1m-0.5 0h1m-1 0h1m-0.5 0h1m-1 0h1m-0.5 0h1m-0.5 0h1m-1 0h1m-0.5 0h1m-1 0h1m-1 0h1m-1 0h1m-0.5 0h1m-1 0h1m-1 0h1m-0.5 0h1m-1 0h1m-0.5 0h1m-1 0h1m0 0h1m-0.5 0h1m-0.5 0h1m-1 0h1m-0.5 0h1m-1 0h1m-0.5 0h1m-1 0h1m-0.5 0h1m-0.5 0h1m1 0h1m-0.5 0h1m-0.5 0h1m1 0h1m-0.5 0h1m12.5 0h1m-31.5 0.5h1m-0.5 0h1m-0.5 0h1m-0.5 0h1m-0.5 0h1m-1 0h1m-1 0h1m-0.5 0h1m-1 0h1m-0.5 0h1m-1 0h1m-1 0h1m-1 0h1m-0.5 0h1m-1 0h1m-1 0h1m-0.5 0h1m0 0h1m-0.5 0h1m-1 0h1m-0.5 0h1m-1 0h1m-0.5 0h1m-1 0h1m-1 0h1m-1 0h1m-0.5 0h1m-0.5 0h1m-0.5 0h1m-1 0h1m-0.5 0h1m-0.5 0h1m0 0h1m-1 0h1m-0.5 0h1m-0.5 0h1m-0.5 0h1m-0.5 0h1m0 0h1m0 0h1m1 0h1m-1 0h1m3.5 0h1m4 0h1m-26.5 0.5h1m-1 0h1m0 0h1m-0.5 0h1m-0.5 0h1m-0.5 0h1m-1 0h1m-0.5 0h1m-1 0h1m-0.5 0h1m-1 0h1m-0.5 0h1m-0.5 0h1m-1 0h1m-1 0h1m-1 0h1m-0.5 0h1m-0.5 0h1m-0.5 0h1m-0.5 0h1m-1 0h1m-0.5 0h1m-1 0h1m-0.5 0h1m-1 0h1m-0.5 0h1m-1 0h1m-1 0h1m-1 0h1m-1 0h1m-0.5 0h1m-0.5 0h1m-0.5 0h1m-1 0h1m-0.5 0h1m-1 0h1m0 0h1m-0.5 0h1m-1 0h1m-1 0h1m-0.5 0h1m-1 0h1m-0.5 0h1m-1 0h1m0 0h1m1.5 0h1m-1 0h1m0 0h1m-0.5 0h1m-0.5 0h1m-19 0.5h1m-0.5 0h1m-1 0h1m0 0h1m0 0h1m-1 0h1m-0.5 0h1m0 0h1m-0.5 0h1m-1 0h1m0.5 0h1m-1 0h1m-0.5 0h1m-1 0h1m-1 0h1m-1 0h1m-1 0h1m-0.5 0h1m-1 0h1m-1 0h1m-0.5 0h1m-0.5 0h1m-1 0h1m-0.5 0h1m-1 0h1m-0.5 0h1m-0.5 0h1m-1 0h1m-0.5 0h1m-1 0h1m-0.5 0h1m-0.5 0h1m-1 0h1m-1 0h1m-0.5 0h1m-0.5 0h1m-0.5 0h1m-1 0h1m-1 0h1m-0.5 0h1m-1 0h1m0 0h1m-0.5 0h1m-1 0h1m0.5 0h1m-0.5 0h1m0 0h1m1 0h1m-20 0.5h1m0 0h1m-1 0h1m-1 0h1m0 0h1m-0.5 0h1m-0.5 0h1m-1 0h1m-0.5 0h1m-0.5 0h1m-1 0h1m-0.5 0h1m-1 0h1m-1 0h1m-0.5 0h1m-1 0h1m-1 0h1m-1 0h1m-0.5 0h1m-1 0h1m-1 0h1m-0.5 0h1m0 0h1m-1 0h1m-1 0h1m-0.5 0h1m-1 0h1m-1 0h1m0 0h1m-0.5 0h1m-1 0h1m-1 0h1m-0.5 0h1m-1 0h1m-0.5 0h1m-1 0h1m-1 0h1m-0.5 0h1m-1 0h1m0.5 0h1m-0.5 0h1m0 0h1m0 0h1m-1 0h1m0.5 0h1m2 0h1m3.5 0h1m5 0h1m-30.5 0.5h1m-0.5 0h1m-0.5 0h1m-1 0h1m0 0h1m-1 0h1m-1 0h1m-0.5 0h1m-0.5 0h1m-0.5 0h1m-1 0h1m0 0h1m-1 0h1m-0.5 0h1m-1 0h1m-1 0h1m-0.5 0h1m-0.5 0h1m-1 0h1m0.5 0h1m0 0h1m-0.5 0h1m-0.5 0h1m-1 0h1m-1 0h1m-1 0h1m3 0h1m-0.5 0h1m-15 0.5h1m0 0h1m-1 0h1m-0.5 0h1m-0.5 0h1m-1 0h1m0.5 0h1m-0.5 0h1m-0.5 0h1m-0.5 0h1m-1 0h1m-1 0h1m-0.5 0h1m-1 0h1m-1 0h1m-0.5 0h1m-1 0h1m-0.5 0h1m-0.5 0h1m-1 0h1m-0.5 0h1m-1 0h1m-0.5 0h1m0 0h1m0.5 0h1m-1 0h1m-1 0h1m0 0h1m-0.5 0h1m-1 0h1m-0.5 0h1m0 0h1m-0.5 0h1m-1 0h1m-0.5 0h1m0 0h1m-16.5 0.5h1m-0.5 0h1m-1 0h1m-1 0h1m-0.5 0h1m-0.5 0h1m-1 0h1m-1 0h1m-0.5 0h1m-1 0h1m-0.5 0h1m-1 0h1m0 0h1m-0.5 0h1m-1 0h1m-0.5 0h1m-0.5 0h1m-1 0h1m-0.5 0h1m-1 0h1m-0.5 0h1m-1 0h1m-1 0h1m-0.5 0h1m-0.5 0h1m-1 0h1m-0.5 0h1m-0.5 0h1m-0.5 0h1m-1 0h1m-1 0h1m-1 0h1m-0.5 0h1m-1 0h1m-1 0h1m-1 0h1m-1 0h1m-0.5 0h1m-0.5 0h1m0.5 0h1m0 0h1m-1 0h1m-1 0h1m1 0h1m-0.5 0h1m0 0h1m-1 0h1m1 0h1m-17 0.5h1m-0.5 0h1m-1 0h1m-1 0h1m-0.5 0h1m-0.5 0h1m0 0h1m-1 0h1m-0.5 0h1m-1 0h1m-0.5 0h1m-1 0h1m-1 0h1m0 0h1m0 0h1m-1 0h1m-1 0h1m0 0h1m-1 0h1m-1 0h1m-0.5 0h1m-1 0h1m-0.5 0h1m-1 0h1m-1 0h1m0 0h1m1 0h1m1 0h1m-0.5 0h1m-1 0h1m-0.5 0h1m-16.5 0.5h1m1.5 0h1m-1 0h1m-0.5 0h1m-1 0h1m-1 0h1m-0.5 0h1m-0.5 0h1m-0.5 0h1m-1 0h1m1 0h1m-0.5 0h1m0 0h1m-0.5 0h1m-1 0h1m0 0h1m0.5 0h1m-0.5 0h1m-0.5 0h1m0.5 0h1m-1 0h1m-1 0h1m-1 0h1m0.5 0h1m3 0h1m-20 0.5h1m-0.5 0h1m-0.5 0h1m-0.5 0h1m-0.5 0h1m-1 0h1m0.5 0h1m0 0h1m-1 0h1m0.5 0h1m-0.5 0h1m-0.5 0h1m0.5 0h1m-1 0h1m-0.5 0h1m-1 0h1m0.5 0h1m-1 0h1m1.5 0h1m1.5 0h1m1.5 0h1m-1 0h1m2.5 0h1m-21.5 0.5h1m-1 0h1m-0.5 0h1m-1 0h1m-1 0h1m0.5 0h1m-1 0h1m-0.5 0h1m-0.5 0h1m-1 0h1m0 0h1m-1 0h1m-1 0h1m-0.5 0h1m0 0h1m-1 0h1m0.5 0h1m-1 0h1m0.5 0h1m2 0h1m-0.5 0h1m1 0h1m-16.5 0.5h1m-0.5 0h1m0 0h1m0.5 0h1m0 0h1m0.5 0h1m-0.5 0h1m-0.5 0h1m-0.5 0h1m-0.5 0h1m-0.5 0h1m0 0h1m0 0h1m-0.5 0h1m1 0h1m4 0h1m-0.5 0h1m-19 0.5h1m1 0h1m0 0h1m-0.5 0h1m-1 0h1m-0.5 0h1m-1 0h1m0.5 0h1m0.5 0h1m-1 0h1m-0.5 0h1m0.5 0h1m-0.5 0h1m1 0h1m-0.5 0h1m0 0h1m-0.5 0h1m0 0h1m-0.5 0h1m-1 0h1m0 0h1m0.5 0h1m0 0h1m-19 0.5h1m-1 0h1m2.5 0h1m-0.5 0h1m-1 0h1m-0.5 0h1m-0.5 0h1m0 0h1m-1 0h1m-0.5 0h1m-0.5 0h1m-0.5 0h1m0 0h1m-0.5 0h1m0 0h1m-1 0h1m-0.5 0h1m-0.5 0h1m0.5 0h1m-1 0h1m0 0h1m-1 0h1m-0.5 0h1m-0.5 0h1m-1 0h1m3.5 0h1m-0.5 0h1m-20.5 0.5h1m2 0h1m-0.5 0h1m-0.5 0h1m-0.5 0h1m-0.5 0h1m1 0h1m-1 0h1m1.5 0h1m0 0h1m-0.5 0h1m0 0h1m1.5 0h1m-0.5 0h1m-0.5 0h1m2.5 0h1m-20.5 0.5h1m-1 0h1m-1 0h1m0 0h1m-0.5 0h1m-0.5 0h1m0 0h1m1 0h1m-0.5 0h1m-0.5 0h1m1 0h1m0.5 0h1m-0.5 0h1m-0.5 0h1m-0.5 0h1m0 0h1m0.5 0h1m3.5 0h1m-19 0.5h1m3.5 0h1m1.5 0h1m-1 0h1m-0.5 0h1m-1 0h1m0.5 0h1m-0.5 0h1m-0.5 0h1m-0.5 0h1m-0.5 0h1m-1 0h1m-1 0h1m0.5 0h1m-0.5 0h1m-1 0h1m-1 0h1m0 0h1m0 0h1m0 0h1m-16.5 0.5h1m0 0h1m1.5 0h1m0 0h1m-0.5 0h1m-0.5 0h1m-0.5 0h1m-1 0h1m-0.5 0h1m-0.5 0h1m-0.5 0h1m-1 0h1m-0.5 0h1m-1 0h1m0 0h1m-1 0h1m-0.5 0h1m-1 0h1m-0.5 0h1m-1 0h1m-0.5 0h1m0.5 0h1m-1 0h1m2.5 0h1m-0.5 0h1m7 0h1m-25.5 0.5h1m0 0h1m2 0h1m-1 0h1m-0.5 0h1m0 0h1m-1 0h1m0.5 0h1m0.5 0h1m-1 0h1m-0.5 0h1m-0.5 0h1m1 0h1m0 0h1m0.5 0h1m3.5 0h1m0 0h1m0.5 0h1m-19 0.5h1m-1 0h1m-0.5 0h1m0 0h1m0 0h1m-1 0h1m1.5 0h1m3.5 0h1m6 0h1m-16.5 0.5h1m0 0h1m-1 0h1m0 0h1m-0.5 0h1m0 0h1m-1 0h1m0 0h1m-1 0h1m0 0h1m1 0h1m1.5 0h1m-12 0.5h1m0.5 0h1m0.5 0h1m-1 0h1m0.5 0h1m-1 0h1m2.5 0h1m-0.5 0h1m1 0h1m-0.5 0h1m0 0h1m3.5 0h1m4.5 0h1m-22.5 0.5h1m-1 0h1m-0.5 0h1m0 0h1m9.5 0h1m-0.5 0h1m-0.5 0h1m-0.5 0h1m0 0h1m-16.5 0.5h1m-0.5 0h1m-1 0h1m0 0h1m1 0h1m0 0h1m-0.5 0h1m-0.5 0h1m2 0h1m0.5 0h1m2 0h1m-11.5 0.5h1m0.5 0h1m4 0h1m1.5 0h1m2.5 0h1m-18.5 0.5h1m5 0h1m-1 0h1m-0.5 0h1m-0.5 0h1m8 0h1m5.5 0h1m-19.5 0.5h1m1.5 0h1m1 0h1m0 0h1m4 0h1m-10.5 0.5h1m0 0h1m4 0h1m0.5 0h1m-1 0h1m0 0h1m-12.5 1h1m0.5 0h1m0.5 0h1m0.5 0h1m16 0h1m-20 0.5h1m-4 0.5h1m6 0h1m9 0h1m-15.5 0.5h1m-0.5 0h1m1 0h1m16.5 0h1m-16.5 0.5h1m2.5 0h1m-0.5 0h1m0.5 0h1m-0.5 0h1m-2 0.5h1m-0.5 0h1m2 0h1m-4.5 1h1m-4.5 0.5h1m-8.5 0.5h1m0.5 0h1m2 0h1m-6.5 0.5h1m19 0.5h1m-19 0.5h1m13.5 0h1m-16.5 0.5h1m7 0h1m0.5 0h1m4.5 0h1m3.5 0h1m-20.5 0.5h1m3 0h1m8.5 0.5h1m7.5 0h1m-18 0.5h1m7.5 0h1m-6 0.5h1m-1 0h1m-0.5 0h1m-1 0h1m1 0h1m0.5 0h1m-0.5 0h1m2.5 0h1m0.5 0h1m-8 0.5h1m0.5 0h1m10.5 0h1m-15.5 0.5h1m-0.5 0h1m3 0h1m-4.5 0.5h1m-1 0h1m9.5 0h1m36.5 0h1m-59 0.5h1m4.5 0h1m-0.5 0h1m7 0h1m-13.5 0.5h1m4 0h1m1 0h1m0 0h1m2 0h1m-0.5 0h1m2.5 0h1m0 0h1m-7.5 0.5h1m4 0h1m2 0h1m-0.5 0h1m1 0h1m-1 0h1m-15 0.5h1m0 0h1m0.5 0h1m-0.5 0h1m2 0h1m3 0h1m1.5 0h1m-15.5 0.5h1m2.5 0h1m8 0h1m0.5 0h1m1.5 0h1m-24 0.5h1m8.5 0h1m5.5 0h1m-9 0.5h1m2 0h1m11 0h1m0 0h1m-20 0.5h1m-1 0h1m3.5 0h1m2.5 0h1m7 0h1m-12 0.5h1m0.5 0h1m0.5 0h1m4.5 0h1m-17 0.5h1m3.5 0h1m-7.5 0.5h1m16.5 0h1m5 0.5h1m-20 2h1m2.5 3.5h1m57 0h1m-26 1h1" stroke="#000" stroke-opacity="0.6" stroke-width="1" fill="none" filter="url(#bl)"/>
<rect x="315.1" y="89.4" width="22.16" height="11.4" fill="#fff"/>
<rect x="363.64" y="89.4" width="21.96" height="11.4" fill="#fff"/>
<rect x="315.1" y="150.22" width="22.16" height="10.48" fill="#fff"/>
<rect x="358.14" y="150.22" width="27.46" height="10.48" fill="#fff"/>
<rect x="314.3" y="88.8" width="72.1" height="72.5" fill="none" stroke="#a8a8a8" stroke-width="1.1"/>
<path d="M315.5 89.8V161.3M314.3 160.1H385.4" stroke="#c8c8c8" stroke-width="1" stroke-dasharray="1 2" fill="none"/>
<path d="M336.3 161.3H365.3" stroke="#8a8a8a" stroke-width="1" fill="none"/>
<path d="M339.5 88.8V161.3M314.3 142.4H386.4" stroke="#555" stroke-width="1.3" fill="none"/>
<text transform="translate(315.8 98.8) scale(1.02 1)" font-size="9.7" text-anchor="start">95.9</text>
<text transform="translate(385.1 98.8) scale(1.02 1)" font-size="9.7" text-anchor="end">0.27</text>
<text transform="translate(315.8 159.6) scale(1.02 1)" font-size="9.7" text-anchor="start">3.76</text>
<text transform="translate(385.1 159.6) scale(1.02 1)" font-size="9.7" text-anchor="end">0.039</text>
<path d="M307.9 161.9l1 0.7l2.6-1.8M307.9 143.78l1 0.7l2.6-1.8M307.9 125.65l1 0.7l2.6-1.8M307.9 107.52l1 0.7l2.6-1.8M307.9 89.4l1 0.7l2.6-1.8M312.1 165.6l1 0.8l2.8-1.9M330.12 165.6l1 0.8l2.8-1.9M348.15 165.6l1 0.8l2.8-1.9M366.18 165.6l1 0.8l2.8-1.9M384.2 165.6l1 0.8l2.8-1.9" stroke="#8a8a8a" stroke-width="1.0" fill="none"/>
<text transform="translate(49.7 178.32) scale(1.132 1)" font-size="10.14" fill="#000">CD158a/h</text>
<text transform="translate(149.69 177.92) scale(1.157 1)" font-size="10.14" fill="#000">CD158b</text>
<text transform="translate(240.79 178.32) scale(1.159 1)" font-size="10.14" fill="#000">CD158i</text>
<text transform="translate(325.92 178.32) scale(1.057 1)" font-size="10.53" fill="#000">CD158e1</text>
<text transform="translate(394.4 43.03) scale(1.152 1)" font-size="12.08" fill="#000">hESC</text>
<text transform="translate(395.55 122.53) scale(1.089 1)" font-size="12.67" fill="#000">UCB</text>
<text transform="translate(0.3 208.12) scale(0.994 1)" font-size="15.33" fill="#000">B</text>
<path d="M34.1 216V303.7" stroke="#000" stroke-width="1.4"/>
<path d="M32.2 217.6L34.1 211.4L36 217.6Z" fill="#000"/>
<text transform="translate(39.33 347.5) rotate(-90) scale(0.872 1)" font-size="13.25">CD56</text>
<ellipse cx="62" cy="240.5" rx="9.5" ry="7" fill="#000" transform="rotate(-20 62 240.5)"/>
<path d="M89.5 201.5h1m-21 2.5h1m36.5 5.5h1m-18 7h1m-38.5 1h1m6 1h1m-9.5 2h1m11.5 1h1m0.5 0h1m-0.5 0h1m-5 0.5h1m0.5 0h1m6.5 0h1m-13.5 0.5h1m5.5 0h1m8.5 0h1m24.5 0h1m-44.5 0.5h1m2 0h1m3.5 0h1m15 0h1m-15.5 0.5h1m3.5 0h1m0 0h1m11 0h1m-21 0.5h1m11.5 0h1m-21 0.5h1m16 0h1m-14.5 0.5h1m6 0h1m0.5 0h1m5.5 0h1m-4 0.5h1m2 0h1m-1 0h1m-18.5 0.5h1m2.5 0h1m9.5 0h1m3.5 0h1m-19.5 0.5h1m2 0h1m2.5 0h1m3.5 0h1m-1 0h1m1 0h1m-19.5 0.5h1m3 0h1m10 0h1m-0.5 0h1m4.5 0h1m0.5 0h1m2 0h1m-19.5 0.5h1m1 0h1m2 0h1m1.5 0h1m0.5 0h1m1.5 0h1m-0.5 0h1m3 0h1m-18.5 0.5h1m2.5 0h1m2 0h1m1.5 0h1m7 0h1m-1 0h1m0.5 0h1m0 0h1m-27 0.5h1m3 0h1m3.5 0h1m3.5 0h1m0 0h1m0 0h1m3.5 0h1m0.5 0h1m0.5 0h1m4 0h1m-0.5 0h1m-1 0h1m-25.5 0.5h1m0.5 0h1m2 0h1m1 0h1m0 0h1m1.5 0h1m1 0h1m-1 0h1m-0.5 0h1m1.5 0h1m-1 0h1m0 0h1m-1 0h1m-0.5 0h1m0 0h1m-0.5 0h1m3.5 0h1m0.5 0h1m-21.5 0.5h1m-1 0h1m3 0h1m0 0h1m-1 0h1m-0.5 0h1m1 0h1m1 0h1m-0.5 0h1m1 0h1m0.5 0h1m0.5 0h1m1 0h1m4.5 0h1m-0.5 0h1m2 0h1m-29.5 0.5h1m2 0h1m0.5 0h1m2 0h1m0.5 0h1m-0.5 0h1m-0.5 0h1m-1 0h1m0 0h1m-0.5 0h1m3.5 0h1m0 0h1m1 0h1m-1 0h1m0 0h1m0 0h1m2.5 0h1m0 0h1m-0.5 0h1m0 0h1m6.5 0h1m-34.5 0.5h1m1 0h1m0 0h1m1 0h1m0 0h1m-1 0h1m1 0h1m0.5 0h1m-0.5 0h1m-0.5 0h1m0 0h1m-0.5 0h1m-1 0h1m2.5 0h1m-1 0h1m0.5 0h1m-1 0h1m-1 0h1m1 0h1m3.5 0h1m-28.5 0.5h1m6.5 0h1m1 0h1m1 0h1m0 0h1m-0.5 0h1m1 0h1m2 0h1m-1 0h1m-0.5 0h1m-1 0h1m-0.5 0h1m2 0h1m0.5 0h1m-1 0h1m-0.5 0h1m1.5 0h1m-1 0h1m-0.5 0h1m1.5 0h1m-0.5 0h1m-0.5 0h1m-31.5 0.5h1m1 0h1m4.5 0h1m-0.5 0h1m-1 0h1m0 0h1m-1 0h1m-1 0h1m0.5 0h1m1 0h1m0.5 0h1m0 0h1m-1 0h1m0 0h1m-0.5 0h1m-1 0h1m-0.5 0h1m-0.5 0h1m0 0h1m-1 0h1m-0.5 0h1m0 0h1m-0.5 0h1m-0.5 0h1m10 0h1m-32.5 0.5h1m0 0h1m1 0h1m0 0h1m1.5 0h1m3 0h1m-1 0h1m-0.5 0h1m-1 0h1m-0.5 0h1m0 0h1m-1 0h1m-1 0h1m-0.5 0h1m-1 0h1m0 0h1m1.5 0h1m-1 0h1m0 0h1m-0.5 0h1m-0.5 0h1m-1 0h1m-1 0h1m1 0h1m-0.5 0h1m0 0h1m-1 0h1m-0.5 0h1m-0.5 0h1m-1 0h1m-21 0.5h1m3.5 0h1m-0.5 0h1m-1 0h1m-1 0h1m0.5 0h1m-0.5 0h1m-1 0h1m0 0h1m-0.5 0h1m-0.5 0h1m0.5 0h1m-0.5 0h1m-0.5 0h1m-0.5 0h1m-1 0h1m0 0h1m-0.5 0h1m0.5 0h1m0.5 0h1m-1 0h1m1 0h1m-1 0h1m0 0h1m2 0h1m1 0h1m1.5 0h1m2.5 0h1m-36 0.5h1m3 0h1m4 0h1m-0.5 0h1m-1 0h1m-0.5 0h1m-0.5 0h1m-1 0h1m0 0h1m-1 0h1m-1 0h1m0 0h1m0 0h1m-1 0h1m-1 0h1m-0.5 0h1m-1 0h1m0 0h1m-1 0h1m0 0h1m-1 0h1m0 0h1m0.5 0h1m-0.5 0h1m0.5 0h1m-0.5 0h1m0.5 0h1m-1 0h1m-0.5 0h1m0 0h1m1 0h1m0 0h1m-0.5 0h1m-27.5 0.5h1m-1 0h1m1 0h1m2.5 0h1m0.5 0h1m-1 0h1m-1 0h1m-0.5 0h1m1.5 0h1m0 0h1m-1 0h1m-0.5 0h1m-0.5 0h1m0 0h1m0.5 0h1m-1 0h1m-0.5 0h1m-1 0h1m0.5 0h1m0 0h1m-1 0h1m0 0h1m0 0h1m0 0h1m-1 0h1m0.5 0h1m-0.5 0h1m-0.5 0h1m-1 0h1m0 0h1m-0.5 0h1m1.5 0h1m-27 0.5h1m0 0h1m-1 0h1m0 0h1m1 0h1m3.5 0h1m-1 0h1m0 0h1m-0.5 0h1m-1 0h1m-0.5 0h1m-0.5 0h1m-0.5 0h1m-1 0h1m-0.5 0h1m-0.5 0h1m-1 0h1m-0.5 0h1m-0.5 0h1m-1 0h1m-0.5 0h1m-1 0h1m-1 0h1m-0.5 0h1m-0.5 0h1m0 0h1m-1 0h1m-0.5 0h1m-0.5 0h1m-1 0h1m1.5 0h1m-0.5 0h1m-0.5 0h1m-0.5 0h1m-0.5 0h1m0.5 0h1m-0.5 0h1m-0.5 0h1m-1 0h1m-0.5 0h1m-0.5 0h1m-0.5 0h1m-0.5 0h1m-1 0h1m2.5 0h1m1.5 0h1m-35.5 0.5h1m0 0h1m2.5 0h1m-0.5 0h1m-0.5 0h1m-1 0h1m-1 0h1m0 0h1m-0.5 0h1m-1 0h1m-0.5 0h1m-1 0h1m-0.5 0h1m0 0h1m-1 0h1m-0.5 0h1m-1 0h1m-0.5 0h1m-0.5 0h1m-0.5 0h1m-0.5 0h1m-0.5 0h1m-1 0h1m0 0h1m-1 0h1m-1 0h1m-0.5 0h1m-0.5 0h1m-1 0h1m-1 0h1m0 0h1m-0.5 0h1m0.5 0h1m-1 0h1m-0.5 0h1m-0.5 0h1m-0.5 0h1m-0.5 0h1m0 0h1m0 0h1m-0.5 0h1m-1 0h1m0 0h1m-1 0h1m-1 0h1m-0.5 0h1m0 0h1m0.5 0h1m0.5 0h1m-0.5 0h1m-1 0h1m-0.5 0h1m1.5 0h1m-1 0h1m0 0h1m-30.5 0.5h1m0 0h1m-0.5 0h1m0 0h1m1 0h1m-0.5 0h1m-0.5 0h1m-1 0h1m1 0h1m-1 0h1m-0.5 0h1m-0.5 0h1m-1 0h1m-0.5 0h1m0 0h1m-1 0h1m-0.5 0h1m-1 0h1m-1 0h1m-0.5 0h1m-0.5 0h1m-1 0h1m-1 0h1m-1 0h1m-0.5 0h1m-0.5 0h1m-1 0h1m-1 0h1m0.5 0h1m0 0h1m0.5 0h1m-1 0h1m2 0h1m-0.5 0h1m-1 0h1m-0.5 0h1m-0.5 0h1m-0.5 0h1m0 0h1m1 0h1m-0.5 0h1m2 0h1m-31 0.5h1m-0.5 0h1m1.5 0h1m-0.5 0h1m-0.5 0h1m0 0h1m-1 0h1m0 0h1m1 0h1m0 0h1m-1 0h1m-0.5 0h1m-0.5 0h1m-0.5 0h1m-0.5 0h1m0.5 0h1m-0.5 0h1m-0.5 0h1m-0.5 0h1m-1 0h1m-1 0h1m-0.5 0h1m-0.5 0h1m-1 0h1m-0.5 0h1m-1 0h1m0 0h1m-0.5 0h1m-1 0h1m-0.5 0h1m0 0h1m-1 0h1m-1 0h1m-0.5 0h1m-1 0h1m1.5 0h1m0 0h1m-1 0h1m-0.5 0h1m-1 0h1m2 0h1m0 0h1m-0.5 0h1m-1 0h1m-0.5 0h1m-1 0h1m3 0h1m-1 0h1m1.5 0h1m1 0h1m-36 0.5h1m-0.5 0h1m0.5 0h1m0 0h1m0 0h1m0.5 0h1m0 0h1m0 0h1m-0.5 0h1m0 0h1m-0.5 0h1m-1 0h1m-0.5 0h1m-1 0h1m-1 0h1m-0.5 0h1m-1 0h1m-1 0h1m-0.5 0h1m0.5 0h1m-1 0h1m-0.5 0h1m-0.5 0h1m0.5 0h1m0 0h1m-1 0h1m-0.5 0h1m-1 0h1m-0.5 0h1m-1 0h1m-0.5 0h1m-0.5 0h1m1 0h1m0 0h1m-1 0h1m0.5 0h1m-1 0h1m0 0h1m-0.5 0h1m-1 0h1m-0.5 0h1m-0.5 0h1m2.5 0h1m-30.5 0.5h1m2 0h1m-1 0h1m0.5 0h1m-1 0h1m-1 0h1m1.5 0h1m-1 0h1m0 0h1m-0.5 0h1m-1 0h1m0 0h1m-0.5 0h1m-0.5 0h1m-0.5 0h1m-0.5 0h1m-1 0h1m-0.5 0h1m-1 0h1m-1 0h1m-1 0h1m-0.5 0h1m-0.5 0h1m-0.5 0h1m-0.5 0h1m-1 0h1m-1 0h1m-1 0h1m-1 0h1m-0.5 0h1m0 0h1m-0.5 0h1m-1 0h1m-0.5 0h1m-0.5 0h1m-0.5 0h1m-1 0h1m-1 0h1m0.5 0h1m-0.5 0h1m-1 0h1m-0.5 0h1m-1 0h1m-0.5 0h1m-0.5 0h1m-1 0h1m0 0h1m-1 0h1m-0.5 0h1m-1 0h1m-1 0h1m-1 0h1m-0.5 0h1m-1 0h1m-1 0h1m0 0h1m-0.5 0h1m0 0h1m-0.5 0h1m-0.5 0h1m6.5 0h1m3.5 0h1m1 0h1m-41.5 0.5h1m0 0h1m-1 0h1m1 0h1m-1 0h1m0.5 0h1m-1 0h1m-0.5 0h1m0.5 0h1m0 0h1m-1 0h1m-1 0h1m-1 0h1m-0.5 0h1m1 0h1m-0.5 0h1m-1 0h1m0 0h1m0 0h1m-1 0h1m-0.5 0h1m-1 0h1m-1 0h1m0.5 0h1m-0.5 0h1m-0.5 0h1m-1 0h1m-1 0h1m0 0h1m0 0h1m-1 0h1m-1 0h1m-1 0h1m-0.5 0h1m-1 0h1m0.5 0h1m-0.5 0h1m-1 0h1m-0.5 0h1m-1 0h1m-0.5 0h1m-1 0h1m-1 0h1m1 0h1m1 0h1m0 0h1m-0.5 0h1m-0.5 0h1m0 0h1m-0.5 0h1m-1 0h1m1 0h1m-0.5 0h1m0 0h1m0.5 0h1m-0.5 0h1m-35 0.5h1m0 0h1m0 0h1m0 0h1m-1 0h1m0.5 0h1m-1 0h1m-0.5 0h1m-0.5 0h1m0.5 0h1m-0.5 0h1m-0.5 0h1m-0.5 0h1m-0.5 0h1m-0.5 0h1m-0.5 0h1m-1 0h1m0.5 0h1m-1 0h1m-1 0h1m0 0h1m-1 0h1m-0.5 0h1m-1 0h1m-0.5 0h1m-1 0h1m-1 0h1m-0.5 0h1m-1 0h1m-0.5 0h1m-1 0h1m-0.5 0h1m-0.5 0h1m-0.5 0h1m-1 0h1m-1 0h1m-1 0h1m-0.5 0h1m-1 0h1m-0.5 0h1m-1 0h1m-0.5 0h1m-0.5 0h1m-1 0h1m-0.5 0h1m-1 0h1m-1 0h1m-1 0h1m-1 0h1m0 0h1m0.5 0h1m-1 0h1m-1 0h1m-0.5 0h1m-1 0h1m0 0h1m-0.5 0h1m-1 0h1m-1 0h1m-0.5 0h1m-0.5 0h1m-0.5 0h1m-0.5 0h1m1.5 0h1m-1 0h1m-0.5 0h1m1 0h1m-30.5 0.5h1m0 0h1m0.5 0h1m-0.5 0h1m0 0h1m-0.5 0h1m0 0h1m-0.5 0h1m-1 0h1m-1 0h1m-0.5 0h1m-1 0h1m-1 0h1m-0.5 0h1m-1 0h1m-0.5 0h1m-1 0h1m-0.5 0h1m-1 0h1m-0.5 0h1m-1 0h1m-0.5 0h1m-0.5 0h1m-0.5 0h1m-1 0h1m-0.5 0h1m0.5 0h1m-1 0h1m-0.5 0h1m-1 0h1m-0.5 0h1m-1 0h1m-0.5 0h1m-1 0h1m-1 0h1m-0.5 0h1m-1 0h1m-1 0h1m-0.5 0h1m-1 0h1m-1 0h1m-0.5 0h1m-1 0h1m-0.5 0h1m-1 0h1m-0.5 0h1m-1 0h1m-0.5 0h1m-1 0h1m-1 0h1m-0.5 0h1m-0.5 0h1m-0.5 0h1m-1 0h1m-1 0h1m-0.5 0h1m0.5 0h1m-1 0h1m-0.5 0h1m-0.5 0h1m-0.5 0h1m-0.5 0h1m-0.5 0h1m-1 0h1m-0.5 0h1m-1 0h1m-0.5 0h1m-1 0h1m1 0h1m-1 0h1m-0.5 0h1m-0.5 0h1m0 0h1m-0.5 0h1m-1 0h1m-0.5 0h1m0.5 0h1m-32.5 0.5h1m0 0h1m1.5 0h1m0 0h1m-0.5 0h1m0.5 0h1m-0.5 0h1m-0.5 0h1m-1 0h1m-0.5 0h1m-0.5 0h1m-1 0h1m-1 0h1m-0.5 0h1m0.5 0h1m-0.5 0h1m-0.5 0h1m-0.5 0h1m-0.5 0h1m-1 0h1m-0.5 0h1m-0.5 0h1m-0.5 0h1m-1 0h1m-0.5 0h1m-1 0h1m-1 0h1m-1 0h1m-0.5 0h1m-1 0h1m-1 0h1m-1 0h1m-0.5 0h1m0.5 0h1m-0.5 0h1m-1 0h1m-0.5 0h1m-1 0h1m-1 0h1m0.5 0h1m-1 0h1m-0.5 0h1m0.5 0h1m0.5 0h1m-1 0h1m0 0h1m-0.5 0h1m-0.5 0h1m-0.5 0h1m1.5 0h1m0.5 0h1m-0.5 0h1m-0.5 0h1m-0.5 0h1m2 0h1m-35.5 0.5h1m-0.5 0h1m1 0h1m-0.5 0h1m1.5 0h1m0 0h1m-1 0h1m-1 0h1m-0.5 0h1m-1 0h1m-1 0h1m-0.5 0h1m-1 0h1m-0.5 0h1m-0.5 0h1m0 0h1m-0.5 0h1m-1 0h1m-1 0h1m0 0h1m-1 0h1m-0.5 0h1m-1 0h1m-0.5 0h1m-1 0h1m-0.5 0h1m-0.5 0h1m-1 0h1m-1 0h1m-0.5 0h1m-1 0h1m-0.5 0h1m-1 0h1m-1 0h1m-1 0h1m-0.5 0h1m-0.5 0h1m-1 0h1m-1 0h1m0 0h1m-1 0h1m-1 0h1m-1 0h1m-0.5 0h1m-1 0h1m0 0h1m-1 0h1m0 0h1m0 0h1m-1 0h1m-1 0h1m-1 0h1m-0.5 0h1m-0.5 0h1m-1 0h1m-1 0h1m-1 0h1m-0.5 0h1m-0.5 0h1m3 0h1m1 0h1m-0.5 0h1m0.5 0h1m-1 0h1m3.5 0h1m-33.5 0.5h1m0.5 0h1m-1 0h1m1 0h1m-1 0h1m-1 0h1m-1 0h1m0 0h1m-0.5 0h1m-0.5 0h1m0 0h1m0 0h1m-0.5 0h1m-0.5 0h1m-0.5 0h1m-1 0h1m-0.5 0h1m-0.5 0h1m-1 0h1m-1 0h1m-0.5 0h1m-1 0h1m0 0h1m0 0h1m-1 0h1m-1 0h1m-1 0h1m-0.5 0h1m-0.5 0h1m-1 0h1m-1 0h1m-0.5 0h1m-1 0h1m-1 0h1m-0.5 0h1m-1 0h1m-1 0h1m-0.5 0h1m-1 0h1m-1 0h1m-0.5 0h1m-1 0h1m-0.5 0h1m-0.5 0h1m-1 0h1m-1 0h1m0.5 0h1m-1 0h1m-0.5 0h1m-1 0h1m-1 0h1m-0.5 0h1m-1 0h1m-0.5 0h1m-0.5 0h1m-1 0h1m-1 0h1m-1 0h1m-1 0h1m-0.5 0h1m-1 0h1m-0.5 0h1m-0.5 0h1m0 0h1m-1 0h1m0.5 0h1m0 0h1m3 0h1m-0.5 0h1m4.5 0h1m-37 0.5h1m2.5 0h1m0 0h1m-0.5 0h1m-0.5 0h1m-1 0h1m-0.5 0h1m-1 0h1m-0.5 0h1m1 0h1m-1 0h1m-1 0h1m-0.5 0h1m-1 0h1m-1 0h1m-0.5 0h1m-1 0h1m-0.5 0h1m-1 0h1m-1 0h1m-0.5 0h1m-1 0h1m-1 0h1m-0.5 0h1m-1 0h1m-0.5 0h1m-1 0h1m-0.5 0h1m-1 0h1m0 0h1m-0.5 0h1m-1 0h1m0 0h1m-0.5 0h1m-1 0h1m-0.5 0h1m-1 0h1m-0.5 0h1m-1 0h1m-1 0h1m-0.5 0h1m-1 0h1m-1 0h1m0 0h1m-0.5 0h1m-1 0h1m0 0h1m-1 0h1m-1 0h1m-1 0h1m0 0h1m-0.5 0h1m-0.5 0h1m-1 0h1m-1 0h1m-0.5 0h1m-1 0h1m-1 0h1m0 0h1m-0.5 0h1m-0.5 0h1m-0.5 0h1m-0.5 0h1m-1 0h1m0 0h1m-0.5 0h1m0.5 0h1m0 0h1m-1 0h1m-0.5 0h1m0.5 0h1m1.5 0h1m5 0h1m-40 0.5h1m0 0h1m0 0h1m0.5 0h1m-1 0h1m-0.5 0h1m-0.5 0h1m0 0h1m-0.5 0h1m-1 0h1m-0.5 0h1m-1 0h1m-0.5 0h1m-0.5 0h1m0 0h1m-0.5 0h1m-0.5 0h1m-0.5 0h1m-1 0h1m-1 0h1m-0.5 0h1m-0.5 0h1m0 0h1m-1 0h1m-0.5 0h1m-1 0h1m-0.5 0h1m-1 0h1m-1 0h1m-0.5 0h1m-0.5 0h1m-1 0h1m-0.5 0h1m-1 0h1m0 0h1m-1 0h1m-0.5 0h1m-1 0h1m0 0h1m-1 0h1m-1 0h1m-0.5 0h1m-1 0h1m-0.5 0h1m-1 0h1m-0.5 0h1m-1 0h1m-1 0h1m-0.5 0h1m-0.5 0h1m-1 0h1m-0.5 0h1m-1 0h1m-1 0h1m-0.5 0h1m-1 0h1m-1 0h1m-1 0h1m-0.5 0h1m0 0h1m0 0h1m0 0h1m-0.5 0h1m-1 0h1m1 0h1m2 0h1m1 0h1m0 0h1m0.5 0h1m0.5 0h1m-1 0h1m-36.5 0.5h1m3.5 0h1m-0.5 0h1m-0.5 0h1m-1 0h1m-1 0h1m0.5 0h1m-0.5 0h1m0 0h1m-0.5 0h1m-1 0h1m-0.5 0h1m-0.5 0h1m-0.5 0h1m-1 0h1m-1 0h1m-1 0h1m0 0h1m-0.5 0h1m-0.5 0h1m-0.5 0h1m-1 0h1m-1 0h1m-0.5 0h1m-1 0h1m-0.5 0h1m-1 0h1m-0.5 0h1m-1 0h1m-1 0h1m-1 0h1m-0.5 0h1m-1 0h1m-1 0h1m-1 0h1m-1 0h1m-1 0h1m-0.5 0h1m-1 0h1m0.5 0h1m-1 0h1m0 0h1m-1 0h1m-1 0h1m-0.5 0h1m0.5 0h1m-0.5 0h1m-1 0h1m-1 0h1m-0.5 0h1m-0.5 0h1m-1 0h1m-1 0h1m-1 0h1m-1 0h1m0 0h1m0 0h1m-1 0h1m0 0h1m-1 0h1m-0.5 0h1m0 0h1m-1 0h1m-0.5 0h1m-0.5 0h1m-1 0h1m0 0h1m-1 0h1m1.5 0h1m5 0h1m-37.5 0.5h1m1.5 0h1m0 0h1m-0.5 0h1m-1 0h1m0 0h1m-0.5 0h1m-1 0h1m0 0h1m-0.5 0h1m0 0h1m-1 0h1m-0.5 0h1m-0.5 0h1m-1 0h1m-1 0h1m-1 0h1m-1 0h1m-0.5 0h1m-1 0h1m-0.5 0h1m-0.5 0h1m-0.5 0h1m-1 0h1m-0.5 0h1m-0.5 0h1m-1 0h1m-1 0h1m-1 0h1m-0.5 0h1m-1 0h1m-1 0h1m-0.5 0h1m-0.5 0h1m-1 0h1m-0.5 0h1m-0.5 0h1m-1 0h1m-0.5 0h1m-1 0h1m-1 0h1m-1 0h1m-0.5 0h1m-1 0h1m-1 0h1m-1 0h1m0.5 0h1m-1 0h1m-0.5 0h1m-0.5 0h1m-1 0h1m-0.5 0h1m-1 0h1m-1 0h1m-1 0h1m-0.5 0h1m-1 0h1m-1 0h1m-0.5 0h1m-0.5 0h1m-0.5 0h1m-1 0h1m-1 0h1m-1 0h1m-1 0h1m-1 0h1m-0.5 0h1m-0.5 0h1m-0.5 0h1m-1 0h1m-0.5 0h1m-0.5 0h1m-0.5 0h1m1.5 0h1m0.5 0h1m0 0h1m2.5 0h1m0 0h1m-0.5 0h1m-0.5 0h1m-34.5 0.5h1m-0.5 0h1m-0.5 0h1m0 0h1m-0.5 0h1m0.5 0h1m-1 0h1m0 0h1m-1 0h1m-1 0h1m-0.5 0h1m-0.5 0h1m-0.5 0h1m-1 0h1m-1 0h1m-1 0h1m0.5 0h1m-0.5 0h1m-1 0h1m-0.5 0h1m-1 0h1m-0.5 0h1m-1 0h1m-0.5 0h1m-0.5 0h1m-1 0h1m-1 0h1m-1 0h1m-1 0h1m-0.5 0h1m-0.5 0h1m-1 0h1m-0.5 0h1m-1 0h1m-0.5 0h1m-0.5 0h1m-0.5 0h1m0 0h1m-1 0h1m0 0h1m-0.5 0h1m-0.5 0h1m-1 0h1m-1 0h1m-1 0h1m-1 0h1m-0.5 0h1m0 0h1m-1 0h1m-0.5 0h1m-0.5 0h1m-1 0h1m-0.5 0h1m-1 0h1m-0.5 0h1m0 0h1m1.5 0h1m-1 0h1m-1 0h1m-1 0h1m-0.5 0h1m0.5 0h1m0 0h1m-0.5 0h1m0.5 0h1m-0.5 0h1m-0.5 0h1m0 0h1m-1 0h1m5 0h1m-37 0.5h1m-1 0h1m2 0h1m-1 0h1m-1 0h1m-0.5 0h1m-0.5 0h1m-0.5 0h1m-1 0h1m-0.5 0h1m1 0h1m-1 0h1m-1 0h1m-0.5 0h1m-0.5 0h1m-1 0h1m-0.5 0h1m0 0h1m-1 0h1m-1 0h1m-1 0h1m-0.5 0h1m-0.5 0h1m0 0h1m-1 0h1m-1 0h1m-1 0h1m-0.5 0h1m-1 0h1m-1 0h1m-0.5 0h1m-1 0h1m-1 0h1m-0.5 0h1m-0.5 0h1m-0.5 0h1m-0.5 0h1m0 0h1m-1 0h1m-0.5 0h1m-1 0h1m-0.5 0h1m-0.5 0h1m-0.5 0h1m-1 0h1m0.5 0h1m-0.5 0h1m-1 0h1m-0.5 0h1m-0.5 0h1m-1 0h1m-1 0h1m-0.5 0h1m0 0h1m-0.5 0h1m0.5 0h1m2.5 0h1m-1 0h1m1.5 0h1m0 0h1m-1 0h1m0 0h1m1 0h1m-35 0.5h1m-0.5 0h1m-0.5 0h1m0.5 0h1m0 0h1m-1 0h1m0 0h1m-1 0h1m-0.5 0h1m-0.5 0h1m0 0h1m-1 0h1m0 0h1m-1 0h1m0 0h1m-1 0h1m-0.5 0h1m-1 0h1m-1 0h1m-1 0h1m-0.5 0h1m-0.5 0h1m-1 0h1m-1 0h1m0 0h1m-1 0h1m-0.5 0h1m-1 0h1m-0.5 0h1m-1 0h1m-0.5 0h1m-1 0h1m-1 0h1m-0.5 0h1m-0.5 0h1m-1 0h1m-0.5 0h1m-1 0h1m-1 0h1m-0.5 0h1m-0.5 0h1m-0.5 0h1m-1 0h1m-1 0h1m-0.5 0h1m-1 0h1m-1 0h1m-0.5 0h1m-1 0h1m-0.5 0h1m-1 0h1m0.5 0h1m-1 0h1m-0.5 0h1m-1 0h1m0 0h1m0 0h1m-1 0h1m-0.5 0h1m-0.5 0h1m-1 0h1m-1 0h1m-0.5 0h1m-1 0h1m0 0h1m-1 0h1m2.5 0h1m-0.5 0h1m0 0h1m1.5 0h1m0 0h1m-33.5 0.5h1m0 0h1m-0.5 0h1m0 0h1m-0.5 0h1m-1 0h1m-0.5 0h1m-0.5 0h1m-1 0h1m1 0h1m-0.5 0h1m-1 0h1m0 0h1m1 0h1m-1 0h1m-0.5 0h1m-1 0h1m-0.5 0h1m-1 0h1m0 0h1m-1 0h1m-1 0h1m-0.5 0h1m-1 0h1m-0.5 0h1m-0.5 0h1m-0.5 0h1m-0.5 0h1m-0.5 0h1m0.5 0h1m-1 0h1m-1 0h1m-0.5 0h1m-1 0h1m-1 0h1m-0.5 0h1m-0.5 0h1m-0.5 0h1m-0.5 0h1m-1 0h1m-1 0h1m-0.5 0h1m-1 0h1m-0.5 0h1m-0.5 0h1m-1 0h1m-1 0h1m0 0h1m-0.5 0h1m-1 0h1m-0.5 0h1m0.5 0h1m-1 0h1m-1 0h1m1 0h1m-0.5 0h1m-0.5 0h1m0 0h1m0.5 0h1m0 0h1m-1 0h1m2 0h1m-34 0.5h1m-0.5 0h1m0.5 0h1m-0.5 0h1m-0.5 0h1m0 0h1m-0.5 0h1m-1 0h1m-0.5 0h1m-1 0h1m-0.5 0h1m-0.5 0h1m0.5 0h1m-1 0h1m-0.5 0h1m-1 0h1m0 0h1m-1 0h1m-0.5 0h1m-1 0h1m-0.5 0h1m-0.5 0h1m-0.5 0h1m-1 0h1m-0.5 0h1m-1 0h1m-0.5 0h1m-0.5 0h1m-1 0h1m-0.5 0h1m-0.5 0h1m-1 0h1m-0.5 0h1m-0.5 0h1m-1 0h1m-0.5 0h1m-0.5 0h1m-0.5 0h1m-1 0h1m-0.5 0h1m-1 0h1m-1 0h1m0 0h1m-1 0h1m-0.5 0h1m-1 0h1m0 0h1m-1 0h1m-0.5 0h1m-1 0h1m-1 0h1m-0.5 0h1m0 0h1m0.5 0h1m-1 0h1m-1 0h1m-0.5 0h1m-1 0h1m-0.5 0h1m-0.5 0h1m-1 0h1m-0.5 0h1m0 0h1m0 0h1m-0.5 0h1m5.5 0h1m1.5 0h1m10 0h1m-48.5 0.5h1m-0.5 0h1m-1 0h1m-0.5 0h1m0 0h1m-0.5 0h1m-1 0h1m0.5 0h1m1 0h1m-1 0h1m0 0h1m-0.5 0h1m-1 0h1m-0.5 0h1m-1 0h1m0 0h1m-1 0h1m-0.5 0h1m-1 0h1m-1 0h1m-0.5 0h1m-1 0h1m-0.5 0h1m-1 0h1m-1 0h1m-0.5 0h1m-1 0h1m-1 0h1m0 0h1m-0.5 0h1m-0.5 0h1m-1 0h1m-1 0h1m-1 0h1m0.5 0h1m-0.5 0h1m-1 0h1m-0.5 0h1m-0.5 0h1m-1 0h1m-1 0h1m-0.5 0h1m-1 0h1m-0.5 0h1m-0.5 0h1m-1 0h1m0 0h1m-0.5 0h1m-1 0h1m-1 0h1m-1 0h1m-1 0h1m-0.5 0h1m-0.5 0h1m-0.5 0h1m-1 0h1m-0.5 0h1m0.5 0h1m-1 0h1m-0.5 0h1m1 0h1m-0.5 0h1m2 0h1m-0.5 0h1m3.5 0h1m6 0h1m-42 0.5h1m-0.5 0h1m0.5 0h1m0 0h1m-0.5 0h1m1 0h1m-0.5 0h1m0 0h1m-1 0h1m0 0h1m-0.5 0h1m-1 0h1m0 0h1m-1 0h1m-0.5 0h1m-0.5 0h1m-1 0h1m-0.5 0h1m-1 0h1m-1 0h1m-1 0h1m-1 0h1m-0.5 0h1m-0.5 0h1m-1 0h1m-1 0h1m-1 0h1m-0.5 0h1m-0.5 0h1m-0.5 0h1m-0.5 0h1m-1 0h1m0.5 0h1m-0.5 0h1m-1 0h1m-1 0h1m-0.5 0h1m-0.5 0h1m-0.5 0h1m-1 0h1m0 0h1m-1 0h1m-0.5 0h1m-1 0h1m1.5 0h1m-0.5 0h1m-0.5 0h1m-0.5 0h1m-1 0h1m-1 0h1m-0.5 0h1m0.5 0h1m-1 0h1m0.5 0h1m-0.5 0h1m-1 0h1m1 0h1m1 0h1m0.5 0h1m-33.5 0.5h1m0.5 0h1m1 0h1m-0.5 0h1m-0.5 0h1m-1 0h1m-1 0h1m-0.5 0h1m0.5 0h1m-0.5 0h1m-0.5 0h1m-1 0h1m-0.5 0h1m-0.5 0h1m-1 0h1m-0.5 0h1m-0.5 0h1m-1 0h1m-0.5 0h1m-1 0h1m0 0h1m-0.5 0h1m-1 0h1m-0.5 0h1m0.5 0h1m-1 0h1m-0.5 0h1m-1 0h1m-0.5 0h1m-1 0h1m-0.5 0h1m0 0h1m-1 0h1m-0.5 0h1m1.5 0h1m-1 0h1m-1 0h1m-1 0h1m-0.5 0h1m-1 0h1m-1 0h1m-0.5 0h1m-1 0h1m-0.5 0h1m-0.5 0h1m-1 0h1m-1 0h1m-1 0h1m0.5 0h1m-1 0h1m-0.5 0h1m-1 0h1m0 0h1m0.5 0h1m0.5 0h1m-0.5 0h1m2 0h1m0 0h1m3 0h1m-35.5 0.5h1m-0.5 0h1m-0.5 0h1m-0.5 0h1m0 0h1m-0.5 0h1m-0.5 0h1m-0.5 0h1m-0.5 0h1m-1 0h1m-1 0h1m0 0h1m-1 0h1m-0.5 0h1m0.5 0h1m0.5 0h1m-0.5 0h1m-1 0h1m-1 0h1m-0.5 0h1m-1 0h1m-0.5 0h1m0 0h1m0 0h1m-1 0h1m-0.5 0h1m-0.5 0h1m-0.5 0h1m-1 0h1m-1 0h1m-0.5 0h1m-1 0h1m-1 0h1m-0.5 0h1m0 0h1m-0.5 0h1m-1 0h1m-0.5 0h1m-0.5 0h1m-0.5 0h1m-1 0h1m-0.5 0h1m0 0h1m-1 0h1m-1 0h1m-0.5 0h1m-1 0h1m2.5 0h1m-1 0h1m2 0h1m-0.5 0h1m-27 0.5h1m-0.5 0h1m1.5 0h1m-1 0h1m-1 0h1m-0.5 0h1m-0.5 0h1m-0.5 0h1m-1 0h1m-1 0h1m0 0h1m0.5 0h1m0 0h1m-0.5 0h1m-1 0h1m-0.5 0h1m-0.5 0h1m-0.5 0h1m-0.5 0h1m-1 0h1m0 0h1m-1 0h1m-1 0h1m-1 0h1m-1 0h1m-0.5 0h1m-1 0h1m-0.5 0h1m0 0h1m-0.5 0h1m-0.5 0h1m-1 0h1m0.5 0h1m0 0h1m0.5 0h1m-0.5 0h1m-1 0h1m-0.5 0h1m-0.5 0h1m2.5 0h1m1 0h1m-0.5 0h1m0 0h1m-0.5 0h1m0 0h1m-0.5 0h1m-1 0h1m-0.5 0h1m4 0h1m-37 0.5h1m0 0h1m-0.5 0h1m-1 0h1m1 0h1m-0.5 0h1m4 0h1m-0.5 0h1m0 0h1m-1 0h1m0 0h1m-0.5 0h1m-0.5 0h1m-0.5 0h1m-0.5 0h1m-0.5 0h1m-1 0h1m-0.5 0h1m0 0h1m-1 0h1m-1 0h1m-1 0h1m-0.5 0h1m-1 0h1m-0.5 0h1m0 0h1m-0.5 0h1m-1 0h1m-0.5 0h1m-1 0h1m-0.5 0h1m0 0h1m-0.5 0h1m1.5 0h1m-1 0h1m0.5 0h1m-1 0h1m-0.5 0h1m1 0h1m0.5 0h1m-1 0h1m0 0h1m0 0h1m0 0h1m-33 0.5h1m-1 0h1m1 0h1m1 0h1m-1 0h1m-0.5 0h1m-0.5 0h1m1 0h1m0 0h1m-0.5 0h1m-1 0h1m-1 0h1m-0.5 0h1m-1 0h1m-1 0h1m-0.5 0h1m-0.5 0h1m-1 0h1m-0.5 0h1m-1 0h1m0.5 0h1m-1 0h1m-1 0h1m-0.5 0h1m-1 0h1m-1 0h1m-0.5 0h1m-1 0h1m1 0h1m-0.5 0h1m-0.5 0h1m-0.5 0h1m-1 0h1m-1 0h1m-1 0h1m0.5 0h1m-1 0h1m-0.5 0h1m-1 0h1m0 0h1m1.5 0h1m0 0h1m-0.5 0h1m-0.5 0h1m1 0h1m0.5 0h1m0 0h1m0.5 0h1m0.5 0h1m0.5 0h1m1 0h1m-0.5 0h1m-36.5 0.5h1m2 0h1m-0.5 0h1m0 0h1m0 0h1m-0.5 0h1m-1 0h1m-0.5 0h1m-1 0h1m1.5 0h1m1 0h1m-0.5 0h1m-0.5 0h1m-0.5 0h1m-1 0h1m-1 0h1m0 0h1m-1 0h1m-0.5 0h1m-0.5 0h1m-0.5 0h1m-1 0h1m0 0h1m-1 0h1m-0.5 0h1m-0.5 0h1m1 0h1m0 0h1m-1 0h1m0 0h1m-0.5 0h1m-0.5 0h1m2 0h1m-0.5 0h1m2 0h1m2 0h1m1 0h1m-0.5 0h1m5 0h1m-39.5 0.5h1m1 0h1m1.5 0h1m-1 0h1m-0.5 0h1m-1 0h1m0.5 0h1m-1 0h1m-1 0h1m-0.5 0h1m0.5 0h1m-1 0h1m-0.5 0h1m-1 0h1m-1 0h1m-0.5 0h1m1.5 0h1m-0.5 0h1m-0.5 0h1m0.5 0h1m-1 0h1m1 0h1m-1 0h1m0.5 0h1m-1 0h1m-0.5 0h1m-1 0h1m0.5 0h1m0 0h1m0 0h1m0 0h1m0.5 0h1m-22 0.5h1m-1 0h1m-0.5 0h1m0 0h1m1 0h1m-1 0h1m-1 0h1m-0.5 0h1m-0.5 0h1m-1 0h1m1 0h1m-0.5 0h1m-0.5 0h1m-1 0h1m-0.5 0h1m0 0h1m0 0h1m-0.5 0h1m0.5 0h1m-1 0h1m0.5 0h1m0.5 0h1m-1 0h1m2.5 0h1m-0.5 0h1m3 0h1m-0.5 0h1m2 0h1m-31 0.5h1m-1 0h1m1 0h1m0 0h1m-0.5 0h1m1 0h1m0 0h1m-1 0h1m0 0h1m-0.5 0h1m1.5 0h1m0.5 0h1m-0.5 0h1m0 0h1m-1 0h1m-0.5 0h1m-0.5 0h1m1 0h1m-0.5 0h1m3 0h1m-0.5 0h1m1 0h1m0 0h1m2 0h1m-1 0h1m-29 0.5h1m3 0h1m0 0h1m0.5 0h1m-0.5 0h1m0 0h1m3.5 0h1m-0.5 0h1m-0.5 0h1m-1 0h1m0 0h1m0 0h1m0 0h1m-0.5 0h1m-1 0h1m0 0h1m-1 0h1m-1 0h1m-0.5 0h1m0 0h1m4.5 0h1m1.5 0h1m0 0h1m0.5 0h1m-30.5 0.5h1m0 0h1m0 0h1m-1 0h1m-0.5 0h1m-0.5 0h1m-1 0h1m-0.5 0h1m4 0h1m1.5 0h1m-0.5 0h1m-1 0h1m-1 0h1m1.5 0h1m0 0h1m0 0h1m0 0h1m0 0h1m2.5 0h1m0.5 0h1m-1 0h1m0.5 0h1m0.5 0h1m3 0h1m0 0h1m-31 0.5h1m1.5 0h1m0 0h1m-0.5 0h1m4.5 0h1m1.5 0h1m-0.5 0h1m-1 0h1m-0.5 0h1m3 0h1m0 0h1m3 0h1m-22.5 0.5h1m1 0h1m0 0h1m-1 0h1m4 0h1m2.5 0h1m-0.5 0h1m-1 0h1m0.5 0h1m-0.5 0h1m0 0h1m0.5 0h1m1.5 0h1m-0.5 0h1m2.5 0h1m2.5 0h1m-0.5 0h1m-26 0.5h1m3.5 0h1m-1 0h1m4.5 0h1m-0.5 0h1m2 0h1m-1 0h1m-0.5 0h1m0.5 0h1m6 0h1m-28 0.5h1m2.5 0h1m0 0h1m3 0h1m3.5 0h1m-1 0h1m-0.5 0h1m-1 0h1m3 0h1m4 0h1m10 0h1m-32 0.5h1m4 0h1m-1 0h1m0.5 0h1m2 0h1m2 0h1m1 0h1m5.5 0h1m18 0h1m-38 0.5h1m0 0h1m-1 0h1m5.5 0h1m-1 0h1m-0.5 0h1m-1 0h1m-0.5 0h1m-1 0h1m1 0h1m2 0h1m0 0h1m0 0h1m0 0h1m-1 0h1m-16.5 0.5h1m0.5 0h1m-1 0h1m0 0h1m-0.5 0h1m-1 0h1m-0.5 0h1m1.5 0h1m-1 0h1m10 0h1m-11.5 0.5h1m2.5 0h1m-1 0h1m-0.5 0h1m-14.5 0.5h1m5.5 0h1m5 0h1m1 0h1m-14 0.5h1m1.5 0h1m2 0h1m2.5 0h1m-1 0h1m-1 0h1m0.5 0h1m5 0h1m11 0h1m-32.5 0.5h1m4.5 0h1m0.5 0h1m1.5 0h1m2.5 0h1m3 0h1m-13.5 0.5h1m1 0h1m1.5 0h1m0.5 0h1m-0.5 0h1m1.5 0h1m2.5 0h1m1.5 0h1m13.5 0h1m-33.5 0.5h1m5 0h1m6.5 0h1m1 0h1m5.5 0h1m-16 0.5h1m-0.5 0h1m-0.5 0h1m-1 0h1m5 0h1m-13.5 0.5h1m2 0h1m3 0h1m4 0h1m2.5 0h1m-19 0.5h1m-0.5 0h1m4 0h1m5.5 0h1m-8.5 0.5h1m0 0h1m-0.5 0h1m0.5 0h1m-1 0h1m0.5 0h1m0 0h1m-1 0h1m-0.5 0h1m0.5 0h1m-1 0h1m-1 0h1m1 0h1m1 0h1m0.5 0h1m1.5 0h1m-23.5 0.5h1m1 0h1m-0.5 0h1m3 0h1m2 0h1m3.5 0h1m1 0h1m0 0h1m-0.5 0h1m-0.5 0h1m-8 0.5h1m-1 0h1m-0.5 0h1m5 0h1m0 0h1m0.5 0h1m-15 0.5h1m1 0h1m0 0h1m8.5 0h1m2 0h1m-19 0.5h1m1 0h1m6 0h1m-0.5 0h1m-9 0.5h1m2.5 0h1m1 0h1m1 0h1m2.5 0h1m4 0h1m-9.5 0.5h1m1 0h1m-0.5 0h1m0 0h1m3.5 0h1m-13.5 0.5h1m1.5 0h1m1 0h1m2 0h1m4.5 0h1m3.5 0h1m-14.5 0.5h1m4.5 0h1m-13 0.5h1m-0.5 0h1m3.5 0h1m-0.5 0h1m3 0h1m-1 0h1m1 0h1m0.5 0h1m0 0h1m-17 0.5h1m0.5 0h1m7.5 0h1m-7.5 0.5h1m5 0h1m-1 0h1m0 0h1m9.5 0h1m-6 0.5h1m-15.5 0.5h1m1 0h1m7.5 0h1m4 0h1m-13 0.5h1m6.5 0h1m9 0.5h1m-14 0.5h1m2.5 0h1m-6.5 0.5h1m-1.5 1h1" stroke="#000" stroke-opacity="0.6" stroke-width="1" fill="none" filter="url(#bl)"/>
<rect x="48.8" y="199.9" width="23.15" height="12.1" fill="#fff"/>
<rect x="96.85" y="199.9" width="22.95" height="12.1" fill="#fff"/>
<rect x="48.8" y="260.56" width="24.05" height="10.84" fill="#fff"/>
<rect x="96.85" y="260.56" width="22.95" height="10.84" fill="#fff"/>
<rect x="48" y="199.3" width="72.6" height="72.7" fill="none" stroke="#a8a8a8" stroke-width="1.1"/>
<path d="M49.2 200.3V272M48 270.8H119.6" stroke="#c8c8c8" stroke-width="1" stroke-dasharray="1 2" fill="none"/>
<path d="M70 272H99" stroke="#8a8a8a" stroke-width="1" fill="none"/>
<path d="M71 199.3V272M48 253H120.6" stroke="#555" stroke-width="1.3" fill="none"/>
<text transform="translate(49.5 210) scale(1.02 1)" font-size="10.2" text-anchor="start">90.3</text>
<text transform="translate(119.3 210) scale(1.02 1)" font-size="10.2" text-anchor="end">5.74</text>
<text transform="translate(50.4 270.3) scale(1.02 1)" font-size="10.2" text-anchor="start">3.49</text>
<text transform="translate(119.3 270.3) scale(1.02 1)" font-size="10.2" text-anchor="end">0.47</text>
<path d="M41.6 272.6l1 0.7l2.6-1.8M41.6 254.42l1 0.7l2.6-1.8M41.6 236.25l1 0.7l2.6-1.8M41.6 218.08l1 0.7l2.6-1.8M41.6 199.9l1 0.7l2.6-1.8M45.8 276.3l1 0.8l2.8-1.9M63.95 276.3l1 0.8l2.8-1.9M82.1 276.3l1 0.8l2.8-1.9M100.25 276.3l1 0.8l2.8-1.9M118.4 276.3l1 0.8l2.8-1.9" stroke="#8a8a8a" stroke-width="1.0" fill="none"/>
<ellipse cx="172" cy="238.5" rx="12" ry="4.8" fill="#000"/>
<path d="M188.5 203.5h1m-14 3.5h1m-13 6.5h1m-12.5 8.5h1m-11 2.5h1m8.5 0h1m7 0.5h1m-7 0.5h1m14.5 0.5h1m-7.5 0.5h1m18.5 0h1m-29.5 0.5h1m3.5 0h1m1.5 0h1m1.5 0h1m-0.5 0h1m8.5 0h1m-0.5 0h1m6.5 0h1m2.5 0h1m-46 0.5h1m7 0h1m2.5 0h1m4.5 0h1m5.5 0h1m0 0h1m0 0h1m2 0h1m0.5 0h1m14 0h1m-35.5 0.5h1m11 0h1m3.5 0h1m4.5 0h1m7.5 0h1m-29.5 0.5h1m8 0h1m3.5 0h1m8.5 0h1m14 0h1m-38.5 0.5h1m5.5 0h1m1.5 0h1m0.5 0h1m-1 0h1m4 0h1m9.5 0h1m6.5 0h1m-32 0.5h1m0 0h1m0 0h1m8 0h1m0 0h1m-0.5 0h1m3 0h1m3 0h1m1 0h1m1.5 0h1m1.5 0h1m-1 0h1m0.5 0h1m1.5 0h1m0 0h1m-48 0.5h1m0 0h1m0 0h1m9 0h1m0 0h1m0.5 0h1m-0.5 0h1m0 0h1m-0.5 0h1m0 0h1m-1 0h1m0.5 0h1m3 0h1m2.5 0h1m-0.5 0h1m-0.5 0h1m1 0h1m-0.5 0h1m0.5 0h1m1.5 0h1m2.5 0h1m0.5 0h1m-0.5 0h1m-40 0.5h1m7 0h1m3.5 0h1m2 0h1m-0.5 0h1m4 0h1m-0.5 0h1m0 0h1m-1 0h1m0 0h1m0.5 0h1m0.5 0h1m0 0h1m-0.5 0h1m-0.5 0h1m-1 0h1m-0.5 0h1m-0.5 0h1m0 0h1m1 0h1m-1 0h1m4 0h1m6 0h1m1.5 0h1m-43.5 0.5h1m1 0h1m-0.5 0h1m0 0h1m6 0h1m2 0h1m0 0h1m1.5 0h1m2.5 0h1m-0.5 0h1m0 0h1m0.5 0h1m0.5 0h1m-1 0h1m0 0h1m-0.5 0h1m-1 0h1m-0.5 0h1m-1 0h1m-0.5 0h1m-0.5 0h1m-0.5 0h1m0 0h1m2 0h1m-1 0h1m-0.5 0h1m0 0h1m0.5 0h1m-0.5 0h1m2.5 0h1m-46.5 0.5h1m5.5 0h1m0 0h1m3 0h1m-1 0h1m-0.5 0h1m-0.5 0h1m1 0h1m-0.5 0h1m0 0h1m-0.5 0h1m1.5 0h1m-1 0h1m-0.5 0h1m0.5 0h1m-0.5 0h1m0 0h1m-0.5 0h1m0 0h1m0 0h1m-0.5 0h1m-0.5 0h1m1.5 0h1m-0.5 0h1m0 0h1m1 0h1m0.5 0h1m0 0h1m-1 0h1m-1 0h1m-0.5 0h1m-0.5 0h1m0 0h1m0.5 0h1m3.5 0h1m0.5 0h1m2 0h1m-45 0.5h1m2 0h1m-0.5 0h1m-0.5 0h1m3.5 0h1m-1 0h1m3.5 0h1m0 0h1m0 0h1m-0.5 0h1m-0.5 0h1m0.5 0h1m1.5 0h1m-1 0h1m-1 0h1m-0.5 0h1m-0.5 0h1m-1 0h1m-0.5 0h1m-1 0h1m0.5 0h1m-1 0h1m0 0h1m-0.5 0h1m-0.5 0h1m-0.5 0h1m0 0h1m-0.5 0h1m-1 0h1m2 0h1m-1 0h1m-0.5 0h1m-1 0h1m-0.5 0h1m0 0h1m-1 0h1m0.5 0h1m-0.5 0h1m0 0h1m0.5 0h1m7.5 0h1m-42 0.5h1m1 0h1m1.5 0h1m1.5 0h1m-1 0h1m0 0h1m1.5 0h1m-0.5 0h1m-1 0h1m4 0h1m-0.5 0h1m-1 0h1m-1 0h1m-1 0h1m-0.5 0h1m0.5 0h1m-0.5 0h1m-0.5 0h1m-0.5 0h1m-0.5 0h1m0 0h1m-1 0h1m-0.5 0h1m0 0h1m-1 0h1m-0.5 0h1m0 0h1m-0.5 0h1m-0.5 0h1m-1 0h1m-0.5 0h1m-0.5 0h1m-0.5 0h1m-0.5 0h1m-1 0h1m-0.5 0h1m-1 0h1m-0.5 0h1m0 0h1m0 0h1m-0.5 0h1m-0.5 0h1m-1 0h1m-0.5 0h1m-1 0h1m0.5 0h1m0 0h1m-0.5 0h1m-1 0h1m-0.5 0h1m1.5 0h1m-0.5 0h1m1.5 0h1m-1 0h1m-45 0.5h1m1 0h1m0.5 0h1m-0.5 0h1m1.5 0h1m0.5 0h1m-1 0h1m1.5 0h1m-0.5 0h1m-1 0h1m-0.5 0h1m-0.5 0h1m-0.5 0h1m-0.5 0h1m-1 0h1m-1 0h1m-1 0h1m-0.5 0h1m0 0h1m0.5 0h1m-1 0h1m-0.5 0h1m0 0h1m-1 0h1m-1 0h1m-0.5 0h1m-0.5 0h1m-1 0h1m-0.5 0h1m-1 0h1m-1 0h1m0 0h1m-0.5 0h1m-1 0h1m-1 0h1m-1 0h1m-0.5 0h1m0.5 0h1m-1 0h1m-1 0h1m-0.5 0h1m-1 0h1m-0.5 0h1m-0.5 0h1m-1 0h1m0 0h1m-1 0h1m-0.5 0h1m-1 0h1m-1 0h1m0 0h1m-1 0h1m-1 0h1m0 0h1m-0.5 0h1m-1 0h1m-0.5 0h1m0.5 0h1m-0.5 0h1m0 0h1m0 0h1m-0.5 0h1m-1 0h1m-0.5 0h1m0 0h1m-0.5 0h1m-0.5 0h1m1 0h1m0.5 0h1m1 0h1m-0.5 0h1m-0.5 0h1m0.5 0h1m-1 0h1m10 0h1m-54 0.5h1m1 0h1m0.5 0h1m-0.5 0h1m0 0h1m0 0h1m-0.5 0h1m0 0h1m0 0h1m-0.5 0h1m-0.5 0h1m-0.5 0h1m-1 0h1m-1 0h1m0.5 0h1m0.5 0h1m-0.5 0h1m0 0h1m-0.5 0h1m-0.5 0h1m-0.5 0h1m-1 0h1m-1 0h1m-0.5 0h1m-1 0h1m-1 0h1m-0.5 0h1m-0.5 0h1m0.5 0h1m-1 0h1m0.5 0h1m-1 0h1m-0.5 0h1m0 0h1m-1 0h1m-0.5 0h1m-1 0h1m-1 0h1m-0.5 0h1m-0.5 0h1m-0.5 0h1m-0.5 0h1m-1 0h1m-1 0h1m-1 0h1m0.5 0h1m-1 0h1m-1 0h1m-0.5 0h1m-1 0h1m-0.5 0h1m-1 0h1m0 0h1m-1 0h1m-1 0h1m-0.5 0h1m-1 0h1m-1 0h1m-0.5 0h1m-1 0h1m-1 0h1m-0.5 0h1m-1 0h1m-0.5 0h1m-0.5 0h1m0.5 0h1m0 0h1m0 0h1m-0.5 0h1m-0.5 0h1m-0.5 0h1m0.5 0h1m0.5 0h1m1.5 0h1m-1 0h1m0 0h1m-0.5 0h1m-45.5 0.5h1m1 0h1m-0.5 0h1m0 0h1m2 0h1m0 0h1m-1 0h1m-0.5 0h1m0.5 0h1m0 0h1m-0.5 0h1m-1 0h1m-1 0h1m-0.5 0h1m-1 0h1m0.5 0h1m-0.5 0h1m-0.5 0h1m0 0h1m0.5 0h1m-0.5 0h1m-0.5 0h1m-0.5 0h1m0.5 0h1m-1 0h1m-1 0h1m-0.5 0h1m-0.5 0h1m-0.5 0h1m-0.5 0h1m-1 0h1m-0.5 0h1m-0.5 0h1m0 0h1m-0.5 0h1m-0.5 0h1m-1 0h1m-0.5 0h1m-0.5 0h1m-0.5 0h1m-0.5 0h1m-1 0h1m-1 0h1m-0.5 0h1m0 0h1m-1 0h1m-0.5 0h1m-1 0h1m-0.5 0h1m-1 0h1m-1 0h1m-0.5 0h1m0.5 0h1m-0.5 0h1m-1 0h1m0 0h1m-1 0h1m-0.5 0h1m-1 0h1m-0.5 0h1m0 0h1m-1 0h1m-1 0h1m-0.5 0h1m-0.5 0h1m0 0h1m-1 0h1m0 0h1m-1 0h1m-1 0h1m-1 0h1m-0.5 0h1m0 0h1m-0.5 0h1m1 0h1m1.5 0h1m-47.5 0.5h1m2 0h1m1.5 0h1m2.5 0h1m1 0h1m-1 0h1m-1 0h1m-0.5 0h1m-0.5 0h1m-1 0h1m0 0h1m-1 0h1m-0.5 0h1m-0.5 0h1m0 0h1m-0.5 0h1m0.5 0h1m-1 0h1m-0.5 0h1m-0.5 0h1m0 0h1m0 0h1m-1 0h1m-0.5 0h1m-1 0h1m-1 0h1m-1 0h1m0 0h1m0 0h1m-1 0h1m-0.5 0h1m-1 0h1m-1 0h1m-0.5 0h1m-1 0h1m-1 0h1m-0.5 0h1m-0.5 0h1m-1 0h1m-1 0h1m0 0h1m-1 0h1m-1 0h1m-1 0h1m-0.5 0h1m-1 0h1m0 0h1m-1 0h1m-0.5 0h1m-1 0h1m-0.5 0h1m-0.5 0h1m-0.5 0h1m0.5 0h1m-1 0h1m-1 0h1m-0.5 0h1m-1 0h1m-1 0h1m-1 0h1m-0.5 0h1m-1 0h1m-0.5 0h1m-0.5 0h1m-0.5 0h1m-0.5 0h1m-0.5 0h1m-0.5 0h1m-0.5 0h1m0.5 0h1m-1 0h1m0 0h1m0 0h1m0 0h1m-0.5 0h1m-1 0h1m1 0h1m-1 0h1m1.5 0h1m3.5 0h1m-51 0.5h1m1 0h1m3.5 0h1m0 0h1m-0.5 0h1m-0.5 0h1m-1 0h1m0 0h1m-1 0h1m0 0h1m-1 0h1m0 0h1m-0.5 0h1m-1 0h1m-0.5 0h1m-0.5 0h1m-0.5 0h1m-0.5 0h1m-1 0h1m-1 0h1m-1 0h1m-1 0h1m0 0h1m0 0h1m-0.5 0h1m-0.5 0h1m-1 0h1m-1 0h1m-0.5 0h1m0.5 0h1m-0.5 0h1m1 0h1m-0.5 0h1m-0.5 0h1m-1 0h1m0 0h1m-1 0h1m-1 0h1m0 0h1m-1 0h1m-1 0h1m-0.5 0h1m-0.5 0h1m-1 0h1m-1 0h1m1 0h1m-1 0h1m-0.5 0h1m-1 0h1m-0.5 0h1m-0.5 0h1m-0.5 0h1m-1 0h1m-1 0h1m-1 0h1m0 0h1m-1 0h1m-0.5 0h1m-1 0h1m-1 0h1m-0.5 0h1m-1 0h1m1.5 0h1m0 0h1m0 0h1m-1 0h1m0 0h1m-0.5 0h1m-0.5 0h1m-0.5 0h1m-0.5 0h1m-1 0h1m-0.5 0h1m-0.5 0h1m-1 0h1m-1 0h1m1 0h1m-1 0h1m-0.5 0h1m-1 0h1m-0.5 0h1m-0.5 0h1m-1 0h1m2 0h1m1 0h1m-49 0.5h1m2.5 0h1m0 0h1m-0.5 0h1m3.5 0h1m0 0h1m0.5 0h1m-0.5 0h1m-0.5 0h1m0.5 0h1m-0.5 0h1m0 0h1m-1 0h1m-1 0h1m-0.5 0h1m-0.5 0h1m-1 0h1m-0.5 0h1m-1 0h1m-0.5 0h1m-1 0h1m-0.5 0h1m-1 0h1m-0.5 0h1m-1 0h1m-0.5 0h1m-1 0h1m-0.5 0h1m-1 0h1m-0.5 0h1m-1 0h1m-0.5 0h1m-1 0h1m-1 0h1m-1 0h1m-1 0h1m-1 0h1m-0.5 0h1m-0.5 0h1m-1 0h1m-1 0h1m-0.5 0h1m1 0h1m-0.5 0h1m-1 0h1m-1 0h1m-0.5 0h1m-1 0h1m-1 0h1m-1 0h1m-0.5 0h1m-1 0h1m-0.5 0h1m-0.5 0h1m-1 0h1m-1 0h1m-0.5 0h1m-1 0h1m-1 0h1m-0.5 0h1m-0.5 0h1m-1 0h1m-1 0h1m0 0h1m-1 0h1m-1 0h1m-0.5 0h1m-1 0h1m-0.5 0h1m-1 0h1m-1 0h1m-0.5 0h1m-1 0h1m-0.5 0h1m-1 0h1m-1 0h1m-0.5 0h1m-1 0h1m-0.5 0h1m-1 0h1m-0.5 0h1m-1 0h1m-0.5 0h1m-1 0h1m-0.5 0h1m-0.5 0h1m-1 0h1m-1 0h1m-1 0h1m-0.5 0h1m-1 0h1m-0.5 0h1m-0.5 0h1m-0.5 0h1m-0.5 0h1m-0.5 0h1m0 0h1m-1 0h1m0 0h1m0.5 0h1m0 0h1m-0.5 0h1m0 0h1m0 0h1m1.5 0h1m-1 0h1m-0.5 0h1m1 0h1m1 0h1m5 0h1m-57 0.5h1m0 0h1m-0.5 0h1m2.5 0h1m-0.5 0h1m-1 0h1m-0.5 0h1m0 0h1m-0.5 0h1m-0.5 0h1m-0.5 0h1m2 0h1m-1 0h1m0.5 0h1m-1 0h1m-1 0h1m1.5 0h1m-1 0h1m-1 0h1m-0.5 0h1m0 0h1m-0.5 0h1m-0.5 0h1m-1 0h1m-1 0h1m0 0h1m0 0h1m-1 0h1m-1 0h1m-1 0h1m-1 0h1m-1 0h1m-0.5 0h1m-1 0h1m0 0h1m-1 0h1m-0.5 0h1m-1 0h1m-0.5 0h1m-1 0h1m-1 0h1m-0.5 0h1m-0.5 0h1m-1 0h1m-1 0h1m-1 0h1m-1 0h1m-0.5 0h1m-1 0h1m-1 0h1m-0.5 0h1m-1 0h1m-0.5 0h1m-1 0h1m-1 0h1m-1 0h1m-1 0h1m-1 0h1m-1 0h1m-0.5 0h1m-1 0h1m-0.5 0h1m-0.5 0h1m-0.5 0h1m-1 0h1m-1 0h1m-0.5 0h1m-1 0h1m-0.5 0h1m-1 0h1m-1 0h1m-1 0h1m-0.5 0h1m-1 0h1m-1 0h1m-1 0h1m-1 0h1m-0.5 0h1m-1 0h1m0 0h1m-0.5 0h1m-1 0h1m-0.5 0h1m-0.5 0h1m-1 0h1m-1 0h1m-0.5 0h1m-1 0h1m-0.5 0h1m0 0h1m-1 0h1m-1 0h1m-0.5 0h1m0 0h1m-1 0h1m0 0h1m-1 0h1m-0.5 0h1m-0.5 0h1m-1 0h1m-0.5 0h1m-1 0h1m-0.5 0h1m-1 0h1m-0.5 0h1m-1 0h1m0 0h1m-1 0h1m0 0h1m-1 0h1m0 0h1m-0.5 0h1m0 0h1m-0.5 0h1m1.5 0h1m1.5 0h1m-47 0.5h1m-0.5 0h1m-0.5 0h1m-1 0h1m-0.5 0h1m0 0h1m-0.5 0h1m-0.5 0h1m0 0h1m0.5 0h1m-0.5 0h1m-0.5 0h1m-1 0h1m0.5 0h1m-0.5 0h1m-1 0h1m-0.5 0h1m-1 0h1m0.5 0h1m-0.5 0h1m-1 0h1m0.5 0h1m-1 0h1m0 0h1m-1 0h1m-1 0h1m-1 0h1m-0.5 0h1m-0.5 0h1m-1 0h1m-1 0h1m-0.5 0h1m-1 0h1m-0.5 0h1m-1 0h1m-0.5 0h1m-1 0h1m-1 0h1m-0.5 0h1m-1 0h1m-1 0h1m-0.5 0h1m-0.5 0h1m-1 0h1m-0.5 0h1m-0.5 0h1m-1 0h1m-0.5 0h1m-1 0h1m-0.5 0h1m-1 0h1m-0.5 0h1m-1 0h1m-1 0h1m-1 0h1m-0.5 0h1m-0.5 0h1m-1 0h1m-0.5 0h1m-0.5 0h1m-1 0h1m0 0h1m-1 0h1m-1 0h1m-1 0h1m-1 0h1m-1 0h1m-1 0h1m-0.5 0h1m-1 0h1m-1 0h1m-1 0h1m-1 0h1m-0.5 0h1m-1 0h1m-0.5 0h1m-1 0h1m-1 0h1m-0.5 0h1m-1 0h1m-0.5 0h1m-1 0h1m-1 0h1m-0.5 0h1m-1 0h1m-0.5 0h1m-0.5 0h1m-1 0h1m-1 0h1m-1 0h1m-0.5 0h1m-0.5 0h1m-1 0h1m-1 0h1m-0.5 0h1m-1 0h1m-1 0h1m-0.5 0h1m-1 0h1m-0.5 0h1m-1 0h1m-1 0h1m-1 0h1m-0.5 0h1m-1 0h1m-1 0h1m-1 0h1m-0.5 0h1m-1 0h1m-1 0h1m-1 0h1m-1 0h1m-1 0h1m-1 0h1m-0.5 0h1m-1 0h1m-0.5 0h1m-1 0h1m-1 0h1m-0.5 0h1m-1 0h1m-1 0h1m-1 0h1m-1 0h1m-0.5 0h1m-1 0h1m-1 0h1m-0.5 0h1m-1 0h1m-1 0h1m-0.5 0h1m-0.5 0h1m-1 0h1m0 0h1m-0.5 0h1m-1 0h1m-1 0h1m-0.5 0h1m-1 0h1m0 0h1m-1 0h1m1 0h1m0 0h1m0.5 0h1m-0.5 0h1m-48.5 0.5h1m6 0h1m-0.5 0h1m-0.5 0h1m-0.5 0h1m0 0h1m-0.5 0h1m-1 0h1m0 0h1m1 0h1m0.5 0h1m-1 0h1m-1 0h1m0 0h1m-1 0h1m-0.5 0h1m0 0h1m-1 0h1m0 0h1m-1 0h1m-1 0h1m-0.5 0h1m-1 0h1m-0.5 0h1m-1 0h1m-1 0h1m-1 0h1m-0.5 0h1m-1 0h1m-0.5 0h1m-0.5 0h1m0 0h1m-1 0h1m-0.5 0h1m-1 0h1m-1 0h1m-1 0h1m-1 0h1m-1 0h1m-0.5 0h1m-0.5 0h1m-0.5 0h1m-0.5 0h1m-0.5 0h1m-1 0h1m-0.5 0h1m-1 0h1m-0.5 0h1m-1 0h1m-1 0h1m-0.5 0h1m-1 0h1m-0.5 0h1m-1 0h1m-1 0h1m-0.5 0h1m-1 0h1m-1 0h1m-1 0h1m-0.5 0h1m-0.5 0h1m-1 0h1m-1 0h1m-1 0h1m-0.5 0h1m-1 0h1m-1 0h1m-1 0h1m-1 0h1m-0.5 0h1m-0.5 0h1m-0.5 0h1m-1 0h1m-0.5 0h1m-1 0h1m-0.5 0h1m-1 0h1m-0.5 0h1m-1 0h1m-0.5 0h1m-1 0h1m-1 0h1m-1 0h1m0.5 0h1m-1 0h1m-1 0h1m-0.5 0h1m-0.5 0h1m-1 0h1m-1 0h1m-1 0h1m-1 0h1m-1 0h1m-1 0h1m-1 0h1m-0.5 0h1m-1 0h1m-1 0h1m-0.5 0h1m-1 0h1m-1 0h1m-1 0h1m0 0h1m0 0h1m-1 0h1m-1 0h1m-1 0h1m-0.5 0h1m-1 0h1m-1 0h1m-0.5 0h1m-0.5 0h1m-1 0h1m0 0h1m-0.5 0h1m-1 0h1m-1 0h1m-0.5 0h1m0.5 0h1m-1 0h1m-1 0h1m-1 0h1m-0.5 0h1m-0.5 0h1m-1 0h1m-1 0h1m0 0h1m0 0h1m0 0h1m0 0h1m1 0h1m-0.5 0h1m0 0h1m-51 0.5h1m0 0h1m-0.5 0h1m1 0h1m3.5 0h1m0 0h1m-0.5 0h1m-0.5 0h1m1 0h1m-1 0h1m-0.5 0h1m-0.5 0h1m-0.5 0h1m0 0h1m-1 0h1m-1 0h1m-1 0h1m-0.5 0h1m-1 0h1m-1 0h1m-1 0h1m-0.5 0h1m0 0h1m-0.5 0h1m-1 0h1m-1 0h1m-0.5 0h1m-1 0h1m-0.5 0h1m-1 0h1m0 0h1m-1 0h1m-1 0h1m-0.5 0h1m-1 0h1m-0.5 0h1m-1 0h1m-1 0h1m-0.5 0h1m-0.5 0h1m-1 0h1m-0.5 0h1m-1 0h1m-1 0h1m-1 0h1m0 0h1m-1 0h1m-1 0h1m-0.5 0h1m-1 0h1m-0.5 0h1m-1 0h1m-0.5 0h1m-1 0h1m-1 0h1m-0.5 0h1m-1 0h1m-1 0h1m-1 0h1m-1 0h1m-0.5 0h1m-1 0h1m-1 0h1m-1 0h1m-1 0h1m-0.5 0h1m-1 0h1m-1 0h1m-1 0h1m-0.5 0h1m-0.5 0h1m-1 0h1m-1 0h1m-1 0h1m-1 0h1m-0.5 0h1m-0.5 0h1m-1 0h1m-1 0h1m-1 0h1m-1 0h1m-0.5 0h1m-0.5 0h1m-1 0h1m-1 0h1m-1 0h1m-1 0h1m-0.5 0h1m-0.5 0h1m-1 0h1m-0.5 0h1m-1 0h1m-0.5 0h1m-1 0h1m-0.5 0h1m-1 0h1m-1 0h1m-1 0h1m-0.5 0h1m-1 0h1m-1 0h1m-1 0h1m-1 0h1m-0.5 0h1m-1 0h1m-0.5 0h1m-1 0h1m-1 0h1m-0.5 0h1m-1 0h1m-0.5 0h1m-0.5 0h1m-0.5 0h1m-0.5 0h1m-1 0h1m-0.5 0h1m-0.5 0h1m-0.5 0h1m-1 0h1m-0.5 0h1m-1 0h1m-0.5 0h1m-0.5 0h1m-1 0h1m-1 0h1m-0.5 0h1m-1 0h1m0.5 0h1m-1 0h1m-0.5 0h1m-1 0h1m-1 0h1m0.5 0h1m0.5 0h1m0 0h1m0.5 0h1m-1 0h1m-0.5 0h1m-0.5 0h1m-1 0h1m5.5 0h1m-53.5 0.5h1m0.5 0h1m-0.5 0h1m2.5 0h1m-1 0h1m0 0h1m-0.5 0h1m-1 0h1m0 0h1m-0.5 0h1m-1 0h1m0 0h1m0 0h1m-1 0h1m-0.5 0h1m-0.5 0h1m-0.5 0h1m0 0h1m-1 0h1m-1 0h1m-0.5 0h1m-0.5 0h1m-1 0h1m0 0h1m-1 0h1m0 0h1m-0.5 0h1m-1 0h1m-1 0h1m-1 0h1m0 0h1m-1 0h1m-0.5 0h1m-0.5 0h1m-0.5 0h1m-1 0h1m-1 0h1m-0.5 0h1m-1 0h1m-0.5 0h1m-1 0h1m-0.5 0h1m-1 0h1m-1 0h1m-1 0h1m-1 0h1m-1 0h1m-1 0h1m0 0h1m-1 0h1m-1 0h1m-1 0h1m-0.5 0h1m-1 0h1m-1 0h1m-0.5 0h1m-1 0h1m-1 0h1m-1 0h1m-0.5 0h1m-0.5 0h1m-0.5 0h1m-1 0h1m-1 0h1m-0.5 0h1m-1 0h1m-1 0h1m-1 0h1m-0.5 0h1m-1 0h1m-1 0h1m-0.5 0h1m-1 0h1m-1 0h1m-0.5 0h1m-0.5 0h1m-1 0h1m-1 0h1m-1 0h1m-1 0h1m-0.5 0h1m-1 0h1m-0.5 0h1m-1 0h1m-0.5 0h1m-1 0h1m-0.5 0h1m-1 0h1m-1 0h1m-1 0h1m-1 0h1m-0.5 0h1m-1 0h1m-1 0h1m-0.5 0h1m-1 0h1m-1 0h1m-1 0h1m-0.5 0h1m-1 0h1m-1 0h1m-1 0h1m-1 0h1m-0.5 0h1m-1 0h1m-1 0h1m-1 0h1m0 0h1m-1 0h1m-0.5 0h1m-1 0h1m-1 0h1m-1 0h1m-1 0h1m-1 0h1m-1 0h1m-0.5 0h1m-1 0h1m-0.5 0h1m-1 0h1m-1 0h1m-1 0h1m-1 0h1m-0.5 0h1m-1 0h1m-1 0h1m-0.5 0h1m-1 0h1m-0.5 0h1m-1 0h1m-0.5 0h1m-0.5 0h1m-1 0h1m-1 0h1m-0.5 0h1m-1 0h1m-0.5 0h1m-0.5 0h1m-0.5 0h1m-1 0h1m-0.5 0h1m0 0h1m-1 0h1m-0.5 0h1m-1 0h1m-1 0h1m-1 0h1m-0.5 0h1m0 0h1m-1 0h1m-0.5 0h1m0 0h1m1 0h1m1.5 0h1m0 0h1m2.5 0h1m-1 0h1m-50.5 0.5h1m1.5 0h1m0 0h1m-0.5 0h1m0.5 0h1m0.5 0h1m0 0h1m-0.5 0h1m-0.5 0h1m-0.5 0h1m-1 0h1m0.5 0h1m-0.5 0h1m-1 0h1m-1 0h1m-0.5 0h1m-1 0h1m-0.5 0h1m-0.5 0h1m-1 0h1m-0.5 0h1m-1 0h1m-0.5 0h1m-1 0h1m-1 0h1m-0.5 0h1m-1 0h1m-0.5 0h1m-1 0h1m-1 0h1m-0.5 0h1m-1 0h1m-0.5 0h1m-0.5 0h1m-1 0h1m-1 0h1m-1 0h1m-0.5 0h1m-1 0h1m-0.5 0h1m-0.5 0h1m-1 0h1m0 0h1m-1 0h1m-1 0h1m-0.5 0h1m-0.5 0h1m-1 0h1m-1 0h1m-1 0h1m-0.5 0h1m-1 0h1m-1 0h1m-1 0h1m-1 0h1m-1 0h1m-0.5 0h1m-1 0h1m-1 0h1m-1 0h1m-1 0h1m-1 0h1m-1 0h1m-0.5 0h1m-1 0h1m-0.5 0h1m-0.5 0h1m-0.5 0h1m-1 0h1m-0.5 0h1m-1 0h1m-0.5 0h1m-1 0h1m-1 0h1m-1 0h1m-0.5 0h1m-1 0h1m-1 0h1m-0.5 0h1m-1 0h1m-1 0h1m-1 0h1m-0.5 0h1m-1 0h1m-1 0h1m-1 0h1m-1 0h1m0.5 0h1m-1 0h1m-1 0h1m-0.5 0h1m-1 0h1m-0.5 0h1m-1 0h1m-1 0h1m-0.5 0h1m-1 0h1m-1 0h1m-1 0h1m-0.5 0h1m-1 0h1m-1 0h1m0 0h1m-1 0h1m-1 0h1m-0.5 0h1m-1 0h1m-1 0h1m-1 0h1m-0.5 0h1m-1 0h1m-1 0h1m-1 0h1m-0.5 0h1m-0.5 0h1m-0.5 0h1m-1 0h1m-0.5 0h1m-1 0h1m-0.5 0h1m-1 0h1m-1 0h1m-1 0h1m-1 0h1m-1 0h1m-0.5 0h1m0 0h1m-1 0h1m-1 0h1m-1 0h1m-0.5 0h1m-1 0h1m-0.5 0h1m-1 0h1m-1 0h1m-1 0h1m-0.5 0h1m-0.5 0h1m-1 0h1m1 0h1m-0.5 0h1m0 0h1m1 0h1m-0.5 0h1m1 0h1m0.5 0h1m-47.5 0.5h1m1 0h1m-0.5 0h1m0 0h1m-1 0h1m0 0h1m0 0h1m0 0h1m0.5 0h1m-0.5 0h1m-1 0h1m-1 0h1m0.5 0h1m-1 0h1m-0.5 0h1m-1 0h1m-0.5 0h1m-1 0h1m0 0h1m-1 0h1m-0.5 0h1m-1 0h1m-1 0h1m-1 0h1m-1 0h1m-0.5 0h1m-0.5 0h1m0 0h1m-1 0h1m0.5 0h1m-1 0h1m-1 0h1m-1 0h1m-0.5 0h1m-0.5 0h1m-1 0h1m-1 0h1m0 0h1m-0.5 0h1m-0.5 0h1m-1 0h1m-1 0h1m-1 0h1m-0.5 0h1m-1 0h1m-1 0h1m-1 0h1m-0.5 0h1m-1 0h1m0 0h1m-1 0h1m-0.5 0h1m-1 0h1m-1 0h1m-0.5 0h1m-0.5 0h1m-1 0h1m-1 0h1m-1 0h1m-0.5 0h1m-0.5 0h1m-1 0h1m-1 0h1m-0.5 0h1m-1 0h1m-0.5 0h1m-1 0h1m-0.5 0h1m-1 0h1m-1 0h1m-0.5 0h1m-1 0h1m-1 0h1m-0.5 0h1m-1 0h1m0 0h1m-1 0h1m-1 0h1m-0.5 0h1m-1 0h1m-0.5 0h1m-0.5 0h1m-1 0h1m-0.5 0h1m0 0h1m-1 0h1m-1 0h1m-0.5 0h1m-1 0h1m-0.5 0h1m-1 0h1m-1 0h1m-1 0h1m-0.5 0h1m-0.5 0h1m-1 0h1m-1 0h1m-1 0h1m-0.5 0h1m-0.5 0h1m-1 0h1m-1 0h1m-1 0h1m-0.5 0h1m-1 0h1m-1 0h1m-0.5 0h1m-0.5 0h1m-1 0h1m0 0h1m-0.5 0h1m-1 0h1m-1 0h1m-1 0h1m-0.5 0h1m-1 0h1m0 0h1m-0.5 0h1m-0.5 0h1m-1 0h1m0 0h1m0.5 0h1m-0.5 0h1m-0.5 0h1m-0.5 0h1m-0.5 0h1m-45.5 0.5h1m-0.5 0h1m-0.5 0h1m-0.5 0h1m0.5 0h1m1.5 0h1m-1 0h1m0 0h1m1 0h1m0 0h1m-0.5 0h1m-1 0h1m-0.5 0h1m-1 0h1m-1 0h1m-1 0h1m-1 0h1m-0.5 0h1m-1 0h1m-1 0h1m-1 0h1m-1 0h1m-1 0h1m-0.5 0h1m-1 0h1m-0.5 0h1m-1 0h1m-0.5 0h1m0 0h1m-1 0h1m-1 0h1m-0.5 0h1m-0.5 0h1m-1 0h1m-1 0h1m-0.5 0h1m-0.5 0h1m-1 0h1m-1 0h1m-0.5 0h1m-1 0h1m-0.5 0h1m-1 0h1m0 0h1m-1 0h1m-1 0h1m-0.5 0h1m0 0h1m-0.5 0h1m-1 0h1m-0.5 0h1m-1 0h1m-1 0h1m-0.5 0h1m-1 0h1m-1 0h1m-0.5 0h1m-1 0h1m-1 0h1m-0.5 0h1m-1 0h1m-1 0h1m-0.5 0h1m-1 0h1m-1 0h1m-0.5 0h1m-1 0h1m1.5 0h1m-1 0h1m-1 0h1m-1 0h1m-0.5 0h1m-0.5 0h1m-0.5 0h1m-1 0h1m-0.5 0h1m-0.5 0h1m-1 0h1m-0.5 0h1m-0.5 0h1m0 0h1m-1 0h1m-0.5 0h1m-1 0h1m-1 0h1m-0.5 0h1m-1 0h1m-1 0h1m-1 0h1m-1 0h1m-0.5 0h1m-1 0h1m-1 0h1m-0.5 0h1m-1 0h1m-0.5 0h1m-1 0h1m-1 0h1m-0.5 0h1m-1 0h1m-0.5 0h1m-0.5 0h1m-1 0h1m-1 0h1m-1 0h1m-0.5 0h1m-1 0h1m-1 0h1m-1 0h1m-0.5 0h1m-1 0h1m-0.5 0h1m-1 0h1m-0.5 0h1m0 0h1m-1 0h1m-0.5 0h1m-1 0h1m-0.5 0h1m-1 0h1m0 0h1m-1 0h1m0.5 0h1m-0.5 0h1m-0.5 0h1m1.5 0h1m0 0h1m0.5 0h1m0 0h1m2 0h1m-50.5 0.5h1m0 0h1m0.5 0h1m-1 0h1m-1 0h1m-1 0h1m1 0h1m-0.5 0h1m0.5 0h1m0 0h1m0 0h1m-1 0h1m-0.5 0h1m0 0h1m-1 0h1m-1 0h1m-0.5 0h1m-0.5 0h1m0 0h1m-1 0h1m-1 0h1m-0.5 0h1m-1 0h1m-1 0h1m-0.5 0h1m-1 0h1m-0.5 0h1m-1 0h1m-0.5 0h1m-1 0h1m-0.5 0h1m-1 0h1m-1 0h1m-0.5 0h1m-1 0h1m-0.5 0h1m-1 0h1m-0.5 0h1m-1 0h1m-0.5 0h1m-1 0h1m-1 0h1m-0.5 0h1m-0.5 0h1m0 0h1m-1 0h1m-0.5 0h1m-1 0h1m-1 0h1m-1 0h1m-1 0h1m-1 0h1m-1 0h1m-1 0h1m-0.5 0h1m-1 0h1m-0.5 0h1m-1 0h1m-1 0h1m-1 0h1m-1 0h1m-0.5 0h1m-1 0h1m0 0h1m-1 0h1m-0.5 0h1m-1 0h1m-1 0h1m-1 0h1m-1 0h1m-1 0h1m-1 0h1m-0.5 0h1m-1 0h1m-1 0h1m0 0h1m-1 0h1m-1 0h1m-0.5 0h1m-1 0h1m0 0h1m-0.5 0h1m-1 0h1m-1 0h1m-0.5 0h1m-1 0h1m0 0h1m-1 0h1m-0.5 0h1m-1 0h1m-1 0h1m0 0h1m-0.5 0h1m-1 0h1m-0.5 0h1m-0.5 0h1m-1 0h1m-0.5 0h1m-0.5 0h1m-0.5 0h1m-1 0h1m-1 0h1m-0.5 0h1m-1 0h1m-1 0h1m-0.5 0h1m0 0h1m-0.5 0h1m-1 0h1m-0.5 0h1m-0.5 0h1m-1 0h1m-0.5 0h1m-1 0h1m-1 0h1m-0.5 0h1m-0.5 0h1m-0.5 0h1m-0.5 0h1m-0.5 0h1m-1 0h1m-1 0h1m-0.5 0h1m-0.5 0h1m-1 0h1m-1 0h1m-0.5 0h1m0.5 0h1m-1 0h1m-1 0h1m-1 0h1m-0.5 0h1m0 0h1m0 0h1m-1 0h1m0.5 0h1m0 0h1m-45.5 0.5h1m-0.5 0h1m1.5 0h1m0 0h1m1 0h1m-0.5 0h1m-1 0h1m-0.5 0h1m-0.5 0h1m-0.5 0h1m-1 0h1m0.5 0h1m-0.5 0h1m-1 0h1m0.5 0h1m-0.5 0h1m-1 0h1m-0.5 0h1m-0.5 0h1m-1 0h1m-0.5 0h1m-0.5 0h1m-0.5 0h1m-1 0h1m-0.5 0h1m-1 0h1m-1 0h1m-0.5 0h1m-1 0h1m-0.5 0h1m-1 0h1m-1 0h1m-0.5 0h1m-1 0h1m-1 0h1m-0.5 0h1m-1 0h1m-1 0h1m-0.5 0h1m-1 0h1m-1 0h1m-0.5 0h1m-0.5 0h1m-1 0h1m-0.5 0h1m-1 0h1m-1 0h1m-0.5 0h1m-1 0h1m0 0h1m-0.5 0h1m-0.5 0h1m-1 0h1m-1 0h1m-1 0h1m-1 0h1m-1 0h1m-0.5 0h1m-1 0h1m-0.5 0h1m-1 0h1m-1 0h1m-0.5 0h1m-1 0h1m-1 0h1m-0.5 0h1m-1 0h1m-0.5 0h1m-1 0h1m-1 0h1m-1 0h1m-1 0h1m-0.5 0h1m-1 0h1m-1 0h1m-1 0h1m-1 0h1m-0.5 0h1m-1 0h1m-0.5 0h1m-1 0h1m-1 0h1m-1 0h1m-0.5 0h1m-1 0h1m-1 0h1m-1 0h1m-1 0h1m-0.5 0h1m-1 0h1m-1 0h1m-1 0h1m-1 0h1m-0.5 0h1m-0.5 0h1m-0.5 0h1m-1 0h1m-0.5 0h1m-1 0h1m-0.5 0h1m-1 0h1m-0.5 0h1m-1 0h1m-0.5 0h1m-1 0h1m-1 0h1m-0.5 0h1m-1 0h1m-1 0h1m-1 0h1m-0.5 0h1m-1 0h1m-1 0h1m-1 0h1m-1 0h1m-0.5 0h1m-1 0h1m-1 0h1m-0.5 0h1m-1 0h1m-0.5 0h1m-1 0h1m-0.5 0h1m-1 0h1m-1 0h1m-1 0h1m-1 0h1m-0.5 0h1m-1 0h1m-1 0h1m-1 0h1m0 0h1m-1 0h1m-1 0h1m-0.5 0h1m-1 0h1m-0.5 0h1m-1 0h1m-0.5 0h1m-1 0h1m0 0h1m-0.5 0h1m-1 0h1m-0.5 0h1m-1 0h1m0 0h1m-1 0h1m-0.5 0h1m-1 0h1m0 0h1m-0.5 0h1m0 0h1m-1 0h1m-0.5 0h1m0.5 0h1m-1 0h1m1.5 0h1m3 0h1m-55.5 0.5h1m6 0h1m0 0h1m-0.5 0h1m-0.5 0h1m-1 0h1m0.5 0h1m-0.5 0h1m-0.5 0h1m-1 0h1m-0.5 0h1m-1 0h1m-0.5 0h1m-1 0h1m-0.5 0h1m-1 0h1m-0.5 0h1m-0.5 0h1m-0.5 0h1m-1 0h1m-0.5 0h1m-1 0h1m0 0h1m-1 0h1m-1 0h1m-1 0h1m-0.5 0h1m-1 0h1m-0.5 0h1m-0.5 0h1m-0.5 0h1m-1 0h1m-1 0h1m0 0h1m-1 0h1m0 0h1m-1 0h1m-1 0h1m-0.5 0h1m-1 0h1m-0.5 0h1m-0.5 0h1m-0.5 0h1m-0.5 0h1m-0.5 0h1m-0.5 0h1m-0.5 0h1m-1 0h1m-1 0h1m-0.5 0h1m-1 0h1m-1 0h1m-0.5 0h1m-1 0h1m-1 0h1m-0.5 0h1m-1 0h1m-1 0h1m-1 0h1m0.5 0h1m-0.5 0h1m-1 0h1m-0.5 0h1m-1 0h1m-0.5 0h1m-1 0h1m-1 0h1m-0.5 0h1m-1 0h1m0 0h1m-1 0h1m-1 0h1m-0.5 0h1m-1 0h1m-0.5 0h1m-1 0h1m-0.5 0h1m-1 0h1m-0.5 0h1m-1 0h1m1 0h1m-0.5 0h1m-1 0h1m-1 0h1m-0.5 0h1m-1 0h1m-0.5 0h1m-0.5 0h1m-1 0h1m-1 0h1m-1 0h1m-1 0h1m-0.5 0h1m-1 0h1m-1 0h1m-0.5 0h1m-1 0h1m-0.5 0h1m-1 0h1m-1 0h1m-0.5 0h1m-1 0h1m-1 0h1m-0.5 0h1m-1 0h1m-0.5 0h1m-1 0h1m0 0h1m0 0h1m0 0h1m1 0h1m-1 0h1m-1 0h1m-0.5 0h1m-0.5 0h1m0 0h1m-0.5 0h1m-0.5 0h1m-0.5 0h1m-0.5 0h1m4 0h1m-52 0.5h1m0.5 0h1m-0.5 0h1m-0.5 0h1m1 0h1m1 0h1m-0.5 0h1m-1 0h1m-1 0h1m1 0h1m-1 0h1m-0.5 0h1m-0.5 0h1m-1 0h1m-0.5 0h1m-1 0h1m-0.5 0h1m-0.5 0h1m-1 0h1m-0.5 0h1m-1 0h1m-1 0h1m-1 0h1m0.5 0h1m-1 0h1m-0.5 0h1m-0.5 0h1m-0.5 0h1m-0.5 0h1m-1 0h1m-0.5 0h1m-1 0h1m-0.5 0h1m-1 0h1m-1 0h1m-1 0h1m0 0h1m-1 0h1m0.5 0h1m-1 0h1m-0.5 0h1m-0.5 0h1m-0.5 0h1m-0.5 0h1m-1 0h1m-0.5 0h1m-1 0h1m-1 0h1m-1 0h1m-1 0h1m-1 0h1m-1 0h1m0 0h1m0 0h1m-0.5 0h1m-1 0h1m-0.5 0h1m-1 0h1m-1 0h1m-0.5 0h1m-1 0h1m-0.5 0h1m0 0h1m-1 0h1m-1 0h1m-1 0h1m-0.5 0h1m-1 0h1m-1 0h1m-1 0h1m-0.5 0h1m-1 0h1m-0.5 0h1m-1 0h1m-0.5 0h1m-1 0h1m-1 0h1m-0.5 0h1m-1 0h1m-1 0h1m-1 0h1m-0.5 0h1m-1 0h1m-1 0h1m-1 0h1m-1 0h1m-0.5 0h1m-1 0h1m-1 0h1m-1 0h1m-0.5 0h1m-1 0h1m-1 0h1m-1 0h1m-0.5 0h1m-0.5 0h1m-1 0h1m0.5 0h1m-0.5 0h1m-0.5 0h1m-1 0h1m-1 0h1m-1 0h1m0 0h1m-1 0h1m-1 0h1m-0.5 0h1m-0.5 0h1m-1 0h1m-1 0h1m-1 0h1m-0.5 0h1m-1 0h1m-0.5 0h1m0.5 0h1m-1 0h1m-0.5 0h1m-1 0h1m0.5 0h1m-1 0h1m-1 0h1m-0.5 0h1m1 0h1m-1 0h1m0 0h1m0 0h1m-1 0h1m-1 0h1m0.5 0h1m1 0h1m-0.5 0h1m4 0h1m-55.5 0.5h1m0 0h1m1 0h1m-0.5 0h1m0.5 0h1m-0.5 0h1m-0.5 0h1m0 0h1m0 0h1m-0.5 0h1m-0.5 0h1m-1 0h1m-0.5 0h1m-0.5 0h1m0 0h1m-0.5 0h1m-1 0h1m-1 0h1m-0.5 0h1m0 0h1m-1 0h1m0 0h1m-1 0h1m-1 0h1m-0.5 0h1m-0.5 0h1m-0.5 0h1m1.5 0h1m0 0h1m-1 0h1m-1 0h1m-0.5 0h1m-1 0h1m-0.5 0h1m-1 0h1m-1 0h1m-0.5 0h1m-0.5 0h1m-1 0h1m-0.5 0h1m-0.5 0h1m-1 0h1m-1 0h1m-1 0h1m-0.5 0h1m-1 0h1m-0.5 0h1m-1 0h1m-1 0h1m-0.5 0h1m-0.5 0h1m-1 0h1m-0.5 0h1m-1 0h1m-0.5 0h1m-1 0h1m-1 0h1m-1 0h1m-0.5 0h1m0 0h1m-1 0h1m-0.5 0h1m-1 0h1m-0.5 0h1m-0.5 0h1m-1 0h1m-0.5 0h1m-1 0h1m-0.5 0h1m-1 0h1m-1 0h1m-0.5 0h1m-0.5 0h1m-0.5 0h1m-1 0h1m-0.5 0h1m-0.5 0h1m-1 0h1m-0.5 0h1m-1 0h1m-0.5 0h1m-1 0h1m0 0h1m-1 0h1m-1 0h1m-0.5 0h1m-1 0h1m-1 0h1m-0.5 0h1m0 0h1m-1 0h1m-0.5 0h1m-0.5 0h1m-0.5 0h1m-1 0h1m-1 0h1m-1 0h1m-0.5 0h1m-1 0h1m-1 0h1m0.5 0h1m-1 0h1m0 0h1m-0.5 0h1m0.5 0h1m-0.5 0h1m-1 0h1m1 0h1m1.5 0h1m-1 0h1m2.5 0h1m-48 0.5h1m1 0h1m-0.5 0h1m0 0h1m0 0h1m-1 0h1m-0.5 0h1m-1 0h1m-0.5 0h1m-1 0h1m0.5 0h1m-0.5 0h1m-0.5 0h1m-0.5 0h1m-0.5 0h1m-1 0h1m-0.5 0h1m-1 0h1m-1 0h1m-1 0h1m-1 0h1m-1 0h1m-0.5 0h1m-1 0h1m-1 0h1m-0.5 0h1m-0.5 0h1m-1 0h1m-0.5 0h1m0.5 0h1m-1 0h1m-1 0h1m-0.5 0h1m-1 0h1m-0.5 0h1m-0.5 0h1m-1 0h1m-1 0h1m-0.5 0h1m-1 0h1m-0.5 0h1m-0.5 0h1m-1 0h1m-0.5 0h1m-1 0h1m0 0h1m-1 0h1m-1 0h1m-0.5 0h1m-1 0h1m-1 0h1m-1 0h1m-0.5 0h1m-1 0h1m0 0h1m-1 0h1m-1 0h1m0 0h1m-0.5 0h1m-1 0h1m-0.5 0h1m-1 0h1m-0.5 0h1m-1 0h1m-1 0h1m-1 0h1m-1 0h1m-0.5 0h1m0 0h1m-1 0h1m-1 0h1m0 0h1m-1 0h1m-1 0h1m-0.5 0h1m-0.5 0h1m-1 0h1m-0.5 0h1m0 0h1m-0.5 0h1m-1 0h1m-1 0h1m-1 0h1m-0.5 0h1m-0.5 0h1m-0.5 0h1m-0.5 0h1m-1 0h1m-1 0h1m-1 0h1m-1 0h1m-0.5 0h1m0.5 0h1m-1 0h1m-0.5 0h1m-0.5 0h1m0 0h1m-0.5 0h1m-1 0h1m0 0h1m-1 0h1m-1 0h1m-0.5 0h1m-1 0h1m0.5 0h1m-0.5 0h1m-0.5 0h1m-0.5 0h1m0 0h1m-0.5 0h1m2.5 0h1m0.5 0h1m1 0h1m-48.5 0.5h1m2.5 0h1m-1 0h1m-0.5 0h1m-0.5 0h1m-1 0h1m0.5 0h1m-0.5 0h1m-0.5 0h1m-0.5 0h1m-0.5 0h1m-0.5 0h1m-1 0h1m-1 0h1m-0.5 0h1m-0.5 0h1m-1 0h1m1.5 0h1m-0.5 0h1m-1 0h1m-0.5 0h1m-1 0h1m-1 0h1m-0.5 0h1m-0.5 0h1m-0.5 0h1m-1 0h1m-1 0h1m-1 0h1m-0.5 0h1m0 0h1m-0.5 0h1m-1 0h1m-1 0h1m0 0h1m-0.5 0h1m-0.5 0h1m-0.5 0h1m-1 0h1m-1 0h1m-0.5 0h1m-0.5 0h1m-1 0h1m-0.5 0h1m-1 0h1m-1 0h1m-0.5 0h1m0 0h1m-1 0h1m-0.5 0h1m-0.5 0h1m-1 0h1m-1 0h1m0.5 0h1m-0.5 0h1m-0.5 0h1m-1 0h1m-1 0h1m-0.5 0h1m-0.5 0h1m-0.5 0h1m-1 0h1m-0.5 0h1m-1 0h1m-1 0h1m-1 0h1m-0.5 0h1m-1 0h1m-0.5 0h1m0 0h1m-1 0h1m-1 0h1m0.5 0h1m-1 0h1m-0.5 0h1m-0.5 0h1m-0.5 0h1m-0.5 0h1m-0.5 0h1m0.5 0h1m1.5 0h1m1 0h1m-0.5 0h1m0 0h1m-1 0h1m-0.5 0h1m1 0h1m2 0h1m4 0h1m-56 0.5h1m5 0h1m-0.5 0h1m-0.5 0h1m1.5 0h1m-0.5 0h1m0 0h1m-0.5 0h1m-0.5 0h1m-0.5 0h1m-0.5 0h1m-0.5 0h1m0 0h1m-1 0h1m0.5 0h1m-1 0h1m-1 0h1m-0.5 0h1m-1 0h1m-1 0h1m-0.5 0h1m0 0h1m-0.5 0h1m0 0h1m-0.5 0h1m-0.5 0h1m-1 0h1m-0.5 0h1m-1 0h1m-0.5 0h1m-1 0h1m-0.5 0h1m-1 0h1m-1 0h1m-0.5 0h1m0 0h1m-0.5 0h1m-1 0h1m-0.5 0h1m-1 0h1m-0.5 0h1m-0.5 0h1m-1 0h1m-0.5 0h1m0 0h1m-0.5 0h1m0 0h1m0.5 0h1m-0.5 0h1m-1 0h1m-0.5 0h1m-1 0h1m-1 0h1m-1 0h1m-0.5 0h1m-0.5 0h1m-0.5 0h1m-1 0h1m0 0h1m-1 0h1m0.5 0h1m0 0h1m-1 0h1m0 0h1m-1 0h1m1 0h1m-0.5 0h1m-0.5 0h1m-1 0h1m-0.5 0h1m0 0h1m0 0h1m1.5 0h1m2.5 0h1m0.5 0h1m-1 0h1m-50.5 0.5h1m0.5 0h1m1.5 0h1m-1 0h1m-0.5 0h1m-1 0h1m0 0h1m-1 0h1m0 0h1m1 0h1m0 0h1m2.5 0h1m-0.5 0h1m-0.5 0h1m-0.5 0h1m-0.5 0h1m-1 0h1m0 0h1m0 0h1m-1 0h1m-0.5 0h1m0 0h1m-0.5 0h1m-0.5 0h1m0 0h1m-0.5 0h1m-1 0h1m0 0h1m1 0h1m-0.5 0h1m-1 0h1m-1 0h1m-1 0h1m-0.5 0h1m-0.5 0h1m-1 0h1m-0.5 0h1m-1 0h1m-0.5 0h1m-0.5 0h1m-0.5 0h1m-0.5 0h1m-0.5 0h1m-1 0h1m0 0h1m-0.5 0h1m0 0h1m-1 0h1m-0.5 0h1m-1 0h1m-1 0h1m-0.5 0h1m1 0h1m-1 0h1m-0.5 0h1m-1 0h1m-1 0h1m0 0h1m-1 0h1m-1 0h1m-1 0h1m-1 0h1m1 0h1m-0.5 0h1m-0.5 0h1m-1 0h1m-1 0h1m-1 0h1m-0.5 0h1m1 0h1m-1 0h1m-0.5 0h1m-0.5 0h1m-0.5 0h1m10.5 0h1m-56 0.5h1m-0.5 0h1m4.5 0h1m-1 0h1m1 0h1m1 0h1m-0.5 0h1m2 0h1m0.5 0h1m0.5 0h1m-0.5 0h1m-0.5 0h1m-1 0h1m-1 0h1m-1 0h1m-1 0h1m-0.5 0h1m-1 0h1m0.5 0h1m0 0h1m-0.5 0h1m0 0h1m0 0h1m-1 0h1m-0.5 0h1m-0.5 0h1m-1 0h1m0 0h1m-0.5 0h1m-1 0h1m-1 0h1m-1 0h1m-1 0h1m-0.5 0h1m-1 0h1m-0.5 0h1m-0.5 0h1m0 0h1m-0.5 0h1m-0.5 0h1m-1 0h1m-1 0h1m-0.5 0h1m0 0h1m-1 0h1m-0.5 0h1m0 0h1m-0.5 0h1m-0.5 0h1m-1 0h1m0.5 0h1m-0.5 0h1m-0.5 0h1m-0.5 0h1m0.5 0h1m-1 0h1m0.5 0h1m-1 0h1m0 0h1m-0.5 0h1m-1 0h1m-1 0h1m0 0h1m0 0h1m-1 0h1m9 0h1m-53 0.5h1m-0.5 0h1m-0.5 0h1m3 0h1m1 0h1m-1 0h1m-1 0h1m-0.5 0h1m0.5 0h1m1 0h1m-1 0h1m-0.5 0h1m0.5 0h1m0.5 0h1m-0.5 0h1m-1 0h1m-0.5 0h1m-1 0h1m0 0h1m0.5 0h1m0.5 0h1m-0.5 0h1m-1 0h1m-0.5 0h1m-0.5 0h1m0.5 0h1m0 0h1m-1 0h1m-1 0h1m-0.5 0h1m-1 0h1m-0.5 0h1m-1 0h1m-1 0h1m-0.5 0h1m0.5 0h1m-0.5 0h1m-1 0h1m1 0h1m-0.5 0h1m-0.5 0h1m-0.5 0h1m-1 0h1m-0.5 0h1m-0.5 0h1m-0.5 0h1m2.5 0h1m1 0h1m2 0h1m0 0h1m0 0h1m0.5 0h1m1 0h1m-1 0h1m2 0h1m1.5 0h1m-0.5 0h1m-47.5 0.5h1m0 0h1m4.5 0h1m0.5 0h1m0 0h1m-0.5 0h1m1.5 0h1m-1 0h1m0 0h1m3 0h1m-0.5 0h1m-0.5 0h1m1.5 0h1m0 0h1m-1 0h1m-0.5 0h1m-1 0h1m-0.5 0h1m4 0h1m-0.5 0h1m-1 0h1m7.5 0h1m-0.5 0h1m1 0h1m2 0h1m11.5 0h1m-58 0.5h1m3.5 0h1m0 0h1m0.5 0h1m2 0h1m-1 0h1m-0.5 0h1m-0.5 0h1m-0.5 0h1m-1 0h1m1.5 0h1m-1 0h1m1 0h1m-1 0h1m0.5 0h1m0.5 0h1m0 0h1m1 0h1m0.5 0h1m1 0h1m-0.5 0h1m0 0h1m0 0h1m-0.5 0h1m0.5 0h1m1 0h1m-1 0h1m0 0h1m-0.5 0h1m0 0h1m0.5 0h1m-0.5 0h1m-27.5 0.5h1m-0.5 0h1m0 0h1m2 0h1m-1 0h1m7 0h1m-1 0h1m-0.5 0h1m0.5 0h1m-1 0h1m1.5 0h1m-1 0h1m0.5 0h1m0.5 0h1m1 0h1m4 0h1m3 0h1m6.5 0h1m-52 0.5h1m6 0h1m2 0h1m0 0h1m3 0h1m0 0h1m0 0h1m-0.5 0h1m1 0h1m1 0h1m-0.5 0h1m1 0h1m-1 0h1m1 0h1m-0.5 0h1m0 0h1m2 0h1m-1 0h1m0 0h1m-0.5 0h1m2.5 0h1m0 0h1m-1 0h1m-0.5 0h1m2 0h1m-0.5 0h1m-37 0.5h1m0.5 0h1m-1 0h1m-0.5 0h1m1.5 0h1m6.5 0h1m1.5 0h1m-0.5 0h1m-0.5 0h1m0 0h1m2.5 0h1m0.5 0h1m-1 0h1m5.5 0h1m5 0h1m0 0h1m-30 0.5h1m0 0h1m-0.5 0h1m1 0h1m1 0h1m3 0h1m2 0h1m0.5 0h1m-1 0h1m-0.5 0h1m5 0h1m1.5 0h1m2.5 0h1m3 0h1m-28 0.5h1m1.5 0h1m4 0h1m4 0h1m-0.5 0h1m-0.5 0h1m-1 0h1m1.5 0h1m2.5 0h1m8.5 0h1m1.5 0h1m-38.5 0.5h1m3 0h1m2 0h1m1 0h1m0 0h1m1.5 0h1m9.5 0h1m0 0h1m17.5 0h1m-36 0.5h1m-0.5 0h1m-1 0h1m-0.5 0h1m5 0h1m1.5 0h1m-0.5 0h1m-1 0h1m-0.5 0h1m2 0h1m-0.5 0h1m-22.5 0.5h1m3.5 0h1m0.5 0h1m10.5 0h1m0.5 0h1m-23 0.5h1m9 0h1m3 0h1m4 0h1m0 0h1m4 0h1m2 0h1m0 0h1m1 0h1m-34.5 0.5h1m6.5 0h1m3.5 0h1m14 0h1m6 0h1m2 0h1m-27.5 0.5h1m6 0h1m14 0h1m-20.5 0.5h1m3.5 0h1m13.5 0h1m4 0h1m-24 0.5h1m0.5 0h1m6 0h1m0.5 0h1m-3 0.5h1m4 0h1m5 0h1m-27.5 0.5h1m11 0h1m5 0h1m2 0h1m-0.5 0h1m0.5 0h1m4 0h1m-15.5 0.5h1m2.5 0h1m0.5 0h1m3.5 0h1m-0.5 0h1m1.5 0h1m7 0h1m-21 0.5h1m3 0h1m1.5 0h1m5 0h1m-14 0.5h1m5 0h1m1 0h1m-0.5 0h1m1 0h1m-14 0.5h1m2 0h1m1 0h1m-0.5 0h1m1 0h1m2.5 0h1m1.5 0h1m-17 0.5h1m2.5 0h1m1.5 0h1m8 0h1m-14.5 0.5h1m-0.5 0h1m2 0h1m0 0h1m-1 0h1m-0.5 0h1m1 0h1m2.5 0h1m-1 0h1m-12.5 0.5h1m1 0h1m1 0h1m0 0h1m0.5 0h1m-14.5 0.5h1m2 0h1m0 0h1m4.5 0h1m4 0h1m-0.5 0h1m0.5 0h1m-1 0h1m-0.5 0h1m-8.5 0.5h1m2.5 0h1m4 0h1m0 0h1m3 0h1m-25 0.5h1m7 0h1m3 0h1m0.5 0h1m3.5 0h1m1.5 0h1m1.5 0h1m1.5 0h1m-19 0.5h1m7 0h1m5 0h1m-0.5 0h1m-0.5 0h1m1.5 0h1m0 0h1m8 0h1m-23 0.5h1m2 0h1m2 0h1m-1 0h1m0.5 0h1m0 0h1m-1 0h1m0 0h1m1.5 0h1m-1 0h1m-19.5 0.5h1m1.5 0h1m3 0h1m0 0h1m2.5 0h1m1 0h1m2 0h1m2 0h1m-15 0.5h1m2.5 0h1m0 0h1m-1 0h1m-0.5 0h1m5.5 0h1m-0.5 0h1m10 0h1m-30.5 0.5h1m5.5 0h1m-0.5 0h1m0 0h1m1.5 0h1m-1 0h1m-1 0h1m-0.5 0h1m6 0h1m-0.5 0h1m-12.5 0.5h1m0.5 0h1m1.5 0h1m0.5 0h1m0.5 0h1m-1 0h1m-1 0h1m-1 0h1m-0.5 0h1m6 0h1m0 0h1m2 0h1m-22 0.5h1m0.5 0h1m3 0h1m3.5 0h1m0.5 0h1m-0.5 0h1m0 0h1m0.5 0h1m-0.5 0h1m4 0h1m-16.5 0.5h1m-1 0h1m1 0h1m1 0h1m-1 0h1m-0.5 0h1m-0.5 0h1m0 0h1m4 0h1m-13 0.5h1m0 0h1m4.5 0h1m1.5 0h1m1 0h1m-1 0h1m2 0h1m1 0h1m-23.5 0.5h1m1.5 0h1m5 0h1m-1 0h1m0.5 0h1m-1 0h1m-0.5 0h1m1 0h1m0.5 0h1m-0.5 0h1m0 0h1m1 0h1m0 0h1m1.5 0h1m-25 0.5h1m1 0h1m6 0h1m-0.5 0h1m0.5 0h1m0 0h1m-0.5 0h1m0.5 0h1m1 0h1m-1 0h1m4 0h1m-1 0h1m-18 0.5h1m2.5 0h1m0.5 0h1m1 0h1m1.5 0h1m0 0h1m0.5 0h1m-11 0.5h1m4.5 0h1m2.5 0h1m-0.5 0h1m0 0h1m0 0h1m-1 0h1m0 0h1m0 0h1m-12 0.5h1m-0.5 0h1m0.5 0h1m1 0h1m1.5 0h1m2.5 0h1m1 0h1m-0.5 0h1m-1 0h1m0 0h1m-18.5 0.5h1m2.5 0h1m1.5 0h1m0 0h1m1.5 0h1m1 0h1m0 0h1m4 0h1m-0.5 0h1m-21.5 0.5h1m8.5 0h1m0.5 0h1m-0.5 0h1m1.5 0h1m-8.5 0.5h1m1.5 0h1m1 0h1m-5 0.5h1m0 0h1m3 0h1m5 0h1m8 0h1m-21.5 0.5h1m3.5 0h1m-0.5 0h1m1 0h1m1 0h1m-16 0.5h1m6.5 0h1m-1 0h1m-1 0h1m2 0h1m1 0h1m0 0h1m0 0h1m0 0h1m5 0h1m-15.5 0.5h1m4 0h1m-0.5 0.5h1m-7 0.5h1m15.5 0h1m-10.5 1h1m-5.5 0.5h1" stroke="#000" stroke-opacity="0.6" stroke-width="1" fill="none" filter="url(#bl)"/>
<rect x="139" y="199.7" width="23.15" height="12.1" fill="#fff"/>
<rect x="186.85" y="199.7" width="22.95" height="12.1" fill="#fff"/>
<rect x="139" y="261.36" width="24.05" height="10.84" fill="#fff"/>
<rect x="186.85" y="261.36" width="22.95" height="10.84" fill="#fff"/>
<rect x="138.2" y="199.1" width="72.4" height="73.7" fill="none" stroke="#a8a8a8" stroke-width="1.1"/>
<path d="M139.4 200.1V272.8M138.2 271.6H209.6" stroke="#c8c8c8" stroke-width="1" stroke-dasharray="1 2" fill="none"/>
<path d="M160.2 272.8H189.2" stroke="#8a8a8a" stroke-width="1" fill="none"/>
<path d="M160.5 199.1V272.8M138.2 253.3H210.6" stroke="#555" stroke-width="1.3" fill="none"/>
<text transform="translate(139.7 209.8) scale(1.02 1)" font-size="10.2" text-anchor="start">23.9</text>
<text transform="translate(209.3 209.8) scale(1.02 1)" font-size="10.2" text-anchor="end">72.1</text>
<text transform="translate(140.6 271.1) scale(1.02 1)" font-size="10.2" text-anchor="start">1.66</text>
<text transform="translate(209.3 271.1) scale(1.02 1)" font-size="10.2" text-anchor="end">2.31</text>
<path d="M131.8 273.4l1 0.7l2.6-1.8M131.8 254.97l1 0.7l2.6-1.8M131.8 236.55l1 0.7l2.6-1.8M131.8 218.12l1 0.7l2.6-1.8M131.8 199.7l1 0.7l2.6-1.8M136 277.1l1 0.8l2.8-1.9M154.1 277.1l1 0.8l2.8-1.9M172.2 277.1l1 0.8l2.8-1.9M190.3 277.1l1 0.8l2.8-1.9M208.4 277.1l1 0.8l2.8-1.9" stroke="#8a8a8a" stroke-width="1.0" fill="none"/>
<ellipse cx="75" cy="326" rx="5" ry="6.5" fill="#000"/><ellipse cx="64" cy="347" rx="5.5" ry="7.5" fill="#000"/>
<path d="M51.5 293.5h1m48 5h1m5 1h1m-30.5 7.5h1m-6.5 3h1m0 0h1m0 0.5h1m2 1h1m0.5 0h1m-28.5 0.5h1m14.5 0h1m-1 0h1m2.5 0h1m0.5 0h1m11 0h1m-13.5 1h1m1.5 0.5h1m6.5 0h1m-24 0.5h1m3.5 0h1m6 0h1m0 0h1m2 0h1m-0.5 0h1m0.5 0h1m2.5 0h1m0.5 0h1m-13 0.5h1m0.5 0h1m-0.5 0h1m1 0h1m-0.5 0h1m2 0h1m-0.5 0h1m-1 0h1m-19 0.5h1m6 0h1m2 0h1m0 0h1m0 0h1m6.5 0h1m-21.5 0.5h1m6 0h1m4 0h1m4.5 0h1m1 0h1m0 0h1m-12 0.5h1m-0.5 0h1m1 0h1m1 0h1m0 0h1m-0.5 0h1m0.5 0h1m0.5 0h1m-17 0.5h1m4 0h1m1.5 0h1m-0.5 0h1m-1 0h1m1.5 0h1m1 0h1m1.5 0h1m-1 0h1m-0.5 0h1m1 0h1m-0.5 0h1m0 0h1m-17 0.5h1m-0.5 0h1m4.5 0h1m0.5 0h1m0 0h1m0 0h1m-1 0h1m1 0h1m-0.5 0h1m0.5 0h1m0.5 0h1m3.5 0h1m-29.5 0.5h1m8 0h1m2 0h1m1 0h1m0 0h1m-1 0h1m1.5 0h1m-0.5 0h1m0 0h1m-0.5 0h1m-0.5 0h1m1.5 0h1m5.5 0h1m-22.5 0.5h1m1.5 0h1m1 0h1m0 0h1m0.5 0h1m-1 0h1m0.5 0h1m-1 0h1m0 0h1m-0.5 0h1m-0.5 0h1m-1 0h1m0 0h1m0.5 0h1m0 0h1m-0.5 0h1m-0.5 0h1m1 0h1m0 0h1m-1 0h1m-1 0h1m-1 0h1m-23 0.5h1m5 0h1m-0.5 0h1m-0.5 0h1m-0.5 0h1m0.5 0h1m-1 0h1m-1 0h1m-1 0h1m-1 0h1m0 0h1m-1 0h1m0 0h1m-0.5 0h1m-0.5 0h1m-1 0h1m-1 0h1m-1 0h1m0 0h1m0 0h1m-0.5 0h1m-1 0h1m0 0h1m0 0h1m-1 0h1m2 0h1m0.5 0h1m0.5 0h1m-0.5 0h1m-0.5 0h1m1 0h1m0 0h1m-31.5 0.5h1m2.5 0h1m4.5 0h1m-0.5 0h1m0 0h1m0.5 0h1m-0.5 0h1m0 0h1m-0.5 0h1m-1 0h1m0 0h1m-1 0h1m0 0h1m-0.5 0h1m-0.5 0h1m-0.5 0h1m-0.5 0h1m-0.5 0h1m0 0h1m-0.5 0h1m-0.5 0h1m0 0h1m-1 0h1m-1 0h1m0 0h1m-1 0h1m0 0h1m-0.5 0h1m-0.5 0h1m-0.5 0h1m0 0h1m0 0h1m0.5 0h1m-21 0.5h1m2.5 0h1m1 0h1m2 0h1m-1 0h1m-0.5 0h1m-1 0h1m-0.5 0h1m-1 0h1m0 0h1m-0.5 0h1m0 0h1m-0.5 0h1m-0.5 0h1m0.5 0h1m0.5 0h1m-21 0.5h1m0.5 0h1m5.5 0h1m-0.5 0h1m-1 0h1m-0.5 0h1m-0.5 0h1m-0.5 0h1m-0.5 0h1m0.5 0h1m-0.5 0h1m-1 0h1m-0.5 0h1m-0.5 0h1m-1 0h1m-1 0h1m-0.5 0h1m1 0h1m1 0h1m-1 0h1m-1 0h1m-0.5 0h1m-0.5 0h1m-1 0h1m0 0h1m0.5 0h1m-1 0h1m0 0h1m-1 0h1m0.5 0h1m0.5 0h1m2.5 0h1m-34.5 0.5h1m1 0h1m2 0h1m1.5 0h1m2 0h1m0 0h1m1.5 0h1m-0.5 0h1m1.5 0h1m-0.5 0h1m-1 0h1m-1 0h1m0.5 0h1m-1 0h1m-1 0h1m-0.5 0h1m-0.5 0h1m-1 0h1m0 0h1m-1 0h1m-0.5 0h1m0 0h1m-0.5 0h1m-1 0h1m-0.5 0h1m-0.5 0h1m0.5 0h1m7 0h1m-33 0.5h1m1 0h1m3.5 0h1m-1 0h1m-0.5 0h1m0 0h1m-1 0h1m0.5 0h1m-1 0h1m-1 0h1m-0.5 0h1m0 0h1m0 0h1m-0.5 0h1m-1 0h1m0.5 0h1m-0.5 0h1m-1 0h1m0 0h1m-1 0h1m-1 0h1m-1 0h1m-0.5 0h1m-1 0h1m-0.5 0h1m-0.5 0h1m-0.5 0h1m-0.5 0h1m0 0h1m-1 0h1m-0.5 0h1m-0.5 0h1m-1 0h1m-0.5 0h1m-1 0h1m-1 0h1m-0.5 0h1m-1 0h1m-1 0h1m1.5 0h1m0 0h1m0.5 0h1m0 0h1m-26 0.5h1m4.5 0h1m0.5 0h1m-1 0h1m-0.5 0h1m0.5 0h1m-1 0h1m-0.5 0h1m-0.5 0h1m-0.5 0h1m-0.5 0h1m0 0h1m-0.5 0h1m-1 0h1m-0.5 0h1m-0.5 0h1m0 0h1m-1 0h1m-1 0h1m-0.5 0h1m-0.5 0h1m-1 0h1m-1 0h1m-0.5 0h1m0 0h1m-1 0h1m-0.5 0h1m-0.5 0h1m-1 0h1m0.5 0h1m-1 0h1m-0.5 0h1m-1 0h1m-1 0h1m0 0h1m-0.5 0h1m-1 0h1m0 0h1m0 0h1m6 0h1m-29.5 0.5h1m-0.5 0h1m-0.5 0h1m1 0h1m4.5 0h1m-0.5 0h1m-0.5 0h1m0 0h1m-1 0h1m-1 0h1m-0.5 0h1m-0.5 0h1m-1 0h1m-1 0h1m-0.5 0h1m-1 0h1m-1 0h1m0.5 0h1m0 0h1m0 0h1m-0.5 0h1m-1 0h1m-0.5 0h1m-1 0h1m0.5 0h1m-0.5 0h1m0.5 0h1m-1 0h1m0.5 0h1m0 0h1m5 0h1m-0.5 0h1m-37 0.5h1m0.5 0h1m-0.5 0h1m1.5 0h1m1 0h1m1.5 0h1m-1 0h1m1.5 0h1m-1 0h1m-0.5 0h1m-1 0h1m0.5 0h1m-1 0h1m-1 0h1m1 0h1m0 0h1m-0.5 0h1m-1 0h1m-0.5 0h1m-1 0h1m-0.5 0h1m-1 0h1m-0.5 0h1m-1 0h1m-0.5 0h1m-0.5 0h1m-0.5 0h1m-1 0h1m-1 0h1m-0.5 0h1m-1 0h1m0 0h1m0 0h1m-0.5 0h1m0 0h1m-1 0h1m0 0h1m0 0h1m-0.5 0h1m-0.5 0h1m-0.5 0h1m-1 0h1m3 0h1m-1 0h1m0.5 0h1m-1 0h1m-33.5 0.5h1m6.5 0h1m0.5 0h1m0.5 0h1m0 0h1m-1 0h1m-0.5 0h1m-0.5 0h1m-0.5 0h1m0 0h1m-0.5 0h1m-1 0h1m-0.5 0h1m-1 0h1m0.5 0h1m-1 0h1m-1 0h1m-0.5 0h1m-1 0h1m0.5 0h1m-1 0h1m0.5 0h1m-1 0h1m-0.5 0h1m-0.5 0h1m-1 0h1m-1 0h1m-0.5 0h1m-1 0h1m-1 0h1m-0.5 0h1m-1 0h1m-0.5 0h1m-0.5 0h1m-1 0h1m-0.5 0h1m-1 0h1m-0.5 0h1m-1 0h1m0.5 0h1m0 0h1m-1 0h1m0 0h1m-1 0h1m-1 0h1m-0.5 0h1m-1 0h1m-0.5 0h1m0 0h1m1.5 0h1m-0.5 0h1m4.5 0h1m-38.5 0.5h1m5 0h1m2 0h1m1 0h1m-1 0h1m0 0h1m0 0h1m-1 0h1m0 0h1m-1 0h1m-1 0h1m-1 0h1m-0.5 0h1m-0.5 0h1m-0.5 0h1m-0.5 0h1m-1 0h1m-0.5 0h1m-1 0h1m0 0h1m-1 0h1m-1 0h1m-0.5 0h1m-1 0h1m-0.5 0h1m-0.5 0h1m-1 0h1m-1 0h1m-0.5 0h1m-0.5 0h1m-1 0h1m-0.5 0h1m-0.5 0h1m-1 0h1m-1 0h1m0 0h1m0 0h1m-1 0h1m-0.5 0h1m-1 0h1m-1 0h1m-0.5 0h1m-0.5 0h1m-1 0h1m-1 0h1m-1 0h1m0 0h1m-0.5 0h1m0 0h1m0.5 0h1m0.5 0h1m0 0h1m1.5 0h1m-30.5 0.5h1m0 0h1m-1 0h1m1.5 0h1m-1 0h1m1.5 0h1m-0.5 0h1m-1 0h1m0 0h1m-0.5 0h1m-0.5 0h1m1 0h1m-1 0h1m-0.5 0h1m-1 0h1m-0.5 0h1m-0.5 0h1m-1 0h1m-1 0h1m-0.5 0h1m-1 0h1m-0.5 0h1m-1 0h1m-1 0h1m-1 0h1m-1 0h1m-0.5 0h1m-1 0h1m-1 0h1m-0.5 0h1m-1 0h1m-1 0h1m-1 0h1m-0.5 0h1m-0.5 0h1m-1 0h1m-0.5 0h1m0 0h1m-1 0h1m-0.5 0h1m-0.5 0h1m0.5 0h1m-0.5 0h1m-1 0h1m-0.5 0h1m-0.5 0h1m-1 0h1m0.5 0h1m-0.5 0h1m0 0h1m-0.5 0h1m1.5 0h1m0 0h1m3 0h1m-33.5 0.5h1m1 0h1m0.5 0h1m-1 0h1m0 0h1m0.5 0h1m-0.5 0h1m0.5 0h1m1 0h1m-1 0h1m-0.5 0h1m0 0h1m-1 0h1m-1 0h1m-1 0h1m-0.5 0h1m-0.5 0h1m-1 0h1m-0.5 0h1m-1 0h1m-1 0h1m-1 0h1m-1 0h1m-0.5 0h1m-1 0h1m-1 0h1m-0.5 0h1m-1 0h1m-0.5 0h1m-1 0h1m-0.5 0h1m-1 0h1m-0.5 0h1m-1 0h1m-0.5 0h1m-1 0h1m-1 0h1m0 0h1m-0.5 0h1m-0.5 0h1m-1 0h1m-0.5 0h1m-0.5 0h1m-1 0h1m-0.5 0h1m-1 0h1m-1 0h1m-0.5 0h1m-1 0h1m-0.5 0h1m-1 0h1m-0.5 0h1m-1 0h1m0 0h1m0 0h1m0 0h1m-1 0h1m-0.5 0h1m0 0h1m-19.5 0.5h1m-0.5 0h1m-1 0h1m-1 0h1m-0.5 0h1m-0.5 0h1m-1 0h1m-1 0h1m-0.5 0h1m-1 0h1m-1 0h1m-1 0h1m-0.5 0h1m0 0h1m-1 0h1m-0.5 0h1m-0.5 0h1m-0.5 0h1m-0.5 0h1m-1 0h1m-0.5 0h1m-0.5 0h1m-1 0h1m-0.5 0h1m-0.5 0h1m-1 0h1m-1 0h1m-1 0h1m-0.5 0h1m0 0h1m-1 0h1m0.5 0h1m-1 0h1m-1 0h1m-1 0h1m-1 0h1m-0.5 0h1m-0.5 0h1m-1 0h1m-1 0h1m0 0h1m-1 0h1m-1 0h1m-0.5 0h1m-0.5 0h1m-0.5 0h1m-0.5 0h1m-0.5 0h1m-1 0h1m1 0h1m-0.5 0h1m-0.5 0h1m5 0h1m-32 0.5h1m-1 0h1m0 0h1m0 0h1m0 0h1m-1 0h1m-0.5 0h1m2 0h1m-0.5 0h1m-1 0h1m-1 0h1m0.5 0h1m-1 0h1m0 0h1m-1 0h1m-0.5 0h1m0 0h1m-1 0h1m-0.5 0h1m-1 0h1m-0.5 0h1m-1 0h1m-0.5 0h1m-0.5 0h1m-0.5 0h1m-1 0h1m-1 0h1m-1 0h1m0 0h1m1.5 0h1m-1 0h1m-0.5 0h1m-1 0h1m-1 0h1m0 0h1m-0.5 0h1m-0.5 0h1m-0.5 0h1m-1 0h1m-1 0h1m-1 0h1m-0.5 0h1m-1 0h1m-0.5 0h1m-0.5 0h1m-0.5 0h1m-0.5 0h1m-1 0h1m-1 0h1m-0.5 0h1m-1 0h1m0 0h1m1.5 0h1m-0.5 0h1m0.5 0h1m2 0h1m-36.5 0.5h1m5 0h1m0.5 0h1m0.5 0h1m1 0h1m-0.5 0h1m-1 0h1m-0.5 0h1m-0.5 0h1m0.5 0h1m0 0h1m-1 0h1m-0.5 0h1m-1 0h1m-0.5 0h1m-0.5 0h1m-1 0h1m-0.5 0h1m-0.5 0h1m-1 0h1m-1 0h1m-1 0h1m-0.5 0h1m-1 0h1m-0.5 0h1m-0.5 0h1m-0.5 0h1m-1 0h1m-1 0h1m-0.5 0h1m-1 0h1m-0.5 0h1m-1 0h1m-0.5 0h1m-0.5 0h1m-1 0h1m-0.5 0h1m-1 0h1m-0.5 0h1m-0.5 0h1m-1 0h1m-1 0h1m-0.5 0h1m-1 0h1m-1 0h1m-0.5 0h1m-1 0h1m-0.5 0h1m-0.5 0h1m-0.5 0h1m-1 0h1m-1 0h1m-0.5 0h1m-1 0h1m-0.5 0h1m-1 0h1m0 0h1m-1 0h1m-0.5 0h1m0 0h1m0.5 0h1m0 0h1m0 0h1m-1 0h1m-27.5 0.5h1m1 0h1m1.5 0h1m-1 0h1m-0.5 0h1m-1 0h1m-0.5 0h1m-0.5 0h1m-1 0h1m-0.5 0h1m-0.5 0h1m-0.5 0h1m-1 0h1m-1 0h1m-0.5 0h1m-0.5 0h1m-1 0h1m-0.5 0h1m-0.5 0h1m-1 0h1m-0.5 0h1m-0.5 0h1m-1 0h1m-1 0h1m-0.5 0h1m-1 0h1m-1 0h1m-1 0h1m-0.5 0h1m-1 0h1m-1 0h1m-0.5 0h1m-1 0h1m-1 0h1m-1 0h1m-0.5 0h1m-1 0h1m-1 0h1m-1 0h1m-1 0h1m-0.5 0h1m-1 0h1m-1 0h1m-0.5 0h1m-1 0h1m-1 0h1m-1 0h1m-0.5 0h1m-1 0h1m-1 0h1m-0.5 0h1m-0.5 0h1m-0.5 0h1m-0.5 0h1m-0.5 0h1m-0.5 0h1m-0.5 0h1m-1 0h1m-0.5 0h1m-1 0h1m-1 0h1m-0.5 0h1m-0.5 0h1m-1 0h1m0 0h1m-1 0h1m-1 0h1m-1 0h1m-0.5 0h1m-1 0h1m-0.5 0h1m0.5 0h1m-1 0h1m2 0h1m0.5 0h1m-36.5 0.5h1m4 0h1m1.5 0h1m0 0h1m-0.5 0h1m1.5 0h1m0.5 0h1m-0.5 0h1m0.5 0h1m0.5 0h1m-0.5 0h1m-0.5 0h1m-0.5 0h1m0 0h1m-1 0h1m-0.5 0h1m-1 0h1m-0.5 0h1m-1 0h1m-0.5 0h1m-1 0h1m-1 0h1m-1 0h1m-0.5 0h1m-0.5 0h1m-0.5 0h1m-1 0h1m-0.5 0h1m0 0h1m-0.5 0h1m-0.5 0h1m-1 0h1m-0.5 0h1m-1 0h1m-1 0h1m-1 0h1m-0.5 0h1m-0.5 0h1m-1 0h1m-0.5 0h1m-1 0h1m-1 0h1m-1 0h1m-1 0h1m-0.5 0h1m0 0h1m-0.5 0h1m0 0h1m-1 0h1m-1 0h1m0 0h1m-1 0h1m-0.5 0h1m2 0h1m0.5 0h1m-0.5 0h1m-31.5 0.5h1m-0.5 0h1m6 0h1m0 0h1m-1 0h1m-1 0h1m-1 0h1m-1 0h1m-0.5 0h1m-1 0h1m0 0h1m0 0h1m-1 0h1m0 0h1m-0.5 0h1m-1 0h1m-0.5 0h1m-0.5 0h1m-0.5 0h1m-1 0h1m-1 0h1m-1 0h1m-0.5 0h1m-1 0h1m-0.5 0h1m-1 0h1m-0.5 0h1m-1 0h1m-0.5 0h1m-0.5 0h1m-1 0h1m-1 0h1m-1 0h1m-0.5 0h1m-0.5 0h1m-1 0h1m-0.5 0h1m-1 0h1m-0.5 0h1m-0.5 0h1m-0.5 0h1m-0.5 0h1m-1 0h1m-1 0h1m-0.5 0h1m-1 0h1m-0.5 0h1m0 0h1m0 0h1m-0.5 0h1m-1 0h1m-0.5 0h1m-0.5 0h1m-1 0h1m-0.5 0h1m-1 0h1m-1 0h1m0 0h1m0.5 0h1m-34 0.5h1m3.5 0h1m3 0h1m-0.5 0h1m0 0h1m-0.5 0h1m-0.5 0h1m-0.5 0h1m0.5 0h1m0 0h1m-1 0h1m-0.5 0h1m-1 0h1m-1 0h1m-0.5 0h1m-0.5 0h1m-1 0h1m-0.5 0h1m-0.5 0h1m-1 0h1m-0.5 0h1m-1 0h1m-1 0h1m-1 0h1m-1 0h1m-0.5 0h1m-1 0h1m-1 0h1m0 0h1m-0.5 0h1m-1 0h1m-1 0h1m-0.5 0h1m-1 0h1m-1 0h1m-0.5 0h1m-0.5 0h1m-1 0h1m-0.5 0h1m0.5 0h1m-0.5 0h1m-1 0h1m-0.5 0h1m-0.5 0h1m-1 0h1m-1 0h1m-0.5 0h1m-0.5 0h1m-1 0h1m-0.5 0h1m-0.5 0h1m-1 0h1m0.5 0h1m-1 0h1m0 0h1m-0.5 0h1m-1 0h1m-0.5 0h1m-0.5 0h1m-0.5 0h1m0 0h1m0 0h1m-1 0h1m-0.5 0h1m-29 0.5h1m1.5 0h1m-0.5 0h1m-0.5 0h1m0 0h1m2 0h1m-0.5 0h1m-0.5 0h1m-1 0h1m-0.5 0h1m-1 0h1m-0.5 0h1m-0.5 0h1m-0.5 0h1m-1 0h1m-0.5 0h1m-1 0h1m-1 0h1m-0.5 0h1m-1 0h1m-0.5 0h1m-1 0h1m0.5 0h1m-1 0h1m-0.5 0h1m-0.5 0h1m-0.5 0h1m0 0h1m0 0h1m-1 0h1m-1 0h1m0 0h1m-1 0h1m-1 0h1m-1 0h1m-0.5 0h1m-0.5 0h1m-1 0h1m-1 0h1m0 0h1m-1 0h1m-1 0h1m-1 0h1m-0.5 0h1m-1 0h1m0 0h1m-0.5 0h1m-1 0h1m-1 0h1m-1 0h1m-1 0h1m-1 0h1m-0.5 0h1m-1 0h1m-1 0h1m-1 0h1m-0.5 0h1m-0.5 0h1m-1 0h1m0 0h1m-1 0h1m-0.5 0h1m-1 0h1m0 0h1m1 0h1m-29.5 0.5h1m6.5 0h1m0 0h1m-0.5 0h1m0 0h1m-1 0h1m0 0h1m0 0h1m-1 0h1m-0.5 0h1m-1 0h1m-0.5 0h1m-1 0h1m-1 0h1m-1 0h1m-1 0h1m0 0h1m-1 0h1m-1 0h1m-0.5 0h1m0 0h1m-1 0h1m-1 0h1m0 0h1m-1 0h1m-1 0h1m-0.5 0h1m-0.5 0h1m-0.5 0h1m-1 0h1m-0.5 0h1m-0.5 0h1m-1 0h1m-1 0h1m-0.5 0h1m-1 0h1m-1 0h1m-1 0h1m0 0h1m-1 0h1m-1 0h1m0 0h1m-1 0h1m-1 0h1m-0.5 0h1m0.5 0h1m0 0h1m-1 0h1m0 0h1m2.5 0h1m1 0h1m-30 0.5h1m1 0h1m0.5 0h1m0.5 0h1m1.5 0h1m-0.5 0h1m-1 0h1m-0.5 0h1m-0.5 0h1m-1 0h1m0 0h1m-0.5 0h1m0 0h1m-1 0h1m-1 0h1m0 0h1m-1 0h1m-0.5 0h1m-1 0h1m0 0h1m-1 0h1m-0.5 0h1m-1 0h1m-0.5 0h1m-0.5 0h1m0 0h1m-1 0h1m0 0h1m-1 0h1m-0.5 0h1m-0.5 0h1m-1 0h1m-1 0h1m-0.5 0h1m-1 0h1m-0.5 0h1m-1 0h1m-1 0h1m-0.5 0h1m-0.5 0h1m0.5 0h1m-0.5 0h1m0 0h1m0.5 0h1m0 0h1m-1 0h1m0 0h1m0 0h1m-31.5 0.5h1m6.5 0h1m0.5 0h1m0 0h1m-0.5 0h1m-0.5 0h1m0 0h1m-0.5 0h1m-1 0h1m-0.5 0h1m-1 0h1m0 0h1m-0.5 0h1m-1 0h1m-1 0h1m-0.5 0h1m-1 0h1m-0.5 0h1m-1 0h1m-0.5 0h1m-0.5 0h1m0 0h1m-0.5 0h1m0.5 0h1m-1 0h1m-1 0h1m-1 0h1m-0.5 0h1m-0.5 0h1m-0.5 0h1m-1 0h1m-1 0h1m0.5 0h1m-1 0h1m0.5 0h1m-1 0h1m0 0h1m-1 0h1m-1 0h1m-1 0h1m-1 0h1m-0.5 0h1m0 0h1m0.5 0h1m-1 0h1m1.5 0h1m-1 0h1m-28.5 0.5h1m0 0h1m1 0h1m1 0h1m-0.5 0h1m-1 0h1m-0.5 0h1m-0.5 0h1m-0.5 0h1m0 0h1m-0.5 0h1m-1 0h1m-0.5 0h1m-1 0h1m1 0h1m-1 0h1m1 0h1m-0.5 0h1m0 0h1m-1 0h1m0.5 0h1m-0.5 0h1m-1 0h1m-0.5 0h1m-0.5 0h1m-0.5 0h1m0 0h1m-0.5 0h1m-1 0h1m-1 0h1m-0.5 0h1m-0.5 0h1m0.5 0h1m-1 0h1m0 0h1m0 0h1m-0.5 0h1m0.5 0h1m2 0h1m-32.5 0.5h1m7.5 0h1m0.5 0h1m-1 0h1m0 0h1m-1 0h1m-0.5 0h1m-0.5 0h1m-0.5 0h1m-0.5 0h1m0.5 0h1m-1 0h1m-0.5 0h1m-0.5 0h1m-0.5 0h1m0 0h1m-1 0h1m-1 0h1m-1 0h1m-0.5 0h1m-0.5 0h1m-1 0h1m-0.5 0h1m-1 0h1m-1 0h1m-0.5 0h1m-0.5 0h1m-1 0h1m1 0h1m-0.5 0h1m0 0h1m-0.5 0h1m-1 0h1m-0.5 0h1m-1 0h1m-0.5 0h1m0 0h1m1.5 0h1m4.5 0h1m-0.5 0h1m-29.5 0.5h1m-0.5 0h1m-0.5 0h1m-0.5 0h1m0 0h1m0 0h1m1 0h1m-1 0h1m1 0h1m-0.5 0h1m0 0h1m-0.5 0h1m-0.5 0h1m-1 0h1m-1 0h1m-0.5 0h1m0 0h1m-1 0h1m-1 0h1m-0.5 0h1m1.5 0h1m-1 0h1m0.5 0h1m-0.5 0h1m-1 0h1m-0.5 0h1m0.5 0h1m-0.5 0h1m-1 0h1m-0.5 0h1m-1 0h1m-0.5 0h1m0 0h1m-23.5 0.5h1m1 0h1m-0.5 0h1m-0.5 0h1m-1 0h1m0.5 0h1m-0.5 0h1m-0.5 0h1m-1 0h1m-0.5 0h1m0.5 0h1m-1 0h1m-0.5 0h1m-1 0h1m0 0h1m0 0h1m-1 0h1m1 0h1m-0.5 0h1m-0.5 0h1m-0.5 0h1m-1 0h1m-0.5 0h1m-1 0h1m0 0h1m-0.5 0h1m0 0h1m-1 0h1m-1 0h1m-0.5 0h1m-0.5 0h1m-0.5 0h1m1.5 0h1m-1 0h1m1.5 0h1m0 0h1m-21.5 0.5h1m-0.5 0h1m1 0h1m-1 0h1m1 0h1m1.5 0h1m-1 0h1m-0.5 0h1m0 0h1m-1 0h1m-1 0h1m-0.5 0h1m0 0h1m-1 0h1m0 0h1m0.5 0h1m-1 0h1m1.5 0h1m-0.5 0h1m0 0h1m-0.5 0h1m0 0h1m2 0h1m-29.5 0.5h1m7.5 0h1m0 0h1m0 0h1m-1 0h1m1.5 0h1m-1 0h1m0 0h1m0.5 0h1m0.5 0h1m0 0h1m-0.5 0h1m-0.5 0h1m-0.5 0h1m0 0h1m-0.5 0h1m-1 0h1m4 0h1m-25 0.5h1m3 0h1m3.5 0h1m-1 0h1m2 0h1m0.5 0h1m0 0h1m0.5 0h1m0 0h1m0 0h1m0.5 0h1m0 0h1m-0.5 0h1m-1 0h1m-0.5 0h1m-0.5 0h1m2 0h1m2 0h1m1 0h1m-34.5 0.5h1m6 0h1m1 0h1m2.5 0h1m-1 0h1m-0.5 0h1m0 0h1m1.5 0h1m-1 0h1m-0.5 0h1m-1 0h1m0 0h1m0.5 0h1m0.5 0h1m-0.5 0h1m-1 0h1m-0.5 0h1m-0.5 0h1m0.5 0h1m-1 0h1m0 0h1m0 0h1m0 0h1m-1 0h1m3.5 0h1m2 0h1m-27.5 0.5h1m-1 0h1m4.5 0h1m-0.5 0h1m-0.5 0h1m0 0h1m-1 0h1m-0.5 0h1m-0.5 0h1m0.5 0h1m-1 0h1m-0.5 0h1m-1 0h1m-0.5 0h1m0 0h1m1.5 0h1m1 0h1m0 0h1m1.5 0h1m2.5 0h1m-30 0.5h1m5 0h1m0 0h1m2.5 0h1m-1 0h1m-0.5 0h1m-1 0h1m-0.5 0h1m-1 0h1m2 0h1m-0.5 0h1m0 0h1m3.5 0h1m1 0h1m2.5 0h1m-29 0.5h1m3.5 0h1m-0.5 0h1m0.5 0h1m0 0h1m-0.5 0h1m-1 0h1m-0.5 0h1m-1 0h1m-0.5 0h1m2.5 0h1m-1 0h1m0.5 0h1m-0.5 0h1m0 0h1m4.5 0h1m-0.5 0h1m0 0h1m5 0h1m-24.5 0.5h1m0 0h1m0.5 0h1m-1 0h1m-1 0h1m0 0h1m-0.5 0h1m-0.5 0h1m0 0h1m-0.5 0h1m0 0h1m3 0h1m-1 0h1m-0.5 0h1m-1 0h1m-1 0h1m-0.5 0h1m-0.5 0h1m1 0h1m1 0h1m-1 0h1m2.5 0h1m1.5 0h1m0.5 0h1m-22.5 0.5h1m-1 0h1m0.5 0h1m-0.5 0h1m-0.5 0h1m-1 0h1m-0.5 0h1m1.5 0h1m3 0h1m0.5 0h1m-0.5 0h1m-1 0h1m-0.5 0h1m-0.5 0h1m-0.5 0h1m-0.5 0h1m0 0h1m3 0h1m2.5 0h1m5.5 0h1m-28.5 0.5h1m0.5 0h1m5.5 0h1m0 0h1m-1 0h1m-0.5 0h1m-0.5 0h1m0.5 0h1m-1 0h1m0 0h1m1.5 0h1m0.5 0h1m-0.5 0h1m-19 0.5h1m-0.5 0h1m0 0h1m-0.5 0h1m-1 0h1m6.5 0h1m2.5 0h1m-0.5 0h1m0 0h1m-0.5 0h1m2.5 0h1m-16 0.5h1m-0.5 0h1m-0.5 0h1m-0.5 0h1m0 0h1m0.5 0h1m-1 0h1m-0.5 0h1m0 0h1m1 0h1m-1 0h1m5 0h1m1 0h1m-20.5 0.5h1m-0.5 0h1m1 0h1m-0.5 0h1m0 0h1m0.5 0h1m2.5 0h1m0 0h1m0 0h1m0 0h1m0 0h1m1 0h1m4.5 0h1m5.5 0h1m-32 0.5h1m6 0h1m-1 0h1m0.5 0h1m-0.5 0h1m0 0h1m-0.5 0h1m0 0h1m1 0h1m1 0h1m-0.5 0h1m-1 0h1m1.5 0h1m1.5 0h1m-17 0.5h1m0.5 0h1m0.5 0h1m-0.5 0h1m-0.5 0h1m0 0h1m0.5 0h1m1 0h1m-0.5 0h1m-1 0h1m-0.5 0h1m0 0h1m1 0h1m-0.5 0h1m2.5 0h1m1 0h1m37.5 0h1m-62.5 0.5h1m-1 0h1m2.5 0h1m2 0h1m-0.5 0h1m-0.5 0h1m0 0h1m0 0h1m-1 0h1m0.5 0h1m-1 0h1m-0.5 0h1m-1 0h1m0.5 0h1m-0.5 0h1m-0.5 0h1m1 0h1m-1 0h1m4.5 0h1m-0.5 0h1m2.5 0h1m7.5 0h1m5 0h1m-38.5 0.5h1m0.5 0h1m-0.5 0h1m1 0h1m-0.5 0h1m-1 0h1m0 0h1m-0.5 0h1m0 0h1m-1 0h1m-0.5 0h1m0 0h1m-1 0h1m1 0h1m-0.5 0h1m1 0h1m1 0h1m0.5 0h1m-1 0h1m1 0h1m-21 0.5h1m0.5 0h1m0.5 0h1m-0.5 0h1m-0.5 0h1m-1 0h1m-0.5 0h1m-0.5 0h1m-0.5 0h1m-0.5 0h1m-1 0h1m-0.5 0h1m-0.5 0h1m0.5 0h1m-1 0h1m-0.5 0h1m-0.5 0h1m-0.5 0h1m-1 0h1m-1 0h1m-1 0h1m0 0h1m0 0h1m-0.5 0h1m-1 0h1m-1 0h1m0 0h1m-0.5 0h1m-1 0h1m-1 0h1m-1 0h1m-0.5 0h1m0 0h1m-1 0h1m-0.5 0h1m-1 0h1m0.5 0h1m0 0h1m-1 0h1m-0.5 0h1m-1 0h1m-0.5 0h1m1 0h1m-0.5 0h1m0 0h1m-24 0.5h1m-1 0h1m1 0h1m1 0h1m-0.5 0h1m-1 0h1m-0.5 0h1m-1 0h1m-1 0h1m-1 0h1m-0.5 0h1m-0.5 0h1m-1 0h1m0 0h1m0 0h1m-0.5 0h1m-0.5 0h1m-1 0h1m-0.5 0h1m-1 0h1m-1 0h1m-1 0h1m-1 0h1m0 0h1m-1 0h1m0 0h1m-0.5 0h1m0 0h1m-0.5 0h1m0 0h1m-0.5 0h1m-0.5 0h1m0 0h1m0 0h1m-1 0h1m-1 0h1m1 0h1m1 0h1m0.5 0h1m-23.5 0.5h1m0.5 0h1m-0.5 0h1m-0.5 0h1m0.5 0h1m0 0h1m-0.5 0h1m-1 0h1m0 0h1m-1 0h1m0 0h1m0 0h1m0 0h1m-1 0h1m-0.5 0h1m0 0h1m-0.5 0h1m0 0h1m0 0h1m-1 0h1m-1 0h1m-0.5 0h1m-1 0h1m0 0h1m-0.5 0h1m-1 0h1m-0.5 0h1m-1 0h1m-1 0h1m-0.5 0h1m-0.5 0h1m-1 0h1m-0.5 0h1m-1 0h1m-1 0h1m-0.5 0h1m-1 0h1m-1 0h1m0.5 0h1m-0.5 0h1m-0.5 0h1m-0.5 0h1m6 0h1m-28.5 0.5h1m1.5 0h1m0 0h1m-1 0h1m-0.5 0h1m-0.5 0h1m-0.5 0h1m-1 0h1m-0.5 0h1m0 0h1m-1 0h1m-0.5 0h1m0.5 0h1m-1 0h1m-0.5 0h1m-1 0h1m-0.5 0h1m0 0h1m-1 0h1m0 0h1m0.5 0h1m-0.5 0h1m-1 0h1m-0.5 0h1m-1 0h1m-0.5 0h1m0.5 0h1m-1 0h1m-0.5 0h1m-1 0h1m-0.5 0h1m-0.5 0h1m-0.5 0h1m-1 0h1m0 0h1m-0.5 0h1m-22 0.5h1m0 0h1m0 0h1m-0.5 0h1m-1 0h1m-0.5 0h1m0.5 0h1m-1 0h1m1 0h1m-0.5 0h1m-1 0h1m-1 0h1m-1 0h1m-1 0h1m-0.5 0h1m-0.5 0h1m-1 0h1m-1 0h1m-0.5 0h1m-1 0h1m-1 0h1m-0.5 0h1m-0.5 0h1m0 0h1m-1 0h1m-1 0h1m-0.5 0h1m-1 0h1m-0.5 0h1m-1 0h1m-1 0h1m-0.5 0h1m-0.5 0h1m-0.5 0h1m-0.5 0h1m-0.5 0h1m-1 0h1m0.5 0h1m1 0h1m-0.5 0h1m-0.5 0h1m-1 0h1m-0.5 0h1m-1 0h1m0.5 0h1m0 0h1m0.5 0h1m1 0h1m1 0h1m-0.5 0h1m0 0h1m1 0h1m-30.5 0.5h1m0.5 0h1m-0.5 0h1m-0.5 0h1m0 0h1m0.5 0h1m-0.5 0h1m-1 0h1m-0.5 0h1m-1 0h1m0 0h1m-1 0h1m-1 0h1m-0.5 0h1m-0.5 0h1m-1 0h1m-0.5 0h1m-1 0h1m-1 0h1m-0.5 0h1m-0.5 0h1m-1 0h1m-0.5 0h1m-1 0h1m0 0h1m-0.5 0h1m-1 0h1m-0.5 0h1m-1 0h1m-0.5 0h1m-1 0h1m-1 0h1m-0.5 0h1m-1 0h1m-0.5 0h1m-1 0h1m-1 0h1m-0.5 0h1m-1 0h1m-0.5 0h1m-0.5 0h1m-0.5 0h1m-0.5 0h1m-1 0h1m-1 0h1m-0.5 0h1m-0.5 0h1m-0.5 0h1m0 0h1m-1 0h1m-0.5 0h1m3 0h1m-0.5 0h1m0 0h1m-1 0h1m-27 0.5h1m2.5 0h1m-1 0h1m-0.5 0h1m-1 0h1m-0.5 0h1m1 0h1m-1 0h1m-0.5 0h1m-1 0h1m-1 0h1m-0.5 0h1m-1 0h1m-0.5 0h1m-1 0h1m-1 0h1m-1 0h1m-0.5 0h1m-1 0h1m-1 0h1m-1 0h1m-1 0h1m-1 0h1m-0.5 0h1m-1 0h1m-1 0h1m-0.5 0h1m-0.5 0h1m-0.5 0h1m-0.5 0h1m-1 0h1m-1 0h1m-1 0h1m0 0h1m-1 0h1m-0.5 0h1m-1 0h1m-0.5 0h1m-0.5 0h1m-1 0h1m-0.5 0h1m-1 0h1m-0.5 0h1m-0.5 0h1m-1 0h1m-1 0h1m-0.5 0h1m-1 0h1m-0.5 0h1m-0.5 0h1m-0.5 0h1m0 0h1m-1 0h1m-0.5 0h1m-1 0h1m-1 0h1m-0.5 0h1m0 0h1m-0.5 0h1m-1 0h1m2.5 0h1m-0.5 0h1m0.5 0h1m-0.5 0h1m2 0h1m-28 0.5h1m1 0h1m-0.5 0h1m0.5 0h1m-1 0h1m-1 0h1m-0.5 0h1m-1 0h1m-1 0h1m-0.5 0h1m-1 0h1m0 0h1m-1 0h1m-1 0h1m-0.5 0h1m-1 0h1m-1 0h1m-1 0h1m-0.5 0h1m-0.5 0h1m0 0h1m-1 0h1m-0.5 0h1m-1 0h1m-1 0h1m-0.5 0h1m-1 0h1m-0.5 0h1m-0.5 0h1m-1 0h1m-0.5 0h1m-0.5 0h1m0 0h1m-1 0h1m0 0h1m-1 0h1m-1 0h1m-0.5 0h1m-0.5 0h1m-0.5 0h1m-1 0h1m-1 0h1m-0.5 0h1m-1 0h1m-1 0h1m0 0h1m-1 0h1m-1 0h1m-0.5 0h1m0 0h1m-0.5 0h1m-0.5 0h1m2 0h1m1 0h1m-30.5 0.5h1m2 0h1m0 0h1m1 0h1m1 0h1m-1 0h1m-0.5 0h1m-1 0h1m-1 0h1m0 0h1m-1 0h1m-0.5 0h1m-1 0h1m-0.5 0h1m-1 0h1m-1 0h1m-1 0h1m-0.5 0h1m-1 0h1m-0.5 0h1m-1 0h1m-1 0h1m-0.5 0h1m-1 0h1m-1 0h1m0 0h1m-1 0h1m-0.5 0h1m-1 0h1m-1 0h1m-1 0h1m-1 0h1m-1 0h1m-0.5 0h1m-1 0h1m-0.5 0h1m-0.5 0h1m-0.5 0h1m-1 0h1m-1 0h1m-1 0h1m-0.5 0h1m-1 0h1m0 0h1m-1 0h1m0 0h1m0.5 0h1m-0.5 0h1m-1 0h1m-0.5 0h1m0 0h1m0 0h1m-0.5 0h1m0 0h1m0 0h1m-1 0h1m-1 0h1m2.5 0h1m-0.5 0h1m-0.5 0h1m-28.5 0.5h1m-1 0h1m0.5 0h1m-0.5 0h1m-0.5 0h1m0.5 0h1m-0.5 0h1m0 0h1m-1 0h1m0 0h1m-1 0h1m0 0h1m-1 0h1m-1 0h1m-0.5 0h1m-1 0h1m-1 0h1m-0.5 0h1m-1 0h1m-1 0h1m-1 0h1m-0.5 0h1m-1 0h1m-1 0h1m-1 0h1m-1 0h1m-0.5 0h1m-0.5 0h1m-1 0h1m-1 0h1m-0.5 0h1m0 0h1m-1 0h1m-0.5 0h1m-1 0h1m-1 0h1m-1 0h1m-0.5 0h1m-1 0h1m-0.5 0h1m-1 0h1m-1 0h1m-0.5 0h1m-0.5 0h1m-1 0h1m-0.5 0h1m-1 0h1m-1 0h1m-1 0h1m-0.5 0h1m-1 0h1m-0.5 0h1m-0.5 0h1m-1 0h1m-0.5 0h1m0.5 0h1m-1 0h1m-1 0h1m-1 0h1m-0.5 0h1m-0.5 0h1m-0.5 0h1m-0.5 0h1m0 0h1m-1 0h1m1.5 0h1m-0.5 0h1m1 0h1m-26 0.5h1m-1 0h1m0 0h1m-1 0h1m0.5 0h1m-1 0h1m-0.5 0h1m-1 0h1m0 0h1m-0.5 0h1m-1 0h1m-1 0h1m-0.5 0h1m-0.5 0h1m-0.5 0h1m-0.5 0h1m-1 0h1m-0.5 0h1m-1 0h1m-1 0h1m-1 0h1m-0.5 0h1m-1 0h1m-1 0h1m-1 0h1m-0.5 0h1m-1 0h1m-1 0h1m-1 0h1m-0.5 0h1m-0.5 0h1m-1 0h1m0.5 0h1m-0.5 0h1m-0.5 0h1m-1 0h1m-1 0h1m-0.5 0h1m-1 0h1m-1 0h1m-1 0h1m-0.5 0h1m-1 0h1m-1 0h1m-0.5 0h1m-1 0h1m-1 0h1m-0.5 0h1m0 0h1m-1 0h1m-0.5 0h1m-0.5 0h1m-1 0h1m-0.5 0h1m-1 0h1m-1 0h1m-0.5 0h1m-0.5 0h1m0 0h1m-0.5 0h1m0 0h1m0 0h1m0 0h1m-0.5 0h1m-1 0h1m-0.5 0h1m-1 0h1m5.5 0h1m-33.5 0.5h1m1.5 0h1m1.5 0h1m-1 0h1m0.5 0h1m-1 0h1m-1 0h1m0 0h1m-0.5 0h1m-1 0h1m-0.5 0h1m-0.5 0h1m-1 0h1m-1 0h1m-0.5 0h1m-0.5 0h1m-1 0h1m-1 0h1m-0.5 0h1m-1 0h1m-0.5 0h1m-1 0h1m-1 0h1m-1 0h1m-1 0h1m-0.5 0h1m-0.5 0h1m-1 0h1m-1 0h1m-1 0h1m-1 0h1m-1 0h1m-0.5 0h1m-1 0h1m-0.5 0h1m-1 0h1m-0.5 0h1m-0.5 0h1m-1 0h1m-1 0h1m-1 0h1m-1 0h1m-0.5 0h1m-1 0h1m-0.5 0h1m-1 0h1m-1 0h1m-1 0h1m-0.5 0h1m0 0h1m-1 0h1m-1 0h1m-1 0h1m0 0h1m-1 0h1m-1 0h1m-1 0h1m-0.5 0h1m-0.5 0h1m-0.5 0h1m-1 0h1m-1 0h1m-1 0h1m0 0h1m-1 0h1m-0.5 0h1m-1 0h1m-0.5 0h1m-0.5 0h1m-0.5 0h1m-1 0h1m-1 0h1m-1 0h1m-0.5 0h1m-0.5 0h1m-1 0h1m-1 0h1m4 0h1m-1 0h1m-23.5 0.5h1m2 0h1m-0.5 0h1m-1 0h1m-0.5 0h1m-1 0h1m-0.5 0h1m-1 0h1m-0.5 0h1m-0.5 0h1m-1 0h1m-0.5 0h1m-0.5 0h1m-1 0h1m-1 0h1m-1 0h1m-1 0h1m-0.5 0h1m-1 0h1m-0.5 0h1m-1 0h1m-0.5 0h1m-1 0h1m-1 0h1m-0.5 0h1m-1 0h1m-1 0h1m-0.5 0h1m-0.5 0h1m-1 0h1m-0.5 0h1m-1 0h1m-0.5 0h1m-0.5 0h1m-1 0h1m-0.5 0h1m-1 0h1m-1 0h1m-1 0h1m0.5 0h1m-1 0h1m-0.5 0h1m-1 0h1m-0.5 0h1m-1 0h1m-0.5 0h1m-0.5 0h1m-0.5 0h1m-1 0h1m0 0h1m0 0h1m-0.5 0h1m-1 0h1m-1 0h1m-0.5 0h1m-1 0h1m-1 0h1m-0.5 0h1m2.5 0h1m-1 0h1m0.5 0h1m1 0h1m-1 0h1m-28.5 0.5h1m0 0h1m0.5 0h1m-0.5 0h1m-0.5 0h1m0.5 0h1m-1 0h1m-1 0h1m-0.5 0h1m-0.5 0h1m-0.5 0h1m-1 0h1m0 0h1m-1 0h1m-0.5 0h1m-1 0h1m-1 0h1m-1 0h1m-1 0h1m-1 0h1m-0.5 0h1m-1 0h1m0 0h1m-1 0h1m-1 0h1m-1 0h1m-0.5 0h1m-0.5 0h1m-1 0h1m-0.5 0h1m-1 0h1m-0.5 0h1m-1 0h1m-1 0h1m-1 0h1m0 0h1m-1 0h1m-0.5 0h1m-1 0h1m-0.5 0h1m-1 0h1m-1 0h1m-1 0h1m-1 0h1m-0.5 0h1m-1 0h1m0.5 0h1m-1 0h1m-0.5 0h1m-1 0h1m-0.5 0h1m-0.5 0h1m-0.5 0h1m-1 0h1m-0.5 0h1m-1 0h1m-0.5 0h1m-0.5 0h1m0 0h1m-0.5 0h1m-1 0h1m0 0h1m-1 0h1m-0.5 0h1m-0.5 0h1m1 0h1m0 0h1m0 0h1m1 0h1m-30 0.5h1m1 0h1m0.5 0h1m-0.5 0h1m-0.5 0h1m-1 0h1m-1 0h1m-1 0h1m-1 0h1m0 0h1m-1 0h1m-1 0h1m-0.5 0h1m-1 0h1m-1 0h1m-0.5 0h1m-0.5 0h1m-0.5 0h1m-1 0h1m-0.5 0h1m-0.5 0h1m-1 0h1m-1 0h1m-0.5 0h1m0 0h1m-0.5 0h1m-1 0h1m-1 0h1m-0.5 0h1m-1 0h1m-1 0h1m-0.5 0h1m-1 0h1m-1 0h1m0 0h1m-1 0h1m-0.5 0h1m-0.5 0h1m-1 0h1m-1 0h1m-1 0h1m-1 0h1m-0.5 0h1m-1 0h1m-1 0h1m-0.5 0h1m-0.5 0h1m-0.5 0h1m-1 0h1m-1 0h1m-0.5 0h1m-0.5 0h1m-1 0h1m-0.5 0h1m-0.5 0h1m-0.5 0h1m-0.5 0h1m-1 0h1m-0.5 0h1m-0.5 0h1m-0.5 0h1m-0.5 0h1m0 0h1m-0.5 0h1m-1 0h1m-1 0h1m1 0h1m-1 0h1m-0.5 0h1m-1 0h1m0.5 0h1m-26.5 0.5h1m0 0h1m0 0h1m1.5 0h1m-1 0h1m0.5 0h1m-0.5 0h1m-1 0h1m-1 0h1m-0.5 0h1m-1 0h1m-1 0h1m-1 0h1m-0.5 0h1m-0.5 0h1m-1 0h1m-0.5 0h1m-0.5 0h1m-0.5 0h1m-0.5 0h1m-1 0h1m0 0h1m-1 0h1m-0.5 0h1m-1 0h1m-1 0h1m-1 0h1m-0.5 0h1m-0.5 0h1m-1 0h1m-0.5 0h1m-1 0h1m-1 0h1m-0.5 0h1m-0.5 0h1m-1 0h1m0 0h1m-1 0h1m-1 0h1m-0.5 0h1m-1 0h1m-0.5 0h1m-0.5 0h1m-1 0h1m0.5 0h1m-0.5 0h1m-1 0h1m-0.5 0h1m-1 0h1m-0.5 0h1m-0.5 0h1m-0.5 0h1m-1 0h1m-0.5 0h1m-1 0h1m0 0h1m-0.5 0h1m2 0h1m-1 0h1m-28.5 0.5h1m0 0h1m-0.5 0h1m0 0h1m3 0h1m-0.5 0h1m-0.5 0h1m-0.5 0h1m-1 0h1m-0.5 0h1m-1 0h1m-1 0h1m-0.5 0h1m-1 0h1m-1 0h1m-0.5 0h1m-1 0h1m-0.5 0h1m-1 0h1m0 0h1m-1 0h1m-1 0h1m-0.5 0h1m-0.5 0h1m-0.5 0h1m-0.5 0h1m-0.5 0h1m-0.5 0h1m-1 0h1m-1 0h1m-0.5 0h1m-1 0h1m-0.5 0h1m-1 0h1m-0.5 0h1m-0.5 0h1m0 0h1m-0.5 0h1m-1 0h1m-0.5 0h1m-1 0h1m0 0h1m-1 0h1m-0.5 0h1m-0.5 0h1m-1 0h1m-0.5 0h1m-0.5 0h1m0.5 0h1m0.5 0h1m0.5 0h1m1 0h1m0 0h1m-0.5 0h1m-26.5 0.5h1m-0.5 0h1m-0.5 0h1m0 0h1m0 0h1m-0.5 0h1m-1 0h1m-0.5 0h1m-1 0h1m0 0h1m-1 0h1m-1 0h1m-0.5 0h1m-1 0h1m-1 0h1m-0.5 0h1m-1 0h1m-0.5 0h1m-1 0h1m-1 0h1m-0.5 0h1m-1 0h1m-0.5 0h1m-1 0h1m-0.5 0h1m-0.5 0h1m-0.5 0h1m-1 0h1m-1 0h1m-0.5 0h1m-1 0h1m-0.5 0h1m-0.5 0h1m-0.5 0h1m-0.5 0h1m-1 0h1m-0.5 0h1m-1 0h1m-0.5 0h1m-1 0h1m-1 0h1m-0.5 0h1m0 0h1m-1 0h1m-0.5 0h1m-0.5 0h1m-1 0h1m-0.5 0h1m-0.5 0h1m-0.5 0h1m-1 0h1m-0.5 0h1m-0.5 0h1m0.5 0h1m4 0h1m-0.5 0h1m-28.5 0.5h1m0.5 0h1m-0.5 0h1m0.5 0h1m0 0h1m0 0h1m-0.5 0h1m-0.5 0h1m-1 0h1m0 0h1m-1 0h1m-0.5 0h1m-0.5 0h1m-0.5 0h1m-0.5 0h1m-1 0h1m-1 0h1m-0.5 0h1m-0.5 0h1m-1 0h1m-0.5 0h1m-1 0h1m-0.5 0h1m-1 0h1m-1 0h1m-1 0h1m0 0h1m-1 0h1m-0.5 0h1m-1 0h1m-1 0h1m-1 0h1m-0.5 0h1m-1 0h1m-1 0h1m-0.5 0h1m0 0h1m0 0h1m-0.5 0h1m-0.5 0h1m-1 0h1m0.5 0h1m0 0h1m-1 0h1m-1 0h1m-1 0h1m-0.5 0h1m-1 0h1m-1 0h1m0 0h1m0 0h1m-1 0h1m1 0h1m-0.5 0h1m-1 0h1m1 0h1m-25 0.5h1m-0.5 0h1m-0.5 0h1m0.5 0h1m0.5 0h1m-1 0h1m0 0h1m-0.5 0h1m-1 0h1m-1 0h1m-1 0h1m-0.5 0h1m-1 0h1m-0.5 0h1m-0.5 0h1m-1 0h1m-1 0h1m-0.5 0h1m-0.5 0h1m-1 0h1m-0.5 0h1m-1 0h1m-1 0h1m-0.5 0h1m-0.5 0h1m0 0h1m-1 0h1m-1 0h1m-0.5 0h1m-1 0h1m-0.5 0h1m-1 0h1m-0.5 0h1m-0.5 0h1m-1 0h1m-0.5 0h1m-0.5 0h1m-0.5 0h1m-1 0h1m-0.5 0h1m-1 0h1m0 0h1m1 0h1m-0.5 0h1m-0.5 0h1m-0.5 0h1m6 0h1m0.5 0h1m3 0h1m-31 0.5h1m1 0h1m-1 0h1m-1 0h1m0.5 0h1m0 0h1m-1 0h1m-0.5 0h1m-0.5 0h1m-1 0h1m-0.5 0h1m-0.5 0h1m-1 0h1m-1 0h1m-1 0h1m-0.5 0h1m-0.5 0h1m-1 0h1m0 0h1m-0.5 0h1m-1 0h1m-0.5 0h1m-0.5 0h1m-1 0h1m-0.5 0h1m0 0h1m-1 0h1m-0.5 0h1m-0.5 0h1m-1 0h1m-0.5 0h1m2 0h1m-1 0h1m0.5 0h1m-0.5 0h1m1 0h1m-1 0h1m-20.5 0.5h1m-0.5 0h1m-0.5 0h1m-1 0h1m-1 0h1m0.5 0h1m0 0h1m-0.5 0h1m-0.5 0h1m-1 0h1m-1 0h1m-0.5 0h1m-0.5 0h1m-0.5 0h1m-1 0h1m-1 0h1m-0.5 0h1m-0.5 0h1m-1 0h1m-0.5 0h1m-1 0h1m-1 0h1m-1 0h1m-1 0h1m0 0h1m0.5 0h1m-0.5 0h1m-1 0h1m-0.5 0h1m-1 0h1m-1 0h1m-0.5 0h1m-1 0h1m-0.5 0h1m0 0h1m-1 0h1m-1 0h1m-0.5 0h1m-0.5 0h1m-0.5 0h1m0.5 0h1m-0.5 0h1m-0.5 0h1m0.5 0h1m3 0h1m-27.5 0.5h1m0 0h1m1 0h1m-1 0h1m-1 0h1m-0.5 0h1m0.5 0h1m-0.5 0h1m-1 0h1m-0.5 0h1m-0.5 0h1m-1 0h1m0 0h1m-0.5 0h1m-0.5 0h1m-0.5 0h1m-1 0h1m-0.5 0h1m-0.5 0h1m1.5 0h1m-1 0h1m-1 0h1m-1 0h1m-0.5 0h1m0 0h1m0.5 0h1m-1 0h1m-0.5 0h1m-0.5 0h1m0 0h1m-1 0h1m-0.5 0h1m-0.5 0h1m0.5 0h1m-1 0h1m1.5 0h1m-0.5 0h1m1.5 0h1m-1 0h1m-24 0.5h1m0 0h1m0.5 0h1m1 0h1m-1 0h1m-0.5 0h1m0 0h1m-0.5 0h1m-0.5 0h1m0 0h1m-1 0h1m-0.5 0h1m-1 0h1m-1 0h1m-1 0h1m-0.5 0h1m0 0h1m0 0h1m-1 0h1m-1 0h1m0 0h1m-1 0h1m0 0h1m0.5 0h1m4.5 0h1m0 0h1m-1 0h1m1 0h1m-1 0h1m3.5 0h1m-28.5 0.5h1m0.5 0h1m0 0h1m0 0h1m-0.5 0h1m0.5 0h1m-0.5 0h1m-0.5 0h1m-1 0h1m0.5 0h1m-0.5 0h1m-1 0h1m-1 0h1m-0.5 0h1m-0.5 0h1m0 0h1m0.5 0h1m1.5 0h1m-1 0h1m2.5 0h1m1.5 0h1m-22 0.5h1m-1 0h1m-0.5 0h1m-1 0h1m-0.5 0h1m0 0h1m2 0h1m-1 0h1m-0.5 0h1m-1 0h1m-1 0h1m-1 0h1m-0.5 0h1m0 0h1m-1 0h1m-0.5 0h1m1 0h1m-0.5 0h1m-1 0h1m-1 0h1m0 0h1m1 0h1m0.5 0h1m-1 0h1m1.5 0h1m0.5 0h1m0.5 0h1m0 0h1m-1 0h1m7 0h1m-27 0.5h1m-0.5 0h1m1.5 0h1m-0.5 0h1m-0.5 0h1m-0.5 0h1m0.5 0h1m0 0h1m-0.5 0h1m-1 0h1m-0.5 0h1m0 0h1m0 0h1m-0.5 0h1m-0.5 0h1m3 0h1m1.5 0h1m1.5 0h1m-21 0.5h1m-0.5 0h1m2.5 0h1m-1 0h1m0 0h1m-0.5 0h1m4 0h1m7 0h1m-22 0.5h1m1.5 0h1m0.5 0h1m-1 0h1m3 0h1m1 0h1m0 0h1m-1 0h1m-0.5 0h1m2.5 0h1m0 0h1" stroke="#000" stroke-opacity="0.6" stroke-width="1" fill="none" filter="url(#bl)"/>
<rect x="49.1" y="284.5" width="23.15" height="12.1" fill="#fff"/>
<rect x="96.85" y="284.5" width="22.95" height="12.1" fill="#fff"/>
<rect x="49.1" y="344.76" width="15.37" height="10.84" fill="#fff"/>
<rect x="96.85" y="344.76" width="22.95" height="10.84" fill="#fff"/>
<rect x="48.3" y="283.9" width="72.3" height="72.3" fill="none" stroke="#a8a8a8" stroke-width="1.1"/>
<path d="M49.5 284.9V356.2M48.3 355H119.6" stroke="#c8c8c8" stroke-width="1" stroke-dasharray="1 2" fill="none"/>
<path d="M70.3 356.2H99.3" stroke="#8a8a8a" stroke-width="1" fill="none"/>
<path d="M69.3 283.9V356.2M48.3 336.5H120.6" stroke="#555" stroke-width="1.3" fill="none"/>
<text transform="translate(49.8 294.6) scale(1.02 1)" font-size="10.2" text-anchor="start">12.8</text>
<text transform="translate(119.3 294.6) scale(1.02 1)" font-size="10.2" text-anchor="end">30.7</text>
<text transform="translate(50.7 354.5) scale(1.02 1)" font-size="10.2" text-anchor="start">51</text>
<text transform="translate(119.3 354.5) scale(1.02 1)" font-size="10.2" text-anchor="end">5.57</text>
<path d="M41.9 356.8l1 0.7l2.6-1.8M41.9 338.73l1 0.7l2.6-1.8M41.9 320.65l1 0.7l2.6-1.8M41.9 302.57l1 0.7l2.6-1.8M41.9 284.5l1 0.7l2.6-1.8M46.1 360.5l1 0.8l2.8-1.9M64.17 360.5l1 0.8l2.8-1.9M82.25 360.5l1 0.8l2.8-1.9M100.32 360.5l1 0.8l2.8-1.9M118.4 360.5l1 0.8l2.8-1.9" stroke="#8a8a8a" stroke-width="1.0" fill="none"/>
<ellipse cx="175" cy="327" rx="8" ry="5.5" fill="#000" transform="rotate(-10 175 327)"/><path d="M145 345.5L159 345.5L155 339.5Z" fill="#000"/>
<path d="M167.5 286.5h1m-24 9.5h1m25.5 7.5h1m33.5 0.5h1m-33 1h1m9 0h1m23.5 2.5h1m-38 0.5h1m7 0.5h1m-22.5 1.5h1m20.5 0.5h1m-9 0.5h1m4 0h1m-4 0.5h1m-11.5 0.5h1m20 0h1m0.5 0.5h1m-5.5 0.5h1m6.5 0h1m-16.5 0.5h1m0.5 0h1m-28.5 0.5h1m18 0h1m9 0h1m2.5 0h1m1 0h1m2.5 0h1m-12.5 0.5h1m10.5 0h1m-9.5 0.5h1m0.5 0h1m1 0h1m0 0h1m-1 0h1m2 0h1m0.5 0h1m2.5 0h1m-18 0.5h1m1 0h1m2 0h1m-0.5 0h1m-0.5 0h1m2 0h1m1 0h1m6 0h1m-22.5 0.5h1m6 0h1m1 0h1m-1 0h1m-0.5 0h1m3.5 0h1m-34 0.5h1m17.5 0h1m2 0h1m0.5 0h1m-1 0h1m-0.5 0h1m3 0h1m4.5 0h1m0 0h1m-1 0h1m2 0h1m-0.5 0h1m4.5 0h1m-22 0.5h1m-0.5 0h1m-0.5 0h1m0.5 0h1m-0.5 0h1m-1 0h1m2.5 0h1m-1 0h1m0.5 0h1m-0.5 0h1m-0.5 0h1m-1 0h1m-0.5 0h1m7.5 0h1m4 0h1m-38.5 0.5h1m8.5 0h1m3 0h1m0.5 0h1m-1 0h1m0 0h1m0.5 0h1m4 0h1m3 0h1m4 0h1m-46 0.5h1m11 0h1m6 0h1m1.5 0h1m1 0h1m0 0h1m1.5 0h1m1 0h1m0 0h1m-0.5 0h1m1 0h1m-1 0h1m-0.5 0h1m-0.5 0h1m3 0h1m-0.5 0h1m1 0h1m0.5 0h1m-1 0h1m3.5 0h1m-0.5 0h1m-27 0.5h1m3 0h1m0 0h1m1 0h1m1 0h1m1 0h1m0 0h1m-1 0h1m3 0h1m-1 0h1m-1 0h1m0 0h1m-0.5 0h1m1.5 0h1m-1 0h1m-0.5 0h1m1.5 0h1m-35 0.5h1m4.5 0h1m0 0h1m6.5 0h1m0 0h1m0.5 0h1m1 0h1m0 0h1m-0.5 0h1m1.5 0h1m-0.5 0h1m-1 0h1m-0.5 0h1m-1 0h1m1 0h1m-0.5 0h1m0 0h1m0 0h1m1 0h1m-0.5 0h1m0.5 0h1m-0.5 0h1m0 0h1m2 0h1m-42 0.5h1m4.5 0h1m5 0h1m-1 0h1m2 0h1m0.5 0h1m2.5 0h1m-0.5 0h1m1 0h1m-0.5 0h1m0 0h1m2 0h1m-0.5 0h1m0 0h1m-1 0h1m-1 0h1m-0.5 0h1m-1 0h1m-1 0h1m-0.5 0h1m-0.5 0h1m0.5 0h1m0 0h1m1 0h1m2 0h1m-1 0h1m0.5 0h1m1.5 0h1m3 0h1m-39 0.5h1m3 0h1m2 0h1m0 0h1m-0.5 0h1m0.5 0h1m0.5 0h1m-0.5 0h1m2 0h1m-1 0h1m-1 0h1m-1 0h1m-0.5 0h1m-1 0h1m0 0h1m-0.5 0h1m-1 0h1m-0.5 0h1m-0.5 0h1m2 0h1m-1 0h1m-0.5 0h1m-1 0h1m0 0h1m-0.5 0h1m0.5 0h1m-0.5 0h1m-1 0h1m-0.5 0h1m0 0h1m2 0h1m14 0h1m-50.5 0.5h1m0 0h1m1.5 0h1m9.5 0h1m1 0h1m-0.5 0h1m0.5 0h1m-0.5 0h1m0.5 0h1m-0.5 0h1m-0.5 0h1m1 0h1m0 0h1m0 0h1m-1 0h1m-0.5 0h1m-1 0h1m-0.5 0h1m0.5 0h1m-0.5 0h1m0.5 0h1m-0.5 0h1m-1 0h1m-1 0h1m1 0h1m-0.5 0h1m-1 0h1m-1 0h1m1 0h1m-1 0h1m0.5 0h1m0 0h1m-1 0h1m4 0h1m-47.5 0.5h1m0.5 0h1m10 0h1m2.5 0h1m-1 0h1m0 0h1m-0.5 0h1m2 0h1m0 0h1m0 0h1m0 0h1m-0.5 0h1m0 0h1m0.5 0h1m-1 0h1m0 0h1m-1 0h1m-0.5 0h1m-1 0h1m0 0h1m-0.5 0h1m-1 0h1m0 0h1m-1 0h1m0 0h1m-1 0h1m-0.5 0h1m-0.5 0h1m-1 0h1m-0.5 0h1m-1 0h1m-0.5 0h1m-0.5 0h1m-0.5 0h1m-0.5 0h1m-0.5 0h1m-0.5 0h1m1 0h1m-0.5 0h1m-0.5 0h1m1 0h1m0 0h1m2 0h1m0 0h1m-50.5 0.5h1m8 0h1m2.5 0h1m0.5 0h1m3.5 0h1m0.5 0h1m3 0h1m1 0h1m0 0h1m-1 0h1m0 0h1m-0.5 0h1m-0.5 0h1m-1 0h1m-1 0h1m-1 0h1m-1 0h1m-0.5 0h1m-1 0h1m0.5 0h1m-1 0h1m-1 0h1m-1 0h1m-1 0h1m0 0h1m-0.5 0h1m-1 0h1m-1 0h1m-0.5 0h1m-1 0h1m-0.5 0h1m-0.5 0h1m-0.5 0h1m-1 0h1m-1 0h1m-1 0h1m-0.5 0h1m0.5 0h1m-1 0h1m-0.5 0h1m-0.5 0h1m0 0h1m-0.5 0h1m0 0h1m1.5 0h1m-0.5 0h1m1.5 0h1m1 0h1m0 0h1m-0.5 0h1m-0.5 0h1m-43.5 0.5h1m3 0h1m11 0h1m-1 0h1m0 0h1m0 0h1m-1 0h1m-1 0h1m0 0h1m0.5 0h1m-0.5 0h1m-1 0h1m-0.5 0h1m-1 0h1m0 0h1m-0.5 0h1m-1 0h1m-0.5 0h1m-1 0h1m-1 0h1m-0.5 0h1m-1 0h1m-0.5 0h1m-1 0h1m1 0h1m0 0h1m-1 0h1m-1 0h1m-0.5 0h1m-1 0h1m-1 0h1m-1 0h1m-0.5 0h1m0 0h1m-0.5 0h1m-0.5 0h1m-1 0h1m-0.5 0h1m-0.5 0h1m-0.5 0h1m-1 0h1m-0.5 0h1m-0.5 0h1m0 0h1m0 0h1m2 0h1m0.5 0h1m-28 0.5h1m0 0h1m0.5 0h1m-1 0h1m0.5 0h1m-0.5 0h1m-1 0h1m-0.5 0h1m0 0h1m-0.5 0h1m-0.5 0h1m-1 0h1m2 0h1m-1 0h1m-0.5 0h1m-0.5 0h1m-1 0h1m0 0h1m-1 0h1m0 0h1m-1 0h1m-0.5 0h1m-1 0h1m-1 0h1m-0.5 0h1m-1 0h1m-1 0h1m-0.5 0h1m-1 0h1m-0.5 0h1m-1 0h1m-0.5 0h1m-1 0h1m-0.5 0h1m-1 0h1m-0.5 0h1m-0.5 0h1m-0.5 0h1m-0.5 0h1m-1 0h1m-0.5 0h1m-1 0h1m-0.5 0h1m-1 0h1m-0.5 0h1m-1 0h1m-0.5 0h1m-1 0h1m-0.5 0h1m-1 0h1m0 0h1m-0.5 0h1m-0.5 0h1m-1 0h1m-1 0h1m0 0h1m-1 0h1m0 0h1m0 0h1m-1 0h1m-0.5 0h1m3 0h1m2 0h1m0 0h1m0.5 0h1m-49.5 0.5h1m0 0h1m3.5 0h1m1.5 0h1m3 0h1m1 0h1m1.5 0h1m-0.5 0h1m-0.5 0h1m1 0h1m-1 0h1m0.5 0h1m-0.5 0h1m-0.5 0h1m0 0h1m-0.5 0h1m-0.5 0h1m-0.5 0h1m-1 0h1m-0.5 0h1m-1 0h1m0.5 0h1m-1 0h1m-1 0h1m0 0h1m-0.5 0h1m0.5 0h1m-1 0h1m0.5 0h1m-0.5 0h1m-1 0h1m-1 0h1m-0.5 0h1m-0.5 0h1m-1 0h1m0 0h1m-0.5 0h1m-0.5 0h1m1.5 0h1m-1 0h1m-0.5 0h1m0 0h1m-0.5 0h1m1 0h1m12 0h1m-58 0.5h1m13 0h1m0.5 0h1m0 0h1m0.5 0h1m0 0h1m-0.5 0h1m0 0h1m-0.5 0h1m-1 0h1m-1 0h1m0 0h1m-1 0h1m-0.5 0h1m-0.5 0h1m-0.5 0h1m-1 0h1m-0.5 0h1m-1 0h1m-1 0h1m0 0h1m-0.5 0h1m-0.5 0h1m-0.5 0h1m-1 0h1m0 0h1m-1 0h1m-1 0h1m-0.5 0h1m-1 0h1m-0.5 0h1m-1 0h1m-0.5 0h1m-1 0h1m-1 0h1m-0.5 0h1m-1 0h1m-1 0h1m-0.5 0h1m-1 0h1m-0.5 0h1m0.5 0h1m-1 0h1m-1 0h1m-0.5 0h1m-1 0h1m-1 0h1m-0.5 0h1m-0.5 0h1m-0.5 0h1m-1 0h1m-1 0h1m-1 0h1m-1 0h1m-0.5 0h1m-1 0h1m-1 0h1m0 0h1m-1 0h1m-1 0h1m0.5 0h1m0.5 0h1m-0.5 0h1m-0.5 0h1m-1 0h1m-0.5 0h1m0 0h1m2 0h1m-0.5 0h1m-1 0h1m-35 0.5h1m1.5 0h1m3 0h1m0.5 0h1m0.5 0h1m-0.5 0h1m-0.5 0h1m-0.5 0h1m-1 0h1m-1 0h1m-0.5 0h1m-1 0h1m-0.5 0h1m-1 0h1m-0.5 0h1m0 0h1m-0.5 0h1m-0.5 0h1m-1 0h1m-1 0h1m0 0h1m0 0h1m-0.5 0h1m-1 0h1m-0.5 0h1m-1 0h1m-0.5 0h1m-1 0h1m-1 0h1m-1 0h1m-1 0h1m-0.5 0h1m-1 0h1m-1 0h1m-0.5 0h1m-0.5 0h1m-0.5 0h1m-1 0h1m-1 0h1m-1 0h1m-0.5 0h1m-1 0h1m-1 0h1m-0.5 0h1m-0.5 0h1m-0.5 0h1m-0.5 0h1m-1 0h1m-1 0h1m-0.5 0h1m-1 0h1m0 0h1m-0.5 0h1m-1 0h1m-1 0h1m-0.5 0h1m-0.5 0h1m0 0h1m-1 0h1m-1 0h1m-0.5 0h1m-0.5 0h1m-1 0h1m-0.5 0h1m-1 0h1m-0.5 0h1m-0.5 0h1m-0.5 0h1m-1 0h1m-1 0h1m-1 0h1m-1 0h1m0 0h1m-0.5 0h1m-0.5 0h1m-1 0h1m1.5 0h1m-0.5 0h1m0 0h1m-48 0.5h1m2.5 0h1m2.5 0h1m8 0h1m0.5 0h1m2 0h1m1 0h1m-1 0h1m-1 0h1m-0.5 0h1m-1 0h1m-0.5 0h1m-1 0h1m-0.5 0h1m-1 0h1m0 0h1m-1 0h1m-1 0h1m0.5 0h1m-1 0h1m-0.5 0h1m-1 0h1m-0.5 0h1m-0.5 0h1m-1 0h1m-0.5 0h1m-1 0h1m-1 0h1m-0.5 0h1m-0.5 0h1m-0.5 0h1m-1 0h1m-1 0h1m0.5 0h1m-1 0h1m0 0h1m-0.5 0h1m-1 0h1m0 0h1m-1 0h1m-0.5 0h1m-0.5 0h1m-1 0h1m-1 0h1m-0.5 0h1m-1 0h1m0.5 0h1m-1 0h1m0.5 0h1m-0.5 0h1m-0.5 0h1m-1 0h1m-0.5 0h1m-1 0h1m-0.5 0h1m0.5 0h1m2 0h1m-0.5 0h1m0.5 0h1m-45 0.5h1m8 0h1m3.5 0h1m1 0h1m2.5 0h1m-0.5 0h1m-0.5 0h1m-1 0h1m-0.5 0h1m-1 0h1m-0.5 0h1m0 0h1m-1 0h1m-1 0h1m-1 0h1m0.5 0h1m-0.5 0h1m-1 0h1m-1 0h1m-0.5 0h1m-0.5 0h1m-1 0h1m-0.5 0h1m1 0h1m-0.5 0h1m-0.5 0h1m-1 0h1m0 0h1m-1 0h1m0 0h1m-1 0h1m-1 0h1m-0.5 0h1m-0.5 0h1m-1 0h1m-1 0h1m-0.5 0h1m-1 0h1m-0.5 0h1m-0.5 0h1m-0.5 0h1m-1 0h1m-1 0h1m-0.5 0h1m-1 0h1m-0.5 0h1m-1 0h1m-1 0h1m-1 0h1m0 0h1m0 0h1m-0.5 0h1m-1 0h1m-0.5 0h1m-0.5 0h1m1 0h1m-0.5 0h1m-0.5 0h1m-0.5 0h1m-1 0h1m0 0h1m0.5 0h1m0 0h1m-49 0.5h1m-0.5 0h1m1 0h1m3.5 0h1m3.5 0h1m1.5 0h1m0 0h1m-0.5 0h1m0 0h1m0 0h1m-1 0h1m-0.5 0h1m-1 0h1m-0.5 0h1m0.5 0h1m0.5 0h1m0.5 0h1m-1 0h1m-0.5 0h1m-1 0h1m1.5 0h1m-1 0h1m-1 0h1m-1 0h1m-0.5 0h1m-1 0h1m-0.5 0h1m-1 0h1m0 0h1m-1 0h1m-1 0h1m-1 0h1m-1 0h1m-0.5 0h1m-0.5 0h1m-0.5 0h1m-1 0h1m-0.5 0h1m-0.5 0h1m-1 0h1m-1 0h1m-1 0h1m0 0h1m-1 0h1m-0.5 0h1m-1 0h1m-0.5 0h1m-1 0h1m-1 0h1m-1 0h1m-0.5 0h1m-0.5 0h1m-1 0h1m-1 0h1m-1 0h1m-0.5 0h1m-0.5 0h1m-0.5 0h1m-1 0h1m-0.5 0h1m-0.5 0h1m-1 0h1m-1 0h1m-0.5 0h1m-1 0h1m-1 0h1m-0.5 0h1m-0.5 0h1m-0.5 0h1m-1 0h1m-0.5 0h1m-0.5 0h1m1 0h1m-1 0h1m0.5 0h1m0 0h1m1 0h1m-51.5 0.5h1m4.5 0h1m2.5 0h1m0 0h1m2 0h1m-0.5 0h1m1 0h1m4.5 0h1m4 0h1m-0.5 0h1m-1 0h1m-1 0h1m-0.5 0h1m-0.5 0h1m-0.5 0h1m-0.5 0h1m-0.5 0h1m-0.5 0h1m-0.5 0h1m-1 0h1m-0.5 0h1m-0.5 0h1m-1 0h1m-0.5 0h1m-1 0h1m-0.5 0h1m-1 0h1m0 0h1m-1 0h1m-1 0h1m-1 0h1m-0.5 0h1m-1 0h1m-0.5 0h1m-0.5 0h1m-1 0h1m-1 0h1m-1 0h1m-0.5 0h1m-1 0h1m-1 0h1m-0.5 0h1m-1 0h1m-1 0h1m-1 0h1m-0.5 0h1m-1 0h1m-0.5 0h1m-1 0h1m-0.5 0h1m-1 0h1m-0.5 0h1m-0.5 0h1m-1 0h1m0.5 0h1m-1 0h1m-0.5 0h1m0 0h1m-0.5 0h1m-1 0h1m-0.5 0h1m-0.5 0h1m-1 0h1m-0.5 0h1m-1 0h1m-0.5 0h1m-1 0h1m-1 0h1m-0.5 0h1m0 0h1m-0.5 0h1m1 0h1m-31.5 0.5h1m-0.5 0h1m4.5 0h1m-1 0h1m0.5 0h1m-1 0h1m-0.5 0h1m-1 0h1m0 0h1m0.5 0h1m-0.5 0h1m-1 0h1m0 0h1m-1 0h1m-1 0h1m-0.5 0h1m-1 0h1m-0.5 0h1m-1 0h1m-1 0h1m-0.5 0h1m-1 0h1m-0.5 0h1m-0.5 0h1m0.5 0h1m-1 0h1m-0.5 0h1m-1 0h1m-1 0h1m-1 0h1m-1 0h1m-1 0h1m-0.5 0h1m-1 0h1m-0.5 0h1m-1 0h1m-0.5 0h1m-1 0h1m-1 0h1m-0.5 0h1m-1 0h1m-0.5 0h1m-0.5 0h1m0 0h1m-1 0h1m0 0h1m-1 0h1m-1 0h1m-0.5 0h1m-1 0h1m0 0h1m-0.5 0h1m-0.5 0h1m-1 0h1m-1 0h1m-0.5 0h1m-0.5 0h1m-0.5 0h1m0 0h1m-1 0h1m-0.5 0h1m-1 0h1m-0.5 0h1m-1 0h1m0.5 0h1m-0.5 0h1m-1 0h1m0 0h1m-0.5 0h1m0 0h1m0.5 0h1m-50.5 0.5h1m2.5 0h1m-0.5 0h1m2 0h1m6 0h1m0 0h1m-0.5 0h1m2 0h1m1.5 0h1m-1 0h1m-1 0h1m-0.5 0h1m-1 0h1m0.5 0h1m-1 0h1m0 0h1m-0.5 0h1m-0.5 0h1m0 0h1m-1 0h1m-0.5 0h1m-1 0h1m-1 0h1m-0.5 0h1m-0.5 0h1m-0.5 0h1m0 0h1m-0.5 0h1m-1 0h1m-0.5 0h1m-1 0h1m-0.5 0h1m-0.5 0h1m-1 0h1m-1 0h1m-1 0h1m-0.5 0h1m0 0h1m-1 0h1m-0.5 0h1m-1 0h1m-1 0h1m-1 0h1m-1 0h1m-1 0h1m-0.5 0h1m-1 0h1m-1 0h1m0 0h1m-1 0h1m-1 0h1m-1 0h1m-0.5 0h1m0 0h1m-0.5 0h1m-0.5 0h1m-0.5 0h1m-1 0h1m-0.5 0h1m-1 0h1m-1 0h1m-0.5 0h1m-0.5 0h1m-1 0h1m-0.5 0h1m0.5 0h1m-1 0h1m-1 0h1m-1 0h1m0 0h1m-1 0h1m-1 0h1m-1 0h1m-1 0h1m0 0h1m-0.5 0h1m-0.5 0h1m-1 0h1m-0.5 0h1m-0.5 0h1m1 0h1m-1 0h1m-0.5 0h1m1.5 0h1m0 0h1m-48 0.5h1m3 0h1m1 0h1m0 0h1m0 0h1m0 0h1m0 0h1m3 0h1m-0.5 0h1m2 0h1m-0.5 0h1m0.5 0h1m-0.5 0h1m-1 0h1m-0.5 0h1m-1 0h1m-1 0h1m0 0h1m-0.5 0h1m-0.5 0h1m-1 0h1m-0.5 0h1m-0.5 0h1m-0.5 0h1m-0.5 0h1m-1 0h1m-0.5 0h1m-1 0h1m0 0h1m-1 0h1m-0.5 0h1m-1 0h1m-1 0h1m-0.5 0h1m-0.5 0h1m-0.5 0h1m-1 0h1m-1 0h1m-0.5 0h1m-1 0h1m-1 0h1m-1 0h1m-0.5 0h1m-0.5 0h1m-1 0h1m-1 0h1m-0.5 0h1m-0.5 0h1m-1 0h1m-0.5 0h1m-1 0h1m-1 0h1m-1 0h1m0 0h1m-1 0h1m-0.5 0h1m-1 0h1m-0.5 0h1m-1 0h1m-1 0h1m-1 0h1m-0.5 0h1m-1 0h1m-1 0h1m-1 0h1m-0.5 0h1m-1 0h1m-0.5 0h1m-1 0h1m-0.5 0h1m-0.5 0h1m-0.5 0h1m-0.5 0h1m-0.5 0h1m-1 0h1m-0.5 0h1m-0.5 0h1m-1 0h1m-1 0h1m-1 0h1m-0.5 0h1m-1 0h1m0 0h1m0.5 0h1m0 0h1m0 0h1m-1 0h1m0 0h1m0 0h1m0 0h1m2.5 0h1m-54 0.5h1m0.5 0h1m7 0h1m3.5 0h1m0 0h1m-1 0h1m1 0h1m0.5 0h1m1 0h1m-0.5 0h1m0 0h1m0 0h1m-1 0h1m-0.5 0h1m-1 0h1m-0.5 0h1m-0.5 0h1m-0.5 0h1m0 0h1m-1 0h1m-0.5 0h1m-1 0h1m0 0h1m-0.5 0h1m-1 0h1m0 0h1m-0.5 0h1m-0.5 0h1m-1 0h1m-0.5 0h1m-0.5 0h1m-1 0h1m-0.5 0h1m-1 0h1m-0.5 0h1m-1 0h1m-1 0h1m1 0h1m-0.5 0h1m-1 0h1m-1 0h1m0 0h1m-1 0h1m-1 0h1m-0.5 0h1m-1 0h1m-1 0h1m0 0h1m-1 0h1m-0.5 0h1m-0.5 0h1m-1 0h1m-1 0h1m-0.5 0h1m-1 0h1m-0.5 0h1m-1 0h1m0 0h1m-1 0h1m-0.5 0h1m-1 0h1m-0.5 0h1m-1 0h1m-0.5 0h1m-1 0h1m-0.5 0h1m0 0h1m0.5 0h1m0.5 0h1m1.5 0h1m0.5 0h1m-45 0.5h1m3 0h1m7 0h1m-0.5 0h1m0 0h1m0 0h1m-1 0h1m1.5 0h1m-0.5 0h1m-1 0h1m-0.5 0h1m-0.5 0h1m-0.5 0h1m0.5 0h1m-1 0h1m-1 0h1m-0.5 0h1m-0.5 0h1m-0.5 0h1m-1 0h1m0 0h1m-1 0h1m-1 0h1m-1 0h1m-1 0h1m-0.5 0h1m-0.5 0h1m-0.5 0h1m-0.5 0h1m-1 0h1m-1 0h1m-0.5 0h1m-1 0h1m-0.5 0h1m-0.5 0h1m-1 0h1m-0.5 0h1m-0.5 0h1m-1 0h1m-1 0h1m-0.5 0h1m0 0h1m-0.5 0h1m-1 0h1m-1 0h1m-1 0h1m-1 0h1m-1 0h1m-0.5 0h1m-1 0h1m-1 0h1m-1 0h1m-1 0h1m0 0h1m-1 0h1m-1 0h1m0 0h1m-1 0h1m-0.5 0h1m-0.5 0h1m-0.5 0h1m0 0h1m-1 0h1m-0.5 0h1m0 0h1m-1 0h1m-0.5 0h1m-0.5 0h1m-0.5 0h1m0.5 0h1m1 0h1m-0.5 0h1m0 0h1m-47.5 0.5h1m-0.5 0h1m4 0h1m2.5 0h1m0 0h1m-0.5 0h1m-1 0h1m1.5 0h1m0 0h1m-1 0h1m-0.5 0h1m-1 0h1m1.5 0h1m-1 0h1m1 0h1m1 0h1m-0.5 0h1m-0.5 0h1m0.5 0h1m0 0h1m-0.5 0h1m1 0h1m-1 0h1m0 0h1m-1 0h1m-0.5 0h1m-0.5 0h1m-0.5 0h1m-0.5 0h1m-1 0h1m-1 0h1m-0.5 0h1m-1 0h1m-1 0h1m0 0h1m0 0h1m-0.5 0h1m-1 0h1m-1 0h1m-1 0h1m-1 0h1m-0.5 0h1m-1 0h1m-0.5 0h1m-1 0h1m-1 0h1m-0.5 0h1m-0.5 0h1m-1 0h1m-1 0h1m-0.5 0h1m-0.5 0h1m-1 0h1m-0.5 0h1m-1 0h1m-0.5 0h1m-0.5 0h1m-0.5 0h1m-0.5 0h1m-1 0h1m-1 0h1m-1 0h1m-1 0h1m0.5 0h1m-1 0h1m0.5 0h1m-0.5 0h1m-1 0h1m-0.5 0h1m0.5 0h1m-1 0h1m-0.5 0h1m-1 0h1m-1 0h1m-42.5 0.5h1m-1 0h1m1.5 0h1m0 0h1m-0.5 0h1m-0.5 0h1m-0.5 0h1m3.5 0h1m0 0h1m1.5 0h1m-0.5 0h1m0 0h1m0 0h1m1 0h1m1 0h1m0 0h1m-1 0h1m0 0h1m-1 0h1m0.5 0h1m0 0h1m-1 0h1m-1 0h1m-1 0h1m0 0h1m-1 0h1m-1 0h1m-1 0h1m-1 0h1m0 0h1m-1 0h1m-1 0h1m-1 0h1m0 0h1m-1 0h1m-1 0h1m-1 0h1m-1 0h1m-0.5 0h1m-0.5 0h1m-1 0h1m-0.5 0h1m-1 0h1m-1 0h1m-0.5 0h1m-1 0h1m-1 0h1m-1 0h1m-1 0h1m-1 0h1m-0.5 0h1m-1 0h1m0 0h1m-1 0h1m-1 0h1m0 0h1m-1 0h1m-1 0h1m-0.5 0h1m-1 0h1m-0.5 0h1m-0.5 0h1m0 0h1m-0.5 0h1m0.5 0h1m-1 0h1m-1 0h1m-0.5 0h1m-0.5 0h1m0 0h1m-1 0h1m0 0h1m0 0h1m0 0h1m-1 0h1m0 0h1m1.5 0h1m-0.5 0h1m1 0h1m-52 0.5h1m-0.5 0h1m0 0h1m2.5 0h1m2 0h1m-0.5 0h1m0 0h1m-1 0h1m1 0h1m1 0h1m0 0h1m-1 0h1m0.5 0h1m-0.5 0h1m6 0h1m-0.5 0h1m-1 0h1m-0.5 0h1m-0.5 0h1m-1 0h1m-0.5 0h1m-0.5 0h1m-0.5 0h1m-1 0h1m-0.5 0h1m-1 0h1m-0.5 0h1m-0.5 0h1m-0.5 0h1m-1 0h1m-0.5 0h1m-1 0h1m-0.5 0h1m-1 0h1m-1 0h1m-0.5 0h1m-1 0h1m-1 0h1m-1 0h1m-1 0h1m-0.5 0h1m-0.5 0h1m-1 0h1m-1 0h1m-1 0h1m-0.5 0h1m-1 0h1m-0.5 0h1m-0.5 0h1m-1 0h1m-1 0h1m-0.5 0h1m-0.5 0h1m0 0h1m-0.5 0h1m-1 0h1m-0.5 0h1m-0.5 0h1m-1 0h1m-1 0h1m-0.5 0h1m-0.5 0h1m-1 0h1m-0.5 0h1m-1 0h1m-1 0h1m-1 0h1m-1 0h1m-1 0h1m0 0h1m-1 0h1m0 0h1m-1 0h1m-0.5 0h1m-0.5 0h1m-0.5 0h1m0 0h1m0.5 0h1m0 0h1m-1 0h1m1 0h1m-0.5 0h1m1.5 0h1m1.5 0h1m-51.5 0.5h1m0 0h1m1 0h1m-0.5 0h1m1 0h1m0 0h1m0.5 0h1m-1 0h1m1.5 0h1m1 0h1m1.5 0h1m-0.5 0h1m0 0h1m-0.5 0h1m3.5 0h1m-0.5 0h1m-0.5 0h1m-1 0h1m-1 0h1m-0.5 0h1m-1 0h1m0.5 0h1m-1 0h1m-0.5 0h1m0.5 0h1m-0.5 0h1m-0.5 0h1m-0.5 0h1m-1 0h1m-0.5 0h1m-1 0h1m-1 0h1m-1 0h1m-0.5 0h1m-0.5 0h1m-1 0h1m-1 0h1m-1 0h1m-0.5 0h1m-1 0h1m-0.5 0h1m-1 0h1m-1 0h1m-0.5 0h1m-0.5 0h1m-1 0h1m-1 0h1m-1 0h1m0 0h1m-1 0h1m-1 0h1m-0.5 0h1m-1 0h1m-0.5 0h1m-1 0h1m-0.5 0h1m-1 0h1m-1 0h1m-1 0h1m-1 0h1m0.5 0h1m-1 0h1m-0.5 0h1m-1 0h1m-1 0h1m-1 0h1m-0.5 0h1m-0.5 0h1m1 0h1m0 0h1m-1 0h1m0.5 0h1m-1 0h1m-0.5 0h1m-1 0h1m1.5 0h1m-1 0h1m0.5 0h1m1 0h1m0.5 0h1m1 0h1m-50.5 0.5h1m0.5 0h1m0 0h1m-0.5 0h1m2 0h1m5.5 0h1m1.5 0h1m0.5 0h1m0.5 0h1m-0.5 0h1m-0.5 0h1m0.5 0h1m0 0h1m-0.5 0h1m0 0h1m-0.5 0h1m0.5 0h1m-1 0h1m0 0h1m-1 0h1m-0.5 0h1m-0.5 0h1m-1 0h1m-0.5 0h1m0 0h1m0 0h1m-0.5 0h1m-1 0h1m-0.5 0h1m-1 0h1m-0.5 0h1m0 0h1m-0.5 0h1m-1 0h1m-0.5 0h1m-1 0h1m-0.5 0h1m-1 0h1m-0.5 0h1m-1 0h1m-1 0h1m-0.5 0h1m-0.5 0h1m-1 0h1m-0.5 0h1m-0.5 0h1m-1 0h1m-0.5 0h1m0.5 0h1m0 0h1m0.5 0h1m-0.5 0h1m2.5 0h1m1 0h1m-47.5 0.5h1m1 0h1m-1 0h1m1.5 0h1m0.5 0h1m3.5 0h1m-0.5 0h1m1.5 0h1m0 0h1m-0.5 0h1m0 0h1m-0.5 0h1m-1 0h1m-0.5 0h1m-0.5 0h1m1 0h1m-1 0h1m-0.5 0h1m1 0h1m-0.5 0h1m-0.5 0h1m-0.5 0h1m0 0h1m-0.5 0h1m0.5 0h1m0 0h1m-1 0h1m-0.5 0h1m-0.5 0h1m-0.5 0h1m-0.5 0h1m-0.5 0h1m0.5 0h1m-1 0h1m-0.5 0h1m-0.5 0h1m-1 0h1m-0.5 0h1m-1 0h1m-1 0h1m-0.5 0h1m-1 0h1m-0.5 0h1m-1 0h1m-1 0h1m-0.5 0h1m-1 0h1m-0.5 0h1m-0.5 0h1m-0.5 0h1m-1 0h1m-0.5 0h1m-1 0h1m-1 0h1m0 0h1m0 0h1m-0.5 0h1m0 0h1m-0.5 0h1m-0.5 0h1m-1 0h1m1 0h1m-0.5 0h1m3 0h1m-44.5 0.5h1m-0.5 0h1m-0.5 0h1m-0.5 0h1m0 0h1m1.5 0h1m-0.5 0h1m-0.5 0h1m1 0h1m2.5 0h1m-0.5 0h1m-1 0h1m0 0h1m-0.5 0h1m-0.5 0h1m-0.5 0h1m1.5 0h1m-0.5 0h1m-1 0h1m-1 0h1m0.5 0h1m-0.5 0h1m-0.5 0h1m-0.5 0h1m-0.5 0h1m-0.5 0h1m-1 0h1m-0.5 0h1m0 0h1m-1 0h1m-0.5 0h1m-1 0h1m-1 0h1m-0.5 0h1m-0.5 0h1m-1 0h1m-0.5 0h1m-1 0h1m-1 0h1m-1 0h1m-0.5 0h1m-0.5 0h1m-0.5 0h1m-1 0h1m-0.5 0h1m-0.5 0h1m-0.5 0h1m0 0h1m-1 0h1m-1 0h1m-0.5 0h1m-1 0h1m-1 0h1m-0.5 0h1m-0.5 0h1m-1 0h1m-1 0h1m-1 0h1m-0.5 0h1m0 0h1m-1 0h1m-1 0h1m-1 0h1m0 0h1m-0.5 0h1m-1 0h1m-1 0h1m-1 0h1m-1 0h1m-0.5 0h1m1 0h1m-1 0h1m-1 0h1m0 0h1m2.5 0h1m2.5 0h1m-50.5 0.5h1m2.5 0h1m2.5 0h1m1 0h1m4 0h1m1.5 0h1m-1 0h1m-0.5 0h1m-0.5 0h1m-0.5 0h1m-0.5 0h1m-0.5 0h1m0 0h1m-0.5 0h1m0 0h1m-1 0h1m1 0h1m-0.5 0h1m-0.5 0h1m-1 0h1m-0.5 0h1m-0.5 0h1m-1 0h1m-1 0h1m-1 0h1m-0.5 0h1m-1 0h1m-0.5 0h1m-0.5 0h1m-1 0h1m-0.5 0h1m-1 0h1m-0.5 0h1m-1 0h1m-0.5 0h1m-1 0h1m0 0h1m0.5 0h1m-0.5 0h1m-0.5 0h1m-1 0h1m-0.5 0h1m-1 0h1m-0.5 0h1m-0.5 0h1m-1 0h1m-0.5 0h1m-0.5 0h1m-1 0h1m-0.5 0h1m-1 0h1m-1 0h1m0 0h1m-0.5 0h1m-0.5 0h1m-1 0h1m-0.5 0h1m-0.5 0h1m-0.5 0h1m0 0h1m-0.5 0h1m-0.5 0h1m1 0h1m-0.5 0h1m9.5 0h1m-53.5 0.5h1m1 0h1m0.5 0h1m3 0h1m1.5 0h1m0.5 0h1m0.5 0h1m1 0h1m0 0h1m1 0h1m-1 0h1m0.5 0h1m-1 0h1m-0.5 0h1m0 0h1m0 0h1m0 0h1m-1 0h1m-0.5 0h1m-0.5 0h1m0 0h1m0 0h1m-0.5 0h1m-0.5 0h1m0 0h1m-0.5 0h1m-1 0h1m0 0h1m-1 0h1m-0.5 0h1m-1 0h1m1 0h1m0.5 0h1m-1 0h1m-0.5 0h1m0 0h1m-0.5 0h1m-0.5 0h1m-1 0h1m0 0h1m-1 0h1m-0.5 0h1m-0.5 0h1m-0.5 0h1m0.5 0h1m-0.5 0h1m0.5 0h1m0 0h1m6 0h1m-53 0.5h1m1.5 0h1m0.5 0h1m1.5 0h1m1 0h1m1 0h1m0 0h1m-0.5 0h1m1 0h1m0 0h1m1.5 0h1m-0.5 0h1m0.5 0h1m2.5 0h1m0 0h1m-0.5 0h1m-0.5 0h1m-0.5 0h1m-1 0h1m1 0h1m0 0h1m-0.5 0h1m-1 0h1m-1 0h1m0 0h1m-1 0h1m-0.5 0h1m-0.5 0h1m-0.5 0h1m-1 0h1m-1 0h1m-0.5 0h1m-1 0h1m-0.5 0h1m0 0h1m-1 0h1m1 0h1m0 0h1m-0.5 0h1m0 0h1m1 0h1m1.5 0h1m-39 0.5h1m3 0h1m0.5 0h1m0 0h1m0 0h1m-0.5 0h1m0 0h1m0.5 0h1m-0.5 0h1m1 0h1m0.5 0h1m-1 0h1m0 0h1m3 0h1m0 0h1m-0.5 0h1m0.5 0h1m-1 0h1m0 0h1m-0.5 0h1m0 0h1m-1 0h1m-0.5 0h1m-1 0h1m-0.5 0h1m-0.5 0h1m-1 0h1m-0.5 0h1m-1 0h1m1 0h1m0.5 0h1m0.5 0h1m0 0h1m-0.5 0h1m0 0h1m1.5 0h1m0 0h1m-1 0h1m0 0h1m-0.5 0h1m-1 0h1m1 0h1m-48.5 0.5h1m1 0h1m-0.5 0h1m6.5 0h1m0 0h1m-1 0h1m1 0h1m0 0h1m3 0h1m0 0h1m-0.5 0h1m-0.5 0h1m7.5 0h1m-0.5 0h1m-0.5 0h1m0.5 0h1m-1 0h1m0.5 0h1m-1 0h1m-0.5 0h1m-0.5 0h1m0 0h1m-1 0h1m-0.5 0h1m-0.5 0h1m-1 0h1m0.5 0h1m-1 0h1m-1 0h1m-1 0h1m-0.5 0h1m1.5 0h1m0 0h1m-1 0h1m1 0h1m11 0h1m-56.5 0.5h1m-0.5 0h1m2.5 0h1m4 0h1m-1 0h1m0 0h1m-1 0h1m0 0h1m2.5 0h1m0.5 0h1m4 0h1m0 0h1m2.5 0h1m0.5 0h1m-0.5 0h1m0 0h1m1 0h1m-0.5 0h1m0 0h1m2 0h1m4 0h1m5 0h1m-0.5 0h1m-47 0.5h1m8 0h1m-0.5 0h1m1.5 0h1m3.5 0h1m1 0h1m-1 0h1m0 0h1m-0.5 0h1m2 0h1m-0.5 0h1m0 0h1m-1 0h1m1.5 0h1m-1 0h1m0 0h1m0 0h1m1 0h1m0.5 0h1m0.5 0h1m-0.5 0h1m-1 0h1m-0.5 0h1m-0.5 0h1m-0.5 0h1m1 0h1m-0.5 0h1m1 0h1m2 0h1m-0.5 0h1m1 0h1m6 0h1m-46 0.5h1m0 0h1m1.5 0h1m2 0h1m7 0h1m-1 0h1m0 0h1m-0.5 0h1m-1 0h1m0.5 0h1m-0.5 0h1m0.5 0h1m-1 0h1m0 0h1m-0.5 0h1m0.5 0h1m-0.5 0h1m0 0h1m0 0h1m0 0h1m0 0h1m-0.5 0h1m-1 0h1m1 0h1m-0.5 0h1m1 0h1m1.5 0h1m-1 0h1m3.5 0h1m1.5 0h1m9.5 0h1m-59 0.5h1m3 0h1m4 0h1m-0.5 0h1m11.5 0h1m-0.5 0h1m1.5 0h1m-1 0h1m0.5 0h1m1 0h1m0.5 0h1m0.5 0h1m1.5 0h1m-1 0h1m0.5 0h1m-0.5 0h1m1.5 0h1m0 0h1m9 0h1m-1 0h1m-41.5 0.5h1m10.5 0h1m0 0h1m2 0h1m-0.5 0h1m1.5 0h1m-1 0h1m0 0h1m0.5 0h1m-0.5 0h1m-1 0h1m2 0h1m-0.5 0h1m9.5 0h1m-43.5 0.5h1m0.5 0h1m-1 0h1m0 0h1m0 0h1m1.5 0h1m7 0h1m-0.5 0h1m-1 0h1m0 0h1m-1 0h1m-0.5 0h1m0.5 0h1m0.5 0h1m1 0h1m-0.5 0h1m3 0h1m-0.5 0h1m-0.5 0h1m-0.5 0h1m0 0h1m3.5 0h1m2 0h1m0 0h1m1.5 0h1m1.5 0h1m-43 0.5h1m-0.5 0h1m-0.5 0h1m0 0h1m1.5 0h1m3 0h1m1.5 0h1m0 0h1m2.5 0h1m0.5 0h1m7 0h1m-0.5 0h1m0.5 0h1m-1 0h1m0 0h1m-0.5 0h1m-1 0h1m-0.5 0h1m-0.5 0h1m1 0h1m0 0h1m0.5 0h1m12.5 0h1m1 0h1m-50 0.5h1m6 0h1m2.5 0h1m-1 0h1m7 0h1m-0.5 0h1m-1 0h1m0.5 0h1m4.5 0h1m-1 0h1m-0.5 0h1m-1 0h1m3.5 0h1m0.5 0h1m-1 0h1m3 0h1m0.5 0h1m5 0h1m-36.5 0.5h1m-0.5 0h1m-1 0h1m0 0h1m0 0h1m0 0h1m5.5 0h1m0.5 0h1m-0.5 0h1m1.5 0h1m2 0h1m0 0h1m0 0h1m-1 0h1m1.5 0h1m1.5 0h1m1.5 0h1m-0.5 0h1m6.5 0h1m-45 0.5h1m7 0h1m-1 0h1m1.5 0h1m1 0h1m5 0h1m3 0h1m1.5 0h1m-1 0h1m-1 0h1m-0.5 0h1m1.5 0h1m2 0h1m0 0h1m-0.5 0h1m-39 0.5h1m1 0h1m4.5 0h1m1 0h1m-1 0h1m0 0h1m-1 0h1m0 0h1m-1 0h1m0.5 0h1m-0.5 0h1m0 0h1m-0.5 0h1m-0.5 0h1m-0.5 0h1m2 0h1m1 0h1m-0.5 0h1m-1 0h1m1.5 0h1m0.5 0h1m-0.5 0h1m0.5 0h1m-0.5 0h1m0 0h1m2 0h1m1 0h1m-0.5 0h1m-0.5 0h1m0.5 0h1m1 0h1m0 0h1m3 0h1m-40 0.5h1m1.5 0h1m1.5 0h1m-1 0h1m-0.5 0h1m0 0h1m-0.5 0h1m-1 0h1m-1 0h1m-1 0h1m-0.5 0h1m-0.5 0h1m-0.5 0h1m0 0h1m-1 0h1m2 0h1m-1 0h1m-0.5 0h1m-1 0h1m-0.5 0h1m0 0h1m-0.5 0h1m2 0h1m-0.5 0h1m0 0h1m4.5 0h1m-0.5 0h1m0.5 0h1m1.5 0h1m-0.5 0h1m-0.5 0h1m1.5 0h1m-1 0h1m2.5 0h1m2 0h1m1.5 0h1m-43.5 0.5h1m1.5 0h1m-1 0h1m0 0h1m-0.5 0h1m1 0h1m-0.5 0h1m0 0h1m-0.5 0h1m-1 0h1m-0.5 0h1m-0.5 0h1m-1 0h1m-1 0h1m-0.5 0h1m-0.5 0h1m-1 0h1m-0.5 0h1m-0.5 0h1m-0.5 0h1m-1 0h1m0.5 0h1m-0.5 0h1m-0.5 0h1m-1 0h1m0.5 0h1m0 0h1m0 0h1m0 0h1m6.5 0h1m3.5 0h1m1.5 0h1m-0.5 0h1m5 0h1m16 0h1m-58 0.5h1m0 0h1m2 0h1m-1 0h1m0 0h1m-1 0h1m-0.5 0h1m0 0h1m-1 0h1m0 0h1m-1 0h1m-1 0h1m-0.5 0h1m-0.5 0h1m0 0h1m-0.5 0h1m-1 0h1m-0.5 0h1m-0.5 0h1m-1 0h1m-0.5 0h1m-0.5 0h1m0 0h1m-1 0h1m-0.5 0h1m-1 0h1m-1 0h1m-1 0h1m-1 0h1m1.5 0h1m4.5 0h1m-0.5 0h1m0.5 0h1m-1 0h1m-0.5 0h1m1 0h1m1 0h1m0.5 0h1m0.5 0h1m2 0h1m0 0h1m-0.5 0h1m-32.5 0.5h1m-0.5 0h1m-1 0h1m1 0h1m-1 0h1m-0.5 0h1m-1 0h1m-1 0h1m1.5 0h1m0 0h1m-1 0h1m-1 0h1m-0.5 0h1m-1 0h1m-1 0h1m-1 0h1m-0.5 0h1m-1 0h1m0.5 0h1m-1 0h1m-0.5 0h1m-0.5 0h1m-1 0h1m-0.5 0h1m0.5 0h1m0.5 0h1m2.5 0h1m0 0h1m-1 0h1m-0.5 0h1m-0.5 0h1m0.5 0h1m1.5 0h1m6.5 0h1m-1 0h1m0 0h1m3 0h1m4.5 0h1m-43.5 0.5h1m2 0h1m-1 0h1m0 0h1m-0.5 0h1m-0.5 0h1m-0.5 0h1m-1 0h1m0 0h1m-1 0h1m-0.5 0h1m-0.5 0h1m-1 0h1m-1 0h1m-1 0h1m-0.5 0h1m0 0h1m-1 0h1m0 0h1m-1 0h1m-0.5 0h1m0 0h1m-1 0h1m0 0h1m0 0h1m1 0h1m0.5 0h1m-0.5 0h1m4.5 0h1m0.5 0h1m2.5 0h1m-0.5 0h1m0 0h1m0 0h1m1 0h1m0 0h1m2 0h1m5.5 0h1m-46.5 0.5h1m-0.5 0h1m5.5 0h1m-1 0h1m-1 0h1m-0.5 0h1m-1 0h1m-1 0h1m-0.5 0h1m0 0h1m-0.5 0h1m-0.5 0h1m-1 0h1m-1 0h1m-0.5 0h1m-0.5 0h1m-1 0h1m-1 0h1m-0.5 0h1m-0.5 0h1m-0.5 0h1m-1 0h1m-0.5 0h1m-0.5 0h1m-1 0h1m0 0h1m0 0h1m9 0h1m0.5 0h1m1.5 0h1m-1 0h1m1.5 0h1m1.5 0h1m0 0h1m5.5 0h1m1 0h1m2.5 0h1m-47.5 0.5h1m4 0h1m1 0h1m0.5 0h1m0.5 0h1m-0.5 0h1m0 0h1m-0.5 0h1m0 0h1m4.5 0h1m1 0h1m0.5 0h1m3.5 0h1m3 0h1m3.5 0h1m4 0h1m2 0h1m-38.5 0.5h1m0.5 0h1m0.5 0h1m0 0h1m0.5 0h1m-1 0h1m8.5 0h1m-1 0h1m1 0h1m2 0h1m0.5 0h1m-0.5 0h1m-0.5 0h1m0 0h1m-1 0h1m0.5 0h1m2.5 0h1m0.5 0h1m-0.5 0h1m-0.5 0h1m0 0h1m1 0h1m6 0h1m-46.5 0.5h1m-0.5 0h1m3 0h1m-1 0h1m1 0h1m-1 0h1m-0.5 0h1m0 0h1m1 0h1m-0.5 0h1m-0.5 0h1m2.5 0h1m0 0h1m2 0h1m0.5 0h1m2.5 0h1m0.5 0h1m-1 0h1m-0.5 0h1m3 0h1m0.5 0h1m-1 0h1m11 0h1m3 0h1m-45 0.5h1m4 0h1m-1 0h1m0 0h1m5 0h1m4.5 0h1m1.5 0h1m-0.5 0h1m2.5 0h1m-1 0h1m-1 0h1m-0.5 0h1m2 0h1m0.5 0h1m-0.5 0h1m0.5 0h1m9 0h1m-39 0.5h1m3.5 0h1m0 0h1m1 0h1m2 0h1m2.5 0h1m1.5 0h1m0 0h1m1.5 0h1m-0.5 0h1m0 0h1m0 0h1m1.5 0h1m-1 0h1m-0.5 0h1m0 0h1m4 0h1m0.5 0h1m3 0h1m-31 0.5h1m6.5 0h1m2.5 0h1m3.5 0h1m-1 0h1m-0.5 0h1m1.5 0h1m0.5 0h1m0.5 0h1m4.5 0h1m-0.5 0h1m1 0h1m3.5 0h1m-36.5 0.5h1m2.5 0h1m-0.5 0h1m0 0h1m2.5 0h1m2.5 0h1m-0.5 0h1m-0.5 0h1m0 0h1m1 0h1m0 0h1m2.5 0h1m0 0h1m-1 0h1m1.5 0h1m0 0h1m0.5 0h1m4.5 0h1m-38.5 0.5h1m11.5 0h1m0.5 0h1m1 0h1m1.5 0h1m1 0h1m0.5 0h1m0 0h1m-0.5 0h1m2.5 0h1m2.5 0h1m2 0h1m0 0h1m-41.5 0.5h1m12.5 0h1m1.5 0h1m2.5 0h1m1 0h1m1 0h1m1.5 0h1m-1 0h1m0 0h1m6.5 0h1m0.5 0h1m4 0h1m7 0h1m-0.5 0h1m7 0h1m-49.5 0.5h1m6 0h1m0.5 0h1m0 0h1m0.5 0h1m3.5 0h1m-1 0h1m1.5 0h1m0.5 0h1m4.5 0h1m0 0h1m-0.5 0h1m8.5 0h1m2 0h1m-33.5 0.5h1m4 0h1m1 0h1m-0.5 0h1m3 0h1m6 0h1m-1 0h1m-1 0h1m8.5 0h1m2 0h1m-40 0.5h1m6.5 0h1m8.5 0h1m0 0h1m5 0h1m0.5 0h1m-0.5 0h1m1.5 0h1m-0.5 0h1m-21.5 0.5h1m0 0h1m2.5 0h1m8.5 0h1m1 0h1m-0.5 0h1m0 0h1m0 0h1m0 0h1m2 0h1m5 0h1m-31.5 0.5h1m1.5 0h1m1 0h1m-0.5 0h1m3 0h1m-0.5 0h1m-1 0h1m-1 0h1m2 0h1m5 0h1m-0.5 0h1m11 0h1m-40.5 0.5h1m10 0h1m1 0h1m1.5 0h1m-1 0h1m11 0h1m1 0h1m4.5 0h1m-39.5 0.5h1m14.5 0h1m1.5 0h1m0.5 0h1m5.5 0h1m-1 0h1m2.5 0h1m0 0h1m-0.5 0h1m8.5 0h1m-31.5 0.5h1m1 0h1m6 0h1m2.5 0h1m1 0h1m-0.5 0h1m3.5 0h1m0.5 0h1m0 0h1m-0.5 0h1m0.5 0h1m4 0h1m1 0h1m-24.5 0.5h1m0.5 0h1m4.5 0h1m2 0h1m0 0h1m2 0h1m-12 0.5h1m0.5 0h1m2 0h1m0.5 0h1m1 0h1m2.5 0h1m0 0h1m-13 0.5h1m2.5 0h1m1 0h1m-0.5 0h1m0 0h1m-1 0h1m2 0h1m2 0h1m-1 0h1m2 0h1m-25.5 0.5h1m1 0h1m0.5 0h1m7.5 0h1m0.5 0h1m-0.5 0h1m1.5 0h1m-1 0h1m1 0h1m5 0h1m-18.5 0.5h1m0 0h1m1 0h1m4 0h1m13 0h1m-24.5 0.5h1m4.5 0h1m0 0h1m12 0h1m-7.5 0.5h1m-18 0.5h1m0 0h1m4 0h1m-0.5 0h1m4.5 0h1m4.5 0h1m6.5 0h1m2.5 0h1m15.5 0h1m-39 0.5h1" stroke="#000" stroke-opacity="0.6" stroke-width="1" fill="none" filter="url(#bl)"/>
<rect x="139" y="284.9" width="23.15" height="12.1" fill="#fff"/>
<rect x="186.25" y="284.9" width="22.95" height="12.1" fill="#fff"/>
<rect x="139" y="345.36" width="24.05" height="10.84" fill="#fff"/>
<rect x="186.25" y="345.36" width="22.95" height="10.84" fill="#fff"/>
<rect x="138.2" y="284.3" width="71.8" height="72.5" fill="none" stroke="#a8a8a8" stroke-width="1.1"/>
<path d="M139.4 285.3V356.8M138.2 355.6H209" stroke="#c8c8c8" stroke-width="1" stroke-dasharray="1 2" fill="none"/>
<path d="M160.2 356.8H189.2" stroke="#8a8a8a" stroke-width="1" fill="none"/>
<path d="M160.5 284.3V356.8M138.2 338H210" stroke="#555" stroke-width="1.3" fill="none"/>
<text transform="translate(139.7 295) scale(1.02 1)" font-size="10.2" text-anchor="start">3.82</text>
<text transform="translate(208.7 295) scale(1.02 1)" font-size="10.2" text-anchor="end">39.7</text>
<text transform="translate(140.6 355.1) scale(1.02 1)" font-size="10.2" text-anchor="start">49.5</text>
<text transform="translate(208.7 355.1) scale(1.02 1)" font-size="10.2" text-anchor="end">7.01</text>
<path d="M131.8 357.4l1 0.7l2.6-1.8M131.8 339.28l1 0.7l2.6-1.8M131.8 321.15l1 0.7l2.6-1.8M131.8 303.03l1 0.7l2.6-1.8M131.8 284.9l1 0.7l2.6-1.8M136 361.1l1 0.8l2.8-1.9M153.95 361.1l1 0.8l2.8-1.9M171.9 361.1l1 0.8l2.8-1.9M189.85 361.1l1 0.8l2.8-1.9M207.8 361.1l1 0.8l2.8-1.9" stroke="#8a8a8a" stroke-width="1.0" fill="none"/>
<text transform="translate(61.83 375.43) scale(0.979 1)" font-size="13.53" fill="#000">CD161</text>
<text transform="translate(148.77 375.43) scale(0.989 1)" font-size="13.74" fill="#000">NKp44</text>
<text transform="translate(212.71 237.42) scale(1.036 1)" font-size="13.32" fill="#000">hESC</text>
<text transform="translate(216.35 324.52) scale(1.009 1)" font-size="13.68" fill="#000">UCB</text>
<text transform="translate(261.44 207.72) scale(0.963 1)" font-size="15.97" fill="#000">C</text>
<polygon points="311,269.4 311,269.4 311.5,269.09 312,268.29 312.5,267.13 313,265.8 313.5,263.84 314,261 314.5,257.69 315,254.33 315.5,250.71 316,246.74 316.5,242.57 317,238.34 317.5,234.2 318,230.12 318.5,225.84 319,221.54 319.5,217.41 320,213.62 320.5,210.36 321,207.2 321.5,204.16 322,202.12 322.5,201.89 323,203.59 323.5,206.49 324,209.86 324.5,213.09 325,216.8 325.5,220.96 326,225.31 326.5,229.55 327,233.4 327.5,236.85 328,240.14 328.5,243.3 329,246.38 329.5,249.43 330,252.5 330.5,255.65 331,259.21 331.5,262.65 332,265.08 332.5,266.68 333,268.06 333.5,269.03 334,269.4 334,269.4" fill="#b8b8b8"/>
<polyline points="288,269.1 288.5,269.1 289,269.09 289.5,269.09 290,269.08 290.5,269.06 291,269.04 291.5,269.02 292,268.99 292.5,268.96 293,268.93 293.5,268.89 294,268.84 294.5,268.79 295,268.74 295.5,268.58 296,268.22 296.5,267.7 297,267.02 297.5,266.22 298,264.77 298.5,262.37 299,259.34 299.5,256.03 300,252.65 300.5,248.89 301,244.62 301.5,239.78 302,234.29 302.5,226.83 303,217.06 303.5,208.96 304,204.19 304.5,201.78 305,203.79 305.5,207.9 306,213.77 306.5,221.8 307,230.11 307.5,237.46 308,244.84 308.5,251.49 309,256.59 309.5,261.15 310,264.86 310.5,266.94 311,267.85 311.5,268.49 312,268.74 312.5,268.75 313,268.76 313.5,268.77 314,268.78 314.5,268.79 315,268.8 315.5,268.81 316,268.82 316.5,268.83 317,268.84 317.5,268.85 318,268.86 318.5,268.87 319,268.88 319.5,268.89 320,268.89 320.5,268.9 321,268.91 321.5,268.92 322,268.92 322.5,268.93 323,268.94 323.5,268.94 324,268.95 324.5,268.96 325,268.96 325.5,268.97 326,268.98 326.5,268.98 327,268.99 327.5,268.99 328,269 328.5,269 329,269.01 329.5,269.01 330,269.02 330.5,269.02 331,269.02 331.5,269.03 332,269.03 332.5,269.04 333,269.04 333.5,269.04 334,269.05 334.5,269.05 335,269.05 335.5,269.06 336,269.06 336.5,269.06 337,269.06 337.5,269.07 338,269.07 338.5,269.07 339,269.07 339.5,269.07 340,269.08 340.5,269.08 341,269.08 341.5,269.08 342,269.08 342.5,269.08 343,269.09 343.5,269.09 344,269.09 344.5,269.09 345,269.09 345.5,269.09 346,269.09 346.5,269.09 347,269.09 347.5,269.09 348,269.1 348.5,269.1 349,269.1 349.5,269.1 350,269.1 350.5,269.1 351,269.1 351.5,269.1 352,269.1 352.5,269.1 353,269.1 353.5,269.1 354,269.1 354.5,269.1 355,269.1 355.5,269.1 356,269.1 356.5,269.1 357,269.1" fill="none" stroke="#1a1a1a" stroke-width="1.05" stroke-linejoin="round"/>
<rect x="286.6" y="197.4" width="71.9" height="72" fill="none" stroke="#909090" stroke-width="0.9"/>
<path d="M285.2 198.4V269.4M286.6 270.6H357.5" stroke="#bbb" stroke-width="0.8" stroke-dasharray="0.8 2.6" fill="none"/>
<path d="M279.2 269.4h3.4M279.2 255.66h3.4M279.2 241.92h3.4M279.2 228.18h3.4M279.2 214.44h3.4M279.2 200.7h3.4M285 273.6h3.2M302.98 273.6h3.2M320.95 273.6h3.2M338.92 273.6h3.2M356.9 273.6h3.2" stroke="#b4b4b4" stroke-width="1.1" fill="none"/>
<polygon points="402.5,269.4 402.5,269.4 403,268.51 403.5,267.56 404,266.52 404.5,265.41 405,264.26 405.5,263.06 406,261.79 406.5,260.46 407,259.06 407.5,257.57 408,255.99 408.5,254.31 409,252.44 409.5,250.4 410,248.21 410.5,245.9 411,243.49 411.5,241.01 412,238.48 412.5,235.94 413,233.4 413.5,230.73 414,227.82 414.5,224.76 415,221.64 415.5,218.55 416,215.57 416.5,212.79 417,210.31 417.5,208.2 418,206.19 418.5,204.24 419,202.85 419.5,202.48 420,203.66 420.5,206.02 421,208.94 421.5,211.8 422,214.62 422.5,217.78 423,221.17 423.5,224.66 424,228.14 424.5,231.49 425,234.64 425.5,237.74 426,240.83 426.5,243.88 427,246.85 427.5,249.72 428,252.44 428.5,255 429,257.46 429.5,259.85 430,262.09 430.5,264.11 431,265.8 431.5,267.22 432,268.43 432.5,269.4 432.5,269.4" fill="#b8b8b8"/>
<polyline points="379,269.1 379.5,269.1 380,269.09 380.5,269.08 381,269.06 381.5,269.04 382,269.02 382.5,268.99 383,268.95 383.5,268.91 384,268.86 384.5,268.8 385,268.74 385.5,268.56 386,268.18 386.5,267.64 387,266.97 387.5,266.22 388,265.19 388.5,263.71 389,261.86 389.5,259.69 390,257.28 390.5,254.7 391,251.75 391.5,248.2 392,244.09 392.5,239.41 393,234.2 393.5,227.4 394,218.43 394.5,210.26 395,204.8 395.5,201.78 396,204.26 396.5,208.85 397,215.2 397.5,222.98 398,230.53 398.5,236.65 399,242.4 399.5,247.71 400,252.35 400.5,256.15 401,259.7 401.5,262.88 402,265.4 402.5,266.94 403,267.83 403.5,268.48 404,268.74 404.5,268.75 405,268.76 405.5,268.77 406,268.78 406.5,268.79 407,268.8 407.5,268.81 408,268.82 408.5,268.83 409,268.84 409.5,268.85 410,268.86 410.5,268.87 411,268.88 411.5,268.89 412,268.89 412.5,268.9 413,268.91 413.5,268.92 414,268.92 414.5,268.93 415,268.94 415.5,268.94 416,268.95 416.5,268.96 417,268.96 417.5,268.97 418,268.98 418.5,268.98 419,268.99 419.5,268.99 420,269 420.5,269 421,269.01 421.5,269.01 422,269.02 422.5,269.02 423,269.02 423.5,269.03 424,269.03 424.5,269.04 425,269.04 425.5,269.04 426,269.05 426.5,269.05 427,269.05 427.5,269.06 428,269.06 428.5,269.06 429,269.06 429.5,269.07 430,269.07 430.5,269.07 431,269.07 431.5,269.07 432,269.08 432.5,269.08 433,269.08 433.5,269.08 434,269.08 434.5,269.08 435,269.09 435.5,269.09 436,269.09 436.5,269.09 437,269.09 437.5,269.09 438,269.09 438.5,269.09 439,269.09 439.5,269.09 440,269.1 440.5,269.1 441,269.1 441.5,269.1 442,269.1 442.5,269.1 443,269.1 443.5,269.1 444,269.1 444.5,269.1 445,269.1 445.5,269.1 446,269.1 446.5,269.1 447,269.1 447.5,269.1 448,269.1 448.5,269.1 449,269.1" fill="none" stroke="#1a1a1a" stroke-width="1.05" stroke-linejoin="round"/>
<rect x="377.6" y="197.4" width="72.1" height="72" fill="none" stroke="#909090" stroke-width="0.9"/>
<path d="M376.2 198.4V269.4M377.6 270.6H448.7" stroke="#bbb" stroke-width="0.8" stroke-dasharray="0.8 2.6" fill="none"/>
<path d="M370.2 269.4h3.4M370.2 255.66h3.4M370.2 241.92h3.4M370.2 228.18h3.4M370.2 214.44h3.4M370.2 200.7h3.4M376 273.6h3.2M394.02 273.6h3.2M412.05 273.6h3.2M430.07 273.6h3.2M448.1 273.6h3.2" stroke="#b4b4b4" stroke-width="1.1" fill="none"/>
<polygon points="295.5,355 295.5,355 296,352.73 296.5,349.72 297,347.03 297.5,343.03 298,340.47 298.5,337.12 299,332.27 299.5,328.8 300,322.96 300.5,317.79 301,313.32 301.5,306.78 302,300.9 302.5,296.22 303,292.64 303.5,288.4 304,288.01 304.5,287.13 305,289.5 305.5,291.41 306,295.46 306.5,297.54 307,299.64 307.5,302.12 308,302.76 308.5,304.84 309,306.3 309.5,305.78 310,306.07 310.5,305.95 311,304.17 311.5,302.93 312,301.69 312.5,300.05 313,298.04 313.5,298.03 314,297.38 314.5,299.54 315,300.43 315.5,301.34 316,303.28 316.5,309.64 317,311.22 317.5,315.93 318,320.54 318.5,323.17 319,327.16 319.5,329.6 320,331.81 320.5,335.98 321,338 321.5,339.81 322,342.2 322.5,344.43 323,346.09 323.5,347.12 324,348.36 324.5,349.81 325,350.32 325.5,351.27 326,352.35 326.5,353.49 327,354.05 327.5,354.85 327.5,355" fill="#b8b8b8"/>
<polyline points="287.5,354.7 288,354.58 288.5,354.25 289,353.77 289.5,353.18 290,352.53 290.5,351.69 291,350.52 291.5,349.06 292,347.36 292.5,345.46 293,343.4 293.5,341.21 294,338.58 294.5,335.42 295,331.87 295.5,328.02 296,324.01 296.5,319.95 297,315.41 297.5,310.29 298,305.14 298.5,300.51 299,296.83 299.5,293.19 300,289.8 300.5,287.21 301,285.96 301.5,286.15 302,286.97 302.5,288.18 303,289.54 303.5,291.14 304,293.29 304.5,296.13 305,300.14 305.5,307.59 306,316.56 306.5,325.25 307,334.66 307.5,341.67 308,345.86 308.5,349.07 309,351.08 309.5,352.3 310,353.2 310.5,353.61 311,353.72 311.5,353.82 312,353.9 312.5,353.98 313,354.04 313.5,354.1 314,354.15 314.5,354.19 315,354.22 315.5,354.25 316,354.28 316.5,354.3 317,354.31 317.5,354.33 318,354.34 318.5,354.35 319,354.36 319.5,354.37 320,354.38 320.5,354.39 321,354.4 321.5,354.41 322,354.42 322.5,354.42 323,354.43 323.5,354.44 324,354.45 324.5,354.46 325,354.47 325.5,354.47 326,354.48 326.5,354.49 327,354.5 327.5,354.51 328,354.51 328.5,354.52 329,354.53 329.5,354.53 330,354.54 330.5,354.55 331,354.55 331.5,354.56 332,354.56 332.5,354.57 333,354.58 333.5,354.58 334,354.59 334.5,354.59 335,354.6 335.5,354.6 336,354.61 336.5,354.61 337,354.62 337.5,354.62 338,354.62 338.5,354.63 339,354.63 339.5,354.64 340,354.64 340.5,354.64 341,354.65 341.5,354.65 342,354.65 342.5,354.66 343,354.66 343.5,354.66 344,354.67 344.5,354.67 345,354.67 345.5,354.67 346,354.68 346.5,354.68 347,354.68 347.5,354.68 348,354.68 348.5,354.69 349,354.69 349.5,354.69 350,354.69 350.5,354.69 351,354.69 351.5,354.69 352,354.7 352.5,354.7 353,354.7 353.5,354.7 354,354.7 354.5,354.7 355,354.7 355.5,354.7 356,354.7 356.5,354.7 357,354.7" fill="none" stroke="#1a1a1a" stroke-width="1.05" stroke-linejoin="round"/>
<rect x="286.6" y="282.6" width="72.2" height="72.4" fill="none" stroke="#909090" stroke-width="0.9"/>
<path d="M285.2 283.6V355M286.6 356.2H357.8" stroke="#bbb" stroke-width="0.8" stroke-dasharray="0.8 2.6" fill="none"/>
<path d="M279.2 355h3.4M279.2 341.18h3.4M279.2 327.36h3.4M279.2 313.54h3.4M279.2 299.72h3.4M279.2 285.9h3.4M285 359.2h3.2M303.05 359.2h3.2M321.1 359.2h3.2M339.15 359.2h3.2M357.2 359.2h3.2" stroke="#b4b4b4" stroke-width="1.1" fill="none"/>
<polygon points="390,355 390,355 390.5,353.2 391,350.36 391.5,348.2 392,345.75 392.5,341.52 393,338.43 393.5,333.98 394,330.42 394.5,325.66 395,319.87 395.5,313.99 396,306.19 396.5,296.34 397,290.9 397.5,292.09 398,295.3 398.5,293.94 399,298.5 399.5,297.61 400,301.15 400.5,302.35 401,304.92 401.5,303.69 402,303.64 402.5,304.39 403,305.15 403.5,304.69 404,303.4 404.5,304.82 405,302.96 405.5,306.41 406,304.4 406.5,304.4 407,305.38 407.5,305.69 408,307.18 408.5,308.11 409,310.43 409.5,312.76 410,314.48 410.5,315.24 411,318.07 411.5,321.03 412,323.46 412.5,325.99 413,327.77 413.5,330.69 414,331.92 414.5,335.2 415,337.87 415.5,340.11 416,341.77 416.5,343.84 417,345.21 417.5,346.81 418,349.22 418.5,350.67 419,351.51 419.5,352.45 420,353.08 420.5,353.91 421,354.75 421,355" fill="#b8b8b8"/>
<polyline points="378.5,354.7 379,354.58 379.5,354.25 380,353.77 380.5,353.18 381,352.53 381.5,351.68 382,350.49 382.5,349 383,347.29 383.5,345.39 384,343.35 384.5,341.23 385,338.83 385.5,336.07 386,333 386.5,329.65 387,326.06 387.5,322.29 388,318.25 388.5,313.19 389,307.63 389.5,302.37 390,298.23 390.5,294.83 391,291.51 391.5,288.66 392,286.67 392.5,285.92 393,286.75 393.5,288.7 394,290.99 394.5,293.48 395,296.7 395.5,301.08 396,307.31 396.5,314.4 397,321.3 397.5,328.7 398,336.02 398.5,341.67 399,345.77 399.5,349.11 400,351.08 400.5,352.07 401,352.84 401.5,353.36 402,353.61 402.5,353.71 403,353.8 403.5,353.88 404,353.95 404.5,354.01 405,354.07 405.5,354.12 406,354.16 406.5,354.2 407,354.23 407.5,354.26 408,354.28 408.5,354.3 409,354.31 409.5,354.33 410,354.34 410.5,354.35 411,354.36 411.5,354.37 412,354.38 412.5,354.39 413,354.4 413.5,354.41 414,354.41 414.5,354.42 415,354.43 415.5,354.44 416,354.45 416.5,354.46 417,354.47 417.5,354.47 418,354.48 418.5,354.49 419,354.5 419.5,354.5 420,354.51 420.5,354.52 421,354.52 421.5,354.53 422,354.54 422.5,354.54 423,354.55 423.5,354.56 424,354.56 424.5,354.57 425,354.57 425.5,354.58 426,354.58 426.5,354.59 427,354.6 427.5,354.6 428,354.61 428.5,354.61 429,354.61 429.5,354.62 430,354.62 430.5,354.63 431,354.63 431.5,354.64 432,354.64 432.5,354.64 433,354.65 433.5,354.65 434,354.65 434.5,354.66 435,354.66 435.5,354.66 436,354.67 436.5,354.67 437,354.67 437.5,354.67 438,354.68 438.5,354.68 439,354.68 439.5,354.68 440,354.68 440.5,354.69 441,354.69 441.5,354.69 442,354.69 442.5,354.69 443,354.69 443.5,354.69 444,354.7 444.5,354.7 445,354.7 445.5,354.7 446,354.7 446.5,354.7 447,354.7 447.5,354.7 448,354.7 448.5,354.7 449,354.7" fill="none" stroke="#1a1a1a" stroke-width="1.05" stroke-linejoin="round"/>
<rect x="377.6" y="282.6" width="72.2" height="72.4" fill="none" stroke="#909090" stroke-width="0.9"/>
<path d="M376.2 283.6V355M377.6 356.2H448.8" stroke="#bbb" stroke-width="0.8" stroke-dasharray="0.8 2.6" fill="none"/>
<path d="M370.2 355h3.4M370.2 341.18h3.4M370.2 327.36h3.4M370.2 313.54h3.4M370.2 299.72h3.4M370.2 285.9h3.4M376 359.2h3.2M394.05 359.2h3.2M412.1 359.2h3.2M430.15 359.2h3.2M448.2 359.2h3.2" stroke="#b4b4b4" stroke-width="1.1" fill="none"/>
<text transform="translate(332.67 211.82) scale(1.023 1)" font-size="11.39" fill="#000">95.3</text>
<text transform="translate(422.26 210.32) scale(1.002 1)" font-size="11.39" fill="#000">193.0</text>
<text transform="translate(331.81 297.12) scale(0.925 1)" font-size="11.85" fill="#000">45.1</text>
<text transform="translate(427.95 297.82) scale(0.953 1)" font-size="12.10" fill="#000">60.0</text>
<text transform="translate(294.19 371.82) scale(1.111 1)" font-size="10.56" fill="#000">Perforin</text>
<text transform="translate(379.1 369.62) scale(1.083 1)" font-size="10.67" fill="#000">Granzyme B</text>
<text transform="translate(457.21 241.52) scale(1.031 1)" font-size="13.46" fill="#000">hESC</text>
<text transform="translate(455.95 320.82) scale(1.024 1)" font-size="13.39" fill="#000">UCB</text>
<text transform="translate(0.1 403.52) scale(0.955 1)" font-size="16.21" fill="#000">D</text>
<clipPath id="dc0"><rect x="74.6" y="380" width="123.9" height="97.4"/></clipPath>
<path d="M74.6 394.6V477.4H190.5" stroke="#000" stroke-width="1.3" fill="none"/>
<path d="M71.6 477.4h3M71.6 460.84h3M71.6 444.28h3M71.6 427.72h3M71.6 411.16h3M71.6 394.6h3M86.9 477.4v3M111.2 477.4v3M135.6 477.4v3M160.6 477.4v3M185.5 477.4v3" stroke="#000" stroke-width="1.1" fill="none"/>
<text transform="translate(71.4 483) scale(1.08 1)" font-size="9.9" font-weight="normal" text-anchor="end" style="stroke-width:0.5px">0</text>
<text transform="translate(71.4 466.44) scale(1.08 1)" font-size="9.9" font-weight="normal" text-anchor="end" style="stroke-width:0.5px">20</text>
<text transform="translate(71.4 449.88) scale(1.08 1)" font-size="9.9" font-weight="normal" text-anchor="end" style="stroke-width:0.5px">40</text>
<text transform="translate(71.4 433.32) scale(1.08 1)" font-size="9.9" font-weight="normal" text-anchor="end" style="stroke-width:0.5px">60</text>
<text transform="translate(71.4 416.76) scale(1.08 1)" font-size="9.9" font-weight="normal" text-anchor="end" style="stroke-width:0.5px">80</text>
<text transform="translate(71.4 400.2) scale(1.08 1)" font-size="9.9" font-weight="normal" text-anchor="end" style="stroke-width:0.5px">100</text>
<text transform="translate(88.5 487) rotate(-45) scale(1.1 1)" font-size="9.4" text-anchor="end" style="stroke-width:0.05px">10:1</text>
<text transform="translate(112.8 487) rotate(-45) scale(1.1 1)" font-size="9.4" text-anchor="end" style="stroke-width:0.05px">5:1</text>
<text transform="translate(137.2 487) rotate(-45) scale(1.1 1)" font-size="9.4" text-anchor="end" style="stroke-width:0.05px">2.5:1</text>
<text transform="translate(162.2 487) rotate(-45) scale(1.1 1)" font-size="9.4" text-anchor="end" style="stroke-width:0.05px">1.25:1</text>
<text transform="translate(187.1 487) rotate(-45) scale(1.1 1)" font-size="9.4" text-anchor="end" style="stroke-width:0.05px">0.63:1</text>
<g clip-path="url(#dc0)">
<polyline points="86.9,441.8 111.2,450.08 135.6,459.18 160.6,467.46 185.5,473.26" fill="none" stroke="#000" stroke-width="1"/>
<polyline points="86.9,446.76 111.2,450.08 135.6,459.18 160.6,471.6 185.5,474.09" fill="none" stroke="#000" stroke-width="1"/>
<rect x="84" y="438.9" width="5.8" height="5.8" fill="#fff" stroke="#000" stroke-width="1.1"/>
<rect x="108.3" y="447.18" width="5.8" height="5.8" fill="#fff" stroke="#000" stroke-width="1.1"/>
<rect x="132.7" y="456.28" width="5.8" height="5.8" fill="#fff" stroke="#000" stroke-width="1.1"/>
<rect x="157.7" y="464.56" width="5.8" height="5.8" fill="#fff" stroke="#000" stroke-width="1.1"/>
<rect x="182.6" y="470.36" width="5.8" height="5.8" fill="#fff" stroke="#000" stroke-width="1.1"/>
<path d="M86.9 443.16L90.2 449.16L83.6 449.16Z" fill="#fff" stroke="#000" stroke-width="1.1"/>
<path d="M111.2 446.48L114.5 452.48L107.9 452.48Z" fill="#fff" stroke="#000" stroke-width="1.1"/>
<path d="M135.6 455.58L138.9 461.58L132.3 461.58Z" fill="#fff" stroke="#000" stroke-width="1.1"/>
<path d="M160.6 468L163.9 474L157.3 474Z" fill="#fff" stroke="#000" stroke-width="1.1"/>
<path d="M185.5 470.49L188.8 476.49L182.2 476.49Z" fill="#fff" stroke="#000" stroke-width="1.1"/>
</g>
<path d="M74.6 477.4H190.5" stroke="#000" stroke-width="1.3" fill="none"/>
<text transform="translate(121.99 401.72) scale(1.051 1)" font-size="11.10" fill="#000">K562</text>
<clipPath id="dc1"><rect x="230.6" y="380" width="125.00000000000003" height="97.3"/></clipPath>
<path d="M230.6 394.6V477.3H347.6" stroke="#000" stroke-width="1.3" fill="none"/>
<path d="M227.6 477.3h3M227.6 460.76h3M227.6 444.22h3M227.6 427.68h3M227.6 411.14h3M227.6 394.6h3M243.3 477.3v3M267.8 477.3v3M292.3 477.3v3M316.8 477.3v3M341.3 477.3v3" stroke="#000" stroke-width="1.1" fill="none"/>
<text transform="translate(227.4 482.9) scale(1.08 1)" font-size="9.9" font-weight="normal" text-anchor="end" style="stroke-width:0.5px">0</text>
<text transform="translate(227.4 466.36) scale(1.08 1)" font-size="9.9" font-weight="normal" text-anchor="end" style="stroke-width:0.5px">20</text>
<text transform="translate(227.4 449.82) scale(1.08 1)" font-size="9.9" font-weight="normal" text-anchor="end" style="stroke-width:0.5px">40</text>
<text transform="translate(227.4 433.28) scale(1.08 1)" font-size="9.9" font-weight="normal" text-anchor="end" style="stroke-width:0.5px">60</text>
<text transform="translate(227.4 416.74) scale(1.08 1)" font-size="9.9" font-weight="normal" text-anchor="end" style="stroke-width:0.5px">80</text>
<text transform="translate(227.4 400.2) scale(1.08 1)" font-size="9.9" font-weight="normal" text-anchor="end" style="stroke-width:0.5px">100</text>
<text transform="translate(244.9 486.9) rotate(-45) scale(1.1 1)" font-size="9.4" text-anchor="end" style="stroke-width:0.05px">10:1</text>
<text transform="translate(269.4 486.9) rotate(-45) scale(1.1 1)" font-size="9.4" text-anchor="end" style="stroke-width:0.05px">5:1</text>
<text transform="translate(293.9 486.9) rotate(-45) scale(1.1 1)" font-size="9.4" text-anchor="end" style="stroke-width:0.05px">2.5:1</text>
<text transform="translate(318.4 486.9) rotate(-45) scale(1.1 1)" font-size="9.4" text-anchor="end" style="stroke-width:0.05px">1.25:1</text>
<text transform="translate(342.9 486.9) rotate(-45) scale(1.1 1)" font-size="9.4" text-anchor="end" style="stroke-width:0.05px">0.63:1</text>
<g clip-path="url(#dc1)">
<polyline points="243.3,440.91 267.8,454.14 292.3,465.72 316.8,471.51 341.3,474.82" fill="none" stroke="#000" stroke-width="1"/>
<polyline points="243.3,439.26 267.8,453.32 292.3,464.9 316.8,469.03 341.3,473.99" fill="none" stroke="#000" stroke-width="1"/>
<rect x="240.4" y="438.01" width="5.8" height="5.8" fill="#fff" stroke="#000" stroke-width="1.1"/>
<rect x="264.9" y="451.24" width="5.8" height="5.8" fill="#fff" stroke="#000" stroke-width="1.1"/>
<rect x="289.4" y="462.82" width="5.8" height="5.8" fill="#fff" stroke="#000" stroke-width="1.1"/>
<rect x="313.9" y="468.61" width="5.8" height="5.8" fill="#fff" stroke="#000" stroke-width="1.1"/>
<rect x="338.4" y="471.92" width="5.8" height="5.8" fill="#fff" stroke="#000" stroke-width="1.1"/>
<path d="M243.3 435.66L246.6 441.66L240 441.66Z" fill="#fff" stroke="#000" stroke-width="1.1"/>
<path d="M267.8 449.72L271.1 455.72L264.5 455.72Z" fill="#fff" stroke="#000" stroke-width="1.1"/>
<path d="M292.3 461.3L295.6 467.3L289 467.3Z" fill="#fff" stroke="#000" stroke-width="1.1"/>
<path d="M316.8 465.43L320.1 471.43L313.5 471.43Z" fill="#fff" stroke="#000" stroke-width="1.1"/>
<path d="M341.3 470.39L344.6 476.39L338 476.39Z" fill="#fff" stroke="#000" stroke-width="1.1"/>
</g>
<path d="M230.6 477.3H347.6" stroke="#000" stroke-width="1.3" fill="none"/>
<text transform="translate(281.21 400.93) scale(1.066 1)" font-size="10.67" fill="#000">PC3</text>
<clipPath id="dc2"><rect x="393.7" y="380" width="131.59999999999997" height="96.6"/></clipPath>
<path d="M393.7 394.5V476.6H517.3" stroke="#000" stroke-width="1.3" fill="none"/>
<path d="M390.7 476.6h3M390.7 460.18h3M390.7 443.76h3M390.7 427.34h3M390.7 410.92h3M390.7 394.5h3M406.1 476.6v3M430.6 476.6v3M455.5 476.6v3M480 476.6v3M504.5 476.6v3" stroke="#000" stroke-width="1.1" fill="none"/>
<text transform="translate(390.5 482.2) scale(1.08 1)" font-size="9.9" font-weight="normal" text-anchor="end" style="stroke-width:0.5px">0</text>
<text transform="translate(390.5 465.78) scale(1.08 1)" font-size="9.9" font-weight="normal" text-anchor="end" style="stroke-width:0.5px">20</text>
<text transform="translate(390.5 449.36) scale(1.08 1)" font-size="9.9" font-weight="normal" text-anchor="end" style="stroke-width:0.5px">40</text>
<text transform="translate(390.5 432.94) scale(1.08 1)" font-size="9.9" font-weight="normal" text-anchor="end" style="stroke-width:0.5px">60</text>
<text transform="translate(390.5 416.52) scale(1.08 1)" font-size="9.9" font-weight="normal" text-anchor="end" style="stroke-width:0.5px">80</text>
<text transform="translate(390.5 400.1) scale(1.08 1)" font-size="9.9" font-weight="normal" text-anchor="end" style="stroke-width:0.5px">100</text>
<text transform="translate(407.7 486.2) rotate(-45) scale(1.1 1)" font-size="9.4" text-anchor="end" style="stroke-width:0.05px">10:1</text>
<text transform="translate(432.2 486.2) rotate(-45) scale(1.1 1)" font-size="9.4" text-anchor="end" style="stroke-width:0.05px">5:1</text>
<text transform="translate(457.1 486.2) rotate(-45) scale(1.1 1)" font-size="9.4" text-anchor="end" style="stroke-width:0.05px">2.5:1</text>
<text transform="translate(481.6 486.2) rotate(-45) scale(1.1 1)" font-size="9.4" text-anchor="end" style="stroke-width:0.05px">1.25:1</text>
<text transform="translate(506.1 486.2) rotate(-45) scale(1.1 1)" font-size="9.4" text-anchor="end" style="stroke-width:0.05px">0.63:1</text>
<g clip-path="url(#dc2)">
<polyline points="406.1,441.3 430.6,453.61 455.5,460.18 480,466.75 504.5,470.85" fill="none" stroke="#000" stroke-width="1"/>
<polyline points="406.1,430.62 430.6,455.25 455.5,468.39 480,475.78 504.5,481.53" fill="none" stroke="#000" stroke-width="1"/>
<rect x="403.2" y="438.4" width="5.8" height="5.8" fill="#fff" stroke="#000" stroke-width="1.1"/>
<rect x="427.7" y="450.71" width="5.8" height="5.8" fill="#fff" stroke="#000" stroke-width="1.1"/>
<rect x="452.6" y="457.28" width="5.8" height="5.8" fill="#fff" stroke="#000" stroke-width="1.1"/>
<rect x="477.1" y="463.85" width="5.8" height="5.8" fill="#fff" stroke="#000" stroke-width="1.1"/>
<rect x="501.6" y="467.95" width="5.8" height="5.8" fill="#fff" stroke="#000" stroke-width="1.1"/>
<path d="M406.1 427.02L409.4 433.02L402.8 433.02Z" fill="#fff" stroke="#000" stroke-width="1.1"/>
<path d="M430.6 451.65L433.9 457.65L427.3 457.65Z" fill="#fff" stroke="#000" stroke-width="1.1"/>
<path d="M455.5 464.79L458.8 470.79L452.2 470.79Z" fill="#fff" stroke="#000" stroke-width="1.1"/>
<path d="M480 472.18L483.3 478.18L476.7 478.18Z" fill="#fff" stroke="#000" stroke-width="1.1"/>
<path d="M504.5 477.93L507.8 483.93L501.2 483.93Z" fill="#fff" stroke="#000" stroke-width="1.1"/>
</g>
<path d="M393.7 476.6H517.3" stroke="#000" stroke-width="1.3" fill="none"/>
<text transform="translate(439.63 401.93) scale(0.948 1)" font-size="11.82" fill="#000">MCF7</text>
<text transform="translate(49.12 477.08) rotate(-90) scale(1.154 1)" font-size="8.90">% Specific Lysis</text>
<text transform="translate(265.67 527.23) scale(1.060 1)" font-size="11.39" fill="#000">E:T ratio</text>
<text transform="translate(0.08 557.73) scale(0.944 1)" font-size="16.79" fill="#000">E</text>
<polygon points="49.7,618.8 49.7,618.8 50.2,617.99 50.7,617.33 51.2,616.49 51.7,616.02 52.2,614.12 52.7,613.56 53.2,611.44 53.7,610.08 54.2,609.34 54.7,605.54 55.2,603.1 55.7,598.79 56.2,596.19 56.7,593.76 57.2,589.84 57.7,587.36 58.2,584.53 58.7,577.78 59.2,576.59 59.7,572.66 60.2,571.39 60.7,569.75 61.2,571.12 61.7,572.02 62.2,576.26 62.7,582.2 63.2,588.14 63.7,593.23 64.2,597.87 64.7,603.45 65.2,606.71 65.7,609.38 66.2,611.35 66.7,613.11 67.2,613.84 67.7,615.76 68.2,616.39 68.7,617.38 69.2,618.61 69.2,618.8" fill="#b8b8b8"/>
<polyline points="48.1,608.6 48.6,608.77 49.1,613.79 49.6,614.6 50.1,613.09 50.6,611.07 51.1,609.54 51.6,607.39 52.1,605.08 52.6,601.19 53.1,596.82 53.6,591.57 54.1,587.24 54.6,583.53 55.1,579.13 55.6,576.13 56.1,571.29 56.6,566.19 57.1,562.37 57.6,563.17 58.1,561.79 58.6,559.41 59.1,556.2 59.6,552.55 60.1,550.94 60.6,553.91 61.1,561.78 61.6,568.43 62.1,574.59 62.6,579.96 63.1,584.06 63.6,588.38 64.1,592.33 64.6,596.43 65.1,599.35 65.6,603.07 66.1,603.63 66.6,606.09 67.1,607.5 67.6,608.9 68.1,610.28 68.6,611.21 69.1,612.23 69.6,613 70.1,613.78 70.6,614.36 71.1,615.17 71.6,616.09 72.1,616.17 72.6,616.69 73.1,617.05 73.6,617.27 74.1,617.54 74.6,617.68 75.1,617.7 75.6,617.82 76.1,617.67 76.6,617.91 77.1,617.87 77.6,618.01 78.1,618.02 78.6,618.11 79.1,618.09 79.6,618.09 80.1,618.15 80.6,618.18 81.1,618.14 81.6,618.26 82.1,618.18 82.6,618.21 83.1,618.23 83.6,618.22 84.1,618.13 84.6,618.21 85.1,618.24 85.6,618.31 86.1,618.24 86.6,618.26 87.1,618.28 87.6,618.36 88.1,618.31 88.6,618.34 89.1,618.23 89.6,618.35 90.1,618.34 90.6,618.31 91.1,618.33 91.6,618.34 92.1,618.35 92.6,618.34 93.1,618.41 93.6,618.37 94.1,618.37 94.6,618.37 95.1,618.4 95.6,618.39 96.1,618.35 96.6,618.4 97.1,618.36 97.6,618.46 98.1,618.38 98.6,618.47 99.1,618.41 99.6,618.47 100.1,618.43 100.6,618.42 101.1,618.42 101.6,618.43 102.1,618.48 102.6,618.46 103.1,618.47 103.6,618.46 104.1,618.49 104.6,618.46 105.1,618.48 105.6,618.46 106.1,618.44 106.6,618.46 107.1,618.45 107.6,618.5 108.1,618.46 108.6,618.49 109.1,618.49 109.6,618.49 110.1,618.49 110.6,618.49 111.1,618.5 111.6,618.49 112.1,618.48 112.6,618.5 113.1,618.49 113.6,618.5 114.1,618.5 114.6,618.49 115.1,618.49 115.6,618.5 116.1,618.5 116.6,618.5 117.1,618.5 117.6,618.5 118.1,618.5 118.6,618.5" fill="none" stroke="#1a1a1a" stroke-width="1.05" stroke-linejoin="round"/>
<rect x="47.6" y="546.4" width="71.9" height="72.4" fill="none" stroke="#909090" stroke-width="0.9"/>
<path d="M46.2 547.4V618.8M47.6 620H118.5" stroke="#bbb" stroke-width="0.8" stroke-dasharray="0.8 2.6" fill="none"/>
<path d="M40.2 618.8h3.4M40.2 604.98h3.4M40.2 591.16h3.4M40.2 577.34h3.4M40.2 563.52h3.4M40.2 549.7h3.4M46 623h3.2M63.98 623h3.2M81.95 623h3.2M99.93 623h3.2M117.9 623h3.2" stroke="#b4b4b4" stroke-width="1.1" fill="none"/>
<polygon points="134.1,618.8 134.1,618.8 134.6,618.55 135.1,618.14 135.6,616.81 136.1,615.09 136.6,614.67 137.1,612.37 137.6,610.26 138.1,609.58 138.6,606.08 139.1,603.35 139.6,600.65 140.1,597.01 140.6,594.71 141.1,588.6 141.6,584.77 142.1,580.61 142.6,573.79 143.1,568.59 143.6,562.6 144.1,560.57 144.6,558.49 145.1,554.78 145.6,556.31 146.1,554.14 146.6,556.07 147.1,557.73 147.6,560.2 148.1,559.35 148.6,561.12 149.1,560.22 149.6,561.97 150.1,563.39 150.6,565.54 151.1,571.93 151.6,580.17 152.1,586.3 152.6,591.03 153.1,598.1 153.6,601.97 154.1,603.65 154.6,607.54 155.1,609.11 155.6,611.54 156.1,612.56 156.6,614.84 157.1,616.43 157.6,617.5 158.1,618.69 158.1,618.8" fill="#b8b8b8"/>
<polyline points="132.1,605.49 132.6,610.31 133.1,613.73 133.6,613.76 134.1,612.07 134.6,610.47 135.1,608.47 135.6,606.87 136.1,604.98 136.6,602.32 137.1,599.91 137.6,597.72 138.1,594.34 138.6,590.19 139.1,586.25 139.6,582.17 140.1,579.39 140.6,574.76 141.1,571.19 141.6,568.38 142.1,563.53 142.6,561.8 143.1,557.68 143.6,553.78 144.1,550.42 144.6,551.52 145.1,553.83 145.6,555.44 146.1,555.91 146.6,557.23 147.1,558.42 147.6,560.01 148.1,560.45 148.6,560.83 149.1,559.57 149.6,558.89 150.1,559.46 150.6,560.38 151.1,563.82 151.6,567.63 152.1,576.59 152.6,583.09 153.1,587.3 153.6,591.79 154.1,595.76 154.6,598.1 155.1,602.05 155.6,604.68 156.1,608.11 156.6,610.57 157.1,613.04 157.6,614.57 158.1,615.72 158.6,616.33 159.1,617.15 159.6,617.66 160.1,617.97 160.6,618.02 161.1,618.11 161.6,618.19 162.1,618.3 162.6,618.25 163.1,618.22 163.6,618.25 164.1,618.28 164.6,618.3 165.1,618.34 165.6,618.32 166.1,618.27 166.6,618.35 167.1,618.33 167.6,618.32 168.1,618.34 168.6,618.32 169.1,618.4 169.6,618.36 170.1,618.39 170.6,618.39 171.1,618.39 171.6,618.39 172.1,618.38 172.6,618.42 173.1,618.39 173.6,618.4 174.1,618.39 174.6,618.41 175.1,618.4 175.6,618.41 176.1,618.47 176.6,618.41 177.1,618.44 177.6,618.46 178.1,618.45 178.6,618.44 179.1,618.46 179.6,618.45 180.1,618.5 180.6,618.47 181.1,618.46 181.6,618.43 182.1,618.43 182.6,618.47 183.1,618.46 183.6,618.49 184.1,618.47 184.6,618.47 185.1,618.5 185.6,618.47 186.1,618.47 186.6,618.5 187.1,618.48 187.6,618.5 188.1,618.5 188.6,618.48 189.1,618.48 189.6,618.5 190.1,618.49 190.6,618.49 191.1,618.49 191.6,618.49 192.1,618.48 192.6,618.49 193.1,618.5 193.6,618.5 194.1,618.48 194.6,618.49 195.1,618.5 195.6,618.5 196.1,618.5 196.6,618.5 197.1,618.5 197.6,618.5 198.1,618.5 198.6,618.5 199.1,618.5 199.6,618.5 200.1,618.5 200.6,618.5 201.1,618.5 201.6,618.5" fill="none" stroke="#1a1a1a" stroke-width="1.05" stroke-linejoin="round"/>
<rect x="131.6" y="546.4" width="71.9" height="72.4" fill="none" stroke="#909090" stroke-width="0.9"/>
<path d="M130.2 547.4V618.8M131.6 620H202.5" stroke="#bbb" stroke-width="0.8" stroke-dasharray="0.8 2.6" fill="none"/>
<path d="M124.2 618.8h3.4M124.2 604.98h3.4M124.2 591.16h3.4M124.2 577.34h3.4M124.2 563.52h3.4M124.2 549.7h3.4M130 623h3.2M147.97 623h3.2M165.95 623h3.2M183.93 623h3.2M201.9 623h3.2" stroke="#b4b4b4" stroke-width="1.1" fill="none"/>
<polygon points="254.4,618.8 254.4,618.8 254.9,618.44 255.4,618.13 255.9,617.8 256.4,617.4 256.9,617.38 257.4,617.35 257.9,616.7 258.4,616.83 258.9,616.68 259.4,616.78 259.9,616.27 260.4,616.12 260.9,615.34 261.4,613.73 261.9,613.52 262.4,612.2 262.9,610.04 263.4,608.95 263.9,607.31 264.4,607.82 264.9,604.2 265.4,604.44 265.9,601.39 266.4,599.53 266.9,596.72 267.4,595.15 267.9,592.1 268.4,588.29 268.9,586.58 269.4,584.36 269.9,578.24 270.4,575.05 270.9,571.72 271.4,568.55 271.9,564.34 272.4,564.97 272.9,555.89 273.4,551.74 273.9,555.27 274.4,560.97 274.9,573.27 275.4,583.74 275.9,593.35 276.4,601.18 276.9,607.18 277.4,610.53 277.9,614.36 278.4,617.09 278.9,618.28 278.9,618.8" fill="#b8b8b8"/>
<polyline points="214.3,608.4 214.8,611.09 215.3,614.18 215.8,614.16 216.3,613.07 216.8,612.45 217.3,610.36 217.8,609.47 218.3,606.67 218.8,603.18 219.3,599.24 219.8,595.39 220.3,590.21 220.8,584.29 221.3,579.52 221.8,575.87 222.3,569.53 222.8,564.69 223.3,561.39 223.8,562.5 224.3,563.57 224.8,561.54 225.3,557.45 225.8,553.89 226.3,551.47 226.8,552.5 227.3,560.41 227.8,567.62 228.3,573.57 228.8,578.56 229.3,585.8 229.8,591.32 230.3,594.8 230.8,599.24 231.3,602.37 231.8,605.12 232.3,607.07 232.8,608.48 233.3,610.42 233.8,611.51 234.3,612.41 234.8,614.39 235.3,615.19 235.8,616.07 236.3,616.56 236.8,616.81 237.3,617 237.8,617.29 238.3,617.5 238.8,617.64 239.3,617.86 239.8,618.04 240.3,618.04 240.8,618.22 241.3,618.28 241.8,618.22 242.3,618.28 242.8,618.28 243.3,618.27 243.8,618.37 244.3,618.31 244.8,618.33 245.3,618.33 245.8,618.31 246.3,618.36 246.8,618.42 247.3,618.33 247.8,618.39 248.3,618.37 248.8,618.4 249.3,618.39 249.8,618.45 250.3,618.39 250.8,618.38 251.3,618.37 251.8,618.41 252.3,618.42 252.8,618.38 253.3,618.43 253.8,618.4 254.3,618.46 254.8,618.41 255.3,618.4 255.8,618.4 256.3,618.42 256.8,618.45 257.3,618.44 257.8,618.43 258.3,618.44 258.8,618.43 259.3,618.45 259.8,618.43 260.3,618.48 260.8,618.43 261.3,618.46 261.8,618.43 262.3,618.45 262.8,618.46 263.3,618.49 263.8,618.48 264.3,618.47 264.8,618.49 265.3,618.49 265.8,618.48 266.3,618.48 266.8,618.49 267.3,618.46 267.8,618.48 268.3,618.47 268.8,618.48 269.3,618.47 269.8,618.49 270.3,618.49 270.8,618.49 271.3,618.49 271.8,618.49 272.3,618.49 272.8,618.49 273.3,618.5 273.8,618.48 274.3,618.5 274.8,618.5 275.3,618.49 275.8,618.5 276.3,618.5 276.8,618.5 277.3,618.5 277.8,618.5 278.3,618.5 278.8,618.5 279.3,618.5 279.8,618.5 280.3,618.5 280.8,618.5 281.3,618.5 281.8,618.5 282.3,618.5 282.8,618.5 283.3,618.5 283.8,618.5 284.3,618.5 284.8,618.5" fill="none" stroke="#1a1a1a" stroke-width="1.05" stroke-linejoin="round"/>
<rect x="213.8" y="546.4" width="72" height="72.4" fill="none" stroke="#909090" stroke-width="0.9"/>
<path d="M212.4 547.4V618.8M213.8 620H284.8" stroke="#bbb" stroke-width="0.8" stroke-dasharray="0.8 2.6" fill="none"/>
<path d="M206.4 618.8h3.4M206.4 604.98h3.4M206.4 591.16h3.4M206.4 577.34h3.4M206.4 563.52h3.4M206.4 549.7h3.4M212.2 623h3.2M230.2 623h3.2M248.2 623h3.2M266.2 623h3.2M284.2 623h3.2" stroke="#b4b4b4" stroke-width="1.1" fill="none"/>
<polygon points="298.7,618.8 298.7,618.8 299.2,615.86 299.7,612.38 300.2,610 300.7,607.87 301.2,606.68 301.7,604.35 302.2,603.83 302.7,601.66 303.2,599.38 303.7,593.18 304.2,586.28 304.7,581.03 305.2,575.84 305.7,573.31 306.2,569.97 306.7,570.88 307.2,564.8 307.7,567.36 308.2,560.61 308.7,559.07 309.2,559.35 309.7,561.39 310.2,564.47 310.7,572.31 311.2,582.43 311.7,589.84 312.2,596.98 312.7,600.87 313.2,604.44 313.7,607.07 314.2,608.96 314.7,609.8 315.2,610.64 315.7,611.51 316.2,611.5 316.7,611.18 317.2,611.47 317.7,611.18 318.2,611.9 318.7,611.34 319.2,611.37 319.7,612.11 320.2,613.19 320.7,613.99 321.2,616.35 321.7,617.79 322.2,618.21 322.7,618.76 322.7,618.8" fill="#b8b8b8"/>
<polyline points="297.3,611.63 297.8,609.3 298.3,613.81 298.8,613.86 299.3,613.69 299.8,612.5 300.3,611.26 300.8,609.6 301.3,607.27 301.8,603.83 302.3,598.75 302.8,594.52 303.3,590.67 303.8,586.91 304.3,583.13 304.8,578.64 305.3,574.94 305.8,569.06 306.3,563.1 306.8,560.68 307.3,562.93 307.8,564.2 308.3,561.71 308.8,555.75 309.3,551.1 309.8,551.88 310.3,557.78 310.8,564.44 311.3,571.74 311.8,578.38 312.3,584.2 312.8,588.1 313.3,592.65 313.8,596.82 314.3,599.54 314.8,602.29 315.3,604.47 315.8,606.71 316.3,608.22 316.8,609.57 317.3,610.98 317.8,612.71 318.3,613.96 318.8,614.69 319.3,615.5 319.8,616.27 320.3,616.82 320.8,617.03 321.3,617.31 321.8,617.3 322.3,617.52 322.8,617.57 323.3,617.61 323.8,617.82 324.3,618 324.8,618.16 325.3,618.3 325.8,618.31 326.3,618.31 326.8,618.31 327.3,618.24 327.8,618.28 328.3,618.34 328.8,618.35 329.3,618.36 329.8,618.39 330.3,618.35 330.8,618.42 331.3,618.37 331.8,618.4 332.3,618.37 332.8,618.44 333.3,618.36 333.8,618.32 334.3,618.37 334.8,618.41 335.3,618.4 335.8,618.38 336.3,618.42 336.8,618.43 337.3,618.43 337.8,618.42 338.3,618.39 338.8,618.42 339.3,618.43 339.8,618.43 340.3,618.43 340.8,618.44 341.3,618.45 341.8,618.46 342.3,618.42 342.8,618.46 343.3,618.46 343.8,618.46 344.3,618.47 344.8,618.48 345.3,618.46 345.8,618.47 346.3,618.45 346.8,618.45 347.3,618.5 347.8,618.49 348.3,618.49 348.8,618.45 349.3,618.48 349.8,618.48 350.3,618.49 350.8,618.48 351.3,618.48 351.8,618.46 352.3,618.49 352.8,618.48 353.3,618.5 353.8,618.47 354.3,618.48 354.8,618.49 355.3,618.5 355.8,618.49 356.3,618.49 356.8,618.5 357.3,618.5 357.8,618.5 358.3,618.5 358.8,618.49 359.3,618.5 359.8,618.5 360.3,618.5 360.8,618.5 361.3,618.5 361.8,618.49 362.3,618.5 362.8,618.5 363.3,618.5 363.8,618.5 364.3,618.5 364.8,618.5 365.3,618.5 365.8,618.5 366.3,618.5 366.8,618.5 367.3,618.5 367.8,618.5" fill="none" stroke="#1a1a1a" stroke-width="1.05" stroke-linejoin="round"/>
<rect x="296.8" y="546.4" width="72.6" height="72.4" fill="none" stroke="#909090" stroke-width="0.9"/>
<path d="M295.4 547.4V618.8M296.8 620H368.4" stroke="#bbb" stroke-width="0.8" stroke-dasharray="0.8 2.6" fill="none"/>
<path d="M289.4 618.8h3.4M289.4 604.98h3.4M289.4 591.16h3.4M289.4 577.34h3.4M289.4 563.52h3.4M289.4 549.7h3.4M295.2 623h3.2M313.35 623h3.2M331.5 623h3.2M349.65 623h3.2M367.8 623h3.2" stroke="#b4b4b4" stroke-width="1.1" fill="none"/>
<polygon points="381.2,618.8 381.2,613.89 381.7,609.47 382.2,605.86 382.7,602.04 383.2,596.06 383.7,589.15 384.2,585.44 384.7,578.71 385.2,572.67 385.7,565.43 386.2,557.62 386.7,553.95 387.2,553.95 387.7,555.2 388.2,558.65 388.7,565.64 389.2,573.68 389.7,579.84 390.2,589.63 390.7,597.18 391.2,601.39 391.7,606.5 392.2,608.1 392.7,610.24 393.2,612.61 393.7,612.97 394.2,614.16 394.7,615.23 395.2,616.19 395.7,617.32 396.2,617.85 396.7,618.44 396.7,618.8" fill="#b8b8b8"/>
<polyline points="381.2,609.18 381.7,614.06 382.2,613.85 382.7,613.06 383.2,612.26 383.7,611.45 384.2,609.39 384.7,607.88 385.2,605.62 385.7,601.44 386.2,597.18 386.7,593.09 387.2,587.8 387.7,584.18 388.2,581.17 388.7,575.24 389.2,569.3 389.7,563.3 390.2,561.27 390.7,559.92 391.2,558.69 391.7,556.96 392.2,554.61 392.7,551.01 393.2,550.97 393.7,559.33 394.2,566.22 394.7,571.82 395.2,578.22 395.7,582.56 396.2,588.52 396.7,591.64 397.2,595.18 397.7,599.74 398.2,601.98 398.7,604.87 399.2,606.61 399.7,608.64 400.2,610.81 400.7,612.49 401.2,614.12 401.7,614.56 402.2,615.3 402.7,615.94 403.2,616.5 403.7,616.91 404.2,617.46 404.7,617.57 405.2,617.91 405.7,617.96 406.2,618.04 406.7,618.27 407.2,618.28 407.7,618.28 408.2,618.3 408.7,618.31 409.2,618.34 409.7,618.29 410.2,618.28 410.7,618.32 411.2,618.35 411.7,618.36 412.2,618.39 412.7,618.36 413.2,618.41 413.7,618.43 414.2,618.38 414.7,618.36 415.2,618.39 415.7,618.41 416.2,618.36 416.7,618.4 417.2,618.37 417.7,618.38 418.2,618.42 418.7,618.4 419.2,618.39 419.7,618.42 420.2,618.39 420.7,618.37 421.2,618.45 421.7,618.43 422.2,618.44 422.7,618.4 423.2,618.41 423.7,618.44 424.2,618.43 424.7,618.44 425.2,618.45 425.7,618.43 426.2,618.47 426.7,618.46 427.2,618.46 427.7,618.45 428.2,618.45 428.7,618.47 429.2,618.47 429.7,618.48 430.2,618.47 430.7,618.48 431.2,618.48 431.7,618.47 432.2,618.48 432.7,618.46 433.2,618.46 433.7,618.48 434.2,618.48 434.7,618.48 435.2,618.5 435.7,618.5 436.2,618.47 436.7,618.5 437.2,618.47 437.7,618.48 438.2,618.49 438.7,618.49 439.2,618.49 439.7,618.5 440.2,618.5 440.7,618.5 441.2,618.49 441.7,618.5 442.2,618.5 442.7,618.5 443.2,618.5 443.7,618.5 444.2,618.5 444.7,618.5 445.2,618.5 445.7,618.5 446.2,618.5 446.7,618.5 447.2,618.5 447.7,618.5 448.2,618.5 448.7,618.5 449.2,618.5 449.7,618.5 450.2,618.5 450.7,618.5" fill="none" stroke="#1a1a1a" stroke-width="1.05" stroke-linejoin="round"/>
<rect x="380.7" y="546.4" width="71.9" height="72.4" fill="none" stroke="#909090" stroke-width="0.9"/>
<path d="M379.3 547.4V618.8M380.7 620H451.6" stroke="#bbb" stroke-width="0.8" stroke-dasharray="0.8 2.6" fill="none"/>
<path d="M373.3 618.8h3.4M373.3 604.98h3.4M373.3 591.16h3.4M373.3 577.34h3.4M373.3 563.52h3.4M373.3 549.7h3.4M379.1 623h3.2M397.07 623h3.2M415.05 623h3.2M433.02 623h3.2M451 623h3.2" stroke="#b4b4b4" stroke-width="1.1" fill="none"/>
<polygon points="48.2,699 48.2,685.75 48.7,681.83 49.2,678.82 49.7,675.41 50.2,671.24 50.7,665.41 51.2,659.66 51.7,655.74 52.2,650.34 52.7,647.24 53.2,645.38 53.7,642.72 54.2,639.88 54.7,640.55 55.2,639.8 55.7,640.92 56.2,643 56.7,645.61 57.2,652.49 57.7,656.28 58.2,659.96 58.7,667.7 59.2,671.83 59.7,676.93 60.2,680.84 60.7,684.05 61.2,687.66 61.7,690.19 62.2,691.7 62.7,693.21 63.2,694.76 63.7,695.45 64.2,696.56 64.7,697.36 65.2,698.4 65.7,699 65.7,699" fill="#b8b8b8"/>
<polyline points="48,680.15 48.5,685.2 49,681.31 49.5,677.19 50,670.72 50.5,664.81 51,658.02 51.5,652.68 52,648.62 52.5,644.51 53,640.84 53.5,638.61 54,636.26 54.5,633.58 55,631.52 55.5,631.58 56,632.31 56.5,631.93 57,636.73 57.5,643 58,648.66 58.5,654.63 59,660.71 59.5,662.85 60,667.65 60.5,672.71 61,676.67 61.5,680.58 62,684.04 62.5,688.4 63,690.41 63.5,692.21 64,692.79 64.5,693.57 65,694.46 65.5,694.83 66,695.59 66.5,695.71 67,696 67.5,696.27 68,696.59 68.5,696.77 69,697.04 69.5,696.89 70,697.4 70.5,697.44 71,697.75 71.5,697.96 72,697.93 72.5,697.97 73,698.09 73.5,698.2 74,698.21 74.5,698.28 75,698.31 75.5,698.23 76,698.4 76.5,698.37 77,698.44 77.5,698.41 78,698.4 78.5,698.37 79,698.47 79.5,698.47 80,698.53 80.5,698.52 81,698.55 81.5,698.52 82,698.53 82.5,698.51 83,698.51 83.5,698.54 84,698.52 84.5,698.56 85,698.57 85.5,698.61 86,698.56 86.5,698.6 87,698.58 87.5,698.6 88,698.59 88.5,698.59 89,698.57 89.5,698.6 90,698.59 90.5,698.58 91,698.64 91.5,698.63 92,698.65 92.5,698.62 93,698.65 93.5,698.6 94,698.67 94.5,698.63 95,698.63 95.5,698.62 96,698.65 96.5,698.67 97,698.65 97.5,698.65 98,698.66 98.5,698.65 99,698.64 99.5,698.67 100,698.65 100.5,698.66 101,698.7 101.5,698.7 102,698.67 102.5,698.65 103,698.69 103.5,698.67 104,698.68 104.5,698.69 105,698.69 105.5,698.68 106,698.69 106.5,698.69 107,698.7 107.5,698.7 108,698.7 108.5,698.68 109,698.69 109.5,698.7 110,698.68 110.5,698.7 111,698.69 111.5,698.69 112,698.7 112.5,698.7 113,698.7 113.5,698.69 114,698.7 114.5,698.7 115,698.7 115.5,698.7 116,698.7 116.5,698.7 117,698.7 117.5,698.7 118,698.7 118.5,698.7 119,698.7" fill="none" stroke="#1a1a1a" stroke-width="1.05" stroke-linejoin="round"/>
<rect x="47.5" y="627.3" width="72" height="71.7" fill="none" stroke="#909090" stroke-width="0.9"/>
<path d="M46.1 628.3V699M47.5 700.2H118.5" stroke="#bbb" stroke-width="0.8" stroke-dasharray="0.8 2.6" fill="none"/>
<path d="M40.1 699h3.4M40.1 685.32h3.4M40.1 671.64h3.4M40.1 657.96h3.4M40.1 644.28h3.4M40.1 630.6h3.4M45.9 703.2h3.2M63.9 703.2h3.2M81.9 703.2h3.2M99.9 703.2h3.2M117.9 703.2h3.2" stroke="#b4b4b4" stroke-width="1.1" fill="none"/>
<polygon points="132.1,699 132.1,689.23 132.6,689.49 133.1,687.84 133.6,685.42 134.1,681.19 134.6,674.16 135.1,672.28 135.6,667.18 136.1,659.14 136.6,657.01 137.1,653.35 137.6,649.56 138.1,651.38 138.6,646.45 139.1,651.35 139.6,652.5 140.1,660.37 140.6,668.95 141.1,674.45 141.6,680.24 142.1,685.5 142.6,689.09 143.1,693.25 143.6,695.33 144.1,696.56 144.6,696.85 145.1,697.62 145.6,697.99 146.1,698.65 146.1,699" fill="#b8b8b8"/>
<polyline points="132.1,684.24 132.6,679.62 133.1,675.69 133.6,670.93 134.1,664.59 134.6,658.56 135.1,655.19 135.6,649.35 136.1,645.32 136.6,641.1 137.1,637.63 137.6,635.61 138.1,634.22 138.6,632.97 139.1,632.34 139.6,631.58 140.1,631.5 140.6,632.58 141.1,635.42 141.6,638.88 142.1,644.11 142.6,648.42 143.1,653.73 143.6,658.48 144.1,665.58 144.6,670.88 145.1,675.55 145.6,679.97 146.1,684.53 146.6,687.84 147.1,690.56 147.6,691.45 148.1,692.57 148.6,693.33 149.1,694.12 149.6,694.37 150.1,694.91 150.6,695.07 151.1,695.8 151.6,696.23 152.1,696.26 152.6,696.31 153.1,696.91 153.6,696.94 154.1,697.32 154.6,697.46 155.1,697.66 155.6,697.62 156.1,697.82 156.6,697.88 157.1,697.91 157.6,698.27 158.1,698.31 158.6,698.3 159.1,698.35 159.6,698.39 160.1,698.35 160.6,698.45 161.1,698.48 161.6,698.51 162.1,698.55 162.6,698.55 163.1,698.49 163.6,698.55 164.1,698.51 164.6,698.48 165.1,698.52 165.6,698.57 166.1,698.51 166.6,698.55 167.1,698.61 167.6,698.58 168.1,698.55 168.6,698.62 169.1,698.58 169.6,698.57 170.1,698.6 170.6,698.56 171.1,698.58 171.6,698.61 172.1,698.6 172.6,698.57 173.1,698.62 173.6,698.58 174.1,698.62 174.6,698.6 175.1,698.62 175.6,698.63 176.1,698.6 176.6,698.65 177.1,698.67 177.6,698.66 178.1,698.62 178.6,698.67 179.1,698.64 179.6,698.63 180.1,698.66 180.6,698.66 181.1,698.66 181.6,698.68 182.1,698.66 182.6,698.68 183.1,698.67 183.6,698.65 184.1,698.67 184.6,698.66 185.1,698.66 185.6,698.68 186.1,698.67 186.6,698.68 187.1,698.68 187.6,698.69 188.1,698.67 188.6,698.7 189.1,698.67 189.6,698.69 190.1,698.68 190.6,698.68 191.1,698.69 191.6,698.7 192.1,698.68 192.6,698.69 193.1,698.7 193.6,698.7 194.1,698.7 194.6,698.7 195.1,698.7 195.6,698.7 196.1,698.69 196.6,698.7 197.1,698.7 197.6,698.7 198.1,698.7 198.6,698.7 199.1,698.7 199.6,698.7 200.1,698.7 200.6,698.7 201.1,698.7 201.6,698.7" fill="none" stroke="#1a1a1a" stroke-width="1.05" stroke-linejoin="round"/>
<rect x="131.6" y="627.3" width="71.9" height="71.7" fill="none" stroke="#909090" stroke-width="0.9"/>
<path d="M130.2 628.3V699M131.6 700.2H202.5" stroke="#bbb" stroke-width="0.8" stroke-dasharray="0.8 2.6" fill="none"/>
<path d="M124.2 699h3.4M124.2 685.32h3.4M124.2 671.64h3.4M124.2 657.96h3.4M124.2 644.28h3.4M124.2 630.6h3.4M130 703.2h3.2M147.97 703.2h3.2M165.95 703.2h3.2M183.93 703.2h3.2M201.9 703.2h3.2" stroke="#b4b4b4" stroke-width="1.1" fill="none"/>
<polygon points="215.7,699 215.7,697.26 216.2,696.52 216.7,695.78 217.2,694.21 217.7,694.07 218.2,693.56 218.7,692.5 219.2,692.54 219.7,691.61 220.2,690.93 220.7,691.55 221.2,692.81 221.7,692.22 222.2,692.51 222.7,693.07 223.2,693.61 223.7,693.92 224.2,694.4 224.7,694.48 225.2,695.86 225.7,695.73 226.2,695.64 226.7,694.96 227.2,694.97 227.7,694.35 228.2,694.13 228.7,693.72 229.2,693.72 229.7,693.81 230.2,694.32 230.7,693.98 231.2,694.43 231.7,695.25 232.2,695.53 232.7,694.61 233.2,695.47 233.7,695.14 234.2,695.29 234.7,695.79 235.2,695.59 235.7,695.52 236.2,695.57 236.7,695.36 237.2,694.15 237.7,695.53 238.2,695.28 238.7,694 239.2,694.56 239.7,693.88 240.2,694.79 240.7,693.14 241.2,692.86 241.7,692.17 242.2,692.13 242.7,691.38 243.2,690.16 243.7,691.46 244.2,690.57 244.7,690.4 245.2,689.42 245.7,689.33 246.2,688.96 246.7,689.04 247.2,687.97 247.7,687.71 248.2,686.66 248.7,687.91 249.2,685.86 249.7,685.21 250.2,684.52 250.7,683.25 251.2,682.87 251.7,682.56 252.2,681.01 252.7,681 253.2,678.59 253.7,675.63 254.2,676.02 254.7,673.65 255.2,669.86 255.7,669.45 256.2,665.55 256.7,664.73 257.2,663.67 257.7,659.74 258.2,659.11 258.7,655.12 259.2,652.16 259.7,647.49 260.2,647.47 260.7,646.38 261.2,644.26 261.7,639.29 262.2,639.08 262.7,637.71 263.2,635.48 263.7,636.6 264.2,638.3 264.7,638.84 265.2,637.17 265.7,636.27 266.2,631.63 266.7,632.56 267.2,639.88 267.7,640.99 268.2,645.88 268.7,652.54 269.2,657.59 269.7,662.19 270.2,666.07 270.7,670.4 271.2,677.01 271.7,682.29 272.2,686.96 272.7,690.86 273.2,694.23 273.7,697.3 273.7,699" fill="#b8b8b8"/>
<polyline points="215.6,684.8 216.1,677.43 216.6,673.93 217.1,669.52 217.6,663.96 218.1,658.42 218.6,653.07 219.1,649.62 219.6,644.69 220.1,641.02 220.6,637.42 221.1,634.34 221.6,633.48 222.1,631.92 222.6,631.25 223.1,631.45 223.6,631.39 224.1,633.28 224.6,635.49 225.1,638.79 225.6,643.83 226.1,651.33 226.6,656.89 227.1,662.13 227.6,667.83 228.1,673.64 228.6,677.39 229.1,682.51 229.6,685.6 230.1,688.32 230.6,690.25 231.1,691.49 231.6,693.11 232.1,693.79 232.6,694.27 233.1,694.7 233.6,695 234.1,695.37 234.6,695.7 235.1,696.15 235.6,696.36 236.1,696.53 236.6,696.64 237.1,696.75 237.6,697.02 238.1,697.04 238.6,697.29 239.1,697.18 239.6,697.26 240.1,697.54 240.6,697.63 241.1,697.52 241.6,697.57 242.1,697.66 242.6,697.65 243.1,697.76 243.6,697.77 244.1,697.9 244.6,697.84 245.1,697.97 245.6,697.97 246.1,697.91 246.6,698.11 247.1,698.06 247.6,698.15 248.1,698.11 248.6,698.15 249.1,698.26 249.6,698.19 250.1,698.3 250.6,698.28 251.1,698.38 251.6,698.34 252.1,698.42 252.6,698.44 253.1,698.44 253.6,698.41 254.1,698.5 254.6,698.41 255.1,698.5 255.6,698.45 256.1,698.54 256.6,698.52 257.1,698.48 257.6,698.49 258.1,698.53 258.6,698.56 259.1,698.58 259.6,698.58 260.1,698.59 260.6,698.47 261.1,698.48 261.6,698.56 262.1,698.63 262.6,698.56 263.1,698.57 263.6,698.6 264.1,698.57 264.6,698.61 265.1,698.58 265.6,698.64 266.1,698.61 266.6,698.61 267.1,698.63 267.6,698.61 268.1,698.63 268.6,698.65 269.1,698.63 269.6,698.64 270.1,698.63 270.6,698.63 271.1,698.66 271.6,698.66 272.1,698.67 272.6,698.67 273.1,698.68 273.6,698.67 274.1,698.67 274.6,698.69 275.1,698.69 275.6,698.69 276.1,698.68 276.6,698.7 277.1,698.66 277.6,698.7 278.1,698.68 278.6,698.69 279.1,698.68 279.6,698.69 280.1,698.7 280.6,698.69 281.1,698.7 281.6,698.69 282.1,698.7 282.6,698.7 283.1,698.7 283.6,698.7 284.1,698.7 284.6,698.7" fill="none" stroke="#1a1a1a" stroke-width="1.05" stroke-linejoin="round"/>
<rect x="215.1" y="627.3" width="71.9" height="71.7" fill="none" stroke="#909090" stroke-width="0.9"/>
<path d="M213.7 628.3V699M215.1 700.2H286" stroke="#bbb" stroke-width="0.8" stroke-dasharray="0.8 2.6" fill="none"/>
<path d="M207.7 699h3.4M207.7 685.32h3.4M207.7 671.64h3.4M207.7 657.96h3.4M207.7 644.28h3.4M207.7 630.6h3.4M213.5 703.2h3.2M231.47 703.2h3.2M249.45 703.2h3.2M267.42 703.2h3.2M285.4 703.2h3.2" stroke="#b4b4b4" stroke-width="1.1" fill="none"/>
<polygon points="298.9,699 298.9,686.51 299.4,683.48 299.9,677.96 300.4,673.71 300.9,668.71 301.4,663.45 301.9,659.33 302.4,651.83 302.9,647.15 303.4,644.88 303.9,640.12 304.4,642.25 304.9,644.79 305.4,649.59 305.9,656.46 306.4,661.3 306.9,667.67 307.4,670.76 307.9,675.8 308.4,681.06 308.9,685.52 309.4,687.21 309.9,689.69 310.4,691.34 310.9,691.53 311.4,692.46 311.9,692.81 312.4,692.99 312.9,693.62 313.4,693.84 313.9,694.74 314.4,694.57 314.9,694.87 315.4,695.94 315.9,695.81 316.4,695.72 316.9,695.68 317.4,695.78 317.9,695.92 318.4,696.15 318.9,695.76 319.4,696.02 319.9,695.25 320.4,694.91 320.9,694.25 321.4,694.92 321.9,694.83 322.4,695.01 322.9,695 323.4,694.83 323.9,694.15 324.4,694.45 324.9,694.32 325.4,694.79 325.9,695.6 326.4,695.52 326.9,695.33 327.4,695.89 327.9,695.73 328.4,696.22 328.9,696.22 329.4,696.21 329.9,696.67 330.4,696.62 330.9,696.78 331.4,697.13 331.9,697.63 332.4,697.76 332.9,697.66 333.4,697.47 333.9,697.97 334.4,697.91 334.9,698.53 335.4,698.73 335.9,699 335.9,699" fill="#b8b8b8"/>
<polyline points="298.9,682.23 299.4,676.87 299.9,672.66 300.4,667.06 300.9,663.64 301.4,657.43 301.9,652.92 302.4,648.61 302.9,644.3 303.4,640.61 303.9,638.15 304.4,635.33 304.9,633.42 305.4,633.9 305.9,632.7 306.4,632.54 306.9,630.83 307.4,632.34 307.9,635.09 308.4,637.32 308.9,641.33 309.4,647.25 309.9,653.52 310.4,658.49 310.9,663.43 311.4,668.79 311.9,673.6 312.4,678.04 312.9,681.52 313.4,684.95 313.9,687.83 314.4,689.9 314.9,690.89 315.4,692.09 315.9,693.15 316.4,694.01 316.9,694.51 317.4,694.73 317.9,695.13 318.4,695.71 318.9,695.8 319.4,695.83 319.9,696.11 320.4,696.31 320.9,696.59 321.4,696.66 321.9,697.01 322.4,696.98 322.9,697.27 323.4,697.23 323.9,697.21 324.4,697.07 324.9,697.26 325.4,697.4 325.9,697.46 326.4,697.58 326.9,697.45 327.4,697.58 327.9,697.73 328.4,697.65 328.9,697.74 329.4,697.74 329.9,697.72 330.4,697.87 330.9,697.81 331.4,697.96 331.9,698.1 332.4,698.02 332.9,697.99 333.4,697.91 333.9,698.01 334.4,697.98 334.9,698.11 335.4,698.14 335.9,698.12 336.4,698.13 336.9,698.25 337.4,698.28 337.9,698.2 338.4,698.25 338.9,698.18 339.4,698.33 339.9,698.33 340.4,698.36 340.9,698.38 341.4,698.38 341.9,698.43 342.4,698.41 342.9,698.37 343.4,698.36 343.9,698.47 344.4,698.48 344.9,698.49 345.4,698.49 345.9,698.54 346.4,698.5 346.9,698.46 347.4,698.52 347.9,698.53 348.4,698.57 348.9,698.57 349.4,698.56 349.9,698.57 350.4,698.63 350.9,698.59 351.4,698.61 351.9,698.57 352.4,698.66 352.9,698.58 353.4,698.6 353.9,698.61 354.4,698.62 354.9,698.63 355.4,698.64 355.9,698.65 356.4,698.66 356.9,698.65 357.4,698.64 357.9,698.65 358.4,698.65 358.9,698.65 359.4,698.66 359.9,698.68 360.4,698.66 360.9,698.69 361.4,698.67 361.9,698.67 362.4,698.67 362.9,698.68 363.4,698.69 363.9,698.7 364.4,698.7 364.9,698.69 365.4,698.69 365.9,698.7 366.4,698.7 366.9,698.7 367.4,698.7 367.9,698.7" fill="none" stroke="#1a1a1a" stroke-width="1.05" stroke-linejoin="round"/>
<rect x="298.4" y="627.3" width="71.8" height="71.7" fill="none" stroke="#909090" stroke-width="0.9"/>
<path d="M297 628.3V699M298.4 700.2H369.2" stroke="#bbb" stroke-width="0.8" stroke-dasharray="0.8 2.6" fill="none"/>
<path d="M291 699h3.4M291 685.32h3.4M291 671.64h3.4M291 657.96h3.4M291 644.28h3.4M291 630.6h3.4M296.8 703.2h3.2M314.75 703.2h3.2M332.7 703.2h3.2M350.65 703.2h3.2M368.6 703.2h3.2" stroke="#b4b4b4" stroke-width="1.1" fill="none"/>
<polygon points="381.1,699 381.1,634.25 381.6,633.11 382.1,634.76 382.6,644.63 383.1,655.85 383.6,668.94 384.1,680.7 384.6,687.54 385.1,692.81 385.6,694.98 386.1,696.67 386.6,697.35 387.1,698.8 387.1,699" fill="#b8b8b8"/>
<polyline points="381.1,628.33 381.6,629.75 382.1,631.48 382.6,634.32 383.1,638 383.6,642.57 384.1,650.25 384.6,656.58 385.1,664.42 385.6,671.36 386.1,678.06 386.6,683.14 387.1,686.9 387.6,691.29 388.1,694.1 388.6,695.38 389.1,695.96 389.6,696.69 390.1,696.97 390.6,697.35 391.1,697.44 391.6,697.77 392.1,697.71 392.6,697.78 393.1,697.82 393.6,697.86 394.1,698.12 394.6,698.02 395.1,698.08 395.6,698.19 396.1,698.25 396.6,698.28 397.1,698.43 397.6,698.47 398.1,698.5 398.6,698.44 399.1,698.56 399.6,698.52 400.1,698.53 400.6,698.55 401.1,698.49 401.6,698.52 402.1,698.59 402.6,698.47 403.1,698.53 403.6,698.54 404.1,698.55 404.6,698.6 405.1,698.54 405.6,698.51 406.1,698.5 406.6,698.57 407.1,698.61 407.6,698.61 408.1,698.56 408.6,698.57 409.1,698.59 409.6,698.55 410.1,698.62 410.6,698.6 411.1,698.6 411.6,698.6 412.1,698.57 412.6,698.59 413.1,698.61 413.6,698.61 414.1,698.61 414.6,698.65 415.1,698.66 415.6,698.62 416.1,698.62 416.6,698.67 417.1,698.62 417.6,698.66 418.1,698.67 418.6,698.61 419.1,698.62 419.6,698.6 420.1,698.63 420.6,698.65 421.1,698.6 421.6,698.66 422.1,698.66 422.6,698.67 423.1,698.65 423.6,698.65 424.1,698.66 424.6,698.67 425.1,698.65 425.6,698.67 426.1,698.67 426.6,698.66 427.1,698.68 427.6,698.66 428.1,698.7 428.6,698.67 429.1,698.68 429.6,698.67 430.1,698.69 430.6,698.69 431.1,698.68 431.6,698.67 432.1,698.68 432.6,698.69 433.1,698.7 433.6,698.67 434.1,698.69 434.6,698.69 435.1,698.68 435.6,698.68 436.1,698.68 436.6,698.69 437.1,698.69 437.6,698.69 438.1,698.7 438.6,698.69 439.1,698.7 439.6,698.69 440.1,698.7 440.6,698.69 441.1,698.7 441.6,698.69 442.1,698.7 442.6,698.7 443.1,698.7 443.6,698.7 444.1,698.7 444.6,698.69 445.1,698.7 445.6,698.7 446.1,698.7 446.6,698.7 447.1,698.7 447.6,698.7 448.1,698.7 448.6,698.7 449.1,698.7 449.6,698.7 450.1,698.7 450.6,698.7" fill="none" stroke="#1a1a1a" stroke-width="1.05" stroke-linejoin="round"/>
<rect x="380.6" y="627.3" width="72" height="71.7" fill="none" stroke="#909090" stroke-width="0.9"/>
<path d="M379.2 628.3V699M380.6 700.2H451.6" stroke="#bbb" stroke-width="0.8" stroke-dasharray="0.8 2.6" fill="none"/>
<path d="M373.2 699h3.4M373.2 685.32h3.4M373.2 671.64h3.4M373.2 657.96h3.4M373.2 644.28h3.4M373.2 630.6h3.4M379 703.2h3.2M397 703.2h3.2M415 703.2h3.2M433 703.2h3.2M451 703.2h3.2" stroke="#b4b4b4" stroke-width="1.1" fill="none"/>
<text transform="translate(55.91 721.62) scale(0.972 1)" font-size="14.11" fill="#000">CXCR4</text>
<text transform="translate(140.42 721.12) scale(0.976 1)" font-size="13.96" fill="#000">CXCR3</text>
<text transform="translate(228.5 720.83) scale(0.936 1)" font-size="14.03" fill="#000">LFA-1</text>
<text transform="translate(309.41 721.12) scale(0.994 1)" font-size="13.96" fill="#000">CD62L</text>
<text transform="translate(400.62 721.12) scale(0.976 1)" font-size="13.96" fill="#000">CCR7</text>
<text transform="translate(454.21 583.33) scale(1.005 1)" font-size="13.73" fill="#000">hESC-NK</text>
<text transform="translate(470.63 599.03) scale(1.094 1)" font-size="12.77" fill="#000">cells</text>
<text transform="translate(455.83 663.33) scale(1.072 1)" font-size="13.10" fill="#000">UCB-NK</text>
<text transform="translate(467.63 679.03) scale(1.028 1)" font-size="13.59" fill="#000">cells</text>
</g>
</svg>
</body></html>
